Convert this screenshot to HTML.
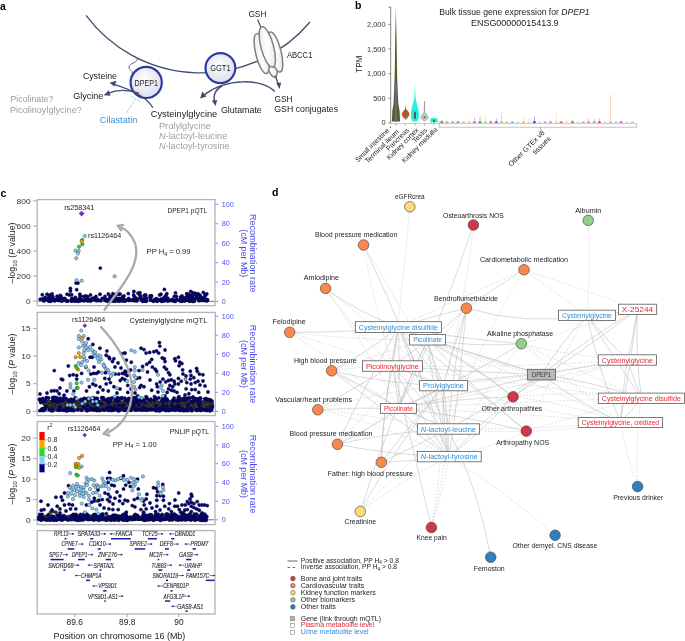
<!DOCTYPE html>
<html><head><meta charset="utf-8"><style>
html,body{margin:0;padding:0;background:#fff;}
svg{display:block;font-family:"Liberation Sans",sans-serif;}
#w{will-change:transform;background:transparent;width:685px;height:641px;}
</style></head><body>
<div id="w"><svg width="685" height="641" viewBox="0 0 685 641">
<defs>
<radialGradient id="gcirc" cx="0.45" cy="0.4" r="0.6"><stop offset="0" stop-color="#ffffff"/><stop offset="1" stop-color="#dcdeec"/></radialGradient>
<linearGradient id="gell" x1="0" y1="0" x2="1" y2="1"><stop offset="0" stop-color="#e4e6ef"/><stop offset="0.5" stop-color="#ffffff"/><stop offset="1" stop-color="#dfe1ea"/></linearGradient>
<linearGradient id="gcyan" x1="0" y1="0" x2="0" y2="1"><stop offset="0" stop-color="#d8fffb"/><stop offset="0.3" stop-color="#5ff8ea"/><stop offset="0.55" stop-color="#25f2df"/><stop offset="1" stop-color="#22f0dc"/></linearGradient>
</defs>
<rect width="685" height="641" fill="#fff"/>
<text x="0" y="9.6" font-size="10.5" font-weight="bold" fill="#000">a</text>
<path d="M86,15.4 A143,143 0 0 0 310,22" fill="none" stroke="#3d4f6e" stroke-width="1.3"/>
<path d="M137.3,58.6 C137.6,63.5 129.5,62.5 129,67 C128.6,70.5 132.8,70 132.3,73.5" fill="none" stroke="#333" stroke-width="0.7"/>
<circle cx="146.2" cy="82.4" r="15.6" fill="url(#gcirc)" stroke="#2a3b9c" stroke-width="2.15"/>
<text x="146.2" y="85.9" font-size="9.2" fill="#222" text-anchor="middle" textLength="23.3" lengthAdjust="spacingAndGlyphs">DPEP1</text>
<circle cx="220.4" cy="68.1" r="14.9" fill="url(#gcirc)" stroke="#2a3b9c" stroke-width="2.15"/>
<text x="220.4" y="71.2" font-size="9.2" fill="#222" text-anchor="middle" textLength="20.5" lengthAdjust="spacingAndGlyphs">GGT1</text>
<path d="M257.6,19.6 L261.2,28" stroke="#3d4f6e" stroke-width="1.2"/>
<ellipse cx="270.0" cy="57.5" rx="5.6" ry="20.3" transform="rotate(-14 270.0 57.5)" fill="url(#gell)" stroke="#7f7f7f" stroke-width="1.5"/>
<ellipse cx="275.3" cy="52.0" rx="5.8" ry="20.6" transform="rotate(-14 275.3 52.0)" fill="url(#gell)" stroke="#7f7f7f" stroke-width="1.5"/>
<ellipse cx="261.6" cy="53.6" rx="5.8" ry="20.6" transform="rotate(-14 261.6 53.6)" fill="url(#gell)" stroke="#7f7f7f" stroke-width="1.5"/>
<ellipse cx="267.3" cy="47.0" rx="6.3" ry="20.9" transform="rotate(-15 267.3 47.0)" fill="url(#gell)" stroke="#7f7f7f" stroke-width="1.5"/>
<text x="286.9" y="57.9" font-size="9.0" fill="#222" textLength="25.5" lengthAdjust="spacingAndGlyphs">ABCC1</text>
<text x="248.4" y="17.1" font-size="9.0" fill="#222" textLength="18.0" lengthAdjust="spacingAndGlyphs">GSH</text>
<path d="M275.2,75.5 L278.6,85" fill="none" stroke="#3d4f6e" stroke-width="1.35"/>
<path d="M279.6,89 L276.2,83.2 L281.2,82.4 Z" fill="#3d4f6e"/>
<path d="M274.6,91.5 C263,78.5 226,77.5 204,95" fill="none" stroke="#3d4f6e" stroke-width="1.35"/>
<path d="M200.2,98.6 L202.2,91.6 L206.6,96.4 Z" fill="#3d4f6e"/>
<path d="M222.5,85.6 C215.5,89.5 212.8,95 214.6,101.5" fill="none" stroke="#3d4f6e" stroke-width="1.35"/>
<path d="M215.6,106 L211.8,100.6 L217.2,100 Z" fill="#3d4f6e"/>
<path d="M152.8,107.6 C147,98.5 137,91.5 114,84.3" fill="none" stroke="#3d4f6e" stroke-width="1.35"/>
<path d="M109.4,82.8 L116.4,80.8 L114.6,86.6 Z" fill="#3d4f6e"/>
<path d="M139,93.2 C128,89.6 116,89.8 108,93.3" fill="none" stroke="#3d4f6e" stroke-width="1.35"/>
<path d="M103.6,95.2 L108.8,90.2 L110.6,95.8 Z" fill="#3d4f6e"/>
<path d="M126.2,113.6 L135.6,98.6" stroke="#5aaee0" stroke-width="0.8" stroke-dasharray="1.2,1"/>
<path d="M131.4,96.2 L140.6,102.2" stroke="#5aaee0" stroke-width="0.8" stroke-dasharray="1.2,1"/>
<text x="82.9" y="79.3" font-size="9.3" fill="#1a1a1a" textLength="34.1" lengthAdjust="spacingAndGlyphs">Cysteine</text>
<text x="73.2" y="98.5" font-size="9.3" fill="#1a1a1a" textLength="30.2" lengthAdjust="spacingAndGlyphs">Glycine</text>
<text x="10.5" y="102.2" font-size="9.3" fill="#9c9c9c" textLength="42.9" lengthAdjust="spacingAndGlyphs">Picolinate?</text>
<text x="10.0" y="112.6" font-size="9.3" fill="#9c9c9c" textLength="71.8" lengthAdjust="spacingAndGlyphs">Picolinoylglycine?</text>
<text x="99.8" y="122.6" font-size="9.3" fill="#3f8fd2" textLength="37.6" lengthAdjust="spacingAndGlyphs">Cilastatin</text>
<text x="150.7" y="116.5" font-size="9.3" fill="#1a1a1a" textLength="66.6" lengthAdjust="spacingAndGlyphs">Cysteinylglycine</text>
<text x="220.9" y="113.3" font-size="9.3" fill="#1a1a1a" textLength="40.9" lengthAdjust="spacingAndGlyphs">Glutamate</text>
<text x="274.6" y="101.6" font-size="9.0" fill="#1a1a1a" textLength="18.0" lengthAdjust="spacingAndGlyphs">GSH</text>
<text x="274.3" y="111.9" font-size="9.0" fill="#1a1a1a" textLength="63.8" lengthAdjust="spacingAndGlyphs">GSH conjugates</text>
<text x="158.9" y="128.9" font-size="9.3" fill="#a0a0a0" textLength="52.1" lengthAdjust="spacingAndGlyphs">Prolylglycine</text>
<text x="158.9" y="139.4" font-size="9.3" fill="#a0a0a0" textLength="68.4" lengthAdjust="spacingAndGlyphs"><tspan font-style="italic">N</tspan>-lactoyl-leucine</text>
<text x="158.9" y="149.2" font-size="9.3" fill="#a0a0a0" textLength="70.8" lengthAdjust="spacingAndGlyphs"><tspan font-style="italic">N</tspan>-lactoyl-tyrosine</text>
<text x="355" y="9.2" font-size="10.5" font-weight="bold" fill="#000">b</text>
<text x="514.4" y="14.9" font-size="8.6" fill="#222" text-anchor="middle" textLength="150.4" lengthAdjust="spacingAndGlyphs">Bulk tissue gene expression for <tspan font-style="italic">DPEP1</tspan></text>
<text x="514.8" y="25.6" font-size="8.6" fill="#222" text-anchor="middle" textLength="87.6" lengthAdjust="spacingAndGlyphs">ENSG00000015413.9</text>
<path d="M390.7,7 L390.7,123.6" stroke="#555" stroke-width="0.7"/>
<path d="M388.4,122.8 L390.7,122.8" stroke="#555" stroke-width="0.7"/>
<text x="385.6" y="125.4" font-size="7.4" fill="#333" text-anchor="end">0</text>
<path d="M388.4,98.2 L390.7,98.2" stroke="#555" stroke-width="0.7"/>
<text x="385.6" y="100.8" font-size="7.4" fill="#333" text-anchor="end">500</text>
<path d="M388.4,73.6 L390.7,73.6" stroke="#555" stroke-width="0.7"/>
<text x="385.6" y="76.2" font-size="7.4" fill="#333" text-anchor="end">1,000</text>
<path d="M388.4,49.0 L390.7,49.0" stroke="#555" stroke-width="0.7"/>
<text x="385.6" y="51.6" font-size="7.4" fill="#333" text-anchor="end">1,500</text>
<path d="M388.4,24.4 L390.7,24.4" stroke="#555" stroke-width="0.7"/>
<text x="385.6" y="27.0" font-size="7.4" fill="#333" text-anchor="end">2,000</text>
<path d="M388.4,7.2 L390.7,7.2" stroke="#555" stroke-width="0.7"/>
<text transform="translate(362.2,64.2) rotate(-90)" font-size="8.2" fill="#222" text-anchor="middle">TPM</text>
<path d="M390.7,123.6 L637,123.6" stroke="#c8c8c8" stroke-width="1"/>
<path d="M439.2,121.2 L439.2,127.2 L636.4,127.2 L636.4,123.6" fill="none" stroke="#c4c4c4" stroke-width="1.1"/>
<path d="M395.9,123.6 L395.9,125.6" stroke="#777" stroke-width="0.6"/>
<path d="M405.4,123.6 L405.4,125.6" stroke="#777" stroke-width="0.6"/>
<path d="M414.9,123.6 L414.9,125.6" stroke="#777" stroke-width="0.6"/>
<path d="M424.5,123.6 L424.5,125.6" stroke="#777" stroke-width="0.6"/>
<path d="M434.0,123.6 L434.0,125.6" stroke="#777" stroke-width="0.6"/>
<path d="M540.4,127.2 L540.4,129.6" stroke="#777" stroke-width="0.6"/>
<path d="M395.9,7 L396.6,40 L397.0,70 L397.4,85 L398.3,104 L399.6,111 L400.1,121.6 L391.9,121.6 L392.3,111 L393.5,104 L394.4,85 L394.8,70 L395.2,40 Z" fill="#5b5a1f"/>
<rect x="394.7" y="82.4" width="2.5" height="39.1" fill="#5f6c7c"/>
<path d="M405.6,104.6 L406.1,109 C408,111 409.6,113 409.5,114.4 C409.2,116.3 406.5,118.6 405.6,119.8 C404.7,118.6 402,116.3 401.7,114.4 C401.6,113 403.2,111 405.1,109 Z" fill="#b45b1f"/>
<rect x="404.3" y="112.9" width="2.6" height="2.6" fill="#5d6b7a"/>
<path d="M414.9,78.7 L415.5,96 C416,103 418.2,107 418.8,112 C419.4,117 418.8,121.6 414.9,121.8 C411,121.6 410.4,117 411,112 C411.6,107 413.8,103 414.3,96 Z" fill="url(#gcyan)"/>
<rect x="414.0" y="111.7" width="1.9" height="7.1" fill="#555"/>
<path d="M424.5,101 L424.8,112 C426,114 428.2,116 428.2,117.4 C428.2,118.8 425.6,120.4 424.5,120.9 C423.4,120.4 420.8,118.8 420.8,117.4 C420.8,116 423,114 424.2,112 Z" fill="#c8c8c8" stroke="#8a8a8a" stroke-width="0.6"/>
<rect x="423.6" y="116.4" width="1.9" height="1.8" fill="#555"/>
<path d="M430.4,122.4 C429.8,120 430.6,118 432,118 L436,118 C437.4,118 438.2,120 437.6,122.4 Z" fill="#2ff3c6"/>
<rect x="433.2" y="119.6" width="1.7" height="2.6" fill="#555"/>
<path d="M441.8,120.0 L441.8,122.6" stroke="#556b2f" stroke-width="0.55" opacity="0.75"/>
<ellipse cx="441.8" cy="122.2" rx="1.7" ry="0.9" fill="#556b2f" opacity="0.8"/>
<ellipse cx="446.9" cy="122.2" rx="1.7" ry="0.9" fill="#c08a8a" opacity="0.8"/>
<ellipse cx="452.7" cy="122.2" rx="1.7" ry="0.9" fill="#b07ac0" opacity="0.8"/>
<path d="M458.0,120.8 L458.0,122.6" stroke="#3cb33c" stroke-width="0.55" opacity="0.75"/>
<ellipse cx="458.0" cy="122.2" rx="1.7" ry="0.9" fill="#3cb33c" opacity="0.8"/>
<ellipse cx="463.6" cy="122.2" rx="1.7" ry="0.9" fill="#f4a0b0" opacity="0.8"/>
<path d="M469.1,119.3 L469.1,122.6" stroke="#f0d060" stroke-width="0.55" opacity="0.75"/>
<ellipse cx="469.1" cy="122.2" rx="1.7" ry="0.9" fill="#f0d060" opacity="0.8"/>
<path d="M474.4,117.0 L474.4,122.6" stroke="#9b59c9" stroke-width="0.55" opacity="0.75"/>
<ellipse cx="474.4" cy="122.2" rx="1.7" ry="0.9" fill="#9b59c9" opacity="0.8"/>
<path d="M480.0,116.7 L480.0,122.6" stroke="#2e7d32" stroke-width="0.55" opacity="0.75"/>
<ellipse cx="480.0" cy="122.2" rx="1.7" ry="0.9" fill="#2e7d32" opacity="0.8"/>
<path d="M485.3,117.0 L485.3,122.6" stroke="#8be04a" stroke-width="0.55" opacity="0.75"/>
<ellipse cx="485.3" cy="122.2" rx="1.7" ry="0.9" fill="#8be04a" opacity="0.8"/>
<path d="M490.7,120.0 L490.7,122.6" stroke="#f0508a" stroke-width="0.55" opacity="0.75"/>
<ellipse cx="490.7" cy="122.2" rx="1.7" ry="0.9" fill="#f0508a" opacity="0.8"/>
<path d="M496.3,118.5 L496.3,122.6" stroke="#3a3ae0" stroke-width="0.55" opacity="0.75"/>
<ellipse cx="496.3" cy="122.2" rx="1.7" ry="0.9" fill="#3a3ae0" opacity="0.8"/>
<path d="M501.6,112.0 L501.6,122.6" stroke="#d9a066" stroke-width="0.55" opacity="0.75"/>
<ellipse cx="501.6" cy="122.2" rx="1.7" ry="0.9" fill="#d9a066" opacity="0.8"/>
<ellipse cx="507.0" cy="122.2" rx="1.7" ry="0.9" fill="#90d890" opacity="0.8"/>
<ellipse cx="512.4" cy="122.2" rx="1.7" ry="0.9" fill="#40c0c0" opacity="0.8"/>
<path d="M518.0,120.8 L518.0,122.6" stroke="#a0e8f0" stroke-width="0.55" opacity="0.75"/>
<ellipse cx="518.0" cy="122.2" rx="1.7" ry="0.9" fill="#a0e8f0" opacity="0.8"/>
<path d="M523.3,117.8 L523.3,122.6" stroke="#e8c020" stroke-width="0.55" opacity="0.75"/>
<ellipse cx="523.3" cy="122.2" rx="1.7" ry="0.9" fill="#e8c020" opacity="0.8"/>
<path d="M528.9,117.8 L528.9,122.6" stroke="#b0f0a0" stroke-width="0.55" opacity="0.75"/>
<ellipse cx="528.9" cy="122.2" rx="1.7" ry="0.9" fill="#b0f0a0" opacity="0.8"/>
<path d="M534.4,116.7 L534.4,122.6" stroke="#1010e0" stroke-width="0.55" opacity="0.75"/>
<ellipse cx="534.4" cy="122.2" rx="1.7" ry="0.9" fill="#1010e0" opacity="0.8"/>
<ellipse cx="545.1" cy="122.2" rx="1.7" ry="0.9" fill="#c080f0" opacity="0.8"/>
<path d="M550.5,120.9 L550.5,122.6" stroke="#f08030" stroke-width="0.55" opacity="0.75"/>
<ellipse cx="550.5" cy="122.2" rx="1.7" ry="0.9" fill="#f08030" opacity="0.8"/>
<path d="M556.4,111.8 L556.4,122.6" stroke="#f8c0a8" stroke-width="0.55" opacity="0.75"/>
<ellipse cx="556.4" cy="122.2" rx="1.7" ry="0.9" fill="#f8c0a8" opacity="0.8"/>
<ellipse cx="561.2" cy="122.2" rx="1.7" ry="0.9" fill="#e04040" opacity="0.8"/>
<path d="M566.7,120.1 L566.7,122.6" stroke="#f0e0a0" stroke-width="0.55" opacity="0.75"/>
<ellipse cx="566.7" cy="122.2" rx="1.7" ry="0.9" fill="#f0e0a0" opacity="0.8"/>
<path d="M572.4,119.7 L572.4,122.6" stroke="#8b5a2b" stroke-width="0.55" opacity="0.75"/>
<ellipse cx="572.4" cy="122.2" rx="1.7" ry="0.9" fill="#8b5a2b" opacity="0.8"/>
<ellipse cx="578.0" cy="122.2" rx="1.7" ry="0.9" fill="#c8e0a8" opacity="0.8"/>
<ellipse cx="583.1" cy="122.2" rx="1.7" ry="0.9" fill="#c090e0" opacity="0.8"/>
<path d="M588.5,118.2 L588.5,122.6" stroke="#f07070" stroke-width="0.55" opacity="0.75"/>
<ellipse cx="588.5" cy="122.2" rx="1.7" ry="0.9" fill="#f07070" opacity="0.8"/>
<path d="M594.3,118.0 L594.3,122.6" stroke="#a09080" stroke-width="0.55" opacity="0.75"/>
<ellipse cx="594.3" cy="122.2" rx="1.7" ry="0.9" fill="#a09080" opacity="0.8"/>
<path d="M599.4,118.7 L599.4,122.6" stroke="#e03030" stroke-width="0.55" opacity="0.75"/>
<ellipse cx="599.4" cy="122.2" rx="1.7" ry="0.9" fill="#e03030" opacity="0.8"/>
<path d="M605.0,118.7 L605.0,122.6" stroke="#d8d8d8" stroke-width="0.55" opacity="0.75"/>
<ellipse cx="605.0" cy="122.2" rx="1.7" ry="0.9" fill="#d8d8d8" opacity="0.8"/>
<path d="M610.5,94.6 L610.5,122.6" stroke="#f0a060" stroke-width="0.55" opacity="0.75"/>
<ellipse cx="610.5" cy="122.2" rx="1.7" ry="0.9" fill="#f0a060" opacity="0.8"/>
<ellipse cx="615.9" cy="122.2" rx="1.7" ry="0.9" fill="#d0b0f0" opacity="0.8"/>
<path d="M621.0,120.6 L621.0,122.6" stroke="#e040c0" stroke-width="0.55" opacity="0.75"/>
<ellipse cx="621.0" cy="122.2" rx="1.7" ry="0.9" fill="#e040c0" opacity="0.8"/>
<ellipse cx="626.9" cy="122.2" rx="1.7" ry="0.9" fill="#e0d0f0" opacity="0.8"/>
<ellipse cx="632.3" cy="122.2" rx="1.7" ry="0.9" fill="#c8a8f0" opacity="0.8"/>
<ellipse cx="539.8" cy="122.2" rx="1.7" ry="0.9" fill="#d0d0d0" opacity="0.8"/>
<text transform="translate(392.6,127.8) rotate(-45)" font-size="6.9" fill="#222" text-anchor="end">Small intestine -</text>
<text transform="translate(399.2,132.2) rotate(-45)" font-size="6.9" fill="#222" text-anchor="end">Terminal ileum</text>
<text transform="translate(409.4,130.7) rotate(-45)" font-size="6.9" fill="#222" text-anchor="end">Pancreas</text>
<text transform="translate(418.9,130.7) rotate(-45)" font-size="6.9" fill="#222" text-anchor="end">Kidney cortex</text>
<text transform="translate(427.6,130.7) rotate(-45)" font-size="6.9" fill="#222" text-anchor="end">Testis</text>
<text transform="translate(437.9,130.0) rotate(-45)" font-size="6.9" fill="#222" text-anchor="end">Kidney medulla</text>
<text transform="translate(545.2,133.2) rotate(-45)" font-size="7.2" fill="#222" text-anchor="end">Other GTEx v8</text>
<text transform="translate(551.2,139.2) rotate(-45)" font-size="7.2" fill="#222" text-anchor="end">tissues</text>
<text x="0.6" y="196.9" font-size="10.5" font-weight="bold" fill="#000">c</text>
<rect x="37.2" y="199.6" width="177.8" height="106.00000000000003" fill="none" stroke="#b4b4b4" stroke-width="1.3"/>
<path d="M33,301.1 L37.0,301.1" stroke="#888" stroke-width="0.7"/>
<text x="30.6" y="303.7" font-size="7.4" fill="#333" text-anchor="end" textLength="4.7" lengthAdjust="spacingAndGlyphs">0</text>
<path d="M33,276.1 L37.0,276.1" stroke="#888" stroke-width="0.7"/>
<text x="30.6" y="278.7" font-size="7.4" fill="#333" text-anchor="end" textLength="14.1" lengthAdjust="spacingAndGlyphs">200</text>
<path d="M33,251.1 L37.0,251.1" stroke="#888" stroke-width="0.7"/>
<text x="30.6" y="253.7" font-size="7.4" fill="#333" text-anchor="end" textLength="14.1" lengthAdjust="spacingAndGlyphs">400</text>
<path d="M33,226.1 L37.0,226.1" stroke="#888" stroke-width="0.7"/>
<text x="30.6" y="228.7" font-size="7.4" fill="#333" text-anchor="end" textLength="14.1" lengthAdjust="spacingAndGlyphs">600</text>
<path d="M33,200.9 L37.0,200.9" stroke="#888" stroke-width="0.7"/>
<text x="30.6" y="203.5" font-size="7.4" fill="#333" text-anchor="end" textLength="14.1" lengthAdjust="spacingAndGlyphs">800</text>
<path d="M215.3,301.4 L218.10000000000002,301.4" stroke="#5b5bf0" stroke-width="0.7"/>
<text x="221.7" y="304.0" font-size="7.2" fill="#4f4ff2" textLength="4.0" lengthAdjust="spacingAndGlyphs">0</text>
<path d="M215.3,282.0 L218.10000000000002,282.0" stroke="#5b5bf0" stroke-width="0.7"/>
<text x="221.7" y="284.6" font-size="7.2" fill="#4f4ff2" textLength="8.1" lengthAdjust="spacingAndGlyphs">20</text>
<path d="M215.3,262.6 L218.10000000000002,262.6" stroke="#5b5bf0" stroke-width="0.7"/>
<text x="221.7" y="265.2" font-size="7.2" fill="#4f4ff2" textLength="8.1" lengthAdjust="spacingAndGlyphs">40</text>
<path d="M215.3,243.1 L218.10000000000002,243.1" stroke="#5b5bf0" stroke-width="0.7"/>
<text x="221.7" y="245.7" font-size="7.2" fill="#4f4ff2" textLength="8.1" lengthAdjust="spacingAndGlyphs">60</text>
<path d="M215.3,223.7 L218.10000000000002,223.7" stroke="#5b5bf0" stroke-width="0.7"/>
<text x="221.7" y="226.3" font-size="7.2" fill="#4f4ff2" textLength="8.1" lengthAdjust="spacingAndGlyphs">80</text>
<path d="M215.3,204.3 L218.10000000000002,204.3" stroke="#5b5bf0" stroke-width="0.7"/>
<text x="221.7" y="206.9" font-size="7.2" fill="#4f4ff2" textLength="12.1" lengthAdjust="spacingAndGlyphs">100</text>
<text transform="translate(14.6,253) rotate(-90)" font-size="8.8" fill="#222" text-anchor="middle">–log<tspan font-size="6" dy="2">10</tspan><tspan dy="-2"> (</tspan><tspan font-style="italic">P</tspan> value)</text>
<text transform="translate(250.3,253.3) rotate(90)" font-size="9.3" fill="#4848ee" text-anchor="middle" textLength="78.6" lengthAdjust="spacingAndGlyphs">Recombination rate</text>
<text transform="translate(240.8,253.3) rotate(90)" font-size="9.1" fill="#4848ee" text-anchor="middle" textLength="48" lengthAdjust="spacingAndGlyphs">(cM per Mb)</text>
<path d="M38,301.3 L58.8,301.3 L59.4,293.6 L60,301.3 L214,301.3" fill="none" stroke="#3030ff" stroke-width="0.8"/>
<circle cx="115.0" cy="297.4" r="1.68" fill="#00007e" stroke="#111" stroke-width="0.35"/>
<circle cx="117.2" cy="299.7" r="1.68" fill="#00007e" stroke="#111" stroke-width="0.35"/>
<circle cx="124.3" cy="300.2" r="1.68" fill="#00007e" stroke="#111" stroke-width="0.35"/>
<circle cx="125.0" cy="300.6" r="1.68" fill="#00007e" stroke="#111" stroke-width="0.35"/>
<circle cx="145.0" cy="301.0" r="1.68" fill="#00007e" stroke="#111" stroke-width="0.35"/>
<circle cx="89.8" cy="300.4" r="1.68" fill="#00007e" stroke="#111" stroke-width="0.35"/>
<circle cx="53.8" cy="300.2" r="1.68" fill="#00007e" stroke="#111" stroke-width="0.35"/>
<circle cx="45.6" cy="298.6" r="1.68" fill="#00007e" stroke="#111" stroke-width="0.35"/>
<circle cx="204.5" cy="298.6" r="1.68" fill="#00007e" stroke="#111" stroke-width="0.35"/>
<circle cx="142.5" cy="300.6" r="1.68" fill="#00007e" stroke="#111" stroke-width="0.35"/>
<circle cx="65.1" cy="299.0" r="1.68" fill="#00007e" stroke="#111" stroke-width="0.35"/>
<circle cx="48.6" cy="301.0" r="1.68" fill="#00007e" stroke="#111" stroke-width="0.35"/>
<circle cx="79.4" cy="299.2" r="1.68" fill="#00007e" stroke="#111" stroke-width="0.35"/>
<circle cx="112.9" cy="300.8" r="1.68" fill="#00007e" stroke="#111" stroke-width="0.35"/>
<circle cx="180.9" cy="298.6" r="1.68" fill="#00007e" stroke="#111" stroke-width="0.35"/>
<circle cx="123.0" cy="300.9" r="1.68" fill="#00007e" stroke="#111" stroke-width="0.35"/>
<circle cx="150.5" cy="299.8" r="1.68" fill="#00007e" stroke="#111" stroke-width="0.35"/>
<circle cx="207.1" cy="300.8" r="1.68" fill="#00007e" stroke="#111" stroke-width="0.35"/>
<circle cx="206.8" cy="299.7" r="1.68" fill="#00007e" stroke="#111" stroke-width="0.35"/>
<circle cx="91.8" cy="298.8" r="1.68" fill="#00007e" stroke="#111" stroke-width="0.35"/>
<circle cx="77.3" cy="301.0" r="1.68" fill="#00007e" stroke="#111" stroke-width="0.35"/>
<circle cx="168.0" cy="300.5" r="1.68" fill="#00007e" stroke="#111" stroke-width="0.35"/>
<circle cx="106.2" cy="300.2" r="1.68" fill="#00007e" stroke="#111" stroke-width="0.35"/>
<circle cx="200.4" cy="299.7" r="1.68" fill="#00007e" stroke="#111" stroke-width="0.35"/>
<circle cx="181.7" cy="300.0" r="1.68" fill="#00007e" stroke="#111" stroke-width="0.35"/>
<circle cx="192.3" cy="301.2" r="1.68" fill="#00007e" stroke="#111" stroke-width="0.35"/>
<circle cx="117.9" cy="299.4" r="1.68" fill="#00007e" stroke="#111" stroke-width="0.35"/>
<circle cx="50.8" cy="301.0" r="1.68" fill="#00007e" stroke="#111" stroke-width="0.35"/>
<circle cx="144.9" cy="300.9" r="1.68" fill="#00007e" stroke="#111" stroke-width="0.35"/>
<circle cx="53.2" cy="299.8" r="1.68" fill="#00007e" stroke="#111" stroke-width="0.35"/>
<circle cx="94.7" cy="298.2" r="1.68" fill="#00007e" stroke="#111" stroke-width="0.35"/>
<circle cx="58.4" cy="300.5" r="1.68" fill="#00007e" stroke="#111" stroke-width="0.35"/>
<circle cx="80.1" cy="300.7" r="1.68" fill="#00007e" stroke="#111" stroke-width="0.35"/>
<circle cx="173.2" cy="300.8" r="1.68" fill="#00007e" stroke="#111" stroke-width="0.35"/>
<circle cx="133.0" cy="300.1" r="1.68" fill="#00007e" stroke="#111" stroke-width="0.35"/>
<circle cx="162.2" cy="300.8" r="1.68" fill="#00007e" stroke="#111" stroke-width="0.35"/>
<circle cx="60.6" cy="300.6" r="1.68" fill="#00007e" stroke="#111" stroke-width="0.35"/>
<circle cx="109.6" cy="300.5" r="1.68" fill="#00007e" stroke="#111" stroke-width="0.35"/>
<circle cx="74.5" cy="300.6" r="1.68" fill="#00007e" stroke="#111" stroke-width="0.35"/>
<circle cx="174.3" cy="296.4" r="1.68" fill="#00007e" stroke="#111" stroke-width="0.35"/>
<circle cx="89.9" cy="300.3" r="1.68" fill="#00007e" stroke="#111" stroke-width="0.35"/>
<circle cx="105.1" cy="300.4" r="1.68" fill="#00007e" stroke="#111" stroke-width="0.35"/>
<circle cx="182.9" cy="300.7" r="1.68" fill="#00007e" stroke="#111" stroke-width="0.35"/>
<circle cx="205.7" cy="300.6" r="1.68" fill="#00007e" stroke="#111" stroke-width="0.35"/>
<circle cx="74.5" cy="301.0" r="1.68" fill="#00007e" stroke="#111" stroke-width="0.35"/>
<circle cx="94.1" cy="298.1" r="1.68" fill="#00007e" stroke="#111" stroke-width="0.35"/>
<circle cx="88.6" cy="300.5" r="1.68" fill="#00007e" stroke="#111" stroke-width="0.35"/>
<circle cx="137.0" cy="300.9" r="1.68" fill="#00007e" stroke="#111" stroke-width="0.35"/>
<circle cx="79.6" cy="299.8" r="1.68" fill="#00007e" stroke="#111" stroke-width="0.35"/>
<circle cx="115.1" cy="300.2" r="1.68" fill="#00007e" stroke="#111" stroke-width="0.35"/>
<circle cx="200.6" cy="298.9" r="1.68" fill="#00007e" stroke="#111" stroke-width="0.35"/>
<circle cx="184.9" cy="301.0" r="1.68" fill="#00007e" stroke="#111" stroke-width="0.35"/>
<circle cx="64.5" cy="298.4" r="1.68" fill="#00007e" stroke="#111" stroke-width="0.35"/>
<circle cx="80.7" cy="299.4" r="1.68" fill="#00007e" stroke="#111" stroke-width="0.35"/>
<circle cx="163.5" cy="300.1" r="1.68" fill="#00007e" stroke="#111" stroke-width="0.35"/>
<circle cx="199.1" cy="300.8" r="1.68" fill="#00007e" stroke="#111" stroke-width="0.35"/>
<circle cx="187.6" cy="299.7" r="1.68" fill="#00007e" stroke="#111" stroke-width="0.35"/>
<circle cx="56.0" cy="300.1" r="1.68" fill="#00007e" stroke="#111" stroke-width="0.35"/>
<circle cx="45.0" cy="299.9" r="1.68" fill="#00007e" stroke="#111" stroke-width="0.35"/>
<circle cx="157.6" cy="300.9" r="1.68" fill="#00007e" stroke="#111" stroke-width="0.35"/>
<circle cx="81.9" cy="300.1" r="1.68" fill="#00007e" stroke="#111" stroke-width="0.35"/>
<circle cx="88.1" cy="299.0" r="1.68" fill="#00007e" stroke="#111" stroke-width="0.35"/>
<circle cx="68.1" cy="301.1" r="1.68" fill="#00007e" stroke="#111" stroke-width="0.35"/>
<circle cx="77.1" cy="300.5" r="1.68" fill="#00007e" stroke="#111" stroke-width="0.35"/>
<circle cx="133.0" cy="299.7" r="1.68" fill="#00007e" stroke="#111" stroke-width="0.35"/>
<circle cx="85.9" cy="299.2" r="1.68" fill="#00007e" stroke="#111" stroke-width="0.35"/>
<circle cx="193.5" cy="301.1" r="1.68" fill="#00007e" stroke="#111" stroke-width="0.35"/>
<circle cx="84.0" cy="300.9" r="1.68" fill="#00007e" stroke="#111" stroke-width="0.35"/>
<circle cx="113.8" cy="300.2" r="1.68" fill="#00007e" stroke="#111" stroke-width="0.35"/>
<circle cx="100.8" cy="300.8" r="1.68" fill="#00007e" stroke="#111" stroke-width="0.35"/>
<circle cx="135.2" cy="300.0" r="1.68" fill="#00007e" stroke="#111" stroke-width="0.35"/>
<circle cx="189.1" cy="299.9" r="1.68" fill="#00007e" stroke="#111" stroke-width="0.35"/>
<circle cx="204.2" cy="299.7" r="1.68" fill="#00007e" stroke="#111" stroke-width="0.35"/>
<circle cx="137.3" cy="298.9" r="1.68" fill="#00007e" stroke="#111" stroke-width="0.35"/>
<circle cx="62.2" cy="300.9" r="1.68" fill="#00007e" stroke="#111" stroke-width="0.35"/>
<circle cx="192.3" cy="301.1" r="1.68" fill="#00007e" stroke="#111" stroke-width="0.35"/>
<circle cx="157.0" cy="300.8" r="1.68" fill="#00007e" stroke="#111" stroke-width="0.35"/>
<circle cx="146.0" cy="301.1" r="1.68" fill="#00007e" stroke="#111" stroke-width="0.35"/>
<circle cx="120.0" cy="301.0" r="1.68" fill="#00007e" stroke="#111" stroke-width="0.35"/>
<circle cx="207.4" cy="299.6" r="1.68" fill="#00007e" stroke="#111" stroke-width="0.35"/>
<circle cx="51.2" cy="298.4" r="1.68" fill="#00007e" stroke="#111" stroke-width="0.35"/>
<circle cx="190.6" cy="300.4" r="1.68" fill="#00007e" stroke="#111" stroke-width="0.35"/>
<circle cx="163.1" cy="300.3" r="1.68" fill="#00007e" stroke="#111" stroke-width="0.35"/>
<circle cx="193.1" cy="298.1" r="1.68" fill="#00007e" stroke="#111" stroke-width="0.35"/>
<circle cx="98.0" cy="299.7" r="1.68" fill="#00007e" stroke="#111" stroke-width="0.35"/>
<circle cx="185.7" cy="297.6" r="1.68" fill="#00007e" stroke="#111" stroke-width="0.35"/>
<circle cx="109.0" cy="300.3" r="1.68" fill="#00007e" stroke="#111" stroke-width="0.35"/>
<circle cx="135.3" cy="297.7" r="1.68" fill="#00007e" stroke="#111" stroke-width="0.35"/>
<circle cx="144.1" cy="299.4" r="1.68" fill="#00007e" stroke="#111" stroke-width="0.35"/>
<circle cx="141.4" cy="299.6" r="1.68" fill="#00007e" stroke="#111" stroke-width="0.35"/>
<circle cx="52.1" cy="297.6" r="1.68" fill="#00007e" stroke="#111" stroke-width="0.35"/>
<circle cx="187.2" cy="296.8" r="1.68" fill="#00007e" stroke="#111" stroke-width="0.35"/>
<circle cx="161.6" cy="299.0" r="1.68" fill="#00007e" stroke="#111" stroke-width="0.35"/>
<circle cx="136.7" cy="299.3" r="1.68" fill="#00007e" stroke="#111" stroke-width="0.35"/>
<circle cx="112.9" cy="300.8" r="1.68" fill="#00007e" stroke="#111" stroke-width="0.35"/>
<circle cx="165.3" cy="300.6" r="1.68" fill="#00007e" stroke="#111" stroke-width="0.35"/>
<circle cx="43.5" cy="299.5" r="1.68" fill="#00007e" stroke="#111" stroke-width="0.35"/>
<circle cx="77.4" cy="300.0" r="1.68" fill="#00007e" stroke="#111" stroke-width="0.35"/>
<circle cx="156.5" cy="298.7" r="1.68" fill="#00007e" stroke="#111" stroke-width="0.35"/>
<circle cx="194.1" cy="301.2" r="1.68" fill="#00007e" stroke="#111" stroke-width="0.35"/>
<circle cx="81.7" cy="299.7" r="1.68" fill="#00007e" stroke="#111" stroke-width="0.35"/>
<circle cx="153.1" cy="301.1" r="1.68" fill="#00007e" stroke="#111" stroke-width="0.35"/>
<circle cx="72.7" cy="299.3" r="1.68" fill="#00007e" stroke="#111" stroke-width="0.35"/>
<circle cx="150.0" cy="297.8" r="1.68" fill="#00007e" stroke="#111" stroke-width="0.35"/>
<circle cx="113.2" cy="300.0" r="1.68" fill="#00007e" stroke="#111" stroke-width="0.35"/>
<circle cx="151.0" cy="300.2" r="1.68" fill="#00007e" stroke="#111" stroke-width="0.35"/>
<circle cx="72.0" cy="298.2" r="1.68" fill="#00007e" stroke="#111" stroke-width="0.35"/>
<circle cx="193.0" cy="299.8" r="1.68" fill="#00007e" stroke="#111" stroke-width="0.35"/>
<circle cx="187.3" cy="299.4" r="1.68" fill="#00007e" stroke="#111" stroke-width="0.35"/>
<circle cx="92.0" cy="299.6" r="1.68" fill="#00007e" stroke="#111" stroke-width="0.35"/>
<circle cx="61.5" cy="297.8" r="1.68" fill="#00007e" stroke="#111" stroke-width="0.35"/>
<circle cx="181.9" cy="301.1" r="1.68" fill="#00007e" stroke="#111" stroke-width="0.35"/>
<circle cx="158.7" cy="299.8" r="1.68" fill="#00007e" stroke="#111" stroke-width="0.35"/>
<circle cx="67.1" cy="300.8" r="1.68" fill="#00007e" stroke="#111" stroke-width="0.35"/>
<circle cx="114.7" cy="301.0" r="1.68" fill="#00007e" stroke="#111" stroke-width="0.35"/>
<circle cx="108.5" cy="300.0" r="1.68" fill="#00007e" stroke="#111" stroke-width="0.35"/>
<circle cx="144.2" cy="299.6" r="1.68" fill="#00007e" stroke="#111" stroke-width="0.35"/>
<circle cx="180.3" cy="301.1" r="1.68" fill="#00007e" stroke="#111" stroke-width="0.35"/>
<circle cx="204.5" cy="300.5" r="1.68" fill="#00007e" stroke="#111" stroke-width="0.35"/>
<circle cx="43.8" cy="301.0" r="1.68" fill="#00007e" stroke="#111" stroke-width="0.35"/>
<circle cx="186.0" cy="298.5" r="1.68" fill="#00007e" stroke="#111" stroke-width="0.35"/>
<circle cx="134.9" cy="300.5" r="1.68" fill="#00007e" stroke="#111" stroke-width="0.35"/>
<circle cx="90.7" cy="301.1" r="1.68" fill="#00007e" stroke="#111" stroke-width="0.35"/>
<circle cx="61.5" cy="300.9" r="1.68" fill="#00007e" stroke="#111" stroke-width="0.35"/>
<circle cx="115.4" cy="297.9" r="1.68" fill="#00007e" stroke="#111" stroke-width="0.35"/>
<circle cx="78.6" cy="300.7" r="1.68" fill="#00007e" stroke="#111" stroke-width="0.35"/>
<circle cx="62.3" cy="298.8" r="1.68" fill="#00007e" stroke="#111" stroke-width="0.35"/>
<circle cx="114.0" cy="300.5" r="1.68" fill="#00007e" stroke="#111" stroke-width="0.35"/>
<circle cx="145.0" cy="299.4" r="1.68" fill="#00007e" stroke="#111" stroke-width="0.35"/>
<circle cx="200.5" cy="298.5" r="1.68" fill="#00007e" stroke="#111" stroke-width="0.35"/>
<circle cx="154.2" cy="300.6" r="1.68" fill="#00007e" stroke="#111" stroke-width="0.35"/>
<circle cx="40.3" cy="299.3" r="1.68" fill="#00007e" stroke="#111" stroke-width="0.35"/>
<circle cx="118.3" cy="300.9" r="1.68" fill="#00007e" stroke="#111" stroke-width="0.35"/>
<circle cx="84.5" cy="300.1" r="1.68" fill="#00007e" stroke="#111" stroke-width="0.35"/>
<circle cx="96.9" cy="300.5" r="1.68" fill="#00007e" stroke="#111" stroke-width="0.35"/>
<circle cx="142.3" cy="299.1" r="1.68" fill="#00007e" stroke="#111" stroke-width="0.35"/>
<circle cx="166.3" cy="298.7" r="1.68" fill="#00007e" stroke="#111" stroke-width="0.35"/>
<circle cx="191.7" cy="299.2" r="1.68" fill="#00007e" stroke="#111" stroke-width="0.35"/>
<circle cx="53.2" cy="298.6" r="1.68" fill="#00007e" stroke="#111" stroke-width="0.35"/>
<circle cx="60.5" cy="300.0" r="1.68" fill="#00007e" stroke="#111" stroke-width="0.35"/>
<circle cx="115.1" cy="298.4" r="1.68" fill="#00007e" stroke="#111" stroke-width="0.35"/>
<circle cx="102.2" cy="298.4" r="1.68" fill="#00007e" stroke="#111" stroke-width="0.35"/>
<circle cx="134.6" cy="298.9" r="1.68" fill="#00007e" stroke="#111" stroke-width="0.35"/>
<circle cx="198.1" cy="299.0" r="1.68" fill="#00007e" stroke="#111" stroke-width="0.35"/>
<circle cx="116.9" cy="300.5" r="1.68" fill="#00007e" stroke="#111" stroke-width="0.35"/>
<circle cx="160.5" cy="300.2" r="1.68" fill="#00007e" stroke="#111" stroke-width="0.35"/>
<circle cx="176.8" cy="299.4" r="1.68" fill="#00007e" stroke="#111" stroke-width="0.35"/>
<circle cx="74.5" cy="299.0" r="1.68" fill="#00007e" stroke="#111" stroke-width="0.35"/>
<circle cx="190.6" cy="296.3" r="1.68" fill="#00007e" stroke="#111" stroke-width="0.35"/>
<circle cx="129.2" cy="300.6" r="1.68" fill="#00007e" stroke="#111" stroke-width="0.35"/>
<circle cx="172.1" cy="299.5" r="1.68" fill="#00007e" stroke="#111" stroke-width="0.35"/>
<circle cx="183.1" cy="297.6" r="1.68" fill="#00007e" stroke="#111" stroke-width="0.35"/>
<circle cx="97.4" cy="299.5" r="1.68" fill="#00007e" stroke="#111" stroke-width="0.35"/>
<circle cx="131.5" cy="300.2" r="1.68" fill="#00007e" stroke="#111" stroke-width="0.35"/>
<circle cx="168.3" cy="300.8" r="1.68" fill="#00007e" stroke="#111" stroke-width="0.35"/>
<circle cx="175.2" cy="301.2" r="1.68" fill="#00007e" stroke="#111" stroke-width="0.35"/>
<circle cx="49.3" cy="300.9" r="1.68" fill="#00007e" stroke="#111" stroke-width="0.35"/>
<circle cx="95.1" cy="300.1" r="1.68" fill="#00007e" stroke="#111" stroke-width="0.35"/>
<circle cx="171.7" cy="300.6" r="1.68" fill="#00007e" stroke="#111" stroke-width="0.35"/>
<circle cx="125.8" cy="300.4" r="1.68" fill="#00007e" stroke="#111" stroke-width="0.35"/>
<circle cx="160.8" cy="299.7" r="1.68" fill="#00007e" stroke="#111" stroke-width="0.35"/>
<circle cx="198.3" cy="298.9" r="1.68" fill="#00007e" stroke="#111" stroke-width="0.35"/>
<circle cx="121.7" cy="300.5" r="1.68" fill="#00007e" stroke="#111" stroke-width="0.35"/>
<circle cx="75.9" cy="301.0" r="1.68" fill="#00007e" stroke="#111" stroke-width="0.35"/>
<circle cx="87.5" cy="300.9" r="1.68" fill="#00007e" stroke="#111" stroke-width="0.35"/>
<circle cx="181.1" cy="298.7" r="1.68" fill="#00007e" stroke="#111" stroke-width="0.35"/>
<circle cx="133.1" cy="300.5" r="1.68" fill="#00007e" stroke="#111" stroke-width="0.35"/>
<circle cx="181.3" cy="299.6" r="1.68" fill="#00007e" stroke="#111" stroke-width="0.35"/>
<circle cx="190.7" cy="300.3" r="1.68" fill="#00007e" stroke="#111" stroke-width="0.35"/>
<circle cx="202.2" cy="297.8" r="1.68" fill="#00007e" stroke="#111" stroke-width="0.35"/>
<circle cx="135.3" cy="300.5" r="1.68" fill="#00007e" stroke="#111" stroke-width="0.35"/>
<circle cx="123.5" cy="299.1" r="1.68" fill="#00007e" stroke="#111" stroke-width="0.35"/>
<circle cx="140.8" cy="296.5" r="1.68" fill="#00007e" stroke="#111" stroke-width="0.35"/>
<circle cx="125.7" cy="300.4" r="1.68" fill="#00007e" stroke="#111" stroke-width="0.35"/>
<circle cx="106.2" cy="300.5" r="1.68" fill="#00007e" stroke="#111" stroke-width="0.35"/>
<circle cx="121.5" cy="299.0" r="1.68" fill="#00007e" stroke="#111" stroke-width="0.35"/>
<circle cx="155.3" cy="299.2" r="1.68" fill="#00007e" stroke="#111" stroke-width="0.35"/>
<circle cx="108.4" cy="300.3" r="1.68" fill="#00007e" stroke="#111" stroke-width="0.35"/>
<circle cx="200.2" cy="299.9" r="1.68" fill="#00007e" stroke="#111" stroke-width="0.35"/>
<circle cx="118.5" cy="300.5" r="1.68" fill="#00007e" stroke="#111" stroke-width="0.35"/>
<circle cx="60.0" cy="298.2" r="1.68" fill="#00007e" stroke="#111" stroke-width="0.35"/>
<circle cx="190.7" cy="299.9" r="1.68" fill="#00007e" stroke="#111" stroke-width="0.35"/>
<circle cx="119.0" cy="300.7" r="1.68" fill="#00007e" stroke="#111" stroke-width="0.35"/>
<circle cx="142.9" cy="300.1" r="1.68" fill="#00007e" stroke="#111" stroke-width="0.35"/>
<circle cx="194.9" cy="299.1" r="1.68" fill="#00007e" stroke="#111" stroke-width="0.35"/>
<circle cx="42.4" cy="298.9" r="1.68" fill="#00007e" stroke="#111" stroke-width="0.35"/>
<circle cx="71.3" cy="300.8" r="1.68" fill="#00007e" stroke="#111" stroke-width="0.35"/>
<circle cx="92.9" cy="298.5" r="1.68" fill="#00007e" stroke="#111" stroke-width="0.35"/>
<circle cx="98.6" cy="300.6" r="1.68" fill="#00007e" stroke="#111" stroke-width="0.35"/>
<circle cx="162.0" cy="300.6" r="1.68" fill="#00007e" stroke="#111" stroke-width="0.35"/>
<circle cx="59.3" cy="299.8" r="1.68" fill="#00007e" stroke="#111" stroke-width="0.35"/>
<circle cx="71.9" cy="301.1" r="1.68" fill="#00007e" stroke="#111" stroke-width="0.35"/>
<circle cx="128.1" cy="299.6" r="1.68" fill="#00007e" stroke="#111" stroke-width="0.35"/>
<circle cx="108.4" cy="300.5" r="1.68" fill="#00007e" stroke="#111" stroke-width="0.35"/>
<circle cx="65.5" cy="300.5" r="1.68" fill="#00007e" stroke="#111" stroke-width="0.35"/>
<circle cx="146.4" cy="298.8" r="1.68" fill="#00007e" stroke="#111" stroke-width="0.35"/>
<circle cx="128.0" cy="299.7" r="1.68" fill="#00007e" stroke="#111" stroke-width="0.35"/>
<circle cx="183.3" cy="299.2" r="1.68" fill="#00007e" stroke="#111" stroke-width="0.35"/>
<circle cx="77.8" cy="301.0" r="1.68" fill="#00007e" stroke="#111" stroke-width="0.35"/>
<circle cx="191.1" cy="297.9" r="1.68" fill="#00007e" stroke="#111" stroke-width="0.35"/>
<circle cx="91.9" cy="299.6" r="1.68" fill="#00007e" stroke="#111" stroke-width="0.35"/>
<circle cx="75.4" cy="297.5" r="1.68" fill="#00007e" stroke="#111" stroke-width="0.35"/>
<circle cx="207.2" cy="300.5" r="1.68" fill="#00007e" stroke="#111" stroke-width="0.35"/>
<circle cx="78.9" cy="300.6" r="1.68" fill="#00007e" stroke="#111" stroke-width="0.35"/>
<circle cx="161.3" cy="301.2" r="1.68" fill="#00007e" stroke="#111" stroke-width="0.35"/>
<circle cx="179.1" cy="300.4" r="1.68" fill="#00007e" stroke="#111" stroke-width="0.35"/>
<circle cx="109.8" cy="301.0" r="1.68" fill="#00007e" stroke="#111" stroke-width="0.35"/>
<circle cx="106.6" cy="300.3" r="1.68" fill="#00007e" stroke="#111" stroke-width="0.35"/>
<circle cx="154.3" cy="300.0" r="1.68" fill="#00007e" stroke="#111" stroke-width="0.35"/>
<circle cx="153.8" cy="301.1" r="1.68" fill="#00007e" stroke="#111" stroke-width="0.35"/>
<circle cx="192.5" cy="300.3" r="1.68" fill="#00007e" stroke="#111" stroke-width="0.35"/>
<circle cx="124.0" cy="301.0" r="1.68" fill="#00007e" stroke="#111" stroke-width="0.35"/>
<circle cx="166.6" cy="298.5" r="1.68" fill="#00007e" stroke="#111" stroke-width="0.35"/>
<circle cx="50.4" cy="301.2" r="1.68" fill="#00007e" stroke="#111" stroke-width="0.35"/>
<circle cx="56.4" cy="299.0" r="1.68" fill="#00007e" stroke="#111" stroke-width="0.35"/>
<circle cx="125.5" cy="300.7" r="1.68" fill="#00007e" stroke="#111" stroke-width="0.35"/>
<circle cx="134.6" cy="300.5" r="1.68" fill="#00007e" stroke="#111" stroke-width="0.35"/>
<circle cx="73.0" cy="300.3" r="1.68" fill="#00007e" stroke="#111" stroke-width="0.35"/>
<circle cx="180.5" cy="297.1" r="1.68" fill="#00007e" stroke="#111" stroke-width="0.35"/>
<circle cx="54.6" cy="300.9" r="1.68" fill="#00007e" stroke="#111" stroke-width="0.35"/>
<circle cx="49.0" cy="299.3" r="1.68" fill="#00007e" stroke="#111" stroke-width="0.35"/>
<circle cx="167.7" cy="300.6" r="1.68" fill="#00007e" stroke="#111" stroke-width="0.35"/>
<circle cx="93.7" cy="299.1" r="1.68" fill="#00007e" stroke="#111" stroke-width="0.35"/>
<circle cx="111.2" cy="300.8" r="1.68" fill="#00007e" stroke="#111" stroke-width="0.35"/>
<circle cx="140.1" cy="298.4" r="1.68" fill="#00007e" stroke="#111" stroke-width="0.35"/>
<circle cx="181.2" cy="301.0" r="1.68" fill="#00007e" stroke="#111" stroke-width="0.35"/>
<circle cx="115.2" cy="301.1" r="1.68" fill="#00007e" stroke="#111" stroke-width="0.35"/>
<circle cx="71.5" cy="299.4" r="1.68" fill="#00007e" stroke="#111" stroke-width="0.35"/>
<circle cx="66.4" cy="300.9" r="1.68" fill="#00007e" stroke="#111" stroke-width="0.35"/>
<circle cx="189.4" cy="301.2" r="1.68" fill="#00007e" stroke="#111" stroke-width="0.35"/>
<circle cx="174.0" cy="300.2" r="1.68" fill="#00007e" stroke="#111" stroke-width="0.35"/>
<circle cx="144.9" cy="297.8" r="1.68" fill="#00007e" stroke="#111" stroke-width="0.35"/>
<circle cx="106.9" cy="299.5" r="1.68" fill="#00007e" stroke="#111" stroke-width="0.35"/>
<circle cx="204.6" cy="300.0" r="1.68" fill="#00007e" stroke="#111" stroke-width="0.35"/>
<circle cx="174.5" cy="301.0" r="1.68" fill="#00007e" stroke="#111" stroke-width="0.35"/>
<circle cx="164.3" cy="297.2" r="1.68" fill="#00007e" stroke="#111" stroke-width="0.35"/>
<circle cx="170.0" cy="300.5" r="1.68" fill="#00007e" stroke="#111" stroke-width="0.35"/>
<circle cx="190.0" cy="299.5" r="1.68" fill="#00007e" stroke="#111" stroke-width="0.35"/>
<circle cx="187.2" cy="300.2" r="1.68" fill="#00007e" stroke="#111" stroke-width="0.35"/>
<circle cx="167.8" cy="298.3" r="1.68" fill="#00007e" stroke="#111" stroke-width="0.35"/>
<circle cx="107.1" cy="301.1" r="1.68" fill="#00007e" stroke="#111" stroke-width="0.35"/>
<circle cx="96.3" cy="300.5" r="1.68" fill="#00007e" stroke="#111" stroke-width="0.35"/>
<circle cx="117.7" cy="299.5" r="1.68" fill="#00007e" stroke="#111" stroke-width="0.35"/>
<circle cx="146.4" cy="301.1" r="1.68" fill="#00007e" stroke="#111" stroke-width="0.35"/>
<circle cx="144.0" cy="300.7" r="1.68" fill="#00007e" stroke="#111" stroke-width="0.35"/>
<circle cx="151.1" cy="296.9" r="1.68" fill="#00007e" stroke="#111" stroke-width="0.35"/>
<circle cx="95.6" cy="299.9" r="1.68" fill="#00007e" stroke="#111" stroke-width="0.35"/>
<circle cx="128.6" cy="299.2" r="1.68" fill="#00007e" stroke="#111" stroke-width="0.35"/>
<circle cx="104.3" cy="298.6" r="1.68" fill="#00007e" stroke="#111" stroke-width="0.35"/>
<circle cx="157.0" cy="301.2" r="1.68" fill="#00007e" stroke="#111" stroke-width="0.35"/>
<circle cx="167.2" cy="300.8" r="1.68" fill="#00007e" stroke="#111" stroke-width="0.35"/>
<circle cx="142.5" cy="301.2" r="1.68" fill="#00007e" stroke="#111" stroke-width="0.35"/>
<circle cx="163.4" cy="301.1" r="1.68" fill="#00007e" stroke="#111" stroke-width="0.35"/>
<circle cx="47.0" cy="299.4" r="1.68" fill="#00007e" stroke="#111" stroke-width="0.35"/>
<circle cx="71.5" cy="300.6" r="1.68" fill="#00007e" stroke="#111" stroke-width="0.35"/>
<circle cx="80.9" cy="300.6" r="1.68" fill="#00007e" stroke="#111" stroke-width="0.35"/>
<circle cx="191.6" cy="299.2" r="1.68" fill="#00007e" stroke="#111" stroke-width="0.35"/>
<circle cx="201.9" cy="300.5" r="1.68" fill="#00007e" stroke="#111" stroke-width="0.35"/>
<circle cx="134.5" cy="298.6" r="1.68" fill="#00007e" stroke="#111" stroke-width="0.35"/>
<circle cx="175.3" cy="301.1" r="1.68" fill="#00007e" stroke="#111" stroke-width="0.35"/>
<circle cx="52.7" cy="296.5" r="1.68" fill="#00007e" stroke="#111" stroke-width="0.35"/>
<circle cx="166.8" cy="293.7" r="1.68" fill="#00007e" stroke="#111" stroke-width="0.35"/>
<circle cx="195.3" cy="294.3" r="1.68" fill="#00007e" stroke="#111" stroke-width="0.35"/>
<circle cx="118.8" cy="294.3" r="1.68" fill="#00007e" stroke="#111" stroke-width="0.35"/>
<circle cx="122.8" cy="296.6" r="1.68" fill="#00007e" stroke="#111" stroke-width="0.35"/>
<circle cx="49.8" cy="298.2" r="1.68" fill="#00007e" stroke="#111" stroke-width="0.35"/>
<circle cx="110.3" cy="296.1" r="1.68" fill="#00007e" stroke="#111" stroke-width="0.35"/>
<circle cx="139.8" cy="295.3" r="1.68" fill="#00007e" stroke="#111" stroke-width="0.35"/>
<circle cx="87.7" cy="296.8" r="1.68" fill="#00007e" stroke="#111" stroke-width="0.35"/>
<circle cx="133.6" cy="294.9" r="1.68" fill="#00007e" stroke="#111" stroke-width="0.35"/>
<circle cx="159.7" cy="295.0" r="1.68" fill="#00007e" stroke="#111" stroke-width="0.35"/>
<circle cx="42.3" cy="294.7" r="1.68" fill="#00007e" stroke="#111" stroke-width="0.35"/>
<circle cx="47.1" cy="294.3" r="1.68" fill="#00007e" stroke="#111" stroke-width="0.35"/>
<circle cx="166.0" cy="295.4" r="1.68" fill="#00007e" stroke="#111" stroke-width="0.35"/>
<circle cx="189.9" cy="297.2" r="1.68" fill="#00007e" stroke="#111" stroke-width="0.35"/>
<circle cx="48.4" cy="298.4" r="1.68" fill="#00007e" stroke="#111" stroke-width="0.35"/>
<circle cx="197.7" cy="293.9" r="1.68" fill="#00007e" stroke="#111" stroke-width="0.35"/>
<circle cx="191.2" cy="295.6" r="1.68" fill="#00007e" stroke="#111" stroke-width="0.35"/>
<circle cx="119.8" cy="298.4" r="1.68" fill="#00007e" stroke="#111" stroke-width="0.35"/>
<circle cx="80.7" cy="296.1" r="1.68" fill="#00007e" stroke="#111" stroke-width="0.35"/>
<circle cx="196.5" cy="297.1" r="1.68" fill="#00007e" stroke="#111" stroke-width="0.35"/>
<circle cx="118.2" cy="298.4" r="1.68" fill="#00007e" stroke="#111" stroke-width="0.35"/>
<circle cx="176.4" cy="296.5" r="1.68" fill="#00007e" stroke="#111" stroke-width="0.35"/>
<circle cx="59.2" cy="296.6" r="1.68" fill="#00007e" stroke="#111" stroke-width="0.35"/>
<circle cx="116.1" cy="294.5" r="1.68" fill="#00007e" stroke="#111" stroke-width="0.35"/>
<circle cx="48.7" cy="296.1" r="1.68" fill="#00007e" stroke="#111" stroke-width="0.35"/>
<circle cx="60.8" cy="295.7" r="1.68" fill="#00007e" stroke="#111" stroke-width="0.35"/>
<circle cx="151.5" cy="295.8" r="1.68" fill="#00007e" stroke="#111" stroke-width="0.35"/>
<circle cx="83.8" cy="296.4" r="1.68" fill="#00007e" stroke="#111" stroke-width="0.35"/>
<circle cx="110.1" cy="297.4" r="1.68" fill="#00007e" stroke="#111" stroke-width="0.35"/>
<circle cx="128.6" cy="298.5" r="1.68" fill="#00007e" stroke="#111" stroke-width="0.35"/>
<circle cx="199.1" cy="297.2" r="1.68" fill="#00007e" stroke="#111" stroke-width="0.35"/>
<circle cx="79.8" cy="294.1" r="1.68" fill="#00007e" stroke="#111" stroke-width="0.35"/>
<circle cx="189.1" cy="297.4" r="1.68" fill="#00007e" stroke="#111" stroke-width="0.35"/>
<circle cx="144.4" cy="295.3" r="1.68" fill="#00007e" stroke="#111" stroke-width="0.35"/>
<circle cx="85.3" cy="296.9" r="1.68" fill="#00007e" stroke="#111" stroke-width="0.35"/>
<circle cx="134.3" cy="296.5" r="1.68" fill="#00007e" stroke="#111" stroke-width="0.35"/>
<circle cx="145.7" cy="297.3" r="1.68" fill="#00007e" stroke="#111" stroke-width="0.35"/>
<circle cx="71.7" cy="294.7" r="1.68" fill="#00007e" stroke="#111" stroke-width="0.35"/>
<circle cx="203.6" cy="298.1" r="1.68" fill="#00007e" stroke="#111" stroke-width="0.35"/>
<circle cx="186.8" cy="293.7" r="1.68" fill="#00007e" stroke="#111" stroke-width="0.35"/>
<circle cx="50.2" cy="294.9" r="1.68" fill="#00007e" stroke="#111" stroke-width="0.35"/>
<circle cx="111.0" cy="296.6" r="1.68" fill="#00007e" stroke="#111" stroke-width="0.35"/>
<circle cx="57.1" cy="296.2" r="1.68" fill="#00007e" stroke="#111" stroke-width="0.35"/>
<circle cx="52.1" cy="293.9" r="1.68" fill="#00007e" stroke="#111" stroke-width="0.35"/>
<circle cx="199.6" cy="295.3" r="1.68" fill="#00007e" stroke="#111" stroke-width="0.35"/>
<circle cx="198.5" cy="294.2" r="1.68" fill="#00007e" stroke="#111" stroke-width="0.35"/>
<circle cx="195.0" cy="293.3" r="1.68" fill="#00007e" stroke="#111" stroke-width="0.35"/>
<circle cx="191.9" cy="296.5" r="1.68" fill="#00007e" stroke="#111" stroke-width="0.35"/>
<circle cx="203.3" cy="292.4" r="1.68" fill="#00007e" stroke="#111" stroke-width="0.35"/>
<circle cx="186.8" cy="296.9" r="1.68" fill="#00007e" stroke="#111" stroke-width="0.35"/>
<circle cx="198.3" cy="296.6" r="1.68" fill="#00007e" stroke="#111" stroke-width="0.35"/>
<circle cx="188.9" cy="294.5" r="1.68" fill="#00007e" stroke="#111" stroke-width="0.35"/>
<circle cx="189.9" cy="296.9" r="1.68" fill="#00007e" stroke="#111" stroke-width="0.35"/>
<circle cx="192.5" cy="295.9" r="1.68" fill="#00007e" stroke="#111" stroke-width="0.35"/>
<circle cx="206.8" cy="294.0" r="1.68" fill="#00007e" stroke="#111" stroke-width="0.35"/>
<circle cx="196.6" cy="296.5" r="1.68" fill="#00007e" stroke="#111" stroke-width="0.35"/>
<circle cx="205.2" cy="294.6" r="1.68" fill="#00007e" stroke="#111" stroke-width="0.35"/>
<circle cx="192.5" cy="292.6" r="1.68" fill="#00007e" stroke="#111" stroke-width="0.35"/>
<circle cx="67.1" cy="294.3" r="1.68" fill="#00007e" stroke="#111" stroke-width="0.35"/>
<circle cx="69.5" cy="295.0" r="1.68" fill="#00007e" stroke="#111" stroke-width="0.35"/>
<circle cx="70.4" cy="288.4" r="1.68" fill="#00007e" stroke="#111" stroke-width="0.35"/>
<circle cx="70.4" cy="291.0" r="1.68" fill="#00007e" stroke="#111" stroke-width="0.35"/>
<circle cx="76.7" cy="289.7" r="1.68" fill="#00007e" stroke="#111" stroke-width="0.35"/>
<circle cx="76.1" cy="283.1" r="1.68" fill="#00007e" stroke="#111" stroke-width="0.35"/>
<circle cx="78.0" cy="283.1" r="1.68" fill="#00007e" stroke="#111" stroke-width="0.35"/>
<circle cx="90.5" cy="295.0" r="1.68" fill="#00007e" stroke="#111" stroke-width="0.35"/>
<circle cx="100.0" cy="294.3" r="1.68" fill="#00007e" stroke="#111" stroke-width="0.35"/>
<circle cx="108.3" cy="294.0" r="1.68" fill="#00007e" stroke="#111" stroke-width="0.35"/>
<circle cx="112.9" cy="293.6" r="1.68" fill="#00007e" stroke="#111" stroke-width="0.35"/>
<circle cx="100.3" cy="268.1" r="1.68" fill="#00007e" stroke="#111" stroke-width="0.35"/>
<circle cx="164.4" cy="289.4" r="1.68" fill="#00007e" stroke="#111" stroke-width="0.35"/>
<circle cx="175.5" cy="292.9" r="1.68" fill="#00007e" stroke="#111" stroke-width="0.35"/>
<circle cx="190.7" cy="291.5" r="1.68" fill="#00007e" stroke="#111" stroke-width="0.35"/>
<circle cx="133.9" cy="291.5" r="1.68" fill="#00007e" stroke="#111" stroke-width="0.35"/>
<circle cx="128.3" cy="293.6" r="1.68" fill="#00007e" stroke="#111" stroke-width="0.35"/>
<circle cx="145.7" cy="295.0" r="1.68" fill="#00007e" stroke="#111" stroke-width="0.35"/>
<circle cx="160.9" cy="294.3" r="1.68" fill="#00007e" stroke="#111" stroke-width="0.35"/>
<circle cx="120.0" cy="294.0" r="1.68" fill="#00007e" stroke="#111" stroke-width="0.35"/>
<circle cx="124.0" cy="296.0" r="1.68" fill="#00007e" stroke="#111" stroke-width="0.35"/>
<circle cx="138.0" cy="293.2" r="1.68" fill="#00007e" stroke="#111" stroke-width="0.35"/>
<circle cx="140.0" cy="292.8" r="1.68" fill="#00007e" stroke="#111" stroke-width="0.35"/>
<circle cx="150.0" cy="296.0" r="1.68" fill="#00007e" stroke="#111" stroke-width="0.35"/>
<circle cx="182.0" cy="296.0" r="1.68" fill="#00007e" stroke="#111" stroke-width="0.35"/>
<circle cx="187.0" cy="294.0" r="1.68" fill="#00007e" stroke="#111" stroke-width="0.35"/>
<circle cx="196.0" cy="294.5" r="1.68" fill="#00007e" stroke="#111" stroke-width="0.35"/>
<circle cx="200.0" cy="295.5" r="1.68" fill="#00007e" stroke="#111" stroke-width="0.35"/>
<circle cx="205.0" cy="296.0" r="1.68" fill="#00007e" stroke="#111" stroke-width="0.35"/>
<circle cx="86.0" cy="296.0" r="1.68" fill="#00007e" stroke="#111" stroke-width="0.35"/>
<circle cx="96.0" cy="296.5" r="1.68" fill="#00007e" stroke="#111" stroke-width="0.35"/>
<circle cx="105.0" cy="296.5" r="1.68" fill="#00007e" stroke="#111" stroke-width="0.35"/>
<circle cx="114.0" cy="296.0" r="1.68" fill="#00007e" stroke="#111" stroke-width="0.35"/>
<circle cx="60.0" cy="297.0" r="1.68" fill="#00007e" stroke="#111" stroke-width="0.35"/>
<circle cx="45.0" cy="297.5" r="1.68" fill="#00007e" stroke="#111" stroke-width="0.35"/>
<circle cx="80.0" cy="296.5" r="1.68" fill="#00007e" stroke="#111" stroke-width="0.35"/>
<circle cx="76.5" cy="280.2" r="1.68" fill="#87cefa" stroke="#111" stroke-width="0.35"/>
<circle cx="81.7" cy="280.8" r="1.68" fill="#87cefa" stroke="#111" stroke-width="0.35"/>
<circle cx="114.6" cy="276.3" r="1.68" fill="#87cefa" stroke="#111" stroke-width="0.35"/>
<circle cx="75.5" cy="250.7" r="1.68" fill="#87cefa" stroke="#111" stroke-width="0.35"/>
<circle cx="78.7" cy="250.7" r="1.68" fill="#87cefa" stroke="#111" stroke-width="0.35"/>
<circle cx="77.9" cy="253.6" r="1.68" fill="#87cefa" stroke="#111" stroke-width="0.35"/>
<circle cx="76.3" cy="258.2" r="1.68" fill="#87cefa" stroke="#111" stroke-width="0.35"/>
<circle cx="84.8" cy="235.9" r="1.68" fill="#87cefa" stroke="#111" stroke-width="0.35"/>
<circle cx="79.0" cy="246.7" r="1.68" fill="#22dd22" stroke="#111" stroke-width="0.35"/>
<circle cx="82.4" cy="244.2" r="1.68" fill="#22dd22" stroke="#111" stroke-width="0.35"/>
<circle cx="82.2" cy="239.9" r="1.68" fill="#22dd22" stroke="#111" stroke-width="0.35"/>
<circle cx="81.7" cy="241.2" r="1.68" fill="#ffa500" stroke="#111" stroke-width="0.35"/>
<path d="M81.6,210.9 L84.2,213.6 L81.6,216.3 L79.0,213.6 Z" fill="#7d26cd" stroke="#333" stroke-width="0.3"/>
<text x="64.2" y="209.7" font-size="7.6" fill="#222" textLength="30.2" lengthAdjust="spacingAndGlyphs">rs258341</text>
<text x="88.0" y="237.5" font-size="7.6" fill="#222" textLength="33.2" lengthAdjust="spacingAndGlyphs">rs1126464</text>
<text x="167.4" y="212.9" font-size="7.6" fill="#222" textLength="39.9" lengthAdjust="spacingAndGlyphs">DPEP1 pQTL</text>
<text x="146.6" y="253.8" font-size="7.6" fill="#222">PP H<tspan font-size="5.2" dy="1.8">4</tspan><tspan dy="-1.8"> = 0.99</tspan></text>
<rect x="37.2" y="312.4" width="178.10000000000002" height="103.20000000000005" fill="none" stroke="#b4b4b4" stroke-width="1.3"/>
<path d="M33,411.3 L37.0,411.3" stroke="#888" stroke-width="0.7"/>
<text x="30.6" y="413.9" font-size="7.4" fill="#333" text-anchor="end" textLength="4.7" lengthAdjust="spacingAndGlyphs">0</text>
<path d="M33,383.7 L37.0,383.7" stroke="#888" stroke-width="0.7"/>
<text x="30.6" y="386.3" font-size="7.4" fill="#333" text-anchor="end" textLength="4.7" lengthAdjust="spacingAndGlyphs">5</text>
<path d="M33,356.0 L37.0,356.0" stroke="#888" stroke-width="0.7"/>
<text x="30.6" y="358.6" font-size="7.4" fill="#333" text-anchor="end" textLength="9.4" lengthAdjust="spacingAndGlyphs">10</text>
<path d="M33,328.4 L37.0,328.4" stroke="#888" stroke-width="0.7"/>
<text x="30.6" y="331.0" font-size="7.4" fill="#333" text-anchor="end" textLength="9.4" lengthAdjust="spacingAndGlyphs">15</text>
<path d="M215.3,411.3 L218.10000000000002,411.3" stroke="#5b5bf0" stroke-width="0.7"/>
<text x="221.7" y="413.9" font-size="7.2" fill="#4f4ff2" textLength="4.0" lengthAdjust="spacingAndGlyphs">0</text>
<path d="M215.3,392.3 L218.10000000000002,392.3" stroke="#5b5bf0" stroke-width="0.7"/>
<text x="221.7" y="394.9" font-size="7.2" fill="#4f4ff2" textLength="8.1" lengthAdjust="spacingAndGlyphs">20</text>
<path d="M215.3,373.3 L218.10000000000002,373.3" stroke="#5b5bf0" stroke-width="0.7"/>
<text x="221.7" y="375.9" font-size="7.2" fill="#4f4ff2" textLength="8.1" lengthAdjust="spacingAndGlyphs">40</text>
<path d="M215.3,354.2 L218.10000000000002,354.2" stroke="#5b5bf0" stroke-width="0.7"/>
<text x="221.7" y="356.8" font-size="7.2" fill="#4f4ff2" textLength="8.1" lengthAdjust="spacingAndGlyphs">60</text>
<path d="M215.3,335.2 L218.10000000000002,335.2" stroke="#5b5bf0" stroke-width="0.7"/>
<text x="221.7" y="337.8" font-size="7.2" fill="#4f4ff2" textLength="8.1" lengthAdjust="spacingAndGlyphs">80</text>
<path d="M215.3,316.2 L218.10000000000002,316.2" stroke="#5b5bf0" stroke-width="0.7"/>
<text x="221.7" y="318.8" font-size="7.2" fill="#4f4ff2" textLength="12.1" lengthAdjust="spacingAndGlyphs">100</text>
<text transform="translate(14.6,364) rotate(-90)" font-size="8.8" fill="#222" text-anchor="middle">–log<tspan font-size="6" dy="2">10</tspan><tspan dy="-2"> (</tspan><tspan font-style="italic">P</tspan> value)</text>
<text transform="translate(250.3,364) rotate(90)" font-size="9.3" fill="#4848ee" text-anchor="middle" textLength="78.6" lengthAdjust="spacingAndGlyphs">Recombination rate</text>
<text transform="translate(240.8,364) rotate(90)" font-size="9.1" fill="#4848ee" text-anchor="middle" textLength="48" lengthAdjust="spacingAndGlyphs">(cM per Mb)</text>
<path d="M38,411.3 L214,411.3" stroke="#3030ff" stroke-width="0.8"/>
<circle cx="71.8" cy="406.7" r="1.68" fill="#3c3c3c" stroke="#111" stroke-width="0.35"/>
<circle cx="151.0" cy="404.8" r="1.68" fill="#3c3c3c" stroke="#111" stroke-width="0.35"/>
<circle cx="80.4" cy="407.6" r="1.68" fill="#3c3c3c" stroke="#111" stroke-width="0.35"/>
<circle cx="180.1" cy="405.1" r="1.68" fill="#3c3c3c" stroke="#111" stroke-width="0.35"/>
<circle cx="129.1" cy="402.6" r="1.68" fill="#3c3c3c" stroke="#111" stroke-width="0.35"/>
<circle cx="44.5" cy="403.8" r="1.68" fill="#3c3c3c" stroke="#111" stroke-width="0.35"/>
<circle cx="142.6" cy="401.1" r="1.68" fill="#3c3c3c" stroke="#111" stroke-width="0.35"/>
<circle cx="177.7" cy="402.6" r="1.68" fill="#3c3c3c" stroke="#111" stroke-width="0.35"/>
<circle cx="83.2" cy="400.9" r="1.68" fill="#3c3c3c" stroke="#111" stroke-width="0.35"/>
<circle cx="212.1" cy="407.1" r="1.68" fill="#3c3c3c" stroke="#111" stroke-width="0.35"/>
<circle cx="191.4" cy="406.0" r="1.68" fill="#3c3c3c" stroke="#111" stroke-width="0.35"/>
<circle cx="49.7" cy="403.5" r="1.68" fill="#3c3c3c" stroke="#111" stroke-width="0.35"/>
<circle cx="127.8" cy="401.5" r="1.68" fill="#3c3c3c" stroke="#111" stroke-width="0.35"/>
<circle cx="204.4" cy="403.8" r="1.68" fill="#3c3c3c" stroke="#111" stroke-width="0.35"/>
<circle cx="70.1" cy="407.9" r="1.68" fill="#3c3c3c" stroke="#111" stroke-width="0.35"/>
<circle cx="65.0" cy="408.9" r="1.68" fill="#3c3c3c" stroke="#111" stroke-width="0.35"/>
<circle cx="120.4" cy="405.5" r="1.68" fill="#3c3c3c" stroke="#111" stroke-width="0.35"/>
<circle cx="101.8" cy="404.9" r="1.68" fill="#3c3c3c" stroke="#111" stroke-width="0.35"/>
<circle cx="75.5" cy="400.8" r="1.68" fill="#3c3c3c" stroke="#111" stroke-width="0.35"/>
<circle cx="189.9" cy="402.6" r="1.68" fill="#3c3c3c" stroke="#111" stroke-width="0.35"/>
<circle cx="175.5" cy="402.4" r="1.68" fill="#3c3c3c" stroke="#111" stroke-width="0.35"/>
<circle cx="207.2" cy="408.5" r="1.68" fill="#3c3c3c" stroke="#111" stroke-width="0.35"/>
<circle cx="171.2" cy="407.4" r="1.68" fill="#3c3c3c" stroke="#111" stroke-width="0.35"/>
<circle cx="141.9" cy="407.1" r="1.68" fill="#3c3c3c" stroke="#111" stroke-width="0.35"/>
<circle cx="64.6" cy="404.8" r="1.68" fill="#3c3c3c" stroke="#111" stroke-width="0.35"/>
<circle cx="183.4" cy="402.3" r="1.68" fill="#3c3c3c" stroke="#111" stroke-width="0.35"/>
<circle cx="199.6" cy="408.5" r="1.68" fill="#3c3c3c" stroke="#111" stroke-width="0.35"/>
<circle cx="113.0" cy="403.8" r="1.68" fill="#3c3c3c" stroke="#111" stroke-width="0.35"/>
<circle cx="120.0" cy="404.0" r="1.68" fill="#3c3c3c" stroke="#111" stroke-width="0.35"/>
<circle cx="211.6" cy="404.0" r="1.68" fill="#3c3c3c" stroke="#111" stroke-width="0.35"/>
<circle cx="48.5" cy="401.3" r="1.68" fill="#3c3c3c" stroke="#111" stroke-width="0.35"/>
<circle cx="165.0" cy="409.4" r="1.68" fill="#3c3c3c" stroke="#111" stroke-width="0.35"/>
<circle cx="127.6" cy="404.9" r="1.68" fill="#3c3c3c" stroke="#111" stroke-width="0.35"/>
<circle cx="136.7" cy="407.2" r="1.68" fill="#3c3c3c" stroke="#111" stroke-width="0.35"/>
<circle cx="81.4" cy="406.0" r="1.68" fill="#3c3c3c" stroke="#111" stroke-width="0.35"/>
<circle cx="137.8" cy="406.1" r="1.68" fill="#3c3c3c" stroke="#111" stroke-width="0.35"/>
<circle cx="74.4" cy="402.0" r="1.68" fill="#3c3c3c" stroke="#111" stroke-width="0.35"/>
<circle cx="102.7" cy="408.8" r="1.68" fill="#3c3c3c" stroke="#111" stroke-width="0.35"/>
<circle cx="102.4" cy="405.9" r="1.68" fill="#3c3c3c" stroke="#111" stroke-width="0.35"/>
<circle cx="95.7" cy="401.4" r="1.68" fill="#3c3c3c" stroke="#111" stroke-width="0.35"/>
<circle cx="55.1" cy="407.8" r="1.68" fill="#3c3c3c" stroke="#111" stroke-width="0.35"/>
<circle cx="174.9" cy="403.9" r="1.68" fill="#3c3c3c" stroke="#111" stroke-width="0.35"/>
<circle cx="159.1" cy="406.6" r="1.68" fill="#3c3c3c" stroke="#111" stroke-width="0.35"/>
<circle cx="195.4" cy="409.1" r="1.68" fill="#3c3c3c" stroke="#111" stroke-width="0.35"/>
<circle cx="112.6" cy="409.4" r="1.68" fill="#3c3c3c" stroke="#111" stroke-width="0.35"/>
<circle cx="206.0" cy="405.8" r="1.68" fill="#3c3c3c" stroke="#111" stroke-width="0.35"/>
<circle cx="192.8" cy="404.9" r="1.68" fill="#3c3c3c" stroke="#111" stroke-width="0.35"/>
<circle cx="107.3" cy="402.7" r="1.68" fill="#3c3c3c" stroke="#111" stroke-width="0.35"/>
<circle cx="191.6" cy="402.0" r="1.68" fill="#3c3c3c" stroke="#111" stroke-width="0.35"/>
<circle cx="55.7" cy="407.7" r="1.68" fill="#3c3c3c" stroke="#111" stroke-width="0.35"/>
<circle cx="174.4" cy="404.8" r="1.68" fill="#3c3c3c" stroke="#111" stroke-width="0.35"/>
<circle cx="185.0" cy="401.0" r="1.68" fill="#3c3c3c" stroke="#111" stroke-width="0.35"/>
<circle cx="87.5" cy="403.1" r="1.68" fill="#3c3c3c" stroke="#111" stroke-width="0.35"/>
<circle cx="114.7" cy="402.0" r="1.68" fill="#3c3c3c" stroke="#111" stroke-width="0.35"/>
<circle cx="55.7" cy="403.5" r="1.68" fill="#3c3c3c" stroke="#111" stroke-width="0.35"/>
<circle cx="195.5" cy="409.4" r="1.68" fill="#3c3c3c" stroke="#111" stroke-width="0.35"/>
<circle cx="169.7" cy="404.8" r="1.68" fill="#3c3c3c" stroke="#111" stroke-width="0.35"/>
<circle cx="86.5" cy="409.1" r="1.68" fill="#3c3c3c" stroke="#111" stroke-width="0.35"/>
<circle cx="132.6" cy="407.1" r="1.68" fill="#3c3c3c" stroke="#111" stroke-width="0.35"/>
<circle cx="48.8" cy="402.4" r="1.68" fill="#3c3c3c" stroke="#111" stroke-width="0.35"/>
<circle cx="185.2" cy="407.7" r="1.68" fill="#3c3c3c" stroke="#111" stroke-width="0.35"/>
<circle cx="192.5" cy="405.9" r="1.68" fill="#3c3c3c" stroke="#111" stroke-width="0.35"/>
<circle cx="115.8" cy="405.7" r="1.68" fill="#3c3c3c" stroke="#111" stroke-width="0.35"/>
<circle cx="187.1" cy="403.3" r="1.68" fill="#3c3c3c" stroke="#111" stroke-width="0.35"/>
<circle cx="134.0" cy="403.0" r="1.68" fill="#3c3c3c" stroke="#111" stroke-width="0.35"/>
<circle cx="173.5" cy="400.6" r="1.68" fill="#3c3c3c" stroke="#111" stroke-width="0.35"/>
<circle cx="159.5" cy="409.1" r="1.68" fill="#3c3c3c" stroke="#111" stroke-width="0.35"/>
<circle cx="48.0" cy="405.8" r="1.68" fill="#3c3c3c" stroke="#111" stroke-width="0.35"/>
<circle cx="152.5" cy="408.2" r="1.68" fill="#3c3c3c" stroke="#111" stroke-width="0.35"/>
<circle cx="142.5" cy="402.8" r="1.68" fill="#3c3c3c" stroke="#111" stroke-width="0.35"/>
<circle cx="112.3" cy="409.1" r="1.68" fill="#3c3c3c" stroke="#111" stroke-width="0.35"/>
<circle cx="196.6" cy="401.7" r="1.68" fill="#3c3c3c" stroke="#111" stroke-width="0.35"/>
<circle cx="60.0" cy="401.3" r="1.68" fill="#3c3c3c" stroke="#111" stroke-width="0.35"/>
<circle cx="48.3" cy="404.5" r="1.68" fill="#3c3c3c" stroke="#111" stroke-width="0.35"/>
<circle cx="67.7" cy="408.3" r="1.68" fill="#3c3c3c" stroke="#111" stroke-width="0.35"/>
<circle cx="154.4" cy="401.6" r="1.68" fill="#3c3c3c" stroke="#111" stroke-width="0.35"/>
<circle cx="134.8" cy="403.4" r="1.68" fill="#3c3c3c" stroke="#111" stroke-width="0.35"/>
<circle cx="127.2" cy="402.5" r="1.68" fill="#3c3c3c" stroke="#111" stroke-width="0.35"/>
<circle cx="72.0" cy="402.2" r="1.68" fill="#3c3c3c" stroke="#111" stroke-width="0.35"/>
<circle cx="107.7" cy="406.9" r="1.68" fill="#3c3c3c" stroke="#111" stroke-width="0.35"/>
<circle cx="136.7" cy="400.9" r="1.68" fill="#3c3c3c" stroke="#111" stroke-width="0.35"/>
<circle cx="163.8" cy="408.4" r="1.68" fill="#3c3c3c" stroke="#111" stroke-width="0.35"/>
<circle cx="174.5" cy="407.6" r="1.68" fill="#3c3c3c" stroke="#111" stroke-width="0.35"/>
<circle cx="45.3" cy="404.7" r="1.68" fill="#3c3c3c" stroke="#111" stroke-width="0.35"/>
<circle cx="54.7" cy="407.4" r="1.68" fill="#3c3c3c" stroke="#111" stroke-width="0.35"/>
<circle cx="73.5" cy="406.9" r="1.68" fill="#3c3c3c" stroke="#111" stroke-width="0.35"/>
<circle cx="86.6" cy="406.8" r="1.68" fill="#3c3c3c" stroke="#111" stroke-width="0.35"/>
<circle cx="96.8" cy="400.9" r="1.68" fill="#3c3c3c" stroke="#111" stroke-width="0.35"/>
<circle cx="109.5" cy="403.3" r="1.68" fill="#3c3c3c" stroke="#111" stroke-width="0.35"/>
<circle cx="195.8" cy="403.2" r="1.68" fill="#3c3c3c" stroke="#111" stroke-width="0.35"/>
<circle cx="128.8" cy="405.4" r="1.68" fill="#3c3c3c" stroke="#111" stroke-width="0.35"/>
<circle cx="203.8" cy="401.4" r="1.68" fill="#3c3c3c" stroke="#111" stroke-width="0.35"/>
<circle cx="145.3" cy="405.1" r="1.68" fill="#3c3c3c" stroke="#111" stroke-width="0.35"/>
<circle cx="167.8" cy="409.2" r="1.68" fill="#3c3c3c" stroke="#111" stroke-width="0.35"/>
<circle cx="96.3" cy="406.8" r="1.68" fill="#3c3c3c" stroke="#111" stroke-width="0.35"/>
<circle cx="132.6" cy="405.5" r="1.68" fill="#3c3c3c" stroke="#111" stroke-width="0.35"/>
<circle cx="54.7" cy="407.8" r="1.68" fill="#3c3c3c" stroke="#111" stroke-width="0.35"/>
<circle cx="208.6" cy="403.7" r="1.68" fill="#3c3c3c" stroke="#111" stroke-width="0.35"/>
<circle cx="97.6" cy="409.4" r="1.68" fill="#3c3c3c" stroke="#111" stroke-width="0.35"/>
<circle cx="62.1" cy="401.2" r="1.68" fill="#3c3c3c" stroke="#111" stroke-width="0.35"/>
<circle cx="56.4" cy="407.8" r="1.68" fill="#3c3c3c" stroke="#111" stroke-width="0.35"/>
<circle cx="172.0" cy="404.5" r="1.68" fill="#3c3c3c" stroke="#111" stroke-width="0.35"/>
<circle cx="148.7" cy="400.7" r="1.68" fill="#3c3c3c" stroke="#111" stroke-width="0.35"/>
<circle cx="152.6" cy="404.5" r="1.68" fill="#3c3c3c" stroke="#111" stroke-width="0.35"/>
<circle cx="131.2" cy="404.0" r="1.68" fill="#3c3c3c" stroke="#111" stroke-width="0.35"/>
<circle cx="111.7" cy="402.5" r="1.68" fill="#3c3c3c" stroke="#111" stroke-width="0.35"/>
<circle cx="52.2" cy="404.4" r="1.68" fill="#3c3c3c" stroke="#111" stroke-width="0.35"/>
<circle cx="85.6" cy="406.8" r="1.68" fill="#3c3c3c" stroke="#111" stroke-width="0.35"/>
<circle cx="181.7" cy="407.0" r="1.68" fill="#3c3c3c" stroke="#111" stroke-width="0.35"/>
<circle cx="120.8" cy="402.6" r="1.68" fill="#3c3c3c" stroke="#111" stroke-width="0.35"/>
<circle cx="108.9" cy="404.9" r="1.68" fill="#3c3c3c" stroke="#111" stroke-width="0.35"/>
<circle cx="150.5" cy="409.2" r="1.68" fill="#3c3c3c" stroke="#111" stroke-width="0.35"/>
<circle cx="58.4" cy="404.8" r="1.68" fill="#3c3c3c" stroke="#111" stroke-width="0.35"/>
<circle cx="126.9" cy="407.0" r="1.68" fill="#3c3c3c" stroke="#111" stroke-width="0.35"/>
<circle cx="194.0" cy="407.5" r="1.68" fill="#3c3c3c" stroke="#111" stroke-width="0.35"/>
<circle cx="149.6" cy="407.3" r="1.68" fill="#3c3c3c" stroke="#111" stroke-width="0.35"/>
<circle cx="156.6" cy="408.2" r="1.68" fill="#3c3c3c" stroke="#111" stroke-width="0.35"/>
<circle cx="161.8" cy="406.6" r="1.68" fill="#3c3c3c" stroke="#111" stroke-width="0.35"/>
<circle cx="85.3" cy="408.8" r="1.68" fill="#3c3c3c" stroke="#111" stroke-width="0.35"/>
<circle cx="109.0" cy="406.0" r="1.68" fill="#3c3c3c" stroke="#111" stroke-width="0.35"/>
<circle cx="183.0" cy="409.2" r="1.68" fill="#3c3c3c" stroke="#111" stroke-width="0.35"/>
<circle cx="210.7" cy="400.6" r="1.68" fill="#3c3c3c" stroke="#111" stroke-width="0.35"/>
<circle cx="96.7" cy="403.3" r="1.68" fill="#3c3c3c" stroke="#111" stroke-width="0.35"/>
<circle cx="109.9" cy="401.8" r="1.68" fill="#3c3c3c" stroke="#111" stroke-width="0.35"/>
<circle cx="137.2" cy="401.2" r="1.68" fill="#3c3c3c" stroke="#111" stroke-width="0.35"/>
<circle cx="95.0" cy="409.0" r="1.68" fill="#3c3c3c" stroke="#111" stroke-width="0.35"/>
<circle cx="169.1" cy="404.7" r="1.68" fill="#3c3c3c" stroke="#111" stroke-width="0.35"/>
<circle cx="62.2" cy="409.1" r="1.68" fill="#3c3c3c" stroke="#111" stroke-width="0.35"/>
<circle cx="162.6" cy="402.4" r="1.68" fill="#3c3c3c" stroke="#111" stroke-width="0.35"/>
<circle cx="100.5" cy="406.3" r="1.68" fill="#3c3c3c" stroke="#111" stroke-width="0.35"/>
<circle cx="158.9" cy="402.8" r="1.68" fill="#3c3c3c" stroke="#111" stroke-width="0.35"/>
<circle cx="204.3" cy="403.4" r="1.68" fill="#3c3c3c" stroke="#111" stroke-width="0.35"/>
<circle cx="86.8" cy="408.1" r="1.68" fill="#3c3c3c" stroke="#111" stroke-width="0.35"/>
<circle cx="69.8" cy="406.6" r="1.68" fill="#3c3c3c" stroke="#111" stroke-width="0.35"/>
<circle cx="77.7" cy="405.9" r="1.68" fill="#3c3c3c" stroke="#111" stroke-width="0.35"/>
<circle cx="90.7" cy="403.9" r="1.68" fill="#3c3c3c" stroke="#111" stroke-width="0.35"/>
<circle cx="202.5" cy="404.7" r="1.68" fill="#3c3c3c" stroke="#111" stroke-width="0.35"/>
<circle cx="117.6" cy="406.1" r="1.68" fill="#3c3c3c" stroke="#111" stroke-width="0.35"/>
<circle cx="91.3" cy="402.1" r="1.68" fill="#3c3c3c" stroke="#111" stroke-width="0.35"/>
<circle cx="108.8" cy="403.0" r="1.68" fill="#3c3c3c" stroke="#111" stroke-width="0.35"/>
<circle cx="75.8" cy="409.1" r="1.68" fill="#3c3c3c" stroke="#111" stroke-width="0.35"/>
<circle cx="49.8" cy="407.8" r="1.68" fill="#3c3c3c" stroke="#111" stroke-width="0.35"/>
<circle cx="201.5" cy="406.8" r="1.68" fill="#3c3c3c" stroke="#111" stroke-width="0.35"/>
<circle cx="47.2" cy="405.0" r="1.68" fill="#3c3c3c" stroke="#111" stroke-width="0.35"/>
<circle cx="50.6" cy="406.0" r="1.68" fill="#3c3c3c" stroke="#111" stroke-width="0.35"/>
<circle cx="162.0" cy="402.7" r="1.68" fill="#3c3c3c" stroke="#111" stroke-width="0.35"/>
<circle cx="45.3" cy="405.4" r="1.68" fill="#3c3c3c" stroke="#111" stroke-width="0.35"/>
<circle cx="59.9" cy="403.3" r="1.68" fill="#3c3c3c" stroke="#111" stroke-width="0.35"/>
<circle cx="120.5" cy="408.6" r="1.68" fill="#3c3c3c" stroke="#111" stroke-width="0.35"/>
<circle cx="106.4" cy="401.7" r="1.68" fill="#3c3c3c" stroke="#111" stroke-width="0.35"/>
<circle cx="177.4" cy="407.9" r="1.68" fill="#3c3c3c" stroke="#111" stroke-width="0.35"/>
<circle cx="133.2" cy="400.9" r="1.68" fill="#3c3c3c" stroke="#111" stroke-width="0.35"/>
<circle cx="75.6" cy="404.1" r="1.68" fill="#3c3c3c" stroke="#111" stroke-width="0.35"/>
<circle cx="137.0" cy="402.5" r="1.68" fill="#3c3c3c" stroke="#111" stroke-width="0.35"/>
<circle cx="179.2" cy="408.1" r="1.68" fill="#3c3c3c" stroke="#111" stroke-width="0.35"/>
<circle cx="199.9" cy="408.5" r="1.68" fill="#3c3c3c" stroke="#111" stroke-width="0.35"/>
<circle cx="47.0" cy="405.7" r="1.68" fill="#3c3c3c" stroke="#111" stroke-width="0.35"/>
<circle cx="57.6" cy="408.6" r="1.68" fill="#3c3c3c" stroke="#111" stroke-width="0.35"/>
<circle cx="169.9" cy="407.3" r="1.68" fill="#3c3c3c" stroke="#111" stroke-width="0.35"/>
<circle cx="75.7" cy="401.0" r="1.68" fill="#3c3c3c" stroke="#111" stroke-width="0.35"/>
<circle cx="181.4" cy="406.0" r="1.68" fill="#3c3c3c" stroke="#111" stroke-width="0.35"/>
<circle cx="148.5" cy="404.7" r="1.68" fill="#3c3c3c" stroke="#111" stroke-width="0.35"/>
<circle cx="178.8" cy="403.5" r="1.68" fill="#3c3c3c" stroke="#111" stroke-width="0.35"/>
<circle cx="89.4" cy="403.7" r="1.68" fill="#3c3c3c" stroke="#111" stroke-width="0.35"/>
<circle cx="94.2" cy="406.1" r="1.68" fill="#3c3c3c" stroke="#111" stroke-width="0.35"/>
<circle cx="194.0" cy="401.1" r="1.68" fill="#3c3c3c" stroke="#111" stroke-width="0.35"/>
<circle cx="55.4" cy="405.1" r="1.68" fill="#3c3c3c" stroke="#111" stroke-width="0.35"/>
<circle cx="158.2" cy="402.2" r="1.68" fill="#3c3c3c" stroke="#111" stroke-width="0.35"/>
<circle cx="89.5" cy="401.0" r="1.68" fill="#3c3c3c" stroke="#111" stroke-width="0.35"/>
<circle cx="50.3" cy="405.0" r="1.68" fill="#3c3c3c" stroke="#111" stroke-width="0.35"/>
<circle cx="158.7" cy="406.4" r="1.68" fill="#3c3c3c" stroke="#111" stroke-width="0.35"/>
<circle cx="70.7" cy="401.4" r="1.68" fill="#3c3c3c" stroke="#111" stroke-width="0.35"/>
<circle cx="200.9" cy="405.3" r="1.68" fill="#3c3c3c" stroke="#111" stroke-width="0.35"/>
<circle cx="112.8" cy="406.7" r="1.68" fill="#3c3c3c" stroke="#111" stroke-width="0.35"/>
<circle cx="166.6" cy="405.2" r="1.68" fill="#3c3c3c" stroke="#111" stroke-width="0.35"/>
<circle cx="57.2" cy="407.9" r="1.68" fill="#3c3c3c" stroke="#111" stroke-width="0.35"/>
<circle cx="80.0" cy="400.9" r="1.68" fill="#3c3c3c" stroke="#111" stroke-width="0.35"/>
<circle cx="103.4" cy="405.3" r="1.68" fill="#3c3c3c" stroke="#111" stroke-width="0.35"/>
<circle cx="149.9" cy="402.1" r="1.68" fill="#3c3c3c" stroke="#111" stroke-width="0.35"/>
<circle cx="163.6" cy="404.9" r="1.68" fill="#3c3c3c" stroke="#111" stroke-width="0.35"/>
<circle cx="71.3" cy="408.2" r="1.68" fill="#3c3c3c" stroke="#111" stroke-width="0.35"/>
<circle cx="179.9" cy="408.7" r="1.68" fill="#3c3c3c" stroke="#111" stroke-width="0.35"/>
<circle cx="158.5" cy="402.5" r="1.68" fill="#3c3c3c" stroke="#111" stroke-width="0.35"/>
<circle cx="175.0" cy="408.6" r="1.68" fill="#3c3c3c" stroke="#111" stroke-width="0.35"/>
<circle cx="133.9" cy="408.7" r="1.68" fill="#3c3c3c" stroke="#111" stroke-width="0.35"/>
<circle cx="207.5" cy="404.0" r="1.68" fill="#3c3c3c" stroke="#111" stroke-width="0.35"/>
<circle cx="202.7" cy="408.9" r="1.68" fill="#3c3c3c" stroke="#111" stroke-width="0.35"/>
<circle cx="177.8" cy="400.6" r="1.68" fill="#3c3c3c" stroke="#111" stroke-width="0.35"/>
<circle cx="103.3" cy="406.0" r="1.68" fill="#3c3c3c" stroke="#111" stroke-width="0.35"/>
<circle cx="146.3" cy="407.3" r="1.68" fill="#3c3c3c" stroke="#111" stroke-width="0.35"/>
<circle cx="153.0" cy="402.0" r="1.68" fill="#3c3c3c" stroke="#111" stroke-width="0.35"/>
<circle cx="200.8" cy="405.3" r="1.68" fill="#3c3c3c" stroke="#111" stroke-width="0.35"/>
<circle cx="192.6" cy="402.4" r="1.68" fill="#3c3c3c" stroke="#111" stroke-width="0.35"/>
<circle cx="212.2" cy="405.5" r="1.68" fill="#3c3c3c" stroke="#111" stroke-width="0.35"/>
<circle cx="174.7" cy="407.2" r="1.68" fill="#3c3c3c" stroke="#111" stroke-width="0.35"/>
<circle cx="192.7" cy="403.8" r="1.68" fill="#3c3c3c" stroke="#111" stroke-width="0.35"/>
<circle cx="58.0" cy="404.2" r="1.68" fill="#3c3c3c" stroke="#111" stroke-width="0.35"/>
<circle cx="74.0" cy="405.4" r="1.68" fill="#3c3c3c" stroke="#111" stroke-width="0.35"/>
<circle cx="181.3" cy="403.8" r="1.68" fill="#3c3c3c" stroke="#111" stroke-width="0.35"/>
<circle cx="66.1" cy="400.7" r="1.68" fill="#3c3c3c" stroke="#111" stroke-width="0.35"/>
<circle cx="115.3" cy="405.7" r="1.68" fill="#3c3c3c" stroke="#111" stroke-width="0.35"/>
<circle cx="48.4" cy="406.5" r="1.68" fill="#3c3c3c" stroke="#111" stroke-width="0.35"/>
<circle cx="79.5" cy="401.5" r="1.68" fill="#3c3c3c" stroke="#111" stroke-width="0.35"/>
<circle cx="200.3" cy="405.2" r="1.68" fill="#3c3c3c" stroke="#111" stroke-width="0.35"/>
<circle cx="194.8" cy="405.1" r="1.68" fill="#3c3c3c" stroke="#111" stroke-width="0.35"/>
<circle cx="64.7" cy="402.7" r="1.68" fill="#3c3c3c" stroke="#111" stroke-width="0.35"/>
<circle cx="115.5" cy="406.3" r="1.68" fill="#3c3c3c" stroke="#111" stroke-width="0.35"/>
<circle cx="173.9" cy="407.3" r="1.68" fill="#3c3c3c" stroke="#111" stroke-width="0.35"/>
<circle cx="153.7" cy="402.8" r="1.68" fill="#3c3c3c" stroke="#111" stroke-width="0.35"/>
<circle cx="116.5" cy="403.9" r="1.68" fill="#3c3c3c" stroke="#111" stroke-width="0.35"/>
<circle cx="126.5" cy="402.9" r="1.68" fill="#3c3c3c" stroke="#111" stroke-width="0.35"/>
<circle cx="134.6" cy="404.6" r="1.68" fill="#3c3c3c" stroke="#111" stroke-width="0.35"/>
<circle cx="50.0" cy="407.9" r="1.68" fill="#3c3c3c" stroke="#111" stroke-width="0.35"/>
<circle cx="142.8" cy="407.7" r="1.68" fill="#3c3c3c" stroke="#111" stroke-width="0.35"/>
<circle cx="168.1" cy="407.1" r="1.68" fill="#3c3c3c" stroke="#111" stroke-width="0.35"/>
<circle cx="211.4" cy="403.9" r="1.68" fill="#3c3c3c" stroke="#111" stroke-width="0.35"/>
<circle cx="110.3" cy="400.5" r="1.68" fill="#3c3c3c" stroke="#111" stroke-width="0.35"/>
<circle cx="155.9" cy="405.7" r="1.68" fill="#3c3c3c" stroke="#111" stroke-width="0.35"/>
<circle cx="141.1" cy="409.5" r="1.68" fill="#3c3c3c" stroke="#111" stroke-width="0.35"/>
<circle cx="77.2" cy="402.5" r="1.68" fill="#3c3c3c" stroke="#111" stroke-width="0.35"/>
<circle cx="167.7" cy="407.8" r="1.68" fill="#3c3c3c" stroke="#111" stroke-width="0.35"/>
<circle cx="125.4" cy="401.0" r="1.68" fill="#3c3c3c" stroke="#111" stroke-width="0.35"/>
<circle cx="106.4" cy="407.9" r="1.68" fill="#3c3c3c" stroke="#111" stroke-width="0.35"/>
<circle cx="128.2" cy="404.7" r="1.68" fill="#3c3c3c" stroke="#111" stroke-width="0.35"/>
<circle cx="109.6" cy="406.2" r="1.68" fill="#3c3c3c" stroke="#111" stroke-width="0.35"/>
<circle cx="144.8" cy="406.7" r="1.68" fill="#3c3c3c" stroke="#111" stroke-width="0.35"/>
<circle cx="189.8" cy="407.3" r="1.68" fill="#3c3c3c" stroke="#111" stroke-width="0.35"/>
<circle cx="107.2" cy="402.8" r="1.68" fill="#3c3c3c" stroke="#111" stroke-width="0.35"/>
<circle cx="175.7" cy="407.6" r="1.68" fill="#3c3c3c" stroke="#111" stroke-width="0.35"/>
<circle cx="200.4" cy="402.3" r="1.68" fill="#3c3c3c" stroke="#111" stroke-width="0.35"/>
<circle cx="186.8" cy="408.5" r="1.68" fill="#3c3c3c" stroke="#111" stroke-width="0.35"/>
<circle cx="57.0" cy="403.3" r="1.68" fill="#3c3c3c" stroke="#111" stroke-width="0.35"/>
<circle cx="150.8" cy="401.8" r="1.68" fill="#3c3c3c" stroke="#111" stroke-width="0.35"/>
<circle cx="184.1" cy="402.9" r="1.68" fill="#3c3c3c" stroke="#111" stroke-width="0.35"/>
<circle cx="159.0" cy="403.2" r="1.68" fill="#3c3c3c" stroke="#111" stroke-width="0.35"/>
<circle cx="80.8" cy="402.4" r="1.68" fill="#3c3c3c" stroke="#111" stroke-width="0.35"/>
<circle cx="127.8" cy="406.9" r="1.68" fill="#3c3c3c" stroke="#111" stroke-width="0.35"/>
<circle cx="80.7" cy="406.7" r="1.68" fill="#3c3c3c" stroke="#111" stroke-width="0.35"/>
<circle cx="100.5" cy="406.3" r="1.68" fill="#3c3c3c" stroke="#111" stroke-width="0.35"/>
<circle cx="106.0" cy="402.2" r="1.68" fill="#3c3c3c" stroke="#111" stroke-width="0.35"/>
<circle cx="67.8" cy="401.0" r="1.68" fill="#3c3c3c" stroke="#111" stroke-width="0.35"/>
<circle cx="161.3" cy="404.2" r="1.68" fill="#3c3c3c" stroke="#111" stroke-width="0.35"/>
<circle cx="64.8" cy="408.4" r="1.68" fill="#3c3c3c" stroke="#111" stroke-width="0.35"/>
<circle cx="154.3" cy="400.7" r="1.68" fill="#3c3c3c" stroke="#111" stroke-width="0.35"/>
<circle cx="166.1" cy="405.9" r="1.68" fill="#3c3c3c" stroke="#111" stroke-width="0.35"/>
<circle cx="118.8" cy="405.0" r="1.68" fill="#3c3c3c" stroke="#111" stroke-width="0.35"/>
<circle cx="206.1" cy="403.9" r="1.68" fill="#3c3c3c" stroke="#111" stroke-width="0.35"/>
<circle cx="151.2" cy="406.2" r="1.68" fill="#3c3c3c" stroke="#111" stroke-width="0.35"/>
<circle cx="105.6" cy="403.6" r="1.68" fill="#3c3c3c" stroke="#111" stroke-width="0.35"/>
<circle cx="171.2" cy="406.2" r="1.68" fill="#3c3c3c" stroke="#111" stroke-width="0.35"/>
<circle cx="121.0" cy="405.1" r="1.68" fill="#3c3c3c" stroke="#111" stroke-width="0.35"/>
<circle cx="81.7" cy="407.6" r="1.68" fill="#3c3c3c" stroke="#111" stroke-width="0.35"/>
<circle cx="47.3" cy="406.3" r="1.68" fill="#3c3c3c" stroke="#111" stroke-width="0.35"/>
<circle cx="120.7" cy="402.5" r="1.68" fill="#3c3c3c" stroke="#111" stroke-width="0.35"/>
<circle cx="142.9" cy="405.7" r="1.68" fill="#3c3c3c" stroke="#111" stroke-width="0.35"/>
<circle cx="58.6" cy="404.9" r="1.68" fill="#3c3c3c" stroke="#111" stroke-width="0.35"/>
<circle cx="71.8" cy="407.7" r="1.68" fill="#3c3c3c" stroke="#111" stroke-width="0.35"/>
<circle cx="99.1" cy="403.5" r="1.68" fill="#3c3c3c" stroke="#111" stroke-width="0.35"/>
<circle cx="80.3" cy="400.9" r="1.68" fill="#3c3c3c" stroke="#111" stroke-width="0.35"/>
<circle cx="75.5" cy="401.9" r="1.68" fill="#3c3c3c" stroke="#111" stroke-width="0.35"/>
<circle cx="149.2" cy="408.1" r="1.68" fill="#3c3c3c" stroke="#111" stroke-width="0.35"/>
<circle cx="81.2" cy="401.5" r="1.68" fill="#3c3c3c" stroke="#111" stroke-width="0.35"/>
<circle cx="134.1" cy="401.5" r="1.68" fill="#3c3c3c" stroke="#111" stroke-width="0.35"/>
<circle cx="112.3" cy="407.3" r="1.68" fill="#3c3c3c" stroke="#111" stroke-width="0.35"/>
<circle cx="78.2" cy="406.8" r="1.68" fill="#3c3c3c" stroke="#111" stroke-width="0.35"/>
<circle cx="134.8" cy="401.3" r="1.68" fill="#3c3c3c" stroke="#111" stroke-width="0.35"/>
<circle cx="84.9" cy="405.9" r="1.68" fill="#3c3c3c" stroke="#111" stroke-width="0.35"/>
<circle cx="60.2" cy="402.3" r="1.68" fill="#3c3c3c" stroke="#111" stroke-width="0.35"/>
<circle cx="141.2" cy="407.9" r="1.68" fill="#3c3c3c" stroke="#111" stroke-width="0.35"/>
<circle cx="131.7" cy="406.5" r="1.68" fill="#3c3c3c" stroke="#111" stroke-width="0.35"/>
<circle cx="45.5" cy="403.2" r="1.68" fill="#3c3c3c" stroke="#111" stroke-width="0.35"/>
<circle cx="97.6" cy="408.7" r="1.68" fill="#3c3c3c" stroke="#111" stroke-width="0.35"/>
<circle cx="104.2" cy="407.6" r="1.68" fill="#3c3c3c" stroke="#111" stroke-width="0.35"/>
<circle cx="49.8" cy="405.0" r="1.68" fill="#3c3c3c" stroke="#111" stroke-width="0.35"/>
<circle cx="194.2" cy="407.4" r="1.68" fill="#3c3c3c" stroke="#111" stroke-width="0.35"/>
<circle cx="141.7" cy="402.1" r="1.68" fill="#3c3c3c" stroke="#111" stroke-width="0.35"/>
<circle cx="200.1" cy="401.2" r="1.68" fill="#3c3c3c" stroke="#111" stroke-width="0.35"/>
<circle cx="206.6" cy="407.5" r="1.68" fill="#3c3c3c" stroke="#111" stroke-width="0.35"/>
<circle cx="165.3" cy="405.3" r="1.68" fill="#3c3c3c" stroke="#111" stroke-width="0.35"/>
<circle cx="71.6" cy="403.6" r="1.68" fill="#3c3c3c" stroke="#111" stroke-width="0.35"/>
<circle cx="155.9" cy="406.4" r="1.68" fill="#3c3c3c" stroke="#111" stroke-width="0.35"/>
<circle cx="109.6" cy="407.7" r="1.68" fill="#3c3c3c" stroke="#111" stroke-width="0.35"/>
<circle cx="53.0" cy="403.1" r="1.68" fill="#3c3c3c" stroke="#111" stroke-width="0.35"/>
<circle cx="59.2" cy="403.4" r="1.68" fill="#3c3c3c" stroke="#111" stroke-width="0.35"/>
<circle cx="177.6" cy="407.3" r="1.68" fill="#3c3c3c" stroke="#111" stroke-width="0.35"/>
<circle cx="69.2" cy="403.3" r="1.68" fill="#3c3c3c" stroke="#111" stroke-width="0.35"/>
<circle cx="62.9" cy="406.5" r="1.68" fill="#3c3c3c" stroke="#111" stroke-width="0.35"/>
<circle cx="118.6" cy="402.6" r="1.68" fill="#3c3c3c" stroke="#111" stroke-width="0.35"/>
<circle cx="107.0" cy="408.3" r="1.68" fill="#3c3c3c" stroke="#111" stroke-width="0.35"/>
<circle cx="115.6" cy="406.7" r="1.68" fill="#3c3c3c" stroke="#111" stroke-width="0.35"/>
<circle cx="149.8" cy="404.8" r="1.68" fill="#3c3c3c" stroke="#111" stroke-width="0.35"/>
<circle cx="137.8" cy="403.8" r="1.68" fill="#3c3c3c" stroke="#111" stroke-width="0.35"/>
<circle cx="77.4" cy="404.9" r="1.68" fill="#3c3c3c" stroke="#111" stroke-width="0.35"/>
<circle cx="95.3" cy="403.5" r="1.68" fill="#3c3c3c" stroke="#111" stroke-width="0.35"/>
<circle cx="75.4" cy="408.7" r="1.68" fill="#3c3c3c" stroke="#111" stroke-width="0.35"/>
<circle cx="115.7" cy="402.3" r="1.68" fill="#3c3c3c" stroke="#111" stroke-width="0.35"/>
<circle cx="49.3" cy="402.4" r="1.68" fill="#3c3c3c" stroke="#111" stroke-width="0.35"/>
<circle cx="190.3" cy="403.5" r="1.68" fill="#3c3c3c" stroke="#111" stroke-width="0.35"/>
<circle cx="156.4" cy="402.6" r="1.68" fill="#3c3c3c" stroke="#111" stroke-width="0.35"/>
<circle cx="153.6" cy="404.6" r="1.68" fill="#3c3c3c" stroke="#111" stroke-width="0.35"/>
<circle cx="168.1" cy="405.3" r="1.68" fill="#3c3c3c" stroke="#111" stroke-width="0.35"/>
<circle cx="107.3" cy="403.0" r="1.68" fill="#3c3c3c" stroke="#111" stroke-width="0.35"/>
<circle cx="144.1" cy="408.0" r="1.68" fill="#3c3c3c" stroke="#111" stroke-width="0.35"/>
<circle cx="160.5" cy="404.8" r="1.68" fill="#3c3c3c" stroke="#111" stroke-width="0.35"/>
<circle cx="99.4" cy="408.5" r="1.68" fill="#3c3c3c" stroke="#111" stroke-width="0.35"/>
<circle cx="186.6" cy="401.8" r="1.68" fill="#3c3c3c" stroke="#111" stroke-width="0.35"/>
<circle cx="158.5" cy="407.4" r="1.68" fill="#3c3c3c" stroke="#111" stroke-width="0.35"/>
<circle cx="157.9" cy="409.2" r="1.68" fill="#3c3c3c" stroke="#111" stroke-width="0.35"/>
<circle cx="192.1" cy="402.7" r="1.68" fill="#3c3c3c" stroke="#111" stroke-width="0.35"/>
<circle cx="212.0" cy="403.4" r="1.68" fill="#3c3c3c" stroke="#111" stroke-width="0.35"/>
<circle cx="108.0" cy="409.3" r="1.68" fill="#3c3c3c" stroke="#111" stroke-width="0.35"/>
<circle cx="72.2" cy="404.1" r="1.68" fill="#3c3c3c" stroke="#111" stroke-width="0.35"/>
<circle cx="149.5" cy="403.0" r="1.68" fill="#3c3c3c" stroke="#111" stroke-width="0.35"/>
<circle cx="89.0" cy="407.6" r="1.68" fill="#3c3c3c" stroke="#111" stroke-width="0.35"/>
<circle cx="147.2" cy="407.2" r="1.68" fill="#3c3c3c" stroke="#111" stroke-width="0.35"/>
<circle cx="177.1" cy="408.3" r="1.68" fill="#3c3c3c" stroke="#111" stroke-width="0.35"/>
<circle cx="194.6" cy="407.9" r="1.68" fill="#3c3c3c" stroke="#111" stroke-width="0.35"/>
<circle cx="208.9" cy="405.0" r="1.68" fill="#3c3c3c" stroke="#111" stroke-width="0.35"/>
<circle cx="162.2" cy="405.1" r="1.68" fill="#3c3c3c" stroke="#111" stroke-width="0.35"/>
<circle cx="207.3" cy="406.4" r="1.68" fill="#3c3c3c" stroke="#111" stroke-width="0.35"/>
<circle cx="116.6" cy="406.5" r="1.68" fill="#3c3c3c" stroke="#111" stroke-width="0.35"/>
<circle cx="93.7" cy="401.7" r="1.68" fill="#3c3c3c" stroke="#111" stroke-width="0.35"/>
<circle cx="109.1" cy="401.7" r="1.68" fill="#3c3c3c" stroke="#111" stroke-width="0.35"/>
<circle cx="44.7" cy="401.3" r="1.68" fill="#3c3c3c" stroke="#111" stroke-width="0.35"/>
<circle cx="120.6" cy="407.4" r="1.68" fill="#3c3c3c" stroke="#111" stroke-width="0.35"/>
<circle cx="52.2" cy="406.2" r="1.68" fill="#3c3c3c" stroke="#111" stroke-width="0.35"/>
<circle cx="62.8" cy="405.1" r="1.68" fill="#3c3c3c" stroke="#111" stroke-width="0.35"/>
<circle cx="93.8" cy="404.5" r="1.68" fill="#3c3c3c" stroke="#111" stroke-width="0.35"/>
<circle cx="164.0" cy="404.2" r="1.68" fill="#3c3c3c" stroke="#111" stroke-width="0.35"/>
<circle cx="110.0" cy="407.1" r="1.68" fill="#3c3c3c" stroke="#111" stroke-width="0.35"/>
<circle cx="63.5" cy="403.6" r="1.68" fill="#3c3c3c" stroke="#111" stroke-width="0.35"/>
<circle cx="162.3" cy="408.0" r="1.68" fill="#3c3c3c" stroke="#111" stroke-width="0.35"/>
<circle cx="209.0" cy="402.8" r="1.68" fill="#3c3c3c" stroke="#111" stroke-width="0.35"/>
<circle cx="149.3" cy="403.3" r="1.68" fill="#3c3c3c" stroke="#111" stroke-width="0.35"/>
<circle cx="162.3" cy="408.1" r="1.68" fill="#3c3c3c" stroke="#111" stroke-width="0.35"/>
<circle cx="66.8" cy="403.6" r="1.68" fill="#3c3c3c" stroke="#111" stroke-width="0.35"/>
<circle cx="201.8" cy="403.7" r="1.68" fill="#3c3c3c" stroke="#111" stroke-width="0.35"/>
<circle cx="150.5" cy="407.9" r="1.68" fill="#3c3c3c" stroke="#111" stroke-width="0.35"/>
<circle cx="91.0" cy="407.6" r="1.68" fill="#3c3c3c" stroke="#111" stroke-width="0.35"/>
<circle cx="44.6" cy="403.6" r="1.68" fill="#3c3c3c" stroke="#111" stroke-width="0.35"/>
<circle cx="72.1" cy="403.6" r="1.68" fill="#3c3c3c" stroke="#111" stroke-width="0.35"/>
<circle cx="79.9" cy="400.7" r="1.68" fill="#3c3c3c" stroke="#111" stroke-width="0.35"/>
<circle cx="179.3" cy="402.1" r="1.68" fill="#3c3c3c" stroke="#111" stroke-width="0.35"/>
<circle cx="140.6" cy="405.5" r="1.68" fill="#3c3c3c" stroke="#111" stroke-width="0.35"/>
<circle cx="187.1" cy="408.1" r="1.68" fill="#3c3c3c" stroke="#111" stroke-width="0.35"/>
<circle cx="148.7" cy="402.0" r="1.68" fill="#3c3c3c" stroke="#111" stroke-width="0.35"/>
<circle cx="172.2" cy="401.4" r="1.68" fill="#3c3c3c" stroke="#111" stroke-width="0.35"/>
<circle cx="200.5" cy="403.3" r="1.68" fill="#3c3c3c" stroke="#111" stroke-width="0.35"/>
<circle cx="86.6" cy="402.4" r="1.68" fill="#3c3c3c" stroke="#111" stroke-width="0.35"/>
<circle cx="110.7" cy="407.6" r="1.68" fill="#3c3c3c" stroke="#111" stroke-width="0.35"/>
<circle cx="188.0" cy="407.2" r="1.68" fill="#3c3c3c" stroke="#111" stroke-width="0.35"/>
<circle cx="166.9" cy="402.7" r="1.68" fill="#3c3c3c" stroke="#111" stroke-width="0.35"/>
<circle cx="98.1" cy="403.2" r="1.68" fill="#3c3c3c" stroke="#111" stroke-width="0.35"/>
<circle cx="117.0" cy="408.4" r="1.68" fill="#3c3c3c" stroke="#111" stroke-width="0.35"/>
<circle cx="211.8" cy="401.3" r="1.68" fill="#3c3c3c" stroke="#111" stroke-width="0.35"/>
<circle cx="206.5" cy="408.8" r="1.68" fill="#3c3c3c" stroke="#111" stroke-width="0.35"/>
<circle cx="121.7" cy="406.7" r="1.68" fill="#3c3c3c" stroke="#111" stroke-width="0.35"/>
<circle cx="176.2" cy="402.2" r="1.68" fill="#3c3c3c" stroke="#111" stroke-width="0.35"/>
<circle cx="147.8" cy="409.3" r="1.68" fill="#3c3c3c" stroke="#111" stroke-width="0.35"/>
<circle cx="192.3" cy="408.7" r="1.68" fill="#3c3c3c" stroke="#111" stroke-width="0.35"/>
<circle cx="58.3" cy="406.9" r="1.68" fill="#3c3c3c" stroke="#111" stroke-width="0.35"/>
<circle cx="126.0" cy="408.7" r="1.68" fill="#3c3c3c" stroke="#111" stroke-width="0.35"/>
<circle cx="72.1" cy="405.4" r="1.68" fill="#3c3c3c" stroke="#111" stroke-width="0.35"/>
<circle cx="64.3" cy="407.7" r="1.68" fill="#3c3c3c" stroke="#111" stroke-width="0.35"/>
<circle cx="165.8" cy="400.8" r="1.68" fill="#3c3c3c" stroke="#111" stroke-width="0.35"/>
<circle cx="96.2" cy="401.8" r="1.68" fill="#3c3c3c" stroke="#111" stroke-width="0.35"/>
<circle cx="151.1" cy="406.2" r="1.68" fill="#3c3c3c" stroke="#111" stroke-width="0.35"/>
<circle cx="54.6" cy="409.1" r="1.68" fill="#3c3c3c" stroke="#111" stroke-width="0.35"/>
<circle cx="206.6" cy="404.5" r="1.68" fill="#3c3c3c" stroke="#111" stroke-width="0.35"/>
<circle cx="140.7" cy="403.8" r="1.68" fill="#3c3c3c" stroke="#111" stroke-width="0.35"/>
<circle cx="146.1" cy="404.1" r="1.68" fill="#3c3c3c" stroke="#111" stroke-width="0.35"/>
<circle cx="118.3" cy="407.2" r="1.68" fill="#3c3c3c" stroke="#111" stroke-width="0.35"/>
<circle cx="75.4" cy="403.2" r="1.68" fill="#3c3c3c" stroke="#111" stroke-width="0.35"/>
<circle cx="172.7" cy="402.5" r="1.68" fill="#3c3c3c" stroke="#111" stroke-width="0.35"/>
<circle cx="55.6" cy="408.7" r="1.68" fill="#3c3c3c" stroke="#111" stroke-width="0.35"/>
<circle cx="70.9" cy="404.2" r="1.68" fill="#3c3c3c" stroke="#111" stroke-width="0.35"/>
<circle cx="96.8" cy="402.9" r="1.68" fill="#3c3c3c" stroke="#111" stroke-width="0.35"/>
<circle cx="103.4" cy="405.3" r="1.68" fill="#3c3c3c" stroke="#111" stroke-width="0.35"/>
<circle cx="63.6" cy="405.3" r="1.68" fill="#3c3c3c" stroke="#111" stroke-width="0.35"/>
<circle cx="52.6" cy="401.2" r="1.68" fill="#3c3c3c" stroke="#111" stroke-width="0.35"/>
<circle cx="78.1" cy="402.7" r="1.68" fill="#3c3c3c" stroke="#111" stroke-width="0.35"/>
<circle cx="101.5" cy="403.1" r="1.68" fill="#3c3c3c" stroke="#111" stroke-width="0.35"/>
<circle cx="185.0" cy="406.4" r="1.68" fill="#3c3c3c" stroke="#111" stroke-width="0.35"/>
<circle cx="123.7" cy="407.4" r="1.68" fill="#3c3c3c" stroke="#111" stroke-width="0.35"/>
<circle cx="159.6" cy="403.3" r="1.68" fill="#3c3c3c" stroke="#111" stroke-width="0.35"/>
<circle cx="147.8" cy="407.2" r="1.68" fill="#3c3c3c" stroke="#111" stroke-width="0.35"/>
<circle cx="134.0" cy="407.3" r="1.68" fill="#3c3c3c" stroke="#111" stroke-width="0.35"/>
<circle cx="150.6" cy="408.9" r="1.68" fill="#3c3c3c" stroke="#111" stroke-width="0.35"/>
<circle cx="88.5" cy="406.5" r="1.68" fill="#3c3c3c" stroke="#111" stroke-width="0.35"/>
<circle cx="208.6" cy="405.3" r="1.68" fill="#3c3c3c" stroke="#111" stroke-width="0.35"/>
<circle cx="196.5" cy="401.4" r="1.68" fill="#3c3c3c" stroke="#111" stroke-width="0.35"/>
<circle cx="165.9" cy="402.9" r="1.68" fill="#3c3c3c" stroke="#111" stroke-width="0.35"/>
<circle cx="170.4" cy="404.3" r="1.68" fill="#3c3c3c" stroke="#111" stroke-width="0.35"/>
<circle cx="134.2" cy="402.7" r="1.68" fill="#3c3c3c" stroke="#111" stroke-width="0.35"/>
<circle cx="87.3" cy="408.3" r="1.68" fill="#3c3c3c" stroke="#111" stroke-width="0.35"/>
<circle cx="152.4" cy="406.2" r="1.68" fill="#3c3c3c" stroke="#111" stroke-width="0.35"/>
<circle cx="63.5" cy="403.1" r="1.68" fill="#3c3c3c" stroke="#111" stroke-width="0.35"/>
<circle cx="207.1" cy="402.3" r="1.68" fill="#3c3c3c" stroke="#111" stroke-width="0.35"/>
<circle cx="134.6" cy="406.8" r="1.68" fill="#3c3c3c" stroke="#111" stroke-width="0.35"/>
<circle cx="130.0" cy="405.5" r="1.68" fill="#3c3c3c" stroke="#111" stroke-width="0.35"/>
<circle cx="207.5" cy="407.5" r="1.68" fill="#3c3c3c" stroke="#111" stroke-width="0.35"/>
<circle cx="83.9" cy="404.4" r="1.68" fill="#3c3c3c" stroke="#111" stroke-width="0.35"/>
<circle cx="114.7" cy="406.7" r="1.68" fill="#3c3c3c" stroke="#111" stroke-width="0.35"/>
<circle cx="157.7" cy="402.8" r="1.68" fill="#3c3c3c" stroke="#111" stroke-width="0.35"/>
<circle cx="160.7" cy="404.4" r="1.68" fill="#3c3c3c" stroke="#111" stroke-width="0.35"/>
<circle cx="46.6" cy="403.1" r="1.68" fill="#3c3c3c" stroke="#111" stroke-width="0.35"/>
<circle cx="107.5" cy="402.3" r="1.68" fill="#3c3c3c" stroke="#111" stroke-width="0.35"/>
<circle cx="157.0" cy="409.4" r="1.68" fill="#3c3c3c" stroke="#111" stroke-width="0.35"/>
<circle cx="201.0" cy="406.2" r="1.68" fill="#3c3c3c" stroke="#111" stroke-width="0.35"/>
<circle cx="188.4" cy="404.9" r="1.68" fill="#3c3c3c" stroke="#111" stroke-width="0.35"/>
<circle cx="142.8" cy="408.5" r="1.68" fill="#3c3c3c" stroke="#111" stroke-width="0.35"/>
<circle cx="54.1" cy="403.8" r="1.68" fill="#3c3c3c" stroke="#111" stroke-width="0.35"/>
<circle cx="107.0" cy="403.6" r="1.68" fill="#3c3c3c" stroke="#111" stroke-width="0.35"/>
<circle cx="116.1" cy="401.0" r="1.68" fill="#3c3c3c" stroke="#111" stroke-width="0.35"/>
<circle cx="158.4" cy="409.1" r="1.68" fill="#3c3c3c" stroke="#111" stroke-width="0.35"/>
<circle cx="83.5" cy="402.2" r="1.68" fill="#3c3c3c" stroke="#111" stroke-width="0.35"/>
<circle cx="100.4" cy="407.7" r="1.68" fill="#3c3c3c" stroke="#111" stroke-width="0.35"/>
<circle cx="82.2" cy="407.4" r="1.68" fill="#3c3c3c" stroke="#111" stroke-width="0.35"/>
<circle cx="73.1" cy="405.9" r="1.68" fill="#3c3c3c" stroke="#111" stroke-width="0.35"/>
<circle cx="165.5" cy="406.6" r="1.68" fill="#3c3c3c" stroke="#111" stroke-width="0.35"/>
<circle cx="58.2" cy="409.1" r="1.68" fill="#3c3c3c" stroke="#111" stroke-width="0.35"/>
<circle cx="186.9" cy="404.8" r="1.68" fill="#3c3c3c" stroke="#111" stroke-width="0.35"/>
<circle cx="188.8" cy="405.9" r="1.68" fill="#3c3c3c" stroke="#111" stroke-width="0.35"/>
<circle cx="72.4" cy="404.1" r="1.68" fill="#3c3c3c" stroke="#111" stroke-width="0.35"/>
<circle cx="182.3" cy="404.7" r="1.68" fill="#3c3c3c" stroke="#111" stroke-width="0.35"/>
<circle cx="51.1" cy="402.0" r="1.68" fill="#3c3c3c" stroke="#111" stroke-width="0.35"/>
<circle cx="75.4" cy="405.8" r="1.68" fill="#3c3c3c" stroke="#111" stroke-width="0.35"/>
<circle cx="152.5" cy="404.5" r="1.68" fill="#3c3c3c" stroke="#111" stroke-width="0.35"/>
<circle cx="112.0" cy="409.2" r="1.68" fill="#3c3c3c" stroke="#111" stroke-width="0.35"/>
<circle cx="101.8" cy="406.5" r="1.68" fill="#3c3c3c" stroke="#111" stroke-width="0.35"/>
<circle cx="78.5" cy="405.1" r="1.68" fill="#3c3c3c" stroke="#111" stroke-width="0.35"/>
<circle cx="74.3" cy="401.5" r="1.68" fill="#3c3c3c" stroke="#111" stroke-width="0.35"/>
<circle cx="100.7" cy="401.5" r="1.68" fill="#3c3c3c" stroke="#111" stroke-width="0.35"/>
<circle cx="108.2" cy="406.4" r="1.68" fill="#3c3c3c" stroke="#111" stroke-width="0.35"/>
<circle cx="136.5" cy="407.7" r="1.68" fill="#3c3c3c" stroke="#111" stroke-width="0.35"/>
<circle cx="124.4" cy="401.3" r="1.68" fill="#3c3c3c" stroke="#111" stroke-width="0.35"/>
<circle cx="166.6" cy="404.1" r="1.68" fill="#3c3c3c" stroke="#111" stroke-width="0.35"/>
<circle cx="170.6" cy="409.3" r="1.68" fill="#3c3c3c" stroke="#111" stroke-width="0.35"/>
<circle cx="132.3" cy="402.8" r="1.68" fill="#3c3c3c" stroke="#111" stroke-width="0.35"/>
<circle cx="104.3" cy="405.0" r="1.68" fill="#3c3c3c" stroke="#111" stroke-width="0.35"/>
<circle cx="97.8" cy="401.4" r="1.68" fill="#3c3c3c" stroke="#111" stroke-width="0.35"/>
<circle cx="111.1" cy="406.4" r="1.68" fill="#3c3c3c" stroke="#111" stroke-width="0.35"/>
<circle cx="181.5" cy="407.4" r="1.68" fill="#3c3c3c" stroke="#111" stroke-width="0.35"/>
<circle cx="193.0" cy="407.7" r="1.68" fill="#3c3c3c" stroke="#111" stroke-width="0.35"/>
<circle cx="113.3" cy="406.3" r="1.68" fill="#3c3c3c" stroke="#111" stroke-width="0.35"/>
<circle cx="53.1" cy="407.6" r="1.68" fill="#3c3c3c" stroke="#111" stroke-width="0.35"/>
<circle cx="163.3" cy="402.9" r="1.68" fill="#3c3c3c" stroke="#111" stroke-width="0.35"/>
<circle cx="123.6" cy="402.9" r="1.68" fill="#3c3c3c" stroke="#111" stroke-width="0.35"/>
<circle cx="178.0" cy="404.3" r="1.68" fill="#3c3c3c" stroke="#111" stroke-width="0.35"/>
<circle cx="175.6" cy="408.8" r="1.68" fill="#3c3c3c" stroke="#111" stroke-width="0.35"/>
<circle cx="175.0" cy="403.9" r="1.68" fill="#3c3c3c" stroke="#111" stroke-width="0.35"/>
<circle cx="101.7" cy="409.0" r="1.68" fill="#3c3c3c" stroke="#111" stroke-width="0.35"/>
<circle cx="196.4" cy="402.2" r="1.68" fill="#3c3c3c" stroke="#111" stroke-width="0.35"/>
<circle cx="105.0" cy="407.6" r="1.68" fill="#3c3c3c" stroke="#111" stroke-width="0.35"/>
<circle cx="171.5" cy="403.0" r="1.68" fill="#3c3c3c" stroke="#111" stroke-width="0.35"/>
<circle cx="119.2" cy="409.2" r="1.68" fill="#3c3c3c" stroke="#111" stroke-width="0.35"/>
<circle cx="59.2" cy="403.0" r="1.68" fill="#3c3c3c" stroke="#111" stroke-width="0.35"/>
<circle cx="155.9" cy="408.7" r="1.68" fill="#3c3c3c" stroke="#111" stroke-width="0.35"/>
<circle cx="203.5" cy="404.7" r="1.68" fill="#3c3c3c" stroke="#111" stroke-width="0.35"/>
<circle cx="177.2" cy="409.3" r="1.68" fill="#3c3c3c" stroke="#111" stroke-width="0.35"/>
<circle cx="99.5" cy="402.5" r="1.68" fill="#3c3c3c" stroke="#111" stroke-width="0.35"/>
<circle cx="87.7" cy="407.5" r="1.68" fill="#3c3c3c" stroke="#111" stroke-width="0.35"/>
<circle cx="67.5" cy="405.4" r="1.68" fill="#3c3c3c" stroke="#111" stroke-width="0.35"/>
<circle cx="200.7" cy="402.3" r="1.68" fill="#3c3c3c" stroke="#111" stroke-width="0.35"/>
<circle cx="149.9" cy="405.3" r="1.68" fill="#3c3c3c" stroke="#111" stroke-width="0.35"/>
<circle cx="206.8" cy="405.1" r="1.68" fill="#3c3c3c" stroke="#111" stroke-width="0.35"/>
<circle cx="126.7" cy="408.6" r="1.68" fill="#3c3c3c" stroke="#111" stroke-width="0.35"/>
<circle cx="170.8" cy="401.8" r="1.68" fill="#3c3c3c" stroke="#111" stroke-width="0.35"/>
<circle cx="179.4" cy="404.1" r="1.68" fill="#3c3c3c" stroke="#111" stroke-width="0.35"/>
<circle cx="207.2" cy="409.2" r="1.68" fill="#3c3c3c" stroke="#111" stroke-width="0.35"/>
<circle cx="127.1" cy="404.2" r="1.68" fill="#3c3c3c" stroke="#111" stroke-width="0.35"/>
<circle cx="82.2" cy="403.0" r="1.68" fill="#3c3c3c" stroke="#111" stroke-width="0.35"/>
<circle cx="78.7" cy="402.0" r="1.68" fill="#3c3c3c" stroke="#111" stroke-width="0.35"/>
<circle cx="167.0" cy="401.0" r="1.68" fill="#3c3c3c" stroke="#111" stroke-width="0.35"/>
<circle cx="144.9" cy="405.9" r="1.68" fill="#3c3c3c" stroke="#111" stroke-width="0.35"/>
<circle cx="167.9" cy="405.6" r="1.68" fill="#3c3c3c" stroke="#111" stroke-width="0.35"/>
<circle cx="200.2" cy="403.0" r="1.68" fill="#3c3c3c" stroke="#111" stroke-width="0.35"/>
<circle cx="59.7" cy="405.7" r="1.68" fill="#3c3c3c" stroke="#111" stroke-width="0.35"/>
<circle cx="89.4" cy="409.4" r="1.68" fill="#3c3c3c" stroke="#111" stroke-width="0.35"/>
<circle cx="199.3" cy="406.7" r="1.68" fill="#3c3c3c" stroke="#111" stroke-width="0.35"/>
<circle cx="184.5" cy="402.7" r="1.68" fill="#3c3c3c" stroke="#111" stroke-width="0.35"/>
<circle cx="125.7" cy="403.9" r="1.68" fill="#3c3c3c" stroke="#111" stroke-width="0.35"/>
<circle cx="102.2" cy="403.9" r="1.68" fill="#3c3c3c" stroke="#111" stroke-width="0.35"/>
<circle cx="124.5" cy="406.4" r="1.68" fill="#3c3c3c" stroke="#111" stroke-width="0.35"/>
<circle cx="48.2" cy="405.4" r="1.68" fill="#3c3c3c" stroke="#111" stroke-width="0.35"/>
<circle cx="65.6" cy="409.2" r="1.68" fill="#3c3c3c" stroke="#111" stroke-width="0.35"/>
<circle cx="137.0" cy="405.8" r="1.68" fill="#3c3c3c" stroke="#111" stroke-width="0.35"/>
<circle cx="97.1" cy="406.9" r="1.68" fill="#3c3c3c" stroke="#111" stroke-width="0.35"/>
<circle cx="163.6" cy="408.7" r="1.68" fill="#3c3c3c" stroke="#111" stroke-width="0.35"/>
<circle cx="141.8" cy="402.9" r="1.68" fill="#3c3c3c" stroke="#111" stroke-width="0.35"/>
<circle cx="149.9" cy="401.0" r="1.68" fill="#3c3c3c" stroke="#111" stroke-width="0.35"/>
<circle cx="169.4" cy="403.3" r="1.68" fill="#3c3c3c" stroke="#111" stroke-width="0.35"/>
<circle cx="165.2" cy="401.7" r="1.68" fill="#3c3c3c" stroke="#111" stroke-width="0.35"/>
<circle cx="144.7" cy="402.0" r="1.68" fill="#3c3c3c" stroke="#111" stroke-width="0.35"/>
<circle cx="50.2" cy="402.9" r="1.68" fill="#3c3c3c" stroke="#111" stroke-width="0.35"/>
<circle cx="187.0" cy="404.0" r="1.68" fill="#3c3c3c" stroke="#111" stroke-width="0.35"/>
<circle cx="132.1" cy="407.6" r="1.68" fill="#3c3c3c" stroke="#111" stroke-width="0.35"/>
<circle cx="208.9" cy="402.8" r="1.68" fill="#3c3c3c" stroke="#111" stroke-width="0.35"/>
<circle cx="160.9" cy="407.5" r="1.68" fill="#3c3c3c" stroke="#111" stroke-width="0.35"/>
<circle cx="177.8" cy="403.6" r="1.68" fill="#3c3c3c" stroke="#111" stroke-width="0.35"/>
<circle cx="123.9" cy="407.6" r="1.68" fill="#3c3c3c" stroke="#111" stroke-width="0.35"/>
<circle cx="86.3" cy="404.9" r="1.68" fill="#3c3c3c" stroke="#111" stroke-width="0.35"/>
<circle cx="150.7" cy="408.2" r="1.68" fill="#3c3c3c" stroke="#111" stroke-width="0.35"/>
<circle cx="85.1" cy="406.5" r="1.68" fill="#3c3c3c" stroke="#111" stroke-width="0.35"/>
<circle cx="80.6" cy="401.9" r="1.68" fill="#3c3c3c" stroke="#111" stroke-width="0.35"/>
<circle cx="124.4" cy="406.3" r="1.68" fill="#3c3c3c" stroke="#111" stroke-width="0.35"/>
<circle cx="151.9" cy="409.0" r="1.68" fill="#3c3c3c" stroke="#111" stroke-width="0.35"/>
<circle cx="71.7" cy="405.3" r="1.68" fill="#3c3c3c" stroke="#111" stroke-width="0.35"/>
<circle cx="124.9" cy="402.8" r="1.68" fill="#3c3c3c" stroke="#111" stroke-width="0.35"/>
<circle cx="198.6" cy="401.8" r="1.68" fill="#3c3c3c" stroke="#111" stroke-width="0.35"/>
<circle cx="87.9" cy="400.9" r="1.68" fill="#3c3c3c" stroke="#111" stroke-width="0.35"/>
<circle cx="152.5" cy="406.4" r="1.68" fill="#3c3c3c" stroke="#111" stroke-width="0.35"/>
<circle cx="81.7" cy="408.8" r="1.68" fill="#3c3c3c" stroke="#111" stroke-width="0.35"/>
<circle cx="151.0" cy="402.3" r="1.68" fill="#3c3c3c" stroke="#111" stroke-width="0.35"/>
<circle cx="202.7" cy="408.2" r="1.68" fill="#3c3c3c" stroke="#111" stroke-width="0.35"/>
<circle cx="96.9" cy="408.3" r="1.68" fill="#3c3c3c" stroke="#111" stroke-width="0.35"/>
<circle cx="66.0" cy="403.6" r="1.68" fill="#3c3c3c" stroke="#111" stroke-width="0.35"/>
<circle cx="114.6" cy="409.1" r="1.68" fill="#3c3c3c" stroke="#111" stroke-width="0.35"/>
<circle cx="94.3" cy="404.0" r="1.68" fill="#3c3c3c" stroke="#111" stroke-width="0.35"/>
<circle cx="78.9" cy="407.9" r="1.68" fill="#3c3c3c" stroke="#111" stroke-width="0.35"/>
<circle cx="74.9" cy="408.1" r="1.68" fill="#3c3c3c" stroke="#111" stroke-width="0.35"/>
<circle cx="101.4" cy="405.4" r="1.68" fill="#3c3c3c" stroke="#111" stroke-width="0.35"/>
<circle cx="191.7" cy="402.9" r="1.68" fill="#3c3c3c" stroke="#111" stroke-width="0.35"/>
<circle cx="133.1" cy="406.2" r="1.68" fill="#3c3c3c" stroke="#111" stroke-width="0.35"/>
<circle cx="141.3" cy="404.2" r="1.68" fill="#3c3c3c" stroke="#111" stroke-width="0.35"/>
<circle cx="152.8" cy="403.3" r="1.68" fill="#3c3c3c" stroke="#111" stroke-width="0.35"/>
<circle cx="70.1" cy="400.6" r="1.68" fill="#3c3c3c" stroke="#111" stroke-width="0.35"/>
<circle cx="146.1" cy="405.7" r="1.68" fill="#3c3c3c" stroke="#111" stroke-width="0.35"/>
<circle cx="178.7" cy="401.9" r="1.68" fill="#3c3c3c" stroke="#111" stroke-width="0.35"/>
<circle cx="157.4" cy="404.6" r="1.68" fill="#3c3c3c" stroke="#111" stroke-width="0.35"/>
<circle cx="132.5" cy="408.0" r="1.68" fill="#3c3c3c" stroke="#111" stroke-width="0.35"/>
<circle cx="131.5" cy="404.4" r="1.68" fill="#3c3c3c" stroke="#111" stroke-width="0.35"/>
<circle cx="152.8" cy="401.8" r="1.68" fill="#3c3c3c" stroke="#111" stroke-width="0.35"/>
<circle cx="191.1" cy="405.2" r="1.68" fill="#3c3c3c" stroke="#111" stroke-width="0.35"/>
<circle cx="51.1" cy="404.8" r="1.68" fill="#3c3c3c" stroke="#111" stroke-width="0.35"/>
<circle cx="203.3" cy="409.3" r="1.68" fill="#3c3c3c" stroke="#111" stroke-width="0.35"/>
<circle cx="115.8" cy="402.9" r="1.68" fill="#3c3c3c" stroke="#111" stroke-width="0.35"/>
<circle cx="201.8" cy="403.1" r="1.68" fill="#3c3c3c" stroke="#111" stroke-width="0.35"/>
<circle cx="47.0" cy="402.7" r="1.68" fill="#3c3c3c" stroke="#111" stroke-width="0.35"/>
<circle cx="123.3" cy="406.6" r="1.68" fill="#3c3c3c" stroke="#111" stroke-width="0.35"/>
<circle cx="55.3" cy="403.5" r="1.68" fill="#3c3c3c" stroke="#111" stroke-width="0.35"/>
<circle cx="166.6" cy="403.6" r="1.68" fill="#3c3c3c" stroke="#111" stroke-width="0.35"/>
<circle cx="73.6" cy="406.9" r="1.68" fill="#3c3c3c" stroke="#111" stroke-width="0.35"/>
<circle cx="117.6" cy="406.8" r="1.68" fill="#3c3c3c" stroke="#111" stroke-width="0.35"/>
<circle cx="125.6" cy="407.8" r="1.68" fill="#3c3c3c" stroke="#111" stroke-width="0.35"/>
<circle cx="130.3" cy="409.3" r="1.68" fill="#3c3c3c" stroke="#111" stroke-width="0.35"/>
<circle cx="181.0" cy="407.0" r="1.68" fill="#3c3c3c" stroke="#111" stroke-width="0.35"/>
<circle cx="126.6" cy="406.0" r="1.68" fill="#3c3c3c" stroke="#111" stroke-width="0.35"/>
<circle cx="107.5" cy="401.2" r="1.68" fill="#3c3c3c" stroke="#111" stroke-width="0.35"/>
<circle cx="193.1" cy="407.8" r="1.68" fill="#3c3c3c" stroke="#111" stroke-width="0.35"/>
<circle cx="173.2" cy="408.2" r="1.68" fill="#3c3c3c" stroke="#111" stroke-width="0.35"/>
<circle cx="136.8" cy="409.5" r="1.68" fill="#3c3c3c" stroke="#111" stroke-width="0.35"/>
<circle cx="123.7" cy="409.3" r="1.68" fill="#3c3c3c" stroke="#111" stroke-width="0.35"/>
<circle cx="57.6" cy="403.9" r="1.68" fill="#3c3c3c" stroke="#111" stroke-width="0.35"/>
<circle cx="140.2" cy="407.9" r="1.68" fill="#3c3c3c" stroke="#111" stroke-width="0.35"/>
<circle cx="131.7" cy="407.6" r="1.68" fill="#3c3c3c" stroke="#111" stroke-width="0.35"/>
<circle cx="107.0" cy="406.6" r="1.68" fill="#3c3c3c" stroke="#111" stroke-width="0.35"/>
<circle cx="178.2" cy="405.9" r="1.68" fill="#3c3c3c" stroke="#111" stroke-width="0.35"/>
<circle cx="47.5" cy="406.4" r="1.68" fill="#3c3c3c" stroke="#111" stroke-width="0.35"/>
<circle cx="44.0" cy="403.2" r="1.68" fill="#3c3c3c" stroke="#111" stroke-width="0.35"/>
<circle cx="63.3" cy="407.4" r="1.68" fill="#3c3c3c" stroke="#111" stroke-width="0.35"/>
<circle cx="72.4" cy="407.0" r="1.68" fill="#3c3c3c" stroke="#111" stroke-width="0.35"/>
<circle cx="56.2" cy="402.4" r="1.68" fill="#3c3c3c" stroke="#111" stroke-width="0.35"/>
<circle cx="161.1" cy="408.8" r="1.68" fill="#3c3c3c" stroke="#111" stroke-width="0.35"/>
<circle cx="56.1" cy="406.0" r="1.68" fill="#3c3c3c" stroke="#111" stroke-width="0.35"/>
<circle cx="111.0" cy="406.1" r="1.68" fill="#3c3c3c" stroke="#111" stroke-width="0.35"/>
<circle cx="57.0" cy="400.7" r="1.68" fill="#3c3c3c" stroke="#111" stroke-width="0.35"/>
<circle cx="57.3" cy="408.5" r="1.68" fill="#3c3c3c" stroke="#111" stroke-width="0.35"/>
<circle cx="126.7" cy="406.0" r="1.68" fill="#3c3c3c" stroke="#111" stroke-width="0.35"/>
<circle cx="66.5" cy="406.7" r="1.68" fill="#3c3c3c" stroke="#111" stroke-width="0.35"/>
<circle cx="195.8" cy="402.3" r="1.68" fill="#3c3c3c" stroke="#111" stroke-width="0.35"/>
<circle cx="175.5" cy="408.1" r="1.68" fill="#3c3c3c" stroke="#111" stroke-width="0.35"/>
<circle cx="211.2" cy="405.6" r="1.68" fill="#3c3c3c" stroke="#111" stroke-width="0.35"/>
<circle cx="152.7" cy="403.6" r="1.68" fill="#3c3c3c" stroke="#111" stroke-width="0.35"/>
<circle cx="175.6" cy="403.3" r="1.68" fill="#3c3c3c" stroke="#111" stroke-width="0.35"/>
<circle cx="149.1" cy="406.1" r="1.68" fill="#3c3c3c" stroke="#111" stroke-width="0.35"/>
<circle cx="210.7" cy="407.6" r="1.68" fill="#3c3c3c" stroke="#111" stroke-width="0.35"/>
<circle cx="60.2" cy="402.1" r="1.68" fill="#3c3c3c" stroke="#111" stroke-width="0.35"/>
<circle cx="104.2" cy="404.1" r="1.68" fill="#3c3c3c" stroke="#111" stroke-width="0.35"/>
<circle cx="164.8" cy="402.8" r="1.68" fill="#3c3c3c" stroke="#111" stroke-width="0.35"/>
<circle cx="138.2" cy="404.6" r="1.68" fill="#3c3c3c" stroke="#111" stroke-width="0.35"/>
<circle cx="95.4" cy="406.3" r="1.68" fill="#3c3c3c" stroke="#111" stroke-width="0.35"/>
<circle cx="117.1" cy="409.3" r="1.68" fill="#3c3c3c" stroke="#111" stroke-width="0.35"/>
<circle cx="65.8" cy="408.6" r="1.68" fill="#3c3c3c" stroke="#111" stroke-width="0.35"/>
<circle cx="151.4" cy="404.6" r="1.68" fill="#3c3c3c" stroke="#111" stroke-width="0.35"/>
<circle cx="57.1" cy="406.3" r="1.68" fill="#3c3c3c" stroke="#111" stroke-width="0.35"/>
<circle cx="179.4" cy="403.6" r="1.68" fill="#3c3c3c" stroke="#111" stroke-width="0.35"/>
<circle cx="164.1" cy="405.3" r="1.68" fill="#3c3c3c" stroke="#111" stroke-width="0.35"/>
<circle cx="59.2" cy="408.2" r="1.68" fill="#3c3c3c" stroke="#111" stroke-width="0.35"/>
<circle cx="96.6" cy="404.8" r="1.68" fill="#3c3c3c" stroke="#111" stroke-width="0.35"/>
<circle cx="172.3" cy="408.4" r="1.68" fill="#3c3c3c" stroke="#111" stroke-width="0.35"/>
<circle cx="187.9" cy="403.8" r="1.68" fill="#3c3c3c" stroke="#111" stroke-width="0.35"/>
<circle cx="186.7" cy="401.9" r="1.68" fill="#3c3c3c" stroke="#111" stroke-width="0.35"/>
<circle cx="137.0" cy="404.4" r="1.68" fill="#3c3c3c" stroke="#111" stroke-width="0.35"/>
<circle cx="189.9" cy="407.0" r="1.68" fill="#3c3c3c" stroke="#111" stroke-width="0.35"/>
<circle cx="155.0" cy="407.8" r="1.68" fill="#3c3c3c" stroke="#111" stroke-width="0.35"/>
<circle cx="102.6" cy="404.5" r="1.68" fill="#3c3c3c" stroke="#111" stroke-width="0.35"/>
<circle cx="61.3" cy="403.7" r="1.68" fill="#3c3c3c" stroke="#111" stroke-width="0.35"/>
<circle cx="77.6" cy="407.1" r="1.68" fill="#3c3c3c" stroke="#111" stroke-width="0.35"/>
<circle cx="65.8" cy="408.7" r="1.68" fill="#3c3c3c" stroke="#111" stroke-width="0.35"/>
<circle cx="145.1" cy="404.5" r="1.68" fill="#3c3c3c" stroke="#111" stroke-width="0.35"/>
<circle cx="64.1" cy="404.5" r="1.68" fill="#3c3c3c" stroke="#111" stroke-width="0.35"/>
<circle cx="139.0" cy="401.8" r="1.68" fill="#3c3c3c" stroke="#111" stroke-width="0.35"/>
<circle cx="208.6" cy="403.7" r="1.68" fill="#3c3c3c" stroke="#111" stroke-width="0.35"/>
<circle cx="117.2" cy="403.1" r="1.68" fill="#3c3c3c" stroke="#111" stroke-width="0.35"/>
<circle cx="106.9" cy="403.0" r="1.68" fill="#3c3c3c" stroke="#111" stroke-width="0.35"/>
<circle cx="187.9" cy="401.1" r="1.68" fill="#3c3c3c" stroke="#111" stroke-width="0.35"/>
<circle cx="105.5" cy="405.9" r="1.68" fill="#3c3c3c" stroke="#111" stroke-width="0.35"/>
<circle cx="124.8" cy="403.4" r="1.68" fill="#3c3c3c" stroke="#111" stroke-width="0.35"/>
<circle cx="125.6" cy="401.1" r="1.68" fill="#3c3c3c" stroke="#111" stroke-width="0.35"/>
<circle cx="95.8" cy="404.4" r="1.68" fill="#3c3c3c" stroke="#111" stroke-width="0.35"/>
<circle cx="173.2" cy="404.4" r="1.68" fill="#3c3c3c" stroke="#111" stroke-width="0.35"/>
<circle cx="114.0" cy="406.4" r="1.68" fill="#3c3c3c" stroke="#111" stroke-width="0.35"/>
<circle cx="90.6" cy="405.5" r="1.68" fill="#3c3c3c" stroke="#111" stroke-width="0.35"/>
<circle cx="76.8" cy="406.1" r="1.68" fill="#3c3c3c" stroke="#111" stroke-width="0.35"/>
<circle cx="134.8" cy="406.4" r="1.68" fill="#3c3c3c" stroke="#111" stroke-width="0.35"/>
<circle cx="191.4" cy="407.7" r="1.68" fill="#3c3c3c" stroke="#111" stroke-width="0.35"/>
<circle cx="210.6" cy="402.6" r="1.68" fill="#3c3c3c" stroke="#111" stroke-width="0.35"/>
<circle cx="204.7" cy="404.5" r="1.68" fill="#3c3c3c" stroke="#111" stroke-width="0.35"/>
<circle cx="105.8" cy="404.6" r="1.68" fill="#3c3c3c" stroke="#111" stroke-width="0.35"/>
<circle cx="199.2" cy="409.1" r="1.68" fill="#3c3c3c" stroke="#111" stroke-width="0.35"/>
<circle cx="179.6" cy="403.2" r="1.68" fill="#3c3c3c" stroke="#111" stroke-width="0.35"/>
<circle cx="64.0" cy="402.3" r="1.68" fill="#3c3c3c" stroke="#111" stroke-width="0.35"/>
<circle cx="157.3" cy="406.8" r="1.68" fill="#3c3c3c" stroke="#111" stroke-width="0.35"/>
<circle cx="55.1" cy="400.5" r="1.68" fill="#3c3c3c" stroke="#111" stroke-width="0.35"/>
<circle cx="211.7" cy="403.5" r="1.68" fill="#3c3c3c" stroke="#111" stroke-width="0.35"/>
<circle cx="51.0" cy="404.7" r="1.68" fill="#3c3c3c" stroke="#111" stroke-width="0.35"/>
<circle cx="60.5" cy="407.8" r="1.68" fill="#3c3c3c" stroke="#111" stroke-width="0.35"/>
<circle cx="133.2" cy="406.0" r="1.68" fill="#3c3c3c" stroke="#111" stroke-width="0.35"/>
<circle cx="200.2" cy="401.6" r="1.68" fill="#3c3c3c" stroke="#111" stroke-width="0.35"/>
<circle cx="80.3" cy="407.6" r="1.68" fill="#3c3c3c" stroke="#111" stroke-width="0.35"/>
<circle cx="146.3" cy="404.4" r="1.68" fill="#3c3c3c" stroke="#111" stroke-width="0.35"/>
<circle cx="104.0" cy="406.1" r="1.68" fill="#3c3c3c" stroke="#111" stroke-width="0.35"/>
<circle cx="203.2" cy="409.0" r="1.68" fill="#3c3c3c" stroke="#111" stroke-width="0.35"/>
<circle cx="198.6" cy="409.3" r="1.68" fill="#3c3c3c" stroke="#111" stroke-width="0.35"/>
<circle cx="66.2" cy="400.8" r="1.68" fill="#3c3c3c" stroke="#111" stroke-width="0.35"/>
<circle cx="183.7" cy="402.7" r="1.68" fill="#3c3c3c" stroke="#111" stroke-width="0.35"/>
<circle cx="131.9" cy="404.7" r="1.68" fill="#3c3c3c" stroke="#111" stroke-width="0.35"/>
<circle cx="208.1" cy="404.5" r="1.68" fill="#3c3c3c" stroke="#111" stroke-width="0.35"/>
<circle cx="66.7" cy="402.3" r="1.68" fill="#3c3c3c" stroke="#111" stroke-width="0.35"/>
<circle cx="196.3" cy="407.8" r="1.68" fill="#3c3c3c" stroke="#111" stroke-width="0.35"/>
<circle cx="67.5" cy="409.2" r="1.68" fill="#3c3c3c" stroke="#111" stroke-width="0.35"/>
<circle cx="106.6" cy="407.0" r="1.68" fill="#3c3c3c" stroke="#111" stroke-width="0.35"/>
<circle cx="139.1" cy="408.2" r="1.68" fill="#3c3c3c" stroke="#111" stroke-width="0.35"/>
<circle cx="126.5" cy="400.8" r="1.68" fill="#3c3c3c" stroke="#111" stroke-width="0.35"/>
<circle cx="138.0" cy="408.2" r="1.68" fill="#3c3c3c" stroke="#111" stroke-width="0.35"/>
<circle cx="113.2" cy="407.9" r="1.68" fill="#3c3c3c" stroke="#111" stroke-width="0.35"/>
<circle cx="119.3" cy="403.7" r="1.68" fill="#3c3c3c" stroke="#111" stroke-width="0.35"/>
<circle cx="104.5" cy="402.6" r="1.68" fill="#3c3c3c" stroke="#111" stroke-width="0.35"/>
<circle cx="128.4" cy="409.1" r="1.68" fill="#3c3c3c" stroke="#111" stroke-width="0.35"/>
<circle cx="143.5" cy="407.4" r="1.68" fill="#3c3c3c" stroke="#111" stroke-width="0.35"/>
<circle cx="74.2" cy="403.8" r="1.68" fill="#3c3c3c" stroke="#111" stroke-width="0.35"/>
<circle cx="141.8" cy="404.0" r="1.68" fill="#3c3c3c" stroke="#111" stroke-width="0.35"/>
<circle cx="45.5" cy="408.3" r="1.68" fill="#3c3c3c" stroke="#111" stroke-width="0.35"/>
<circle cx="65.7" cy="406.4" r="1.68" fill="#3c3c3c" stroke="#111" stroke-width="0.35"/>
<circle cx="209.2" cy="403.1" r="1.68" fill="#3c3c3c" stroke="#111" stroke-width="0.35"/>
<circle cx="89.4" cy="403.5" r="1.68" fill="#3c3c3c" stroke="#111" stroke-width="0.35"/>
<circle cx="135.3" cy="409.3" r="1.68" fill="#3c3c3c" stroke="#111" stroke-width="0.35"/>
<circle cx="68.4" cy="402.7" r="1.68" fill="#3c3c3c" stroke="#111" stroke-width="0.35"/>
<circle cx="195.0" cy="403.0" r="1.68" fill="#3c3c3c" stroke="#111" stroke-width="0.35"/>
<circle cx="156.4" cy="407.0" r="1.68" fill="#3c3c3c" stroke="#111" stroke-width="0.35"/>
<circle cx="44.1" cy="400.7" r="1.68" fill="#3c3c3c" stroke="#111" stroke-width="0.35"/>
<circle cx="171.9" cy="408.8" r="1.68" fill="#3c3c3c" stroke="#111" stroke-width="0.35"/>
<circle cx="161.1" cy="404.7" r="1.68" fill="#3c3c3c" stroke="#111" stroke-width="0.35"/>
<circle cx="61.0" cy="405.2" r="1.68" fill="#3c3c3c" stroke="#111" stroke-width="0.35"/>
<circle cx="62.5" cy="403.4" r="1.68" fill="#3c3c3c" stroke="#111" stroke-width="0.35"/>
<circle cx="49.9" cy="405.1" r="1.68" fill="#3c3c3c" stroke="#111" stroke-width="0.35"/>
<circle cx="122.7" cy="403.1" r="1.68" fill="#3c3c3c" stroke="#111" stroke-width="0.35"/>
<circle cx="81.3" cy="401.1" r="1.68" fill="#3c3c3c" stroke="#111" stroke-width="0.35"/>
<circle cx="48.7" cy="401.6" r="1.68" fill="#3c3c3c" stroke="#111" stroke-width="0.35"/>
<circle cx="209.6" cy="400.8" r="1.68" fill="#3c3c3c" stroke="#111" stroke-width="0.35"/>
<circle cx="164.7" cy="404.6" r="1.68" fill="#3c3c3c" stroke="#111" stroke-width="0.35"/>
<circle cx="143.0" cy="403.2" r="1.68" fill="#3c3c3c" stroke="#111" stroke-width="0.35"/>
<circle cx="209.3" cy="407.8" r="1.68" fill="#3c3c3c" stroke="#111" stroke-width="0.35"/>
<circle cx="112.2" cy="404.4" r="1.68" fill="#3c3c3c" stroke="#111" stroke-width="0.35"/>
<circle cx="198.7" cy="401.9" r="1.68" fill="#3c3c3c" stroke="#111" stroke-width="0.35"/>
<circle cx="191.3" cy="406.1" r="1.68" fill="#3c3c3c" stroke="#111" stroke-width="0.35"/>
<circle cx="139.5" cy="405.3" r="1.68" fill="#3c3c3c" stroke="#111" stroke-width="0.35"/>
<circle cx="143.6" cy="401.3" r="1.68" fill="#3c3c3c" stroke="#111" stroke-width="0.35"/>
<circle cx="86.0" cy="403.7" r="1.68" fill="#3c3c3c" stroke="#111" stroke-width="0.35"/>
<circle cx="81.3" cy="401.3" r="1.68" fill="#3c3c3c" stroke="#111" stroke-width="0.35"/>
<circle cx="164.1" cy="404.3" r="1.68" fill="#3c3c3c" stroke="#111" stroke-width="0.35"/>
<circle cx="168.9" cy="404.0" r="1.68" fill="#3c3c3c" stroke="#111" stroke-width="0.35"/>
<circle cx="202.7" cy="402.7" r="1.68" fill="#3c3c3c" stroke="#111" stroke-width="0.35"/>
<circle cx="130.3" cy="404.3" r="1.68" fill="#3c3c3c" stroke="#111" stroke-width="0.35"/>
<circle cx="177.3" cy="401.7" r="1.68" fill="#3c3c3c" stroke="#111" stroke-width="0.35"/>
<circle cx="136.0" cy="404.6" r="1.68" fill="#3c3c3c" stroke="#111" stroke-width="0.35"/>
<circle cx="149.2" cy="402.6" r="1.68" fill="#3c3c3c" stroke="#111" stroke-width="0.35"/>
<circle cx="135.5" cy="409.4" r="1.68" fill="#3c3c3c" stroke="#111" stroke-width="0.35"/>
<circle cx="61.3" cy="409.2" r="1.68" fill="#3c3c3c" stroke="#111" stroke-width="0.35"/>
<circle cx="206.9" cy="404.5" r="1.68" fill="#3c3c3c" stroke="#111" stroke-width="0.35"/>
<circle cx="57.7" cy="405.0" r="1.68" fill="#3c3c3c" stroke="#111" stroke-width="0.35"/>
<circle cx="206.3" cy="400.5" r="1.68" fill="#3c3c3c" stroke="#111" stroke-width="0.35"/>
<circle cx="170.8" cy="407.5" r="1.68" fill="#3c3c3c" stroke="#111" stroke-width="0.35"/>
<circle cx="63.5" cy="405.9" r="1.68" fill="#3c3c3c" stroke="#111" stroke-width="0.35"/>
<circle cx="69.0" cy="401.4" r="1.68" fill="#3c3c3c" stroke="#111" stroke-width="0.35"/>
<circle cx="131.8" cy="403.2" r="1.68" fill="#3c3c3c" stroke="#111" stroke-width="0.35"/>
<circle cx="155.1" cy="405.2" r="1.68" fill="#3c3c3c" stroke="#111" stroke-width="0.35"/>
<circle cx="82.7" cy="408.8" r="1.68" fill="#3c3c3c" stroke="#111" stroke-width="0.35"/>
<circle cx="45.0" cy="407.7" r="1.68" fill="#3c3c3c" stroke="#111" stroke-width="0.35"/>
<circle cx="87.6" cy="405.5" r="1.68" fill="#00007e" stroke="#111" stroke-width="0.35"/>
<circle cx="118.3" cy="410.5" r="1.68" fill="#00007e" stroke="#111" stroke-width="0.35"/>
<circle cx="187.8" cy="405.3" r="1.68" fill="#00007e" stroke="#111" stroke-width="0.35"/>
<circle cx="199.4" cy="406.0" r="1.68" fill="#00007e" stroke="#111" stroke-width="0.35"/>
<circle cx="97.4" cy="398.7" r="1.68" fill="#00007e" stroke="#111" stroke-width="0.35"/>
<circle cx="180.1" cy="400.5" r="1.68" fill="#00007e" stroke="#111" stroke-width="0.35"/>
<circle cx="193.7" cy="398.2" r="1.68" fill="#00007e" stroke="#111" stroke-width="0.35"/>
<circle cx="96.8" cy="409.5" r="1.68" fill="#00007e" stroke="#111" stroke-width="0.35"/>
<circle cx="65.9" cy="410.4" r="1.68" fill="#00007e" stroke="#111" stroke-width="0.35"/>
<circle cx="59.3" cy="408.3" r="1.68" fill="#00007e" stroke="#111" stroke-width="0.35"/>
<circle cx="172.7" cy="409.4" r="1.68" fill="#00007e" stroke="#111" stroke-width="0.35"/>
<circle cx="118.1" cy="400.7" r="1.68" fill="#00007e" stroke="#111" stroke-width="0.35"/>
<circle cx="42.0" cy="410.4" r="1.68" fill="#00007e" stroke="#111" stroke-width="0.35"/>
<circle cx="42.4" cy="401.7" r="1.68" fill="#00007e" stroke="#111" stroke-width="0.35"/>
<circle cx="208.4" cy="399.6" r="1.68" fill="#00007e" stroke="#111" stroke-width="0.35"/>
<circle cx="182.1" cy="399.0" r="1.68" fill="#00007e" stroke="#111" stroke-width="0.35"/>
<circle cx="118.6" cy="398.4" r="1.68" fill="#00007e" stroke="#111" stroke-width="0.35"/>
<circle cx="91.5" cy="407.9" r="1.68" fill="#00007e" stroke="#111" stroke-width="0.35"/>
<circle cx="182.5" cy="409.5" r="1.68" fill="#00007e" stroke="#111" stroke-width="0.35"/>
<circle cx="56.6" cy="397.7" r="1.68" fill="#00007e" stroke="#111" stroke-width="0.35"/>
<circle cx="70.4" cy="409.7" r="1.68" fill="#00007e" stroke="#111" stroke-width="0.35"/>
<circle cx="211.7" cy="409.3" r="1.68" fill="#00007e" stroke="#111" stroke-width="0.35"/>
<circle cx="85.2" cy="398.7" r="1.68" fill="#00007e" stroke="#111" stroke-width="0.35"/>
<circle cx="68.8" cy="400.7" r="1.68" fill="#00007e" stroke="#111" stroke-width="0.35"/>
<circle cx="67.2" cy="409.6" r="1.68" fill="#00007e" stroke="#111" stroke-width="0.35"/>
<circle cx="201.1" cy="409.1" r="1.68" fill="#00007e" stroke="#111" stroke-width="0.35"/>
<circle cx="150.8" cy="399.1" r="1.68" fill="#00007e" stroke="#111" stroke-width="0.35"/>
<circle cx="46.3" cy="397.8" r="1.68" fill="#00007e" stroke="#111" stroke-width="0.35"/>
<circle cx="51.4" cy="410.7" r="1.68" fill="#00007e" stroke="#111" stroke-width="0.35"/>
<circle cx="56.4" cy="400.4" r="1.68" fill="#00007e" stroke="#111" stroke-width="0.35"/>
<circle cx="73.4" cy="410.4" r="1.68" fill="#00007e" stroke="#111" stroke-width="0.35"/>
<circle cx="136.7" cy="409.9" r="1.68" fill="#00007e" stroke="#111" stroke-width="0.35"/>
<circle cx="211.6" cy="400.9" r="1.68" fill="#00007e" stroke="#111" stroke-width="0.35"/>
<circle cx="42.6" cy="409.8" r="1.68" fill="#00007e" stroke="#111" stroke-width="0.35"/>
<circle cx="40.7" cy="402.6" r="1.68" fill="#00007e" stroke="#111" stroke-width="0.35"/>
<circle cx="134.1" cy="403.8" r="1.68" fill="#00007e" stroke="#111" stroke-width="0.35"/>
<circle cx="171.7" cy="409.7" r="1.68" fill="#00007e" stroke="#111" stroke-width="0.35"/>
<circle cx="164.9" cy="398.1" r="1.68" fill="#00007e" stroke="#111" stroke-width="0.35"/>
<circle cx="188.0" cy="410.6" r="1.68" fill="#00007e" stroke="#111" stroke-width="0.35"/>
<circle cx="93.2" cy="397.9" r="1.68" fill="#00007e" stroke="#111" stroke-width="0.35"/>
<circle cx="155.9" cy="405.6" r="1.68" fill="#00007e" stroke="#111" stroke-width="0.35"/>
<circle cx="110.6" cy="408.7" r="1.68" fill="#00007e" stroke="#111" stroke-width="0.35"/>
<circle cx="181.6" cy="409.0" r="1.68" fill="#00007e" stroke="#111" stroke-width="0.35"/>
<circle cx="145.2" cy="408.9" r="1.68" fill="#00007e" stroke="#111" stroke-width="0.35"/>
<circle cx="135.1" cy="402.4" r="1.68" fill="#00007e" stroke="#111" stroke-width="0.35"/>
<circle cx="181.4" cy="408.5" r="1.68" fill="#00007e" stroke="#111" stroke-width="0.35"/>
<circle cx="52.7" cy="410.7" r="1.68" fill="#00007e" stroke="#111" stroke-width="0.35"/>
<circle cx="206.4" cy="409.2" r="1.68" fill="#00007e" stroke="#111" stroke-width="0.35"/>
<circle cx="162.4" cy="409.0" r="1.68" fill="#00007e" stroke="#111" stroke-width="0.35"/>
<circle cx="66.3" cy="398.8" r="1.68" fill="#00007e" stroke="#111" stroke-width="0.35"/>
<circle cx="185.1" cy="410.6" r="1.68" fill="#00007e" stroke="#111" stroke-width="0.35"/>
<circle cx="175.5" cy="410.0" r="1.68" fill="#00007e" stroke="#111" stroke-width="0.35"/>
<circle cx="156.3" cy="410.7" r="1.68" fill="#00007e" stroke="#111" stroke-width="0.35"/>
<circle cx="115.1" cy="400.5" r="1.68" fill="#00007e" stroke="#111" stroke-width="0.35"/>
<circle cx="42.1" cy="408.9" r="1.68" fill="#00007e" stroke="#111" stroke-width="0.35"/>
<circle cx="166.7" cy="410.2" r="1.68" fill="#00007e" stroke="#111" stroke-width="0.35"/>
<circle cx="163.4" cy="401.6" r="1.68" fill="#00007e" stroke="#111" stroke-width="0.35"/>
<circle cx="110.5" cy="399.1" r="1.68" fill="#00007e" stroke="#111" stroke-width="0.35"/>
<circle cx="69.1" cy="400.3" r="1.68" fill="#00007e" stroke="#111" stroke-width="0.35"/>
<circle cx="116.3" cy="409.1" r="1.68" fill="#00007e" stroke="#111" stroke-width="0.35"/>
<circle cx="109.1" cy="398.7" r="1.68" fill="#00007e" stroke="#111" stroke-width="0.35"/>
<circle cx="204.5" cy="409.8" r="1.68" fill="#00007e" stroke="#111" stroke-width="0.35"/>
<circle cx="174.0" cy="407.6" r="1.68" fill="#00007e" stroke="#111" stroke-width="0.35"/>
<circle cx="112.0" cy="398.0" r="1.68" fill="#00007e" stroke="#111" stroke-width="0.35"/>
<circle cx="132.2" cy="398.2" r="1.68" fill="#00007e" stroke="#111" stroke-width="0.35"/>
<circle cx="93.4" cy="409.7" r="1.68" fill="#00007e" stroke="#111" stroke-width="0.35"/>
<circle cx="122.2" cy="406.0" r="1.68" fill="#00007e" stroke="#111" stroke-width="0.35"/>
<circle cx="198.2" cy="409.7" r="1.68" fill="#00007e" stroke="#111" stroke-width="0.35"/>
<circle cx="160.7" cy="409.9" r="1.68" fill="#00007e" stroke="#111" stroke-width="0.35"/>
<circle cx="147.3" cy="409.2" r="1.68" fill="#00007e" stroke="#111" stroke-width="0.35"/>
<circle cx="174.9" cy="410.1" r="1.68" fill="#00007e" stroke="#111" stroke-width="0.35"/>
<circle cx="111.8" cy="410.6" r="1.68" fill="#00007e" stroke="#111" stroke-width="0.35"/>
<circle cx="107.5" cy="407.4" r="1.68" fill="#00007e" stroke="#111" stroke-width="0.35"/>
<circle cx="135.0" cy="409.5" r="1.68" fill="#00007e" stroke="#111" stroke-width="0.35"/>
<circle cx="204.7" cy="410.0" r="1.68" fill="#00007e" stroke="#111" stroke-width="0.35"/>
<circle cx="73.4" cy="399.9" r="1.68" fill="#00007e" stroke="#111" stroke-width="0.35"/>
<circle cx="193.3" cy="397.9" r="1.68" fill="#00007e" stroke="#111" stroke-width="0.35"/>
<circle cx="177.0" cy="400.8" r="1.68" fill="#00007e" stroke="#111" stroke-width="0.35"/>
<circle cx="128.9" cy="409.7" r="1.68" fill="#00007e" stroke="#111" stroke-width="0.35"/>
<circle cx="136.2" cy="399.7" r="1.68" fill="#00007e" stroke="#111" stroke-width="0.35"/>
<circle cx="188.5" cy="398.2" r="1.68" fill="#00007e" stroke="#111" stroke-width="0.35"/>
<circle cx="188.0" cy="398.1" r="1.68" fill="#00007e" stroke="#111" stroke-width="0.35"/>
<circle cx="118.7" cy="405.2" r="1.68" fill="#00007e" stroke="#111" stroke-width="0.35"/>
<circle cx="59.7" cy="406.6" r="1.68" fill="#00007e" stroke="#111" stroke-width="0.35"/>
<circle cx="72.8" cy="400.5" r="1.68" fill="#00007e" stroke="#111" stroke-width="0.35"/>
<circle cx="138.7" cy="404.8" r="1.68" fill="#00007e" stroke="#111" stroke-width="0.35"/>
<circle cx="40.6" cy="400.4" r="1.68" fill="#00007e" stroke="#111" stroke-width="0.35"/>
<circle cx="197.9" cy="400.8" r="1.68" fill="#00007e" stroke="#111" stroke-width="0.35"/>
<circle cx="178.3" cy="397.7" r="1.68" fill="#00007e" stroke="#111" stroke-width="0.35"/>
<circle cx="67.7" cy="410.7" r="1.68" fill="#00007e" stroke="#111" stroke-width="0.35"/>
<circle cx="179.0" cy="407.0" r="1.68" fill="#00007e" stroke="#111" stroke-width="0.35"/>
<circle cx="117.4" cy="397.6" r="1.68" fill="#00007e" stroke="#111" stroke-width="0.35"/>
<circle cx="66.4" cy="408.9" r="1.68" fill="#00007e" stroke="#111" stroke-width="0.35"/>
<circle cx="94.0" cy="398.1" r="1.68" fill="#00007e" stroke="#111" stroke-width="0.35"/>
<circle cx="69.4" cy="409.7" r="1.68" fill="#00007e" stroke="#111" stroke-width="0.35"/>
<circle cx="184.2" cy="410.2" r="1.68" fill="#00007e" stroke="#111" stroke-width="0.35"/>
<circle cx="163.1" cy="400.3" r="1.68" fill="#00007e" stroke="#111" stroke-width="0.35"/>
<circle cx="125.6" cy="409.1" r="1.68" fill="#00007e" stroke="#111" stroke-width="0.35"/>
<circle cx="86.9" cy="410.0" r="1.68" fill="#00007e" stroke="#111" stroke-width="0.35"/>
<circle cx="125.1" cy="409.1" r="1.68" fill="#00007e" stroke="#111" stroke-width="0.35"/>
<circle cx="167.0" cy="406.3" r="1.68" fill="#00007e" stroke="#111" stroke-width="0.35"/>
<circle cx="63.0" cy="400.3" r="1.68" fill="#00007e" stroke="#111" stroke-width="0.35"/>
<circle cx="132.1" cy="400.5" r="1.68" fill="#00007e" stroke="#111" stroke-width="0.35"/>
<circle cx="121.8" cy="398.1" r="1.68" fill="#00007e" stroke="#111" stroke-width="0.35"/>
<circle cx="184.0" cy="398.2" r="1.68" fill="#00007e" stroke="#111" stroke-width="0.35"/>
<circle cx="147.2" cy="399.1" r="1.68" fill="#00007e" stroke="#111" stroke-width="0.35"/>
<circle cx="92.8" cy="401.0" r="1.68" fill="#00007e" stroke="#111" stroke-width="0.35"/>
<circle cx="205.7" cy="409.8" r="1.68" fill="#00007e" stroke="#111" stroke-width="0.35"/>
<circle cx="104.1" cy="409.9" r="1.68" fill="#00007e" stroke="#111" stroke-width="0.35"/>
<circle cx="88.5" cy="400.4" r="1.68" fill="#00007e" stroke="#111" stroke-width="0.35"/>
<circle cx="135.2" cy="401.8" r="1.68" fill="#00007e" stroke="#111" stroke-width="0.35"/>
<circle cx="70.7" cy="410.2" r="1.68" fill="#00007e" stroke="#111" stroke-width="0.35"/>
<circle cx="88.3" cy="410.1" r="1.68" fill="#00007e" stroke="#111" stroke-width="0.35"/>
<circle cx="210.5" cy="400.8" r="1.68" fill="#00007e" stroke="#111" stroke-width="0.35"/>
<circle cx="200.7" cy="398.3" r="1.68" fill="#00007e" stroke="#111" stroke-width="0.35"/>
<circle cx="171.6" cy="408.9" r="1.68" fill="#00007e" stroke="#111" stroke-width="0.35"/>
<circle cx="103.6" cy="399.7" r="1.68" fill="#00007e" stroke="#111" stroke-width="0.35"/>
<circle cx="109.9" cy="409.1" r="1.68" fill="#00007e" stroke="#111" stroke-width="0.35"/>
<circle cx="143.0" cy="399.4" r="1.68" fill="#00007e" stroke="#111" stroke-width="0.35"/>
<circle cx="167.7" cy="400.5" r="1.68" fill="#00007e" stroke="#111" stroke-width="0.35"/>
<circle cx="198.5" cy="398.8" r="1.68" fill="#00007e" stroke="#111" stroke-width="0.35"/>
<circle cx="126.2" cy="409.2" r="1.68" fill="#00007e" stroke="#111" stroke-width="0.35"/>
<circle cx="163.8" cy="408.8" r="1.68" fill="#00007e" stroke="#111" stroke-width="0.35"/>
<circle cx="106.9" cy="408.9" r="1.68" fill="#00007e" stroke="#111" stroke-width="0.35"/>
<circle cx="42.4" cy="400.3" r="1.68" fill="#00007e" stroke="#111" stroke-width="0.35"/>
<circle cx="184.5" cy="398.3" r="1.68" fill="#00007e" stroke="#111" stroke-width="0.35"/>
<circle cx="149.5" cy="409.3" r="1.68" fill="#00007e" stroke="#111" stroke-width="0.35"/>
<circle cx="95.7" cy="409.0" r="1.68" fill="#00007e" stroke="#111" stroke-width="0.35"/>
<circle cx="210.1" cy="410.7" r="1.68" fill="#00007e" stroke="#111" stroke-width="0.35"/>
<circle cx="158.9" cy="397.9" r="1.68" fill="#00007e" stroke="#111" stroke-width="0.35"/>
<circle cx="156.9" cy="409.8" r="1.68" fill="#00007e" stroke="#111" stroke-width="0.35"/>
<circle cx="117.4" cy="400.9" r="1.68" fill="#00007e" stroke="#111" stroke-width="0.35"/>
<circle cx="39.8" cy="399.3" r="1.68" fill="#00007e" stroke="#111" stroke-width="0.35"/>
<circle cx="151.3" cy="409.5" r="1.68" fill="#00007e" stroke="#111" stroke-width="0.35"/>
<circle cx="162.6" cy="398.6" r="1.68" fill="#00007e" stroke="#111" stroke-width="0.35"/>
<circle cx="39.9" cy="410.6" r="1.68" fill="#00007e" stroke="#111" stroke-width="0.35"/>
<circle cx="86.2" cy="409.4" r="1.68" fill="#00007e" stroke="#111" stroke-width="0.35"/>
<circle cx="75.2" cy="397.7" r="1.68" fill="#00007e" stroke="#111" stroke-width="0.35"/>
<circle cx="132.5" cy="399.4" r="1.68" fill="#00007e" stroke="#111" stroke-width="0.35"/>
<circle cx="142.4" cy="409.6" r="1.68" fill="#00007e" stroke="#111" stroke-width="0.35"/>
<circle cx="168.7" cy="410.5" r="1.68" fill="#00007e" stroke="#111" stroke-width="0.35"/>
<circle cx="71.5" cy="400.6" r="1.68" fill="#00007e" stroke="#111" stroke-width="0.35"/>
<circle cx="154.0" cy="409.5" r="1.68" fill="#00007e" stroke="#111" stroke-width="0.35"/>
<circle cx="87.6" cy="398.8" r="1.68" fill="#00007e" stroke="#111" stroke-width="0.35"/>
<circle cx="184.2" cy="400.4" r="1.68" fill="#00007e" stroke="#111" stroke-width="0.35"/>
<circle cx="130.8" cy="410.2" r="1.68" fill="#00007e" stroke="#111" stroke-width="0.35"/>
<circle cx="114.3" cy="409.7" r="1.68" fill="#00007e" stroke="#111" stroke-width="0.35"/>
<circle cx="70.9" cy="409.3" r="1.68" fill="#00007e" stroke="#111" stroke-width="0.35"/>
<circle cx="204.7" cy="399.0" r="1.68" fill="#00007e" stroke="#111" stroke-width="0.35"/>
<circle cx="139.9" cy="409.9" r="1.68" fill="#00007e" stroke="#111" stroke-width="0.35"/>
<circle cx="83.8" cy="407.1" r="1.68" fill="#00007e" stroke="#111" stroke-width="0.35"/>
<circle cx="115.8" cy="398.8" r="1.68" fill="#00007e" stroke="#111" stroke-width="0.35"/>
<circle cx="172.6" cy="400.7" r="1.68" fill="#00007e" stroke="#111" stroke-width="0.35"/>
<circle cx="57.1" cy="402.0" r="1.68" fill="#00007e" stroke="#111" stroke-width="0.35"/>
<circle cx="57.8" cy="410.1" r="1.68" fill="#00007e" stroke="#111" stroke-width="0.35"/>
<circle cx="58.6" cy="400.9" r="1.68" fill="#00007e" stroke="#111" stroke-width="0.35"/>
<circle cx="174.1" cy="398.1" r="1.68" fill="#00007e" stroke="#111" stroke-width="0.35"/>
<circle cx="97.1" cy="409.5" r="1.68" fill="#00007e" stroke="#111" stroke-width="0.35"/>
<circle cx="192.4" cy="402.4" r="1.68" fill="#00007e" stroke="#111" stroke-width="0.35"/>
<circle cx="136.2" cy="400.9" r="1.68" fill="#00007e" stroke="#111" stroke-width="0.35"/>
<circle cx="116.7" cy="409.0" r="1.68" fill="#00007e" stroke="#111" stroke-width="0.35"/>
<circle cx="63.8" cy="397.8" r="1.68" fill="#00007e" stroke="#111" stroke-width="0.35"/>
<circle cx="159.0" cy="408.9" r="1.68" fill="#00007e" stroke="#111" stroke-width="0.35"/>
<circle cx="163.8" cy="400.1" r="1.68" fill="#00007e" stroke="#111" stroke-width="0.35"/>
<circle cx="138.9" cy="408.9" r="1.68" fill="#00007e" stroke="#111" stroke-width="0.35"/>
<circle cx="187.0" cy="398.4" r="1.68" fill="#00007e" stroke="#111" stroke-width="0.35"/>
<circle cx="52.8" cy="400.8" r="1.68" fill="#00007e" stroke="#111" stroke-width="0.35"/>
<circle cx="167.8" cy="408.9" r="1.68" fill="#00007e" stroke="#111" stroke-width="0.35"/>
<circle cx="60.5" cy="409.7" r="1.68" fill="#00007e" stroke="#111" stroke-width="0.35"/>
<circle cx="57.9" cy="400.4" r="1.68" fill="#00007e" stroke="#111" stroke-width="0.35"/>
<circle cx="83.9" cy="398.4" r="1.68" fill="#00007e" stroke="#111" stroke-width="0.35"/>
<circle cx="180.5" cy="409.0" r="1.68" fill="#00007e" stroke="#111" stroke-width="0.35"/>
<circle cx="46.5" cy="397.6" r="1.68" fill="#00007e" stroke="#111" stroke-width="0.35"/>
<circle cx="159.3" cy="410.6" r="1.68" fill="#00007e" stroke="#111" stroke-width="0.35"/>
<circle cx="105.5" cy="400.1" r="1.68" fill="#00007e" stroke="#111" stroke-width="0.35"/>
<circle cx="103.6" cy="399.6" r="1.68" fill="#00007e" stroke="#111" stroke-width="0.35"/>
<circle cx="141.7" cy="409.1" r="1.68" fill="#00007e" stroke="#111" stroke-width="0.35"/>
<circle cx="129.4" cy="399.0" r="1.68" fill="#00007e" stroke="#111" stroke-width="0.35"/>
<circle cx="209.5" cy="410.6" r="1.68" fill="#00007e" stroke="#111" stroke-width="0.35"/>
<circle cx="135.7" cy="409.9" r="1.68" fill="#00007e" stroke="#111" stroke-width="0.35"/>
<circle cx="71.2" cy="399.2" r="1.68" fill="#00007e" stroke="#111" stroke-width="0.35"/>
<circle cx="172.9" cy="400.6" r="1.68" fill="#00007e" stroke="#111" stroke-width="0.35"/>
<circle cx="191.1" cy="401.4" r="1.68" fill="#00007e" stroke="#111" stroke-width="0.35"/>
<circle cx="52.6" cy="397.6" r="1.68" fill="#00007e" stroke="#111" stroke-width="0.35"/>
<circle cx="60.2" cy="398.2" r="1.68" fill="#00007e" stroke="#111" stroke-width="0.35"/>
<circle cx="143.0" cy="410.1" r="1.68" fill="#00007e" stroke="#111" stroke-width="0.35"/>
<circle cx="147.1" cy="410.2" r="1.68" fill="#00007e" stroke="#111" stroke-width="0.35"/>
<circle cx="199.0" cy="400.4" r="1.68" fill="#00007e" stroke="#111" stroke-width="0.35"/>
<circle cx="158.2" cy="409.6" r="1.68" fill="#00007e" stroke="#111" stroke-width="0.35"/>
<circle cx="118.5" cy="410.1" r="1.68" fill="#00007e" stroke="#111" stroke-width="0.35"/>
<circle cx="61.1" cy="400.9" r="1.68" fill="#00007e" stroke="#111" stroke-width="0.35"/>
<circle cx="146.8" cy="397.6" r="1.68" fill="#00007e" stroke="#111" stroke-width="0.35"/>
<circle cx="58.3" cy="398.9" r="1.68" fill="#00007e" stroke="#111" stroke-width="0.35"/>
<circle cx="65.5" cy="409.3" r="1.68" fill="#00007e" stroke="#111" stroke-width="0.35"/>
<circle cx="180.1" cy="410.3" r="1.68" fill="#00007e" stroke="#111" stroke-width="0.35"/>
<circle cx="58.4" cy="400.2" r="1.68" fill="#00007e" stroke="#111" stroke-width="0.35"/>
<circle cx="191.9" cy="410.7" r="1.68" fill="#00007e" stroke="#111" stroke-width="0.35"/>
<circle cx="110.6" cy="400.4" r="1.68" fill="#00007e" stroke="#111" stroke-width="0.35"/>
<circle cx="64.8" cy="410.2" r="1.68" fill="#00007e" stroke="#111" stroke-width="0.35"/>
<circle cx="78.0" cy="409.8" r="1.68" fill="#00007e" stroke="#111" stroke-width="0.35"/>
<circle cx="68.4" cy="409.2" r="1.68" fill="#00007e" stroke="#111" stroke-width="0.35"/>
<circle cx="54.4" cy="400.5" r="1.68" fill="#00007e" stroke="#111" stroke-width="0.35"/>
<circle cx="165.9" cy="410.6" r="1.68" fill="#00007e" stroke="#111" stroke-width="0.35"/>
<circle cx="133.0" cy="397.6" r="1.68" fill="#00007e" stroke="#111" stroke-width="0.35"/>
<circle cx="100.4" cy="410.1" r="1.68" fill="#00007e" stroke="#111" stroke-width="0.35"/>
<circle cx="206.1" cy="398.6" r="1.68" fill="#00007e" stroke="#111" stroke-width="0.35"/>
<circle cx="183.3" cy="410.4" r="1.68" fill="#00007e" stroke="#111" stroke-width="0.35"/>
<circle cx="46.0" cy="406.8" r="1.68" fill="#00007e" stroke="#111" stroke-width="0.35"/>
<circle cx="210.0" cy="399.8" r="1.68" fill="#00007e" stroke="#111" stroke-width="0.35"/>
<circle cx="108.0" cy="399.4" r="1.68" fill="#00007e" stroke="#111" stroke-width="0.35"/>
<circle cx="117.9" cy="400.8" r="1.68" fill="#00007e" stroke="#111" stroke-width="0.35"/>
<circle cx="86.9" cy="410.8" r="1.68" fill="#00007e" stroke="#111" stroke-width="0.35"/>
<circle cx="97.2" cy="409.9" r="1.68" fill="#00007e" stroke="#111" stroke-width="0.35"/>
<circle cx="88.9" cy="398.5" r="1.68" fill="#00007e" stroke="#111" stroke-width="0.35"/>
<circle cx="115.4" cy="400.2" r="1.68" fill="#00007e" stroke="#111" stroke-width="0.35"/>
<circle cx="200.3" cy="402.4" r="1.68" fill="#00007e" stroke="#111" stroke-width="0.35"/>
<circle cx="174.0" cy="399.7" r="1.68" fill="#00007e" stroke="#111" stroke-width="0.35"/>
<circle cx="123.4" cy="405.1" r="1.68" fill="#00007e" stroke="#111" stroke-width="0.35"/>
<circle cx="201.7" cy="409.5" r="1.68" fill="#00007e" stroke="#111" stroke-width="0.35"/>
<circle cx="61.7" cy="399.1" r="1.68" fill="#00007e" stroke="#111" stroke-width="0.35"/>
<circle cx="94.2" cy="409.8" r="1.68" fill="#00007e" stroke="#111" stroke-width="0.35"/>
<circle cx="91.9" cy="399.7" r="1.68" fill="#00007e" stroke="#111" stroke-width="0.35"/>
<circle cx="42.0" cy="409.8" r="1.68" fill="#00007e" stroke="#111" stroke-width="0.35"/>
<circle cx="153.8" cy="400.1" r="1.68" fill="#00007e" stroke="#111" stroke-width="0.35"/>
<circle cx="114.0" cy="406.9" r="1.68" fill="#00007e" stroke="#111" stroke-width="0.35"/>
<circle cx="126.3" cy="400.3" r="1.68" fill="#00007e" stroke="#111" stroke-width="0.35"/>
<circle cx="87.4" cy="409.8" r="1.68" fill="#00007e" stroke="#111" stroke-width="0.35"/>
<circle cx="126.5" cy="409.8" r="1.68" fill="#00007e" stroke="#111" stroke-width="0.35"/>
<circle cx="198.4" cy="404.9" r="1.68" fill="#00007e" stroke="#111" stroke-width="0.35"/>
<circle cx="160.4" cy="408.9" r="1.68" fill="#00007e" stroke="#111" stroke-width="0.35"/>
<circle cx="181.6" cy="399.6" r="1.68" fill="#00007e" stroke="#111" stroke-width="0.35"/>
<circle cx="145.2" cy="402.7" r="1.68" fill="#00007e" stroke="#111" stroke-width="0.35"/>
<circle cx="137.8" cy="399.9" r="1.68" fill="#00007e" stroke="#111" stroke-width="0.35"/>
<circle cx="196.9" cy="410.4" r="1.68" fill="#00007e" stroke="#111" stroke-width="0.35"/>
<circle cx="45.0" cy="409.5" r="1.68" fill="#00007e" stroke="#111" stroke-width="0.35"/>
<circle cx="177.9" cy="405.0" r="1.68" fill="#00007e" stroke="#111" stroke-width="0.35"/>
<circle cx="135.2" cy="397.6" r="1.68" fill="#00007e" stroke="#111" stroke-width="0.35"/>
<circle cx="103.2" cy="397.7" r="1.68" fill="#00007e" stroke="#111" stroke-width="0.35"/>
<circle cx="92.2" cy="409.1" r="1.68" fill="#00007e" stroke="#111" stroke-width="0.35"/>
<circle cx="71.4" cy="410.1" r="1.68" fill="#00007e" stroke="#111" stroke-width="0.35"/>
<circle cx="186.6" cy="410.4" r="1.68" fill="#00007e" stroke="#111" stroke-width="0.35"/>
<circle cx="162.5" cy="409.2" r="1.68" fill="#00007e" stroke="#111" stroke-width="0.35"/>
<circle cx="191.2" cy="410.1" r="1.68" fill="#00007e" stroke="#111" stroke-width="0.35"/>
<circle cx="140.1" cy="400.2" r="1.68" fill="#00007e" stroke="#111" stroke-width="0.35"/>
<circle cx="180.7" cy="410.2" r="1.68" fill="#00007e" stroke="#111" stroke-width="0.35"/>
<circle cx="194.5" cy="400.9" r="1.68" fill="#00007e" stroke="#111" stroke-width="0.35"/>
<circle cx="52.9" cy="400.9" r="1.68" fill="#00007e" stroke="#111" stroke-width="0.35"/>
<circle cx="91.2" cy="409.4" r="1.68" fill="#00007e" stroke="#111" stroke-width="0.35"/>
<circle cx="103.7" cy="409.8" r="1.68" fill="#00007e" stroke="#111" stroke-width="0.35"/>
<circle cx="83.2" cy="400.8" r="1.68" fill="#00007e" stroke="#111" stroke-width="0.35"/>
<circle cx="99.2" cy="410.6" r="1.68" fill="#00007e" stroke="#111" stroke-width="0.35"/>
<circle cx="162.0" cy="400.7" r="1.68" fill="#00007e" stroke="#111" stroke-width="0.35"/>
<circle cx="209.6" cy="408.8" r="1.68" fill="#00007e" stroke="#111" stroke-width="0.35"/>
<circle cx="166.9" cy="398.9" r="1.68" fill="#00007e" stroke="#111" stroke-width="0.35"/>
<circle cx="195.9" cy="399.5" r="1.68" fill="#00007e" stroke="#111" stroke-width="0.35"/>
<circle cx="145.1" cy="409.2" r="1.68" fill="#00007e" stroke="#111" stroke-width="0.35"/>
<circle cx="89.7" cy="399.2" r="1.68" fill="#00007e" stroke="#111" stroke-width="0.35"/>
<circle cx="129.3" cy="400.8" r="1.68" fill="#00007e" stroke="#111" stroke-width="0.35"/>
<circle cx="59.1" cy="410.3" r="1.68" fill="#00007e" stroke="#111" stroke-width="0.35"/>
<circle cx="76.2" cy="399.3" r="1.68" fill="#00007e" stroke="#111" stroke-width="0.35"/>
<circle cx="155.1" cy="398.9" r="1.68" fill="#00007e" stroke="#111" stroke-width="0.35"/>
<circle cx="143.7" cy="407.6" r="1.68" fill="#00007e" stroke="#111" stroke-width="0.35"/>
<circle cx="117.9" cy="398.5" r="1.68" fill="#00007e" stroke="#111" stroke-width="0.35"/>
<circle cx="199.3" cy="409.9" r="1.68" fill="#00007e" stroke="#111" stroke-width="0.35"/>
<circle cx="171.8" cy="404.9" r="1.68" fill="#00007e" stroke="#111" stroke-width="0.35"/>
<circle cx="127.6" cy="400.1" r="1.68" fill="#00007e" stroke="#111" stroke-width="0.35"/>
<circle cx="103.3" cy="398.4" r="1.68" fill="#00007e" stroke="#111" stroke-width="0.35"/>
<circle cx="52.2" cy="409.2" r="1.68" fill="#00007e" stroke="#111" stroke-width="0.35"/>
<circle cx="109.1" cy="410.4" r="1.68" fill="#00007e" stroke="#111" stroke-width="0.35"/>
<circle cx="157.9" cy="409.2" r="1.68" fill="#00007e" stroke="#111" stroke-width="0.35"/>
<circle cx="110.8" cy="407.5" r="1.68" fill="#00007e" stroke="#111" stroke-width="0.35"/>
<circle cx="158.6" cy="410.5" r="1.68" fill="#00007e" stroke="#111" stroke-width="0.35"/>
<circle cx="126.9" cy="410.6" r="1.68" fill="#00007e" stroke="#111" stroke-width="0.35"/>
<circle cx="155.2" cy="408.9" r="1.68" fill="#00007e" stroke="#111" stroke-width="0.35"/>
<circle cx="121.0" cy="399.0" r="1.68" fill="#00007e" stroke="#111" stroke-width="0.35"/>
<circle cx="130.8" cy="410.0" r="1.68" fill="#00007e" stroke="#111" stroke-width="0.35"/>
<circle cx="109.6" cy="409.2" r="1.68" fill="#00007e" stroke="#111" stroke-width="0.35"/>
<circle cx="141.4" cy="399.4" r="1.68" fill="#00007e" stroke="#111" stroke-width="0.35"/>
<circle cx="144.0" cy="400.0" r="1.68" fill="#00007e" stroke="#111" stroke-width="0.35"/>
<circle cx="159.8" cy="410.7" r="1.68" fill="#00007e" stroke="#111" stroke-width="0.35"/>
<circle cx="124.1" cy="410.2" r="1.68" fill="#00007e" stroke="#111" stroke-width="0.35"/>
<circle cx="170.8" cy="410.0" r="1.68" fill="#00007e" stroke="#111" stroke-width="0.35"/>
<circle cx="45.4" cy="399.9" r="1.68" fill="#00007e" stroke="#111" stroke-width="0.35"/>
<circle cx="178.8" cy="400.7" r="1.68" fill="#00007e" stroke="#111" stroke-width="0.35"/>
<circle cx="110.6" cy="409.0" r="1.68" fill="#00007e" stroke="#111" stroke-width="0.35"/>
<circle cx="94.8" cy="409.3" r="1.68" fill="#00007e" stroke="#111" stroke-width="0.35"/>
<circle cx="54.4" cy="400.6" r="1.68" fill="#00007e" stroke="#111" stroke-width="0.35"/>
<circle cx="200.2" cy="409.8" r="1.68" fill="#00007e" stroke="#111" stroke-width="0.35"/>
<circle cx="130.0" cy="400.1" r="1.68" fill="#00007e" stroke="#111" stroke-width="0.35"/>
<circle cx="113.7" cy="409.4" r="1.68" fill="#00007e" stroke="#111" stroke-width="0.35"/>
<circle cx="40.5" cy="400.9" r="1.68" fill="#00007e" stroke="#111" stroke-width="0.35"/>
<circle cx="138.1" cy="399.5" r="1.68" fill="#00007e" stroke="#111" stroke-width="0.35"/>
<circle cx="207.7" cy="409.9" r="1.68" fill="#00007e" stroke="#111" stroke-width="0.35"/>
<circle cx="96.4" cy="398.3" r="1.68" fill="#00007e" stroke="#111" stroke-width="0.35"/>
<circle cx="174.5" cy="409.3" r="1.68" fill="#00007e" stroke="#111" stroke-width="0.35"/>
<circle cx="187.4" cy="409.2" r="1.68" fill="#00007e" stroke="#111" stroke-width="0.35"/>
<circle cx="200.0" cy="398.2" r="1.68" fill="#00007e" stroke="#111" stroke-width="0.35"/>
<circle cx="61.6" cy="400.4" r="1.68" fill="#00007e" stroke="#111" stroke-width="0.35"/>
<circle cx="212.1" cy="406.8" r="1.68" fill="#00007e" stroke="#111" stroke-width="0.35"/>
<circle cx="53.2" cy="399.0" r="1.68" fill="#00007e" stroke="#111" stroke-width="0.35"/>
<circle cx="131.0" cy="408.8" r="1.68" fill="#00007e" stroke="#111" stroke-width="0.35"/>
<circle cx="128.6" cy="398.4" r="1.68" fill="#00007e" stroke="#111" stroke-width="0.35"/>
<circle cx="206.7" cy="410.5" r="1.68" fill="#00007e" stroke="#111" stroke-width="0.35"/>
<circle cx="200.7" cy="410.5" r="1.68" fill="#00007e" stroke="#111" stroke-width="0.35"/>
<circle cx="145.5" cy="409.7" r="1.68" fill="#00007e" stroke="#111" stroke-width="0.35"/>
<circle cx="133.7" cy="406.8" r="1.68" fill="#00007e" stroke="#111" stroke-width="0.35"/>
<circle cx="120.8" cy="398.1" r="1.68" fill="#00007e" stroke="#111" stroke-width="0.35"/>
<circle cx="133.6" cy="405.7" r="1.68" fill="#00007e" stroke="#111" stroke-width="0.35"/>
<circle cx="142.7" cy="400.9" r="1.68" fill="#00007e" stroke="#111" stroke-width="0.35"/>
<circle cx="186.6" cy="399.8" r="1.68" fill="#00007e" stroke="#111" stroke-width="0.35"/>
<circle cx="178.8" cy="410.1" r="1.68" fill="#00007e" stroke="#111" stroke-width="0.35"/>
<circle cx="88.2" cy="398.6" r="1.68" fill="#00007e" stroke="#111" stroke-width="0.35"/>
<circle cx="206.0" cy="399.3" r="1.68" fill="#00007e" stroke="#111" stroke-width="0.35"/>
<circle cx="137.5" cy="398.4" r="1.68" fill="#00007e" stroke="#111" stroke-width="0.35"/>
<circle cx="42.7" cy="398.5" r="1.68" fill="#00007e" stroke="#111" stroke-width="0.35"/>
<circle cx="120.4" cy="409.2" r="1.68" fill="#00007e" stroke="#111" stroke-width="0.35"/>
<circle cx="208.9" cy="410.3" r="1.68" fill="#00007e" stroke="#111" stroke-width="0.35"/>
<circle cx="62.9" cy="410.2" r="1.68" fill="#00007e" stroke="#111" stroke-width="0.35"/>
<circle cx="114.4" cy="397.6" r="1.68" fill="#00007e" stroke="#111" stroke-width="0.35"/>
<circle cx="124.8" cy="398.3" r="1.68" fill="#00007e" stroke="#111" stroke-width="0.35"/>
<circle cx="163.0" cy="409.0" r="1.68" fill="#00007e" stroke="#111" stroke-width="0.35"/>
<circle cx="65.6" cy="409.6" r="1.68" fill="#00007e" stroke="#111" stroke-width="0.35"/>
<circle cx="174.9" cy="409.4" r="1.68" fill="#00007e" stroke="#111" stroke-width="0.35"/>
<circle cx="96.8" cy="410.5" r="1.68" fill="#00007e" stroke="#111" stroke-width="0.35"/>
<circle cx="183.6" cy="410.1" r="1.68" fill="#00007e" stroke="#111" stroke-width="0.35"/>
<circle cx="196.2" cy="409.6" r="1.68" fill="#00007e" stroke="#111" stroke-width="0.35"/>
<circle cx="43.1" cy="409.0" r="1.68" fill="#00007e" stroke="#111" stroke-width="0.35"/>
<circle cx="118.2" cy="410.3" r="1.68" fill="#00007e" stroke="#111" stroke-width="0.35"/>
<circle cx="104.9" cy="409.9" r="1.68" fill="#00007e" stroke="#111" stroke-width="0.35"/>
<circle cx="118.4" cy="400.1" r="1.68" fill="#00007e" stroke="#111" stroke-width="0.35"/>
<circle cx="81.6" cy="410.2" r="1.68" fill="#00007e" stroke="#111" stroke-width="0.35"/>
<circle cx="206.9" cy="399.6" r="1.68" fill="#00007e" stroke="#111" stroke-width="0.35"/>
<circle cx="96.6" cy="409.4" r="1.68" fill="#00007e" stroke="#111" stroke-width="0.35"/>
<circle cx="124.8" cy="409.4" r="1.68" fill="#00007e" stroke="#111" stroke-width="0.35"/>
<circle cx="43.5" cy="410.5" r="1.68" fill="#00007e" stroke="#111" stroke-width="0.35"/>
<circle cx="98.8" cy="402.2" r="1.68" fill="#00007e" stroke="#111" stroke-width="0.35"/>
<circle cx="101.8" cy="404.0" r="1.68" fill="#00007e" stroke="#111" stroke-width="0.35"/>
<circle cx="156.4" cy="398.9" r="1.68" fill="#00007e" stroke="#111" stroke-width="0.35"/>
<circle cx="73.6" cy="410.5" r="1.68" fill="#00007e" stroke="#111" stroke-width="0.35"/>
<circle cx="138.3" cy="400.9" r="1.68" fill="#00007e" stroke="#111" stroke-width="0.35"/>
<circle cx="190.2" cy="397.9" r="1.68" fill="#00007e" stroke="#111" stroke-width="0.35"/>
<circle cx="138.8" cy="397.9" r="1.68" fill="#00007e" stroke="#111" stroke-width="0.35"/>
<circle cx="41.7" cy="409.5" r="1.68" fill="#00007e" stroke="#111" stroke-width="0.35"/>
<circle cx="190.9" cy="408.3" r="1.68" fill="#00007e" stroke="#111" stroke-width="0.35"/>
<circle cx="94.5" cy="403.4" r="1.68" fill="#00007e" stroke="#111" stroke-width="0.35"/>
<circle cx="101.8" cy="397.6" r="1.68" fill="#00007e" stroke="#111" stroke-width="0.35"/>
<circle cx="155.8" cy="410.0" r="1.68" fill="#00007e" stroke="#111" stroke-width="0.35"/>
<circle cx="168.4" cy="410.1" r="1.68" fill="#00007e" stroke="#111" stroke-width="0.35"/>
<circle cx="127.0" cy="410.4" r="1.68" fill="#00007e" stroke="#111" stroke-width="0.35"/>
<circle cx="93.4" cy="409.6" r="1.68" fill="#00007e" stroke="#111" stroke-width="0.35"/>
<circle cx="102.1" cy="398.2" r="1.68" fill="#00007e" stroke="#111" stroke-width="0.35"/>
<circle cx="107.6" cy="399.1" r="1.68" fill="#00007e" stroke="#111" stroke-width="0.35"/>
<circle cx="97.4" cy="409.5" r="1.68" fill="#00007e" stroke="#111" stroke-width="0.35"/>
<circle cx="130.8" cy="401.0" r="1.68" fill="#00007e" stroke="#111" stroke-width="0.35"/>
<circle cx="131.4" cy="400.2" r="1.68" fill="#00007e" stroke="#111" stroke-width="0.35"/>
<circle cx="119.5" cy="410.2" r="1.68" fill="#00007e" stroke="#111" stroke-width="0.35"/>
<circle cx="183.2" cy="410.5" r="1.68" fill="#00007e" stroke="#111" stroke-width="0.35"/>
<circle cx="49.1" cy="409.6" r="1.68" fill="#00007e" stroke="#111" stroke-width="0.35"/>
<circle cx="195.9" cy="398.7" r="1.68" fill="#00007e" stroke="#111" stroke-width="0.35"/>
<circle cx="80.9" cy="399.5" r="1.68" fill="#00007e" stroke="#111" stroke-width="0.35"/>
<circle cx="142.6" cy="401.1" r="1.68" fill="#00007e" stroke="#111" stroke-width="0.35"/>
<circle cx="163.1" cy="405.5" r="1.68" fill="#00007e" stroke="#111" stroke-width="0.35"/>
<circle cx="162.0" cy="400.6" r="1.68" fill="#00007e" stroke="#111" stroke-width="0.35"/>
<circle cx="93.9" cy="400.4" r="1.68" fill="#00007e" stroke="#111" stroke-width="0.35"/>
<circle cx="66.2" cy="410.7" r="1.68" fill="#00007e" stroke="#111" stroke-width="0.35"/>
<circle cx="107.8" cy="409.6" r="1.68" fill="#00007e" stroke="#111" stroke-width="0.35"/>
<circle cx="122.1" cy="397.9" r="1.68" fill="#00007e" stroke="#111" stroke-width="0.35"/>
<circle cx="118.6" cy="410.7" r="1.68" fill="#00007e" stroke="#111" stroke-width="0.35"/>
<circle cx="187.2" cy="409.4" r="1.68" fill="#00007e" stroke="#111" stroke-width="0.35"/>
<circle cx="211.0" cy="410.2" r="1.68" fill="#00007e" stroke="#111" stroke-width="0.35"/>
<circle cx="41.4" cy="410.1" r="1.68" fill="#00007e" stroke="#111" stroke-width="0.35"/>
<circle cx="156.1" cy="398.3" r="1.68" fill="#00007e" stroke="#111" stroke-width="0.35"/>
<circle cx="108.4" cy="402.5" r="1.68" fill="#00007e" stroke="#111" stroke-width="0.35"/>
<circle cx="131.9" cy="400.5" r="1.68" fill="#00007e" stroke="#111" stroke-width="0.35"/>
<circle cx="178.5" cy="398.7" r="1.68" fill="#00007e" stroke="#111" stroke-width="0.35"/>
<circle cx="166.6" cy="400.7" r="1.68" fill="#00007e" stroke="#111" stroke-width="0.35"/>
<circle cx="164.8" cy="398.8" r="1.68" fill="#00007e" stroke="#111" stroke-width="0.35"/>
<circle cx="150.3" cy="400.7" r="1.68" fill="#00007e" stroke="#111" stroke-width="0.35"/>
<circle cx="177.2" cy="407.8" r="1.68" fill="#00007e" stroke="#111" stroke-width="0.35"/>
<circle cx="127.3" cy="400.7" r="1.68" fill="#00007e" stroke="#111" stroke-width="0.35"/>
<circle cx="88.2" cy="338.8" r="1.68" fill="#00007e" stroke="#111" stroke-width="0.35"/>
<circle cx="92.9" cy="344.4" r="1.68" fill="#00007e" stroke="#111" stroke-width="0.35"/>
<circle cx="99.9" cy="348.2" r="1.68" fill="#00007e" stroke="#111" stroke-width="0.35"/>
<circle cx="106.9" cy="351.0" r="1.68" fill="#00007e" stroke="#111" stroke-width="0.35"/>
<circle cx="106.2" cy="355.2" r="1.68" fill="#00007e" stroke="#111" stroke-width="0.35"/>
<circle cx="109.0" cy="357.3" r="1.68" fill="#00007e" stroke="#111" stroke-width="0.35"/>
<circle cx="113.9" cy="358.7" r="1.68" fill="#00007e" stroke="#111" stroke-width="0.35"/>
<circle cx="112.5" cy="361.5" r="1.68" fill="#00007e" stroke="#111" stroke-width="0.35"/>
<circle cx="109.7" cy="358.7" r="1.68" fill="#00007e" stroke="#111" stroke-width="0.35"/>
<circle cx="121.6" cy="353.8" r="1.68" fill="#00007e" stroke="#111" stroke-width="0.35"/>
<circle cx="124.5" cy="353.1" r="1.68" fill="#00007e" stroke="#111" stroke-width="0.35"/>
<circle cx="90.1" cy="357.3" r="1.68" fill="#00007e" stroke="#111" stroke-width="0.35"/>
<circle cx="92.2" cy="357.3" r="1.68" fill="#00007e" stroke="#111" stroke-width="0.35"/>
<circle cx="68.3" cy="366.0" r="1.68" fill="#00007e" stroke="#111" stroke-width="0.35"/>
<circle cx="54.3" cy="370.6" r="1.68" fill="#00007e" stroke="#111" stroke-width="0.35"/>
<circle cx="85.8" cy="367.1" r="1.68" fill="#00007e" stroke="#111" stroke-width="0.35"/>
<circle cx="81.6" cy="373.4" r="1.68" fill="#00007e" stroke="#111" stroke-width="0.35"/>
<circle cx="90.8" cy="374.1" r="1.68" fill="#00007e" stroke="#111" stroke-width="0.35"/>
<circle cx="93.6" cy="373.4" r="1.68" fill="#00007e" stroke="#111" stroke-width="0.35"/>
<circle cx="96.4" cy="373.4" r="1.68" fill="#00007e" stroke="#111" stroke-width="0.35"/>
<circle cx="98.5" cy="372.0" r="1.68" fill="#00007e" stroke="#111" stroke-width="0.35"/>
<circle cx="105.5" cy="372.7" r="1.68" fill="#00007e" stroke="#111" stroke-width="0.35"/>
<circle cx="104.8" cy="378.4" r="1.68" fill="#00007e" stroke="#111" stroke-width="0.35"/>
<circle cx="109.0" cy="379.1" r="1.68" fill="#00007e" stroke="#111" stroke-width="0.35"/>
<circle cx="115.3" cy="374.1" r="1.68" fill="#00007e" stroke="#111" stroke-width="0.35"/>
<circle cx="118.8" cy="374.1" r="1.68" fill="#00007e" stroke="#111" stroke-width="0.35"/>
<circle cx="122.4" cy="373.4" r="1.68" fill="#00007e" stroke="#111" stroke-width="0.35"/>
<circle cx="125.9" cy="372.0" r="1.68" fill="#00007e" stroke="#111" stroke-width="0.35"/>
<circle cx="122.4" cy="378.4" r="1.68" fill="#00007e" stroke="#111" stroke-width="0.35"/>
<circle cx="110.4" cy="382.6" r="1.68" fill="#00007e" stroke="#111" stroke-width="0.35"/>
<circle cx="120.2" cy="380.5" r="1.68" fill="#00007e" stroke="#111" stroke-width="0.35"/>
<circle cx="69.7" cy="375.5" r="1.68" fill="#00007e" stroke="#111" stroke-width="0.35"/>
<circle cx="73.2" cy="374.8" r="1.68" fill="#00007e" stroke="#111" stroke-width="0.35"/>
<circle cx="76.7" cy="375.5" r="1.68" fill="#00007e" stroke="#111" stroke-width="0.35"/>
<circle cx="61.3" cy="379.1" r="1.68" fill="#00007e" stroke="#111" stroke-width="0.35"/>
<circle cx="62.7" cy="379.8" r="1.68" fill="#00007e" stroke="#111" stroke-width="0.35"/>
<circle cx="76.7" cy="379.1" r="1.68" fill="#00007e" stroke="#111" stroke-width="0.35"/>
<circle cx="92.9" cy="384.0" r="1.68" fill="#00007e" stroke="#111" stroke-width="0.35"/>
<circle cx="95.7" cy="385.4" r="1.68" fill="#00007e" stroke="#111" stroke-width="0.35"/>
<circle cx="89.4" cy="386.8" r="1.68" fill="#00007e" stroke="#111" stroke-width="0.35"/>
<circle cx="106.2" cy="384.0" r="1.68" fill="#00007e" stroke="#111" stroke-width="0.35"/>
<circle cx="113.9" cy="386.8" r="1.68" fill="#00007e" stroke="#111" stroke-width="0.35"/>
<circle cx="51.4" cy="391.0" r="1.68" fill="#00007e" stroke="#111" stroke-width="0.35"/>
<circle cx="54.3" cy="390.7" r="1.68" fill="#00007e" stroke="#111" stroke-width="0.35"/>
<circle cx="57.1" cy="391.0" r="1.68" fill="#00007e" stroke="#111" stroke-width="0.35"/>
<circle cx="66.9" cy="391.0" r="1.68" fill="#00007e" stroke="#111" stroke-width="0.35"/>
<circle cx="59.2" cy="393.8" r="1.68" fill="#00007e" stroke="#111" stroke-width="0.35"/>
<circle cx="64.1" cy="395.2" r="1.68" fill="#00007e" stroke="#111" stroke-width="0.35"/>
<circle cx="73.9" cy="391.0" r="1.68" fill="#00007e" stroke="#111" stroke-width="0.35"/>
<circle cx="86.5" cy="391.0" r="1.68" fill="#00007e" stroke="#111" stroke-width="0.35"/>
<circle cx="97.8" cy="392.4" r="1.68" fill="#00007e" stroke="#111" stroke-width="0.35"/>
<circle cx="108.3" cy="391.0" r="1.68" fill="#00007e" stroke="#111" stroke-width="0.35"/>
<circle cx="39.5" cy="399.4" r="1.68" fill="#00007e" stroke="#111" stroke-width="0.35"/>
<circle cx="44.4" cy="401.5" r="1.68" fill="#00007e" stroke="#111" stroke-width="0.35"/>
<circle cx="48.6" cy="398.0" r="1.68" fill="#00007e" stroke="#111" stroke-width="0.35"/>
<circle cx="54.3" cy="397.3" r="1.68" fill="#00007e" stroke="#111" stroke-width="0.35"/>
<circle cx="159.4" cy="342.6" r="1.68" fill="#00007e" stroke="#111" stroke-width="0.35"/>
<circle cx="159.8" cy="346.1" r="1.68" fill="#00007e" stroke="#111" stroke-width="0.35"/>
<circle cx="165.0" cy="350.0" r="1.68" fill="#00007e" stroke="#111" stroke-width="0.35"/>
<circle cx="141.1" cy="348.2" r="1.68" fill="#00007e" stroke="#111" stroke-width="0.35"/>
<circle cx="144.0" cy="349.6" r="1.68" fill="#00007e" stroke="#111" stroke-width="0.35"/>
<circle cx="146.1" cy="353.1" r="1.68" fill="#00007e" stroke="#111" stroke-width="0.35"/>
<circle cx="149.6" cy="352.4" r="1.68" fill="#00007e" stroke="#111" stroke-width="0.35"/>
<circle cx="153.8" cy="351.7" r="1.68" fill="#00007e" stroke="#111" stroke-width="0.35"/>
<circle cx="156.6" cy="351.0" r="1.68" fill="#00007e" stroke="#111" stroke-width="0.35"/>
<circle cx="158.7" cy="353.1" r="1.68" fill="#00007e" stroke="#111" stroke-width="0.35"/>
<circle cx="125.0" cy="353.1" r="1.68" fill="#00007e" stroke="#111" stroke-width="0.35"/>
<circle cx="162.2" cy="358.0" r="1.68" fill="#00007e" stroke="#111" stroke-width="0.35"/>
<circle cx="164.3" cy="358.7" r="1.68" fill="#00007e" stroke="#111" stroke-width="0.35"/>
<circle cx="165.0" cy="361.5" r="1.68" fill="#00007e" stroke="#111" stroke-width="0.35"/>
<circle cx="151.7" cy="359.4" r="1.68" fill="#00007e" stroke="#111" stroke-width="0.35"/>
<circle cx="149.6" cy="362.2" r="1.68" fill="#00007e" stroke="#111" stroke-width="0.35"/>
<circle cx="146.8" cy="364.3" r="1.68" fill="#00007e" stroke="#111" stroke-width="0.35"/>
<circle cx="131.3" cy="362.2" r="1.68" fill="#00007e" stroke="#111" stroke-width="0.35"/>
<circle cx="126.4" cy="360.1" r="1.68" fill="#00007e" stroke="#111" stroke-width="0.35"/>
<circle cx="174.8" cy="358.7" r="1.68" fill="#00007e" stroke="#111" stroke-width="0.35"/>
<circle cx="178.4" cy="357.3" r="1.68" fill="#00007e" stroke="#111" stroke-width="0.35"/>
<circle cx="175.5" cy="360.8" r="1.68" fill="#00007e" stroke="#111" stroke-width="0.35"/>
<circle cx="179.8" cy="362.2" r="1.68" fill="#00007e" stroke="#111" stroke-width="0.35"/>
<circle cx="181.9" cy="363.6" r="1.68" fill="#00007e" stroke="#111" stroke-width="0.35"/>
<circle cx="179.1" cy="365.7" r="1.68" fill="#00007e" stroke="#111" stroke-width="0.35"/>
<circle cx="182.6" cy="369.9" r="1.68" fill="#00007e" stroke="#111" stroke-width="0.35"/>
<circle cx="142.6" cy="366.4" r="1.68" fill="#00007e" stroke="#111" stroke-width="0.35"/>
<circle cx="152.4" cy="367.1" r="1.68" fill="#00007e" stroke="#111" stroke-width="0.35"/>
<circle cx="155.2" cy="369.2" r="1.68" fill="#00007e" stroke="#111" stroke-width="0.35"/>
<circle cx="156.6" cy="371.3" r="1.68" fill="#00007e" stroke="#111" stroke-width="0.35"/>
<circle cx="164.3" cy="367.1" r="1.68" fill="#00007e" stroke="#111" stroke-width="0.35"/>
<circle cx="166.4" cy="369.2" r="1.68" fill="#00007e" stroke="#111" stroke-width="0.35"/>
<circle cx="168.5" cy="372.7" r="1.68" fill="#00007e" stroke="#111" stroke-width="0.35"/>
<circle cx="169.9" cy="374.8" r="1.68" fill="#00007e" stroke="#111" stroke-width="0.35"/>
<circle cx="147.5" cy="372.0" r="1.68" fill="#00007e" stroke="#111" stroke-width="0.35"/>
<circle cx="139.0" cy="370.6" r="1.68" fill="#00007e" stroke="#111" stroke-width="0.35"/>
<circle cx="130.6" cy="370.0" r="1.68" fill="#00007e" stroke="#111" stroke-width="0.35"/>
<circle cx="136.9" cy="378.4" r="1.68" fill="#00007e" stroke="#111" stroke-width="0.35"/>
<circle cx="139.7" cy="377.7" r="1.68" fill="#00007e" stroke="#111" stroke-width="0.35"/>
<circle cx="190.3" cy="371.3" r="1.68" fill="#00007e" stroke="#111" stroke-width="0.35"/>
<circle cx="196.6" cy="368.5" r="1.68" fill="#00007e" stroke="#111" stroke-width="0.35"/>
<circle cx="197.3" cy="371.3" r="1.68" fill="#00007e" stroke="#111" stroke-width="0.35"/>
<circle cx="199.4" cy="374.1" r="1.68" fill="#00007e" stroke="#111" stroke-width="0.35"/>
<circle cx="202.9" cy="374.8" r="1.68" fill="#00007e" stroke="#111" stroke-width="0.35"/>
<circle cx="191.0" cy="375.5" r="1.68" fill="#00007e" stroke="#111" stroke-width="0.35"/>
<circle cx="193.8" cy="377.7" r="1.68" fill="#00007e" stroke="#111" stroke-width="0.35"/>
<circle cx="190.3" cy="379.1" r="1.68" fill="#00007e" stroke="#111" stroke-width="0.35"/>
<circle cx="162.9" cy="379.1" r="1.68" fill="#00007e" stroke="#111" stroke-width="0.35"/>
<circle cx="160.1" cy="381.9" r="1.68" fill="#00007e" stroke="#111" stroke-width="0.35"/>
<circle cx="165.7" cy="381.9" r="1.68" fill="#00007e" stroke="#111" stroke-width="0.35"/>
<circle cx="168.5" cy="380.5" r="1.68" fill="#00007e" stroke="#111" stroke-width="0.35"/>
<circle cx="171.3" cy="379.8" r="1.68" fill="#00007e" stroke="#111" stroke-width="0.35"/>
<circle cx="174.1" cy="381.2" r="1.68" fill="#00007e" stroke="#111" stroke-width="0.35"/>
<circle cx="178.4" cy="378.4" r="1.68" fill="#00007e" stroke="#111" stroke-width="0.35"/>
<circle cx="181.2" cy="381.2" r="1.68" fill="#00007e" stroke="#111" stroke-width="0.35"/>
<circle cx="186.8" cy="382.6" r="1.68" fill="#00007e" stroke="#111" stroke-width="0.35"/>
<circle cx="191.0" cy="384.0" r="1.68" fill="#00007e" stroke="#111" stroke-width="0.35"/>
<circle cx="195.2" cy="382.6" r="1.68" fill="#00007e" stroke="#111" stroke-width="0.35"/>
<circle cx="198.0" cy="381.2" r="1.68" fill="#00007e" stroke="#111" stroke-width="0.35"/>
<circle cx="156.6" cy="384.0" r="1.68" fill="#00007e" stroke="#111" stroke-width="0.35"/>
<circle cx="157.3" cy="386.8" r="1.68" fill="#00007e" stroke="#111" stroke-width="0.35"/>
<circle cx="169.9" cy="385.4" r="1.68" fill="#00007e" stroke="#111" stroke-width="0.35"/>
<circle cx="172.7" cy="386.8" r="1.68" fill="#00007e" stroke="#111" stroke-width="0.35"/>
<circle cx="174.8" cy="384.0" r="1.68" fill="#00007e" stroke="#111" stroke-width="0.35"/>
<circle cx="178.4" cy="384.0" r="1.68" fill="#00007e" stroke="#111" stroke-width="0.35"/>
<circle cx="168.5" cy="388.9" r="1.68" fill="#00007e" stroke="#111" stroke-width="0.35"/>
<circle cx="171.3" cy="390.3" r="1.68" fill="#00007e" stroke="#111" stroke-width="0.35"/>
<circle cx="174.1" cy="391.0" r="1.68" fill="#00007e" stroke="#111" stroke-width="0.35"/>
<circle cx="177.0" cy="392.4" r="1.68" fill="#00007e" stroke="#111" stroke-width="0.35"/>
<circle cx="167.1" cy="392.4" r="1.68" fill="#00007e" stroke="#111" stroke-width="0.35"/>
<circle cx="141.1" cy="385.4" r="1.68" fill="#00007e" stroke="#111" stroke-width="0.35"/>
<circle cx="144.0" cy="386.8" r="1.68" fill="#00007e" stroke="#111" stroke-width="0.35"/>
<circle cx="139.7" cy="387.5" r="1.68" fill="#00007e" stroke="#111" stroke-width="0.35"/>
<circle cx="127.8" cy="385.4" r="1.68" fill="#00007e" stroke="#111" stroke-width="0.35"/>
<circle cx="127.8" cy="392.4" r="1.68" fill="#00007e" stroke="#111" stroke-width="0.35"/>
<circle cx="151.7" cy="390.3" r="1.68" fill="#00007e" stroke="#111" stroke-width="0.35"/>
<circle cx="186.1" cy="388.9" r="1.68" fill="#00007e" stroke="#111" stroke-width="0.35"/>
<circle cx="191.7" cy="389.6" r="1.68" fill="#00007e" stroke="#111" stroke-width="0.35"/>
<circle cx="195.2" cy="389.6" r="1.68" fill="#00007e" stroke="#111" stroke-width="0.35"/>
<circle cx="198.7" cy="392.4" r="1.68" fill="#00007e" stroke="#111" stroke-width="0.35"/>
<circle cx="188.9" cy="393.8" r="1.68" fill="#00007e" stroke="#111" stroke-width="0.35"/>
<circle cx="154.5" cy="396.6" r="1.68" fill="#00007e" stroke="#111" stroke-width="0.35"/>
<circle cx="146.1" cy="396.6" r="1.68" fill="#00007e" stroke="#111" stroke-width="0.35"/>
<circle cx="137.6" cy="395.9" r="1.68" fill="#00007e" stroke="#111" stroke-width="0.35"/>
<circle cx="179.1" cy="396.6" r="1.68" fill="#00007e" stroke="#111" stroke-width="0.35"/>
<circle cx="125.0" cy="371.3" r="1.68" fill="#00007e" stroke="#111" stroke-width="0.35"/>
<circle cx="125.0" cy="374.1" r="1.68" fill="#00007e" stroke="#111" stroke-width="0.35"/>
<circle cx="127.1" cy="375.5" r="1.68" fill="#00007e" stroke="#111" stroke-width="0.35"/>
<circle cx="125.0" cy="379.8" r="1.68" fill="#00007e" stroke="#111" stroke-width="0.35"/>
<circle cx="100.0" cy="387.0" r="1.68" fill="#00007e" stroke="#111" stroke-width="0.35"/>
<circle cx="103.0" cy="390.0" r="1.68" fill="#00007e" stroke="#111" stroke-width="0.35"/>
<circle cx="117.0" cy="393.0" r="1.68" fill="#00007e" stroke="#111" stroke-width="0.35"/>
<circle cx="120.0" cy="389.0" r="1.68" fill="#00007e" stroke="#111" stroke-width="0.35"/>
<circle cx="131.0" cy="389.0" r="1.68" fill="#00007e" stroke="#111" stroke-width="0.35"/>
<circle cx="135.0" cy="393.0" r="1.68" fill="#00007e" stroke="#111" stroke-width="0.35"/>
<circle cx="150.0" cy="380.0" r="1.68" fill="#00007e" stroke="#111" stroke-width="0.35"/>
<circle cx="158.0" cy="392.0" r="1.68" fill="#00007e" stroke="#111" stroke-width="0.35"/>
<circle cx="183.0" cy="374.0" r="1.68" fill="#00007e" stroke="#111" stroke-width="0.35"/>
<circle cx="186.0" cy="376.0" r="1.68" fill="#00007e" stroke="#111" stroke-width="0.35"/>
<circle cx="203.0" cy="381.0" r="1.68" fill="#00007e" stroke="#111" stroke-width="0.35"/>
<circle cx="205.0" cy="386.0" r="1.68" fill="#00007e" stroke="#111" stroke-width="0.35"/>
<circle cx="208.0" cy="392.0" r="1.68" fill="#00007e" stroke="#111" stroke-width="0.35"/>
<circle cx="200.0" cy="385.0" r="1.68" fill="#00007e" stroke="#111" stroke-width="0.35"/>
<circle cx="185.0" cy="395.0" r="1.68" fill="#00007e" stroke="#111" stroke-width="0.35"/>
<circle cx="193.0" cy="397.0" r="1.68" fill="#00007e" stroke="#111" stroke-width="0.35"/>
<circle cx="165.0" cy="396.0" r="1.68" fill="#00007e" stroke="#111" stroke-width="0.35"/>
<circle cx="115.0" cy="367.0" r="1.68" fill="#00007e" stroke="#111" stroke-width="0.35"/>
<circle cx="118.0" cy="363.0" r="1.68" fill="#00007e" stroke="#111" stroke-width="0.35"/>
<circle cx="121.0" cy="368.0" r="1.68" fill="#00007e" stroke="#111" stroke-width="0.35"/>
<circle cx="94.0" cy="367.0" r="1.68" fill="#00007e" stroke="#111" stroke-width="0.35"/>
<circle cx="60.0" cy="388.0" r="1.68" fill="#00007e" stroke="#111" stroke-width="0.35"/>
<circle cx="47.0" cy="393.0" r="1.68" fill="#00007e" stroke="#111" stroke-width="0.35"/>
<circle cx="40.0" cy="394.0" r="1.68" fill="#00007e" stroke="#111" stroke-width="0.35"/>
<circle cx="81.2" cy="330.6" r="1.68" fill="#87cefa" stroke="#111" stroke-width="0.35"/>
<circle cx="78.8" cy="336.0" r="1.68" fill="#87cefa" stroke="#111" stroke-width="0.35"/>
<circle cx="83.7" cy="336.0" r="1.68" fill="#87cefa" stroke="#111" stroke-width="0.35"/>
<circle cx="78.8" cy="339.0" r="1.68" fill="#87cefa" stroke="#111" stroke-width="0.35"/>
<circle cx="82.1" cy="341.6" r="1.68" fill="#87cefa" stroke="#111" stroke-width="0.35"/>
<circle cx="78.8" cy="347.5" r="1.68" fill="#87cefa" stroke="#111" stroke-width="0.35"/>
<circle cx="83.0" cy="346.0" r="1.68" fill="#87cefa" stroke="#111" stroke-width="0.35"/>
<circle cx="85.1" cy="344.7" r="1.68" fill="#87cefa" stroke="#111" stroke-width="0.35"/>
<circle cx="86.5" cy="347.5" r="1.68" fill="#87cefa" stroke="#111" stroke-width="0.35"/>
<circle cx="84.4" cy="350.3" r="1.68" fill="#87cefa" stroke="#111" stroke-width="0.35"/>
<circle cx="88.0" cy="350.3" r="1.68" fill="#87cefa" stroke="#111" stroke-width="0.35"/>
<circle cx="92.2" cy="350.3" r="1.68" fill="#87cefa" stroke="#111" stroke-width="0.35"/>
<circle cx="83.7" cy="353.1" r="1.68" fill="#87cefa" stroke="#111" stroke-width="0.35"/>
<circle cx="93.6" cy="353.1" r="1.68" fill="#87cefa" stroke="#111" stroke-width="0.35"/>
<circle cx="95.0" cy="355.9" r="1.68" fill="#87cefa" stroke="#111" stroke-width="0.35"/>
<circle cx="97.8" cy="355.2" r="1.68" fill="#87cefa" stroke="#111" stroke-width="0.35"/>
<circle cx="100.6" cy="355.9" r="1.68" fill="#87cefa" stroke="#111" stroke-width="0.35"/>
<circle cx="97.8" cy="358.7" r="1.68" fill="#87cefa" stroke="#111" stroke-width="0.35"/>
<circle cx="101.3" cy="359.4" r="1.68" fill="#87cefa" stroke="#111" stroke-width="0.35"/>
<circle cx="84.4" cy="359.4" r="1.68" fill="#87cefa" stroke="#111" stroke-width="0.35"/>
<circle cx="82.3" cy="362.2" r="1.68" fill="#87cefa" stroke="#111" stroke-width="0.35"/>
<circle cx="78.8" cy="362.9" r="1.68" fill="#87cefa" stroke="#111" stroke-width="0.35"/>
<circle cx="80.9" cy="365.0" r="1.68" fill="#87cefa" stroke="#111" stroke-width="0.35"/>
<circle cx="85.8" cy="366.4" r="1.68" fill="#87cefa" stroke="#111" stroke-width="0.35"/>
<circle cx="103.4" cy="364.3" r="1.68" fill="#87cefa" stroke="#111" stroke-width="0.35"/>
<circle cx="104.8" cy="367.1" r="1.68" fill="#87cefa" stroke="#111" stroke-width="0.35"/>
<circle cx="106.2" cy="369.2" r="1.68" fill="#87cefa" stroke="#111" stroke-width="0.35"/>
<circle cx="109.0" cy="372.7" r="1.68" fill="#87cefa" stroke="#111" stroke-width="0.35"/>
<circle cx="113.2" cy="373.4" r="1.68" fill="#87cefa" stroke="#111" stroke-width="0.35"/>
<circle cx="88.7" cy="370.6" r="1.68" fill="#87cefa" stroke="#111" stroke-width="0.35"/>
<circle cx="102.0" cy="372.7" r="1.68" fill="#87cefa" stroke="#111" stroke-width="0.35"/>
<circle cx="88.0" cy="379.8" r="1.68" fill="#87cefa" stroke="#111" stroke-width="0.35"/>
<circle cx="81.6" cy="382.6" r="1.68" fill="#87cefa" stroke="#111" stroke-width="0.35"/>
<circle cx="94.3" cy="379.8" r="1.68" fill="#87cefa" stroke="#111" stroke-width="0.35"/>
<circle cx="70.4" cy="384.0" r="1.68" fill="#87cefa" stroke="#111" stroke-width="0.35"/>
<circle cx="70.4" cy="387.5" r="1.68" fill="#87cefa" stroke="#111" stroke-width="0.35"/>
<circle cx="116.7" cy="388.2" r="1.68" fill="#87cefa" stroke="#111" stroke-width="0.35"/>
<circle cx="114.6" cy="396.6" r="1.68" fill="#87cefa" stroke="#111" stroke-width="0.35"/>
<circle cx="73.2" cy="393.8" r="1.68" fill="#87cefa" stroke="#111" stroke-width="0.35"/>
<circle cx="76.7" cy="398.7" r="1.68" fill="#87cefa" stroke="#111" stroke-width="0.35"/>
<circle cx="85.1" cy="401.5" r="1.68" fill="#87cefa" stroke="#111" stroke-width="0.35"/>
<circle cx="88.7" cy="398.7" r="1.68" fill="#87cefa" stroke="#111" stroke-width="0.35"/>
<circle cx="92.2" cy="398.0" r="1.68" fill="#87cefa" stroke="#111" stroke-width="0.35"/>
<circle cx="92.9" cy="401.5" r="1.68" fill="#87cefa" stroke="#111" stroke-width="0.35"/>
<circle cx="96.4" cy="401.5" r="1.68" fill="#87cefa" stroke="#111" stroke-width="0.35"/>
<circle cx="67.6" cy="405.0" r="1.68" fill="#87cefa" stroke="#111" stroke-width="0.35"/>
<circle cx="70.4" cy="405.0" r="1.68" fill="#87cefa" stroke="#111" stroke-width="0.35"/>
<circle cx="73.9" cy="405.0" r="1.68" fill="#87cefa" stroke="#111" stroke-width="0.35"/>
<circle cx="75.3" cy="407.1" r="1.68" fill="#87cefa" stroke="#111" stroke-width="0.35"/>
<circle cx="82.3" cy="403.6" r="1.68" fill="#87cefa" stroke="#111" stroke-width="0.35"/>
<circle cx="97.8" cy="405.0" r="1.68" fill="#87cefa" stroke="#111" stroke-width="0.35"/>
<circle cx="131.3" cy="350.3" r="1.68" fill="#87cefa" stroke="#111" stroke-width="0.35"/>
<circle cx="134.8" cy="351.7" r="1.68" fill="#87cefa" stroke="#111" stroke-width="0.35"/>
<circle cx="134.8" cy="367.1" r="1.68" fill="#87cefa" stroke="#111" stroke-width="0.35"/>
<circle cx="134.8" cy="370.6" r="1.68" fill="#87cefa" stroke="#111" stroke-width="0.35"/>
<circle cx="142.6" cy="370.0" r="1.68" fill="#87cefa" stroke="#111" stroke-width="0.35"/>
<circle cx="134.1" cy="375.5" r="1.68" fill="#87cefa" stroke="#111" stroke-width="0.35"/>
<circle cx="135.5" cy="377.7" r="1.68" fill="#87cefa" stroke="#111" stroke-width="0.35"/>
<circle cx="134.1" cy="381.9" r="1.68" fill="#87cefa" stroke="#111" stroke-width="0.35"/>
<circle cx="127.1" cy="381.2" r="1.68" fill="#87cefa" stroke="#111" stroke-width="0.35"/>
<circle cx="134.1" cy="386.8" r="1.68" fill="#87cefa" stroke="#111" stroke-width="0.35"/>
<circle cx="135.5" cy="389.6" r="1.68" fill="#87cefa" stroke="#111" stroke-width="0.35"/>
<circle cx="158.0" cy="374.8" r="1.68" fill="#87cefa" stroke="#111" stroke-width="0.35"/>
<circle cx="161.5" cy="385.4" r="1.68" fill="#87cefa" stroke="#111" stroke-width="0.35"/>
<circle cx="160.8" cy="387.5" r="1.68" fill="#87cefa" stroke="#111" stroke-width="0.35"/>
<circle cx="162.9" cy="391.0" r="1.68" fill="#87cefa" stroke="#111" stroke-width="0.35"/>
<circle cx="162.9" cy="395.9" r="1.68" fill="#87cefa" stroke="#111" stroke-width="0.35"/>
<circle cx="139.0" cy="397.3" r="1.68" fill="#87cefa" stroke="#111" stroke-width="0.35"/>
<circle cx="141.8" cy="398.0" r="1.68" fill="#87cefa" stroke="#111" stroke-width="0.35"/>
<circle cx="86.0" cy="343.0" r="1.68" fill="#87cefa" stroke="#111" stroke-width="0.35"/>
<circle cx="90.0" cy="347.0" r="1.68" fill="#87cefa" stroke="#111" stroke-width="0.35"/>
<circle cx="95.0" cy="352.0" r="1.68" fill="#87cefa" stroke="#111" stroke-width="0.35"/>
<circle cx="99.0" cy="362.0" r="1.68" fill="#87cefa" stroke="#111" stroke-width="0.35"/>
<circle cx="104.0" cy="366.0" r="1.68" fill="#87cefa" stroke="#111" stroke-width="0.35"/>
<circle cx="108.0" cy="370.0" r="1.68" fill="#87cefa" stroke="#111" stroke-width="0.35"/>
<circle cx="111.0" cy="376.0" r="1.68" fill="#87cefa" stroke="#111" stroke-width="0.35"/>
<circle cx="84.0" cy="357.0" r="1.68" fill="#87cefa" stroke="#111" stroke-width="0.35"/>
<circle cx="87.0" cy="361.0" r="1.68" fill="#87cefa" stroke="#111" stroke-width="0.35"/>
<circle cx="82.1" cy="337.9" r="1.68" fill="#ffa500" stroke="#111" stroke-width="0.35"/>
<circle cx="78.8" cy="353.1" r="1.68" fill="#ffa500" stroke="#111" stroke-width="0.35"/>
<circle cx="75.7" cy="357.3" r="1.68" fill="#ffa500" stroke="#111" stroke-width="0.35"/>
<circle cx="80.2" cy="357.0" r="1.68" fill="#ffa500" stroke="#111" stroke-width="0.35"/>
<circle cx="78.1" cy="369.6" r="1.68" fill="#ffa500" stroke="#111" stroke-width="0.35"/>
<circle cx="75.7" cy="366.0" r="1.68" fill="#22dd22" stroke="#111" stroke-width="0.35"/>
<circle cx="76.7" cy="367.8" r="1.68" fill="#22dd22" stroke="#111" stroke-width="0.35"/>
<circle cx="76.7" cy="383.3" r="1.68" fill="#22dd22" stroke="#111" stroke-width="0.35"/>
<circle cx="76.7" cy="387.9" r="1.68" fill="#22dd22" stroke="#111" stroke-width="0.35"/>
<circle cx="77.8" cy="387.9" r="1.68" fill="#22dd22" stroke="#111" stroke-width="0.35"/>
<circle cx="185.4" cy="379.1" r="1.68" fill="#9a9a9a" stroke="#111" stroke-width="0.35"/>
<path d="M84.8,323.6 L86.8,325.7 L84.8,327.8 L82.8,325.7 Z" fill="#7d26cd" stroke="#333" stroke-width="0.3"/>
<text x="72.0" y="321.7" font-size="7.6" fill="#222" textLength="33.2" lengthAdjust="spacingAndGlyphs">rs1126464</text>
<text x="129.4" y="323.4" font-size="7.6" fill="#222" textLength="78.1" lengthAdjust="spacingAndGlyphs">Cysteinylglycine mQTL</text>
<rect x="37.2" y="421.5" width="177.8" height="103.10000000000002" fill="none" stroke="#b4b4b4" stroke-width="1.3"/>
<path d="M33,520.0 L37.0,520.0" stroke="#888" stroke-width="0.7"/>
<text x="30.6" y="522.6" font-size="7.4" fill="#333" text-anchor="end" textLength="4.7" lengthAdjust="spacingAndGlyphs">0</text>
<path d="M33,499.6 L37.0,499.6" stroke="#888" stroke-width="0.7"/>
<text x="30.6" y="502.2" font-size="7.4" fill="#333" text-anchor="end" textLength="4.7" lengthAdjust="spacingAndGlyphs">5</text>
<path d="M33,479.1 L37.0,479.1" stroke="#888" stroke-width="0.7"/>
<text x="30.6" y="481.7" font-size="7.4" fill="#333" text-anchor="end" textLength="9.4" lengthAdjust="spacingAndGlyphs">10</text>
<path d="M33,458.6 L37.0,458.6" stroke="#888" stroke-width="0.7"/>
<text x="30.6" y="461.2" font-size="7.4" fill="#333" text-anchor="end" textLength="9.4" lengthAdjust="spacingAndGlyphs">15</text>
<path d="M33,438.2 L37.0,438.2" stroke="#888" stroke-width="0.7"/>
<text x="30.6" y="440.8" font-size="7.4" fill="#333" text-anchor="end" textLength="9.4" lengthAdjust="spacingAndGlyphs">20</text>
<path d="M215.3,519.8 L218.10000000000002,519.8" stroke="#5b5bf0" stroke-width="0.7"/>
<text x="221.7" y="522.4" font-size="7.2" fill="#4f4ff2" textLength="4.0" lengthAdjust="spacingAndGlyphs">0</text>
<path d="M215.3,501.1 L218.10000000000002,501.1" stroke="#5b5bf0" stroke-width="0.7"/>
<text x="221.7" y="503.7" font-size="7.2" fill="#4f4ff2" textLength="8.1" lengthAdjust="spacingAndGlyphs">20</text>
<path d="M215.3,482.4 L218.10000000000002,482.4" stroke="#5b5bf0" stroke-width="0.7"/>
<text x="221.7" y="485.0" font-size="7.2" fill="#4f4ff2" textLength="8.1" lengthAdjust="spacingAndGlyphs">40</text>
<path d="M215.3,463.7 L218.10000000000002,463.7" stroke="#5b5bf0" stroke-width="0.7"/>
<text x="221.7" y="466.3" font-size="7.2" fill="#4f4ff2" textLength="8.1" lengthAdjust="spacingAndGlyphs">60</text>
<path d="M215.3,445.0 L218.10000000000002,445.0" stroke="#5b5bf0" stroke-width="0.7"/>
<text x="221.7" y="447.6" font-size="7.2" fill="#4f4ff2" textLength="8.1" lengthAdjust="spacingAndGlyphs">80</text>
<path d="M215.3,426.3 L218.10000000000002,426.3" stroke="#5b5bf0" stroke-width="0.7"/>
<text x="221.7" y="428.9" font-size="7.2" fill="#4f4ff2" textLength="12.1" lengthAdjust="spacingAndGlyphs">100</text>
<text transform="translate(14.6,474) rotate(-90)" font-size="8.8" fill="#222" text-anchor="middle">–log<tspan font-size="6" dy="2">10</tspan><tspan dy="-2"> (</tspan><tspan font-style="italic">P</tspan> value)</text>
<text transform="translate(250.3,474) rotate(90)" font-size="9.3" fill="#4848ee" text-anchor="middle" textLength="78.6" lengthAdjust="spacingAndGlyphs">Recombination rate</text>
<text transform="translate(240.8,474) rotate(90)" font-size="9.1" fill="#4848ee" text-anchor="middle" textLength="48" lengthAdjust="spacingAndGlyphs">(cM per Mb)</text>
<path d="M38,519.8 L214,519.8" stroke="#3030ff" stroke-width="0.8"/>
<circle cx="134.7" cy="518.4" r="1.68" fill="#3c3c3c" stroke="#111" stroke-width="0.35"/>
<circle cx="175.6" cy="517.3" r="1.68" fill="#3c3c3c" stroke="#111" stroke-width="0.35"/>
<circle cx="148.2" cy="519.2" r="1.68" fill="#3c3c3c" stroke="#111" stroke-width="0.35"/>
<circle cx="190.9" cy="517.1" r="1.68" fill="#3c3c3c" stroke="#111" stroke-width="0.35"/>
<circle cx="148.2" cy="518.4" r="1.68" fill="#3c3c3c" stroke="#111" stroke-width="0.35"/>
<circle cx="123.6" cy="519.4" r="1.68" fill="#3c3c3c" stroke="#111" stroke-width="0.35"/>
<circle cx="127.7" cy="517.8" r="1.68" fill="#3c3c3c" stroke="#111" stroke-width="0.35"/>
<circle cx="196.6" cy="518.4" r="1.68" fill="#3c3c3c" stroke="#111" stroke-width="0.35"/>
<circle cx="90.0" cy="517.4" r="1.68" fill="#3c3c3c" stroke="#111" stroke-width="0.35"/>
<circle cx="122.4" cy="516.7" r="1.68" fill="#3c3c3c" stroke="#111" stroke-width="0.35"/>
<circle cx="140.9" cy="518.7" r="1.68" fill="#3c3c3c" stroke="#111" stroke-width="0.35"/>
<circle cx="110.7" cy="519.0" r="1.68" fill="#3c3c3c" stroke="#111" stroke-width="0.35"/>
<circle cx="194.0" cy="518.2" r="1.68" fill="#3c3c3c" stroke="#111" stroke-width="0.35"/>
<circle cx="153.1" cy="516.9" r="1.68" fill="#3c3c3c" stroke="#111" stroke-width="0.35"/>
<circle cx="49.3" cy="519.4" r="1.68" fill="#3c3c3c" stroke="#111" stroke-width="0.35"/>
<circle cx="87.2" cy="517.1" r="1.68" fill="#3c3c3c" stroke="#111" stroke-width="0.35"/>
<circle cx="188.8" cy="518.7" r="1.68" fill="#3c3c3c" stroke="#111" stroke-width="0.35"/>
<circle cx="60.4" cy="517.5" r="1.68" fill="#3c3c3c" stroke="#111" stroke-width="0.35"/>
<circle cx="80.3" cy="517.3" r="1.68" fill="#3c3c3c" stroke="#111" stroke-width="0.35"/>
<circle cx="41.1" cy="518.1" r="1.68" fill="#3c3c3c" stroke="#111" stroke-width="0.35"/>
<circle cx="90.5" cy="517.7" r="1.68" fill="#3c3c3c" stroke="#111" stroke-width="0.35"/>
<circle cx="70.8" cy="516.8" r="1.68" fill="#3c3c3c" stroke="#111" stroke-width="0.35"/>
<circle cx="45.5" cy="519.1" r="1.68" fill="#3c3c3c" stroke="#111" stroke-width="0.35"/>
<circle cx="164.1" cy="518.2" r="1.68" fill="#3c3c3c" stroke="#111" stroke-width="0.35"/>
<circle cx="60.6" cy="516.9" r="1.68" fill="#3c3c3c" stroke="#111" stroke-width="0.35"/>
<circle cx="59.9" cy="517.4" r="1.68" fill="#3c3c3c" stroke="#111" stroke-width="0.35"/>
<circle cx="49.6" cy="517.3" r="1.68" fill="#3c3c3c" stroke="#111" stroke-width="0.35"/>
<circle cx="73.7" cy="517.1" r="1.68" fill="#3c3c3c" stroke="#111" stroke-width="0.35"/>
<circle cx="148.5" cy="517.9" r="1.68" fill="#3c3c3c" stroke="#111" stroke-width="0.35"/>
<circle cx="118.6" cy="517.6" r="1.68" fill="#3c3c3c" stroke="#111" stroke-width="0.35"/>
<circle cx="129.5" cy="518.9" r="1.68" fill="#3c3c3c" stroke="#111" stroke-width="0.35"/>
<circle cx="91.1" cy="516.7" r="1.68" fill="#3c3c3c" stroke="#111" stroke-width="0.35"/>
<circle cx="119.9" cy="517.6" r="1.68" fill="#3c3c3c" stroke="#111" stroke-width="0.35"/>
<circle cx="169.6" cy="516.8" r="1.68" fill="#3c3c3c" stroke="#111" stroke-width="0.35"/>
<circle cx="184.9" cy="516.5" r="1.68" fill="#3c3c3c" stroke="#111" stroke-width="0.35"/>
<circle cx="130.0" cy="517.8" r="1.68" fill="#3c3c3c" stroke="#111" stroke-width="0.35"/>
<circle cx="92.3" cy="519.2" r="1.68" fill="#3c3c3c" stroke="#111" stroke-width="0.35"/>
<circle cx="156.5" cy="517.0" r="1.68" fill="#3c3c3c" stroke="#111" stroke-width="0.35"/>
<circle cx="122.2" cy="518.3" r="1.68" fill="#3c3c3c" stroke="#111" stroke-width="0.35"/>
<circle cx="45.6" cy="516.8" r="1.68" fill="#3c3c3c" stroke="#111" stroke-width="0.35"/>
<circle cx="139.9" cy="518.7" r="1.68" fill="#3c3c3c" stroke="#111" stroke-width="0.35"/>
<circle cx="116.8" cy="517.8" r="1.68" fill="#3c3c3c" stroke="#111" stroke-width="0.35"/>
<circle cx="124.2" cy="517.3" r="1.68" fill="#3c3c3c" stroke="#111" stroke-width="0.35"/>
<circle cx="185.5" cy="519.4" r="1.68" fill="#3c3c3c" stroke="#111" stroke-width="0.35"/>
<circle cx="120.0" cy="516.6" r="1.68" fill="#3c3c3c" stroke="#111" stroke-width="0.35"/>
<circle cx="105.9" cy="518.9" r="1.68" fill="#3c3c3c" stroke="#111" stroke-width="0.35"/>
<circle cx="93.9" cy="516.8" r="1.68" fill="#3c3c3c" stroke="#111" stroke-width="0.35"/>
<circle cx="70.8" cy="518.6" r="1.68" fill="#3c3c3c" stroke="#111" stroke-width="0.35"/>
<circle cx="143.3" cy="517.4" r="1.68" fill="#3c3c3c" stroke="#111" stroke-width="0.35"/>
<circle cx="143.5" cy="518.8" r="1.68" fill="#3c3c3c" stroke="#111" stroke-width="0.35"/>
<circle cx="200.4" cy="519.0" r="1.68" fill="#3c3c3c" stroke="#111" stroke-width="0.35"/>
<circle cx="112.0" cy="518.9" r="1.68" fill="#3c3c3c" stroke="#111" stroke-width="0.35"/>
<circle cx="193.6" cy="519.1" r="1.68" fill="#3c3c3c" stroke="#111" stroke-width="0.35"/>
<circle cx="164.6" cy="518.3" r="1.68" fill="#3c3c3c" stroke="#111" stroke-width="0.35"/>
<circle cx="124.9" cy="519.1" r="1.68" fill="#3c3c3c" stroke="#111" stroke-width="0.35"/>
<circle cx="143.8" cy="518.7" r="1.68" fill="#3c3c3c" stroke="#111" stroke-width="0.35"/>
<circle cx="77.8" cy="516.8" r="1.68" fill="#3c3c3c" stroke="#111" stroke-width="0.35"/>
<circle cx="84.9" cy="518.3" r="1.68" fill="#3c3c3c" stroke="#111" stroke-width="0.35"/>
<circle cx="135.1" cy="517.1" r="1.68" fill="#3c3c3c" stroke="#111" stroke-width="0.35"/>
<circle cx="71.3" cy="519.4" r="1.68" fill="#3c3c3c" stroke="#111" stroke-width="0.35"/>
<circle cx="51.9" cy="519.3" r="1.68" fill="#3c3c3c" stroke="#111" stroke-width="0.35"/>
<circle cx="168.2" cy="518.2" r="1.68" fill="#3c3c3c" stroke="#111" stroke-width="0.35"/>
<circle cx="205.3" cy="518.5" r="1.68" fill="#3c3c3c" stroke="#111" stroke-width="0.35"/>
<circle cx="41.1" cy="519.3" r="1.68" fill="#3c3c3c" stroke="#111" stroke-width="0.35"/>
<circle cx="108.6" cy="519.2" r="1.68" fill="#3c3c3c" stroke="#111" stroke-width="0.35"/>
<circle cx="175.1" cy="516.9" r="1.68" fill="#3c3c3c" stroke="#111" stroke-width="0.35"/>
<circle cx="46.6" cy="516.6" r="1.68" fill="#3c3c3c" stroke="#111" stroke-width="0.35"/>
<circle cx="169.6" cy="518.9" r="1.68" fill="#3c3c3c" stroke="#111" stroke-width="0.35"/>
<circle cx="77.9" cy="516.8" r="1.68" fill="#3c3c3c" stroke="#111" stroke-width="0.35"/>
<circle cx="100.8" cy="518.9" r="1.68" fill="#3c3c3c" stroke="#111" stroke-width="0.35"/>
<circle cx="163.0" cy="519.1" r="1.68" fill="#3c3c3c" stroke="#111" stroke-width="0.35"/>
<circle cx="200.7" cy="518.8" r="1.68" fill="#3c3c3c" stroke="#111" stroke-width="0.35"/>
<circle cx="178.7" cy="516.5" r="1.68" fill="#3c3c3c" stroke="#111" stroke-width="0.35"/>
<circle cx="41.1" cy="519.1" r="1.68" fill="#3c3c3c" stroke="#111" stroke-width="0.35"/>
<circle cx="142.7" cy="517.5" r="1.68" fill="#3c3c3c" stroke="#111" stroke-width="0.35"/>
<circle cx="61.3" cy="517.5" r="1.68" fill="#3c3c3c" stroke="#111" stroke-width="0.35"/>
<circle cx="96.3" cy="518.0" r="1.68" fill="#3c3c3c" stroke="#111" stroke-width="0.35"/>
<circle cx="114.7" cy="517.1" r="1.68" fill="#3c3c3c" stroke="#111" stroke-width="0.35"/>
<circle cx="53.6" cy="517.1" r="1.68" fill="#3c3c3c" stroke="#111" stroke-width="0.35"/>
<circle cx="61.3" cy="516.8" r="1.68" fill="#3c3c3c" stroke="#111" stroke-width="0.35"/>
<circle cx="108.8" cy="516.9" r="1.68" fill="#3c3c3c" stroke="#111" stroke-width="0.35"/>
<circle cx="172.8" cy="518.1" r="1.68" fill="#3c3c3c" stroke="#111" stroke-width="0.35"/>
<circle cx="116.4" cy="518.4" r="1.68" fill="#3c3c3c" stroke="#111" stroke-width="0.35"/>
<circle cx="79.0" cy="516.6" r="1.68" fill="#3c3c3c" stroke="#111" stroke-width="0.35"/>
<circle cx="53.1" cy="517.5" r="1.68" fill="#3c3c3c" stroke="#111" stroke-width="0.35"/>
<circle cx="100.0" cy="517.3" r="1.68" fill="#3c3c3c" stroke="#111" stroke-width="0.35"/>
<circle cx="90.9" cy="519.0" r="1.68" fill="#3c3c3c" stroke="#111" stroke-width="0.35"/>
<circle cx="41.4" cy="517.8" r="1.68" fill="#3c3c3c" stroke="#111" stroke-width="0.35"/>
<circle cx="103.6" cy="517.3" r="1.68" fill="#3c3c3c" stroke="#111" stroke-width="0.35"/>
<circle cx="160.3" cy="517.2" r="1.68" fill="#3c3c3c" stroke="#111" stroke-width="0.35"/>
<circle cx="47.0" cy="517.0" r="1.68" fill="#3c3c3c" stroke="#111" stroke-width="0.35"/>
<circle cx="202.4" cy="517.5" r="1.68" fill="#3c3c3c" stroke="#111" stroke-width="0.35"/>
<circle cx="59.4" cy="519.4" r="1.68" fill="#3c3c3c" stroke="#111" stroke-width="0.35"/>
<circle cx="147.1" cy="519.4" r="1.68" fill="#3c3c3c" stroke="#111" stroke-width="0.35"/>
<circle cx="95.0" cy="518.9" r="1.68" fill="#3c3c3c" stroke="#111" stroke-width="0.35"/>
<circle cx="46.9" cy="517.2" r="1.68" fill="#3c3c3c" stroke="#111" stroke-width="0.35"/>
<circle cx="171.9" cy="518.0" r="1.68" fill="#3c3c3c" stroke="#111" stroke-width="0.35"/>
<circle cx="171.0" cy="517.7" r="1.68" fill="#3c3c3c" stroke="#111" stroke-width="0.35"/>
<circle cx="185.5" cy="516.7" r="1.68" fill="#3c3c3c" stroke="#111" stroke-width="0.35"/>
<circle cx="143.5" cy="517.1" r="1.68" fill="#3c3c3c" stroke="#111" stroke-width="0.35"/>
<circle cx="73.1" cy="519.1" r="1.68" fill="#3c3c3c" stroke="#111" stroke-width="0.35"/>
<circle cx="111.4" cy="518.9" r="1.68" fill="#3c3c3c" stroke="#111" stroke-width="0.35"/>
<circle cx="87.1" cy="518.7" r="1.68" fill="#3c3c3c" stroke="#111" stroke-width="0.35"/>
<circle cx="190.6" cy="518.4" r="1.68" fill="#3c3c3c" stroke="#111" stroke-width="0.35"/>
<circle cx="78.9" cy="518.5" r="1.68" fill="#3c3c3c" stroke="#111" stroke-width="0.35"/>
<circle cx="197.8" cy="518.9" r="1.68" fill="#3c3c3c" stroke="#111" stroke-width="0.35"/>
<circle cx="113.7" cy="517.7" r="1.68" fill="#3c3c3c" stroke="#111" stroke-width="0.35"/>
<circle cx="56.4" cy="518.8" r="1.68" fill="#3c3c3c" stroke="#111" stroke-width="0.35"/>
<circle cx="66.3" cy="517.2" r="1.68" fill="#3c3c3c" stroke="#111" stroke-width="0.35"/>
<circle cx="45.5" cy="517.0" r="1.68" fill="#3c3c3c" stroke="#111" stroke-width="0.35"/>
<circle cx="103.7" cy="517.9" r="1.68" fill="#3c3c3c" stroke="#111" stroke-width="0.35"/>
<circle cx="69.1" cy="517.8" r="1.68" fill="#3c3c3c" stroke="#111" stroke-width="0.35"/>
<circle cx="165.8" cy="516.8" r="1.68" fill="#3c3c3c" stroke="#111" stroke-width="0.35"/>
<circle cx="62.5" cy="518.1" r="1.68" fill="#3c3c3c" stroke="#111" stroke-width="0.35"/>
<circle cx="190.0" cy="519.3" r="1.68" fill="#3c3c3c" stroke="#111" stroke-width="0.35"/>
<circle cx="134.5" cy="516.8" r="1.68" fill="#3c3c3c" stroke="#111" stroke-width="0.35"/>
<circle cx="185.0" cy="519.5" r="1.68" fill="#3c3c3c" stroke="#111" stroke-width="0.35"/>
<circle cx="189.3" cy="518.1" r="1.68" fill="#3c3c3c" stroke="#111" stroke-width="0.35"/>
<circle cx="103.5" cy="518.3" r="1.68" fill="#3c3c3c" stroke="#111" stroke-width="0.35"/>
<circle cx="171.2" cy="519.5" r="1.68" fill="#3c3c3c" stroke="#111" stroke-width="0.35"/>
<circle cx="121.9" cy="518.0" r="1.68" fill="#3c3c3c" stroke="#111" stroke-width="0.35"/>
<circle cx="91.6" cy="518.1" r="1.68" fill="#3c3c3c" stroke="#111" stroke-width="0.35"/>
<circle cx="130.2" cy="517.3" r="1.68" fill="#3c3c3c" stroke="#111" stroke-width="0.35"/>
<circle cx="116.1" cy="519.2" r="1.68" fill="#3c3c3c" stroke="#111" stroke-width="0.35"/>
<circle cx="79.2" cy="517.3" r="1.68" fill="#3c3c3c" stroke="#111" stroke-width="0.35"/>
<circle cx="90.6" cy="519.1" r="1.68" fill="#3c3c3c" stroke="#111" stroke-width="0.35"/>
<circle cx="90.3" cy="519.0" r="1.68" fill="#3c3c3c" stroke="#111" stroke-width="0.35"/>
<circle cx="194.2" cy="519.1" r="1.68" fill="#3c3c3c" stroke="#111" stroke-width="0.35"/>
<circle cx="173.5" cy="517.1" r="1.68" fill="#3c3c3c" stroke="#111" stroke-width="0.35"/>
<circle cx="114.8" cy="519.0" r="1.68" fill="#3c3c3c" stroke="#111" stroke-width="0.35"/>
<circle cx="80.8" cy="518.3" r="1.68" fill="#3c3c3c" stroke="#111" stroke-width="0.35"/>
<circle cx="184.6" cy="519.3" r="1.68" fill="#3c3c3c" stroke="#111" stroke-width="0.35"/>
<circle cx="98.2" cy="516.9" r="1.68" fill="#3c3c3c" stroke="#111" stroke-width="0.35"/>
<circle cx="45.1" cy="517.4" r="1.68" fill="#3c3c3c" stroke="#111" stroke-width="0.35"/>
<circle cx="130.8" cy="517.3" r="1.68" fill="#3c3c3c" stroke="#111" stroke-width="0.35"/>
<circle cx="176.8" cy="518.5" r="1.68" fill="#3c3c3c" stroke="#111" stroke-width="0.35"/>
<circle cx="143.1" cy="519.0" r="1.68" fill="#3c3c3c" stroke="#111" stroke-width="0.35"/>
<circle cx="94.5" cy="518.4" r="1.68" fill="#3c3c3c" stroke="#111" stroke-width="0.35"/>
<circle cx="98.2" cy="517.4" r="1.68" fill="#3c3c3c" stroke="#111" stroke-width="0.35"/>
<circle cx="59.0" cy="518.9" r="1.68" fill="#3c3c3c" stroke="#111" stroke-width="0.35"/>
<circle cx="189.5" cy="516.6" r="1.68" fill="#3c3c3c" stroke="#111" stroke-width="0.35"/>
<circle cx="158.9" cy="516.7" r="1.68" fill="#3c3c3c" stroke="#111" stroke-width="0.35"/>
<circle cx="109.3" cy="517.4" r="1.68" fill="#3c3c3c" stroke="#111" stroke-width="0.35"/>
<circle cx="189.9" cy="517.8" r="1.68" fill="#3c3c3c" stroke="#111" stroke-width="0.35"/>
<circle cx="124.8" cy="517.6" r="1.68" fill="#3c3c3c" stroke="#111" stroke-width="0.35"/>
<circle cx="82.3" cy="517.2" r="1.68" fill="#3c3c3c" stroke="#111" stroke-width="0.35"/>
<circle cx="50.3" cy="516.5" r="1.68" fill="#3c3c3c" stroke="#111" stroke-width="0.35"/>
<circle cx="131.3" cy="518.7" r="1.68" fill="#3c3c3c" stroke="#111" stroke-width="0.35"/>
<circle cx="151.3" cy="517.3" r="1.68" fill="#3c3c3c" stroke="#111" stroke-width="0.35"/>
<circle cx="204.1" cy="516.7" r="1.68" fill="#3c3c3c" stroke="#111" stroke-width="0.35"/>
<circle cx="111.7" cy="517.5" r="1.68" fill="#3c3c3c" stroke="#111" stroke-width="0.35"/>
<circle cx="69.8" cy="519.4" r="1.68" fill="#3c3c3c" stroke="#111" stroke-width="0.35"/>
<circle cx="158.7" cy="516.9" r="1.68" fill="#3c3c3c" stroke="#111" stroke-width="0.35"/>
<circle cx="69.4" cy="518.9" r="1.68" fill="#3c3c3c" stroke="#111" stroke-width="0.35"/>
<circle cx="101.8" cy="517.4" r="1.68" fill="#3c3c3c" stroke="#111" stroke-width="0.35"/>
<circle cx="89.2" cy="517.5" r="1.68" fill="#3c3c3c" stroke="#111" stroke-width="0.35"/>
<circle cx="137.7" cy="517.4" r="1.68" fill="#3c3c3c" stroke="#111" stroke-width="0.35"/>
<circle cx="138.3" cy="516.7" r="1.68" fill="#3c3c3c" stroke="#111" stroke-width="0.35"/>
<circle cx="128.9" cy="518.3" r="1.68" fill="#3c3c3c" stroke="#111" stroke-width="0.35"/>
<circle cx="93.1" cy="519.1" r="1.68" fill="#3c3c3c" stroke="#111" stroke-width="0.35"/>
<circle cx="194.1" cy="518.5" r="1.68" fill="#3c3c3c" stroke="#111" stroke-width="0.35"/>
<circle cx="108.3" cy="517.0" r="1.68" fill="#3c3c3c" stroke="#111" stroke-width="0.35"/>
<circle cx="143.9" cy="517.4" r="1.68" fill="#3c3c3c" stroke="#111" stroke-width="0.35"/>
<circle cx="67.4" cy="518.1" r="1.68" fill="#3c3c3c" stroke="#111" stroke-width="0.35"/>
<circle cx="73.2" cy="518.4" r="1.68" fill="#3c3c3c" stroke="#111" stroke-width="0.35"/>
<circle cx="166.1" cy="516.5" r="1.68" fill="#3c3c3c" stroke="#111" stroke-width="0.35"/>
<circle cx="145.0" cy="517.1" r="1.68" fill="#3c3c3c" stroke="#111" stroke-width="0.35"/>
<circle cx="95.9" cy="518.7" r="1.68" fill="#3c3c3c" stroke="#111" stroke-width="0.35"/>
<circle cx="200.2" cy="517.4" r="1.68" fill="#3c3c3c" stroke="#111" stroke-width="0.35"/>
<circle cx="165.3" cy="517.5" r="1.68" fill="#3c3c3c" stroke="#111" stroke-width="0.35"/>
<circle cx="196.1" cy="517.0" r="1.68" fill="#3c3c3c" stroke="#111" stroke-width="0.35"/>
<circle cx="150.4" cy="516.7" r="1.68" fill="#3c3c3c" stroke="#111" stroke-width="0.35"/>
<circle cx="132.9" cy="518.7" r="1.68" fill="#3c3c3c" stroke="#111" stroke-width="0.35"/>
<circle cx="191.6" cy="518.8" r="1.68" fill="#3c3c3c" stroke="#111" stroke-width="0.35"/>
<circle cx="131.2" cy="517.7" r="1.68" fill="#3c3c3c" stroke="#111" stroke-width="0.35"/>
<circle cx="144.6" cy="518.4" r="1.68" fill="#3c3c3c" stroke="#111" stroke-width="0.35"/>
<circle cx="141.5" cy="518.6" r="1.68" fill="#3c3c3c" stroke="#111" stroke-width="0.35"/>
<circle cx="163.7" cy="519.3" r="1.68" fill="#3c3c3c" stroke="#111" stroke-width="0.35"/>
<circle cx="143.0" cy="519.1" r="1.68" fill="#3c3c3c" stroke="#111" stroke-width="0.35"/>
<circle cx="162.9" cy="517.6" r="1.68" fill="#3c3c3c" stroke="#111" stroke-width="0.35"/>
<circle cx="173.2" cy="517.6" r="1.68" fill="#3c3c3c" stroke="#111" stroke-width="0.35"/>
<circle cx="177.6" cy="519.1" r="1.68" fill="#3c3c3c" stroke="#111" stroke-width="0.35"/>
<circle cx="188.9" cy="519.2" r="1.68" fill="#3c3c3c" stroke="#111" stroke-width="0.35"/>
<circle cx="154.9" cy="518.0" r="1.68" fill="#3c3c3c" stroke="#111" stroke-width="0.35"/>
<circle cx="87.9" cy="518.4" r="1.68" fill="#3c3c3c" stroke="#111" stroke-width="0.35"/>
<circle cx="188.2" cy="517.6" r="1.68" fill="#3c3c3c" stroke="#111" stroke-width="0.35"/>
<circle cx="74.9" cy="518.8" r="1.68" fill="#3c3c3c" stroke="#111" stroke-width="0.35"/>
<circle cx="191.0" cy="517.1" r="1.68" fill="#3c3c3c" stroke="#111" stroke-width="0.35"/>
<circle cx="63.1" cy="516.8" r="1.68" fill="#3c3c3c" stroke="#111" stroke-width="0.35"/>
<circle cx="131.6" cy="519.0" r="1.68" fill="#3c3c3c" stroke="#111" stroke-width="0.35"/>
<circle cx="81.1" cy="518.9" r="1.68" fill="#3c3c3c" stroke="#111" stroke-width="0.35"/>
<circle cx="47.7" cy="517.1" r="1.68" fill="#3c3c3c" stroke="#111" stroke-width="0.35"/>
<circle cx="130.8" cy="518.8" r="1.68" fill="#3c3c3c" stroke="#111" stroke-width="0.35"/>
<circle cx="122.0" cy="518.6" r="1.68" fill="#3c3c3c" stroke="#111" stroke-width="0.35"/>
<circle cx="99.7" cy="517.6" r="1.68" fill="#3c3c3c" stroke="#111" stroke-width="0.35"/>
<circle cx="126.5" cy="516.5" r="1.68" fill="#3c3c3c" stroke="#111" stroke-width="0.35"/>
<circle cx="73.3" cy="517.6" r="1.68" fill="#3c3c3c" stroke="#111" stroke-width="0.35"/>
<circle cx="149.0" cy="517.1" r="1.68" fill="#3c3c3c" stroke="#111" stroke-width="0.35"/>
<circle cx="80.4" cy="519.5" r="1.68" fill="#3c3c3c" stroke="#111" stroke-width="0.35"/>
<circle cx="148.0" cy="517.7" r="1.68" fill="#3c3c3c" stroke="#111" stroke-width="0.35"/>
<circle cx="170.0" cy="518.6" r="1.68" fill="#3c3c3c" stroke="#111" stroke-width="0.35"/>
<circle cx="175.6" cy="518.2" r="1.68" fill="#3c3c3c" stroke="#111" stroke-width="0.35"/>
<circle cx="142.0" cy="516.8" r="1.68" fill="#3c3c3c" stroke="#111" stroke-width="0.35"/>
<circle cx="111.2" cy="517.7" r="1.68" fill="#3c3c3c" stroke="#111" stroke-width="0.35"/>
<circle cx="82.5" cy="517.6" r="1.68" fill="#3c3c3c" stroke="#111" stroke-width="0.35"/>
<circle cx="187.1" cy="517.2" r="1.68" fill="#3c3c3c" stroke="#111" stroke-width="0.35"/>
<circle cx="58.9" cy="517.5" r="1.68" fill="#3c3c3c" stroke="#111" stroke-width="0.35"/>
<circle cx="68.1" cy="516.6" r="1.68" fill="#3c3c3c" stroke="#111" stroke-width="0.35"/>
<circle cx="191.5" cy="518.1" r="1.68" fill="#3c3c3c" stroke="#111" stroke-width="0.35"/>
<circle cx="44.4" cy="518.1" r="1.68" fill="#3c3c3c" stroke="#111" stroke-width="0.35"/>
<circle cx="68.9" cy="517.9" r="1.68" fill="#3c3c3c" stroke="#111" stroke-width="0.35"/>
<circle cx="196.9" cy="519.4" r="1.68" fill="#3c3c3c" stroke="#111" stroke-width="0.35"/>
<circle cx="106.0" cy="518.8" r="1.68" fill="#3c3c3c" stroke="#111" stroke-width="0.35"/>
<circle cx="121.8" cy="516.7" r="1.68" fill="#3c3c3c" stroke="#111" stroke-width="0.35"/>
<circle cx="106.5" cy="518.9" r="1.68" fill="#3c3c3c" stroke="#111" stroke-width="0.35"/>
<circle cx="169.1" cy="518.7" r="1.68" fill="#3c3c3c" stroke="#111" stroke-width="0.35"/>
<circle cx="204.0" cy="517.6" r="1.68" fill="#3c3c3c" stroke="#111" stroke-width="0.35"/>
<circle cx="156.6" cy="519.0" r="1.68" fill="#3c3c3c" stroke="#111" stroke-width="0.35"/>
<circle cx="193.4" cy="519.1" r="1.68" fill="#3c3c3c" stroke="#111" stroke-width="0.35"/>
<circle cx="184.9" cy="517.5" r="1.68" fill="#3c3c3c" stroke="#111" stroke-width="0.35"/>
<circle cx="102.7" cy="518.4" r="1.68" fill="#3c3c3c" stroke="#111" stroke-width="0.35"/>
<circle cx="59.9" cy="517.4" r="1.68" fill="#3c3c3c" stroke="#111" stroke-width="0.35"/>
<circle cx="101.6" cy="517.1" r="1.68" fill="#3c3c3c" stroke="#111" stroke-width="0.35"/>
<circle cx="70.8" cy="518.5" r="1.68" fill="#3c3c3c" stroke="#111" stroke-width="0.35"/>
<circle cx="91.4" cy="516.7" r="1.68" fill="#3c3c3c" stroke="#111" stroke-width="0.35"/>
<circle cx="172.5" cy="519.3" r="1.68" fill="#3c3c3c" stroke="#111" stroke-width="0.35"/>
<circle cx="77.2" cy="518.6" r="1.68" fill="#3c3c3c" stroke="#111" stroke-width="0.35"/>
<circle cx="53.8" cy="517.2" r="1.68" fill="#3c3c3c" stroke="#111" stroke-width="0.35"/>
<circle cx="67.3" cy="518.4" r="1.68" fill="#3c3c3c" stroke="#111" stroke-width="0.35"/>
<circle cx="132.8" cy="519.0" r="1.68" fill="#3c3c3c" stroke="#111" stroke-width="0.35"/>
<circle cx="149.5" cy="518.8" r="1.68" fill="#3c3c3c" stroke="#111" stroke-width="0.35"/>
<circle cx="185.2" cy="518.3" r="1.68" fill="#3c3c3c" stroke="#111" stroke-width="0.35"/>
<circle cx="77.4" cy="517.0" r="1.68" fill="#3c3c3c" stroke="#111" stroke-width="0.35"/>
<circle cx="182.2" cy="519.0" r="1.68" fill="#3c3c3c" stroke="#111" stroke-width="0.35"/>
<circle cx="147.2" cy="519.4" r="1.68" fill="#3c3c3c" stroke="#111" stroke-width="0.35"/>
<circle cx="174.3" cy="517.7" r="1.68" fill="#3c3c3c" stroke="#111" stroke-width="0.35"/>
<circle cx="70.9" cy="517.8" r="1.68" fill="#3c3c3c" stroke="#111" stroke-width="0.35"/>
<circle cx="192.3" cy="519.2" r="1.68" fill="#3c3c3c" stroke="#111" stroke-width="0.35"/>
<circle cx="41.0" cy="516.5" r="1.68" fill="#3c3c3c" stroke="#111" stroke-width="0.35"/>
<circle cx="114.1" cy="519.2" r="1.68" fill="#3c3c3c" stroke="#111" stroke-width="0.35"/>
<circle cx="185.9" cy="519.0" r="1.68" fill="#3c3c3c" stroke="#111" stroke-width="0.35"/>
<circle cx="51.5" cy="517.1" r="1.68" fill="#3c3c3c" stroke="#111" stroke-width="0.35"/>
<circle cx="168.5" cy="517.8" r="1.68" fill="#3c3c3c" stroke="#111" stroke-width="0.35"/>
<circle cx="93.0" cy="519.4" r="1.68" fill="#3c3c3c" stroke="#111" stroke-width="0.35"/>
<circle cx="43.0" cy="518.0" r="1.68" fill="#3c3c3c" stroke="#111" stroke-width="0.35"/>
<circle cx="186.5" cy="518.6" r="1.68" fill="#3c3c3c" stroke="#111" stroke-width="0.35"/>
<circle cx="187.5" cy="517.3" r="1.68" fill="#3c3c3c" stroke="#111" stroke-width="0.35"/>
<circle cx="133.1" cy="519.4" r="1.68" fill="#3c3c3c" stroke="#111" stroke-width="0.35"/>
<circle cx="62.0" cy="517.8" r="1.68" fill="#3c3c3c" stroke="#111" stroke-width="0.35"/>
<circle cx="204.6" cy="517.0" r="1.68" fill="#3c3c3c" stroke="#111" stroke-width="0.35"/>
<circle cx="168.4" cy="518.7" r="1.68" fill="#3c3c3c" stroke="#111" stroke-width="0.35"/>
<circle cx="82.8" cy="519.5" r="1.68" fill="#3c3c3c" stroke="#111" stroke-width="0.35"/>
<circle cx="169.6" cy="516.9" r="1.68" fill="#3c3c3c" stroke="#111" stroke-width="0.35"/>
<circle cx="204.3" cy="519.1" r="1.68" fill="#3c3c3c" stroke="#111" stroke-width="0.35"/>
<circle cx="119.6" cy="516.6" r="1.68" fill="#3c3c3c" stroke="#111" stroke-width="0.35"/>
<circle cx="170.2" cy="518.3" r="1.68" fill="#3c3c3c" stroke="#111" stroke-width="0.35"/>
<circle cx="163.5" cy="516.7" r="1.68" fill="#3c3c3c" stroke="#111" stroke-width="0.35"/>
<circle cx="119.6" cy="518.9" r="1.68" fill="#3c3c3c" stroke="#111" stroke-width="0.35"/>
<circle cx="160.9" cy="517.0" r="1.68" fill="#3c3c3c" stroke="#111" stroke-width="0.35"/>
<circle cx="94.7" cy="517.9" r="1.68" fill="#3c3c3c" stroke="#111" stroke-width="0.35"/>
<circle cx="116.2" cy="519.5" r="1.68" fill="#3c3c3c" stroke="#111" stroke-width="0.35"/>
<circle cx="195.0" cy="516.5" r="1.68" fill="#3c3c3c" stroke="#111" stroke-width="0.35"/>
<circle cx="142.6" cy="516.9" r="1.68" fill="#3c3c3c" stroke="#111" stroke-width="0.35"/>
<circle cx="183.5" cy="518.1" r="1.68" fill="#3c3c3c" stroke="#111" stroke-width="0.35"/>
<circle cx="189.0" cy="519.2" r="1.68" fill="#3c3c3c" stroke="#111" stroke-width="0.35"/>
<circle cx="195.1" cy="517.0" r="1.68" fill="#3c3c3c" stroke="#111" stroke-width="0.35"/>
<circle cx="50.7" cy="518.8" r="1.68" fill="#3c3c3c" stroke="#111" stroke-width="0.35"/>
<circle cx="117.2" cy="518.8" r="1.68" fill="#3c3c3c" stroke="#111" stroke-width="0.35"/>
<circle cx="113.4" cy="517.7" r="1.68" fill="#3c3c3c" stroke="#111" stroke-width="0.35"/>
<circle cx="161.9" cy="517.6" r="1.68" fill="#3c3c3c" stroke="#111" stroke-width="0.35"/>
<circle cx="122.4" cy="517.7" r="1.68" fill="#3c3c3c" stroke="#111" stroke-width="0.35"/>
<circle cx="152.0" cy="516.7" r="1.68" fill="#3c3c3c" stroke="#111" stroke-width="0.35"/>
<circle cx="116.8" cy="518.2" r="1.68" fill="#3c3c3c" stroke="#111" stroke-width="0.35"/>
<circle cx="153.7" cy="519.2" r="1.68" fill="#3c3c3c" stroke="#111" stroke-width="0.35"/>
<circle cx="101.6" cy="519.4" r="1.68" fill="#3c3c3c" stroke="#111" stroke-width="0.35"/>
<circle cx="156.7" cy="517.7" r="1.68" fill="#3c3c3c" stroke="#111" stroke-width="0.35"/>
<circle cx="133.3" cy="517.6" r="1.68" fill="#3c3c3c" stroke="#111" stroke-width="0.35"/>
<circle cx="148.4" cy="516.6" r="1.68" fill="#3c3c3c" stroke="#111" stroke-width="0.35"/>
<circle cx="189.0" cy="517.6" r="1.68" fill="#3c3c3c" stroke="#111" stroke-width="0.35"/>
<circle cx="41.9" cy="516.8" r="1.68" fill="#3c3c3c" stroke="#111" stroke-width="0.35"/>
<circle cx="96.3" cy="517.3" r="1.68" fill="#3c3c3c" stroke="#111" stroke-width="0.35"/>
<circle cx="179.1" cy="517.6" r="1.68" fill="#3c3c3c" stroke="#111" stroke-width="0.35"/>
<circle cx="192.1" cy="517.3" r="1.68" fill="#3c3c3c" stroke="#111" stroke-width="0.35"/>
<circle cx="97.3" cy="519.4" r="1.68" fill="#3c3c3c" stroke="#111" stroke-width="0.35"/>
<circle cx="182.5" cy="519.3" r="1.68" fill="#3c3c3c" stroke="#111" stroke-width="0.35"/>
<circle cx="59.0" cy="516.7" r="1.68" fill="#3c3c3c" stroke="#111" stroke-width="0.35"/>
<circle cx="155.3" cy="517.5" r="1.68" fill="#3c3c3c" stroke="#111" stroke-width="0.35"/>
<circle cx="57.4" cy="516.8" r="1.68" fill="#3c3c3c" stroke="#111" stroke-width="0.35"/>
<circle cx="93.6" cy="517.4" r="1.68" fill="#3c3c3c" stroke="#111" stroke-width="0.35"/>
<circle cx="150.2" cy="519.5" r="1.68" fill="#3c3c3c" stroke="#111" stroke-width="0.35"/>
<circle cx="68.1" cy="518.9" r="1.68" fill="#3c3c3c" stroke="#111" stroke-width="0.35"/>
<circle cx="138.6" cy="519.1" r="1.68" fill="#3c3c3c" stroke="#111" stroke-width="0.35"/>
<circle cx="204.7" cy="519.2" r="1.68" fill="#3c3c3c" stroke="#111" stroke-width="0.35"/>
<circle cx="61.9" cy="518.7" r="1.68" fill="#3c3c3c" stroke="#111" stroke-width="0.35"/>
<circle cx="168.5" cy="517.6" r="1.68" fill="#3c3c3c" stroke="#111" stroke-width="0.35"/>
<circle cx="45.3" cy="518.8" r="1.68" fill="#3c3c3c" stroke="#111" stroke-width="0.35"/>
<circle cx="144.2" cy="518.8" r="1.68" fill="#3c3c3c" stroke="#111" stroke-width="0.35"/>
<circle cx="165.5" cy="518.7" r="1.68" fill="#3c3c3c" stroke="#111" stroke-width="0.35"/>
<circle cx="47.2" cy="519.3" r="1.68" fill="#3c3c3c" stroke="#111" stroke-width="0.35"/>
<circle cx="198.6" cy="517.6" r="1.68" fill="#3c3c3c" stroke="#111" stroke-width="0.35"/>
<circle cx="170.4" cy="519.3" r="1.68" fill="#3c3c3c" stroke="#111" stroke-width="0.35"/>
<circle cx="111.7" cy="517.5" r="1.68" fill="#3c3c3c" stroke="#111" stroke-width="0.35"/>
<circle cx="139.9" cy="518.8" r="1.68" fill="#3c3c3c" stroke="#111" stroke-width="0.35"/>
<circle cx="108.5" cy="518.6" r="1.68" fill="#3c3c3c" stroke="#111" stroke-width="0.35"/>
<circle cx="198.4" cy="517.6" r="1.68" fill="#3c3c3c" stroke="#111" stroke-width="0.35"/>
<circle cx="191.1" cy="516.9" r="1.68" fill="#3c3c3c" stroke="#111" stroke-width="0.35"/>
<circle cx="138.5" cy="519.0" r="1.68" fill="#3c3c3c" stroke="#111" stroke-width="0.35"/>
<circle cx="107.2" cy="517.4" r="1.68" fill="#3c3c3c" stroke="#111" stroke-width="0.35"/>
<circle cx="86.1" cy="517.6" r="1.68" fill="#3c3c3c" stroke="#111" stroke-width="0.35"/>
<circle cx="104.8" cy="517.7" r="1.68" fill="#3c3c3c" stroke="#111" stroke-width="0.35"/>
<circle cx="80.5" cy="518.3" r="1.68" fill="#3c3c3c" stroke="#111" stroke-width="0.35"/>
<circle cx="76.9" cy="517.3" r="1.68" fill="#3c3c3c" stroke="#111" stroke-width="0.35"/>
<circle cx="117.2" cy="519.2" r="1.68" fill="#3c3c3c" stroke="#111" stroke-width="0.35"/>
<circle cx="85.7" cy="517.0" r="1.68" fill="#3c3c3c" stroke="#111" stroke-width="0.35"/>
<circle cx="168.6" cy="518.3" r="1.68" fill="#3c3c3c" stroke="#111" stroke-width="0.35"/>
<circle cx="60.0" cy="519.4" r="1.68" fill="#3c3c3c" stroke="#111" stroke-width="0.35"/>
<circle cx="73.3" cy="518.4" r="1.68" fill="#3c3c3c" stroke="#111" stroke-width="0.35"/>
<circle cx="79.6" cy="519.0" r="1.68" fill="#3c3c3c" stroke="#111" stroke-width="0.35"/>
<circle cx="101.4" cy="518.4" r="1.68" fill="#3c3c3c" stroke="#111" stroke-width="0.35"/>
<circle cx="172.1" cy="518.6" r="1.68" fill="#3c3c3c" stroke="#111" stroke-width="0.35"/>
<circle cx="91.6" cy="517.4" r="1.68" fill="#3c3c3c" stroke="#111" stroke-width="0.35"/>
<circle cx="136.8" cy="518.1" r="1.68" fill="#3c3c3c" stroke="#111" stroke-width="0.35"/>
<circle cx="158.6" cy="516.7" r="1.68" fill="#3c3c3c" stroke="#111" stroke-width="0.35"/>
<circle cx="50.7" cy="516.5" r="1.68" fill="#3c3c3c" stroke="#111" stroke-width="0.35"/>
<circle cx="173.6" cy="517.0" r="1.68" fill="#3c3c3c" stroke="#111" stroke-width="0.35"/>
<circle cx="164.9" cy="517.9" r="1.68" fill="#3c3c3c" stroke="#111" stroke-width="0.35"/>
<circle cx="198.4" cy="518.4" r="1.68" fill="#3c3c3c" stroke="#111" stroke-width="0.35"/>
<circle cx="180.4" cy="516.8" r="1.68" fill="#3c3c3c" stroke="#111" stroke-width="0.35"/>
<circle cx="188.3" cy="517.6" r="1.68" fill="#3c3c3c" stroke="#111" stroke-width="0.35"/>
<circle cx="47.0" cy="519.1" r="1.68" fill="#3c3c3c" stroke="#111" stroke-width="0.35"/>
<circle cx="78.8" cy="518.5" r="1.68" fill="#3c3c3c" stroke="#111" stroke-width="0.35"/>
<circle cx="42.8" cy="517.8" r="1.68" fill="#3c3c3c" stroke="#111" stroke-width="0.35"/>
<circle cx="117.2" cy="517.8" r="1.68" fill="#3c3c3c" stroke="#111" stroke-width="0.35"/>
<circle cx="177.2" cy="517.4" r="1.68" fill="#3c3c3c" stroke="#111" stroke-width="0.35"/>
<circle cx="191.3" cy="517.0" r="1.68" fill="#3c3c3c" stroke="#111" stroke-width="0.35"/>
<circle cx="200.7" cy="517.4" r="1.68" fill="#3c3c3c" stroke="#111" stroke-width="0.35"/>
<circle cx="152.6" cy="519.3" r="1.68" fill="#3c3c3c" stroke="#111" stroke-width="0.35"/>
<circle cx="152.9" cy="519.1" r="1.68" fill="#3c3c3c" stroke="#111" stroke-width="0.35"/>
<circle cx="54.5" cy="519.4" r="1.68" fill="#3c3c3c" stroke="#111" stroke-width="0.35"/>
<circle cx="46.8" cy="518.5" r="1.68" fill="#3c3c3c" stroke="#111" stroke-width="0.35"/>
<circle cx="176.8" cy="518.8" r="1.68" fill="#3c3c3c" stroke="#111" stroke-width="0.35"/>
<circle cx="160.7" cy="518.3" r="1.68" fill="#3c3c3c" stroke="#111" stroke-width="0.35"/>
<circle cx="203.9" cy="517.2" r="1.68" fill="#3c3c3c" stroke="#111" stroke-width="0.35"/>
<circle cx="191.1" cy="518.9" r="1.68" fill="#3c3c3c" stroke="#111" stroke-width="0.35"/>
<circle cx="71.8" cy="517.9" r="1.68" fill="#3c3c3c" stroke="#111" stroke-width="0.35"/>
<circle cx="112.3" cy="516.9" r="1.68" fill="#3c3c3c" stroke="#111" stroke-width="0.35"/>
<circle cx="181.5" cy="519.1" r="1.68" fill="#3c3c3c" stroke="#111" stroke-width="0.35"/>
<circle cx="164.6" cy="516.6" r="1.68" fill="#3c3c3c" stroke="#111" stroke-width="0.35"/>
<circle cx="161.2" cy="519.3" r="1.68" fill="#3c3c3c" stroke="#111" stroke-width="0.35"/>
<circle cx="159.2" cy="519.3" r="1.68" fill="#3c3c3c" stroke="#111" stroke-width="0.35"/>
<circle cx="199.4" cy="518.6" r="1.68" fill="#3c3c3c" stroke="#111" stroke-width="0.35"/>
<circle cx="163.2" cy="517.4" r="1.68" fill="#3c3c3c" stroke="#111" stroke-width="0.35"/>
<circle cx="168.2" cy="517.4" r="1.68" fill="#3c3c3c" stroke="#111" stroke-width="0.35"/>
<circle cx="84.1" cy="517.5" r="1.68" fill="#3c3c3c" stroke="#111" stroke-width="0.35"/>
<circle cx="91.3" cy="516.6" r="1.68" fill="#3c3c3c" stroke="#111" stroke-width="0.35"/>
<circle cx="64.9" cy="517.3" r="1.68" fill="#3c3c3c" stroke="#111" stroke-width="0.35"/>
<circle cx="76.0" cy="516.6" r="1.68" fill="#3c3c3c" stroke="#111" stroke-width="0.35"/>
<circle cx="162.1" cy="519.0" r="1.68" fill="#3c3c3c" stroke="#111" stroke-width="0.35"/>
<circle cx="95.2" cy="518.6" r="1.68" fill="#3c3c3c" stroke="#111" stroke-width="0.35"/>
<circle cx="184.2" cy="516.6" r="1.68" fill="#3c3c3c" stroke="#111" stroke-width="0.35"/>
<circle cx="135.1" cy="518.3" r="1.68" fill="#3c3c3c" stroke="#111" stroke-width="0.35"/>
<circle cx="68.6" cy="519.2" r="1.68" fill="#3c3c3c" stroke="#111" stroke-width="0.35"/>
<circle cx="173.6" cy="518.1" r="1.68" fill="#3c3c3c" stroke="#111" stroke-width="0.35"/>
<circle cx="129.0" cy="519.0" r="1.68" fill="#3c3c3c" stroke="#111" stroke-width="0.35"/>
<circle cx="49.5" cy="519.1" r="1.68" fill="#3c3c3c" stroke="#111" stroke-width="0.35"/>
<circle cx="127.0" cy="517.4" r="1.68" fill="#3c3c3c" stroke="#111" stroke-width="0.35"/>
<circle cx="83.1" cy="518.1" r="1.68" fill="#3c3c3c" stroke="#111" stroke-width="0.35"/>
<circle cx="56.7" cy="519.0" r="1.68" fill="#3c3c3c" stroke="#111" stroke-width="0.35"/>
<circle cx="107.8" cy="519.2" r="1.68" fill="#3c3c3c" stroke="#111" stroke-width="0.35"/>
<circle cx="198.2" cy="518.9" r="1.68" fill="#3c3c3c" stroke="#111" stroke-width="0.35"/>
<circle cx="58.0" cy="517.2" r="1.68" fill="#3c3c3c" stroke="#111" stroke-width="0.35"/>
<circle cx="144.6" cy="519.3" r="1.68" fill="#3c3c3c" stroke="#111" stroke-width="0.35"/>
<circle cx="143.8" cy="517.6" r="1.68" fill="#3c3c3c" stroke="#111" stroke-width="0.35"/>
<circle cx="174.2" cy="517.9" r="1.68" fill="#3c3c3c" stroke="#111" stroke-width="0.35"/>
<circle cx="137.9" cy="517.9" r="1.68" fill="#3c3c3c" stroke="#111" stroke-width="0.35"/>
<circle cx="197.9" cy="518.3" r="1.68" fill="#3c3c3c" stroke="#111" stroke-width="0.35"/>
<circle cx="58.0" cy="518.4" r="1.68" fill="#3c3c3c" stroke="#111" stroke-width="0.35"/>
<circle cx="106.9" cy="517.0" r="1.68" fill="#3c3c3c" stroke="#111" stroke-width="0.35"/>
<circle cx="122.3" cy="517.3" r="1.68" fill="#3c3c3c" stroke="#111" stroke-width="0.35"/>
<circle cx="197.7" cy="517.2" r="1.68" fill="#3c3c3c" stroke="#111" stroke-width="0.35"/>
<circle cx="130.3" cy="519.0" r="1.68" fill="#00007e" stroke="#111" stroke-width="0.35"/>
<circle cx="148.3" cy="519.7" r="1.68" fill="#00007e" stroke="#111" stroke-width="0.35"/>
<circle cx="135.2" cy="514.6" r="1.68" fill="#00007e" stroke="#111" stroke-width="0.35"/>
<circle cx="194.2" cy="514.1" r="1.68" fill="#00007e" stroke="#111" stroke-width="0.35"/>
<circle cx="179.2" cy="519.2" r="1.68" fill="#00007e" stroke="#111" stroke-width="0.35"/>
<circle cx="147.8" cy="516.5" r="1.68" fill="#00007e" stroke="#111" stroke-width="0.35"/>
<circle cx="88.4" cy="515.7" r="1.68" fill="#00007e" stroke="#111" stroke-width="0.35"/>
<circle cx="116.6" cy="516.5" r="1.68" fill="#00007e" stroke="#111" stroke-width="0.35"/>
<circle cx="49.6" cy="519.9" r="1.68" fill="#00007e" stroke="#111" stroke-width="0.35"/>
<circle cx="175.1" cy="517.0" r="1.68" fill="#00007e" stroke="#111" stroke-width="0.35"/>
<circle cx="80.4" cy="516.1" r="1.68" fill="#00007e" stroke="#111" stroke-width="0.35"/>
<circle cx="173.0" cy="514.3" r="1.68" fill="#00007e" stroke="#111" stroke-width="0.35"/>
<circle cx="156.4" cy="518.5" r="1.68" fill="#00007e" stroke="#111" stroke-width="0.35"/>
<circle cx="38.8" cy="519.2" r="1.68" fill="#00007e" stroke="#111" stroke-width="0.35"/>
<circle cx="130.4" cy="519.4" r="1.68" fill="#00007e" stroke="#111" stroke-width="0.35"/>
<circle cx="145.2" cy="519.9" r="1.68" fill="#00007e" stroke="#111" stroke-width="0.35"/>
<circle cx="151.5" cy="517.7" r="1.68" fill="#00007e" stroke="#111" stroke-width="0.35"/>
<circle cx="129.5" cy="518.0" r="1.68" fill="#00007e" stroke="#111" stroke-width="0.35"/>
<circle cx="83.3" cy="516.6" r="1.68" fill="#00007e" stroke="#111" stroke-width="0.35"/>
<circle cx="84.9" cy="517.4" r="1.68" fill="#00007e" stroke="#111" stroke-width="0.35"/>
<circle cx="64.2" cy="517.8" r="1.68" fill="#00007e" stroke="#111" stroke-width="0.35"/>
<circle cx="41.7" cy="519.1" r="1.68" fill="#00007e" stroke="#111" stroke-width="0.35"/>
<circle cx="85.6" cy="514.6" r="1.68" fill="#00007e" stroke="#111" stroke-width="0.35"/>
<circle cx="52.6" cy="517.7" r="1.68" fill="#00007e" stroke="#111" stroke-width="0.35"/>
<circle cx="118.8" cy="518.0" r="1.68" fill="#00007e" stroke="#111" stroke-width="0.35"/>
<circle cx="182.0" cy="519.0" r="1.68" fill="#00007e" stroke="#111" stroke-width="0.35"/>
<circle cx="94.5" cy="519.5" r="1.68" fill="#00007e" stroke="#111" stroke-width="0.35"/>
<circle cx="72.0" cy="516.3" r="1.68" fill="#00007e" stroke="#111" stroke-width="0.35"/>
<circle cx="164.7" cy="519.4" r="1.68" fill="#00007e" stroke="#111" stroke-width="0.35"/>
<circle cx="144.8" cy="520.3" r="1.68" fill="#00007e" stroke="#111" stroke-width="0.35"/>
<circle cx="171.1" cy="515.3" r="1.68" fill="#00007e" stroke="#111" stroke-width="0.35"/>
<circle cx="145.8" cy="519.5" r="1.68" fill="#00007e" stroke="#111" stroke-width="0.35"/>
<circle cx="123.9" cy="519.3" r="1.68" fill="#00007e" stroke="#111" stroke-width="0.35"/>
<circle cx="48.4" cy="514.6" r="1.68" fill="#00007e" stroke="#111" stroke-width="0.35"/>
<circle cx="83.2" cy="519.9" r="1.68" fill="#00007e" stroke="#111" stroke-width="0.35"/>
<circle cx="115.1" cy="515.3" r="1.68" fill="#00007e" stroke="#111" stroke-width="0.35"/>
<circle cx="137.5" cy="519.0" r="1.68" fill="#00007e" stroke="#111" stroke-width="0.35"/>
<circle cx="167.8" cy="514.4" r="1.68" fill="#00007e" stroke="#111" stroke-width="0.35"/>
<circle cx="62.4" cy="519.9" r="1.68" fill="#00007e" stroke="#111" stroke-width="0.35"/>
<circle cx="90.7" cy="519.3" r="1.68" fill="#00007e" stroke="#111" stroke-width="0.35"/>
<circle cx="122.8" cy="514.8" r="1.68" fill="#00007e" stroke="#111" stroke-width="0.35"/>
<circle cx="105.9" cy="518.3" r="1.68" fill="#00007e" stroke="#111" stroke-width="0.35"/>
<circle cx="75.5" cy="514.4" r="1.68" fill="#00007e" stroke="#111" stroke-width="0.35"/>
<circle cx="203.7" cy="520.2" r="1.68" fill="#00007e" stroke="#111" stroke-width="0.35"/>
<circle cx="75.0" cy="519.1" r="1.68" fill="#00007e" stroke="#111" stroke-width="0.35"/>
<circle cx="93.4" cy="519.2" r="1.68" fill="#00007e" stroke="#111" stroke-width="0.35"/>
<circle cx="107.4" cy="519.6" r="1.68" fill="#00007e" stroke="#111" stroke-width="0.35"/>
<circle cx="155.2" cy="518.7" r="1.68" fill="#00007e" stroke="#111" stroke-width="0.35"/>
<circle cx="44.4" cy="519.4" r="1.68" fill="#00007e" stroke="#111" stroke-width="0.35"/>
<circle cx="143.7" cy="518.5" r="1.68" fill="#00007e" stroke="#111" stroke-width="0.35"/>
<circle cx="65.3" cy="518.9" r="1.68" fill="#00007e" stroke="#111" stroke-width="0.35"/>
<circle cx="50.2" cy="519.5" r="1.68" fill="#00007e" stroke="#111" stroke-width="0.35"/>
<circle cx="199.4" cy="516.1" r="1.68" fill="#00007e" stroke="#111" stroke-width="0.35"/>
<circle cx="80.5" cy="520.0" r="1.68" fill="#00007e" stroke="#111" stroke-width="0.35"/>
<circle cx="55.7" cy="520.1" r="1.68" fill="#00007e" stroke="#111" stroke-width="0.35"/>
<circle cx="170.3" cy="519.4" r="1.68" fill="#00007e" stroke="#111" stroke-width="0.35"/>
<circle cx="153.1" cy="520.1" r="1.68" fill="#00007e" stroke="#111" stroke-width="0.35"/>
<circle cx="152.7" cy="519.1" r="1.68" fill="#00007e" stroke="#111" stroke-width="0.35"/>
<circle cx="53.5" cy="516.6" r="1.68" fill="#00007e" stroke="#111" stroke-width="0.35"/>
<circle cx="137.5" cy="515.5" r="1.68" fill="#00007e" stroke="#111" stroke-width="0.35"/>
<circle cx="172.7" cy="519.7" r="1.68" fill="#00007e" stroke="#111" stroke-width="0.35"/>
<circle cx="74.2" cy="515.9" r="1.68" fill="#00007e" stroke="#111" stroke-width="0.35"/>
<circle cx="117.0" cy="515.7" r="1.68" fill="#00007e" stroke="#111" stroke-width="0.35"/>
<circle cx="41.0" cy="518.9" r="1.68" fill="#00007e" stroke="#111" stroke-width="0.35"/>
<circle cx="155.0" cy="516.7" r="1.68" fill="#00007e" stroke="#111" stroke-width="0.35"/>
<circle cx="194.2" cy="519.3" r="1.68" fill="#00007e" stroke="#111" stroke-width="0.35"/>
<circle cx="181.6" cy="520.0" r="1.68" fill="#00007e" stroke="#111" stroke-width="0.35"/>
<circle cx="46.0" cy="520.0" r="1.68" fill="#00007e" stroke="#111" stroke-width="0.35"/>
<circle cx="149.0" cy="519.4" r="1.68" fill="#00007e" stroke="#111" stroke-width="0.35"/>
<circle cx="127.4" cy="520.2" r="1.68" fill="#00007e" stroke="#111" stroke-width="0.35"/>
<circle cx="42.7" cy="518.1" r="1.68" fill="#00007e" stroke="#111" stroke-width="0.35"/>
<circle cx="149.2" cy="518.9" r="1.68" fill="#00007e" stroke="#111" stroke-width="0.35"/>
<circle cx="121.6" cy="516.3" r="1.68" fill="#00007e" stroke="#111" stroke-width="0.35"/>
<circle cx="119.0" cy="516.4" r="1.68" fill="#00007e" stroke="#111" stroke-width="0.35"/>
<circle cx="157.2" cy="518.1" r="1.68" fill="#00007e" stroke="#111" stroke-width="0.35"/>
<circle cx="111.9" cy="516.1" r="1.68" fill="#00007e" stroke="#111" stroke-width="0.35"/>
<circle cx="164.5" cy="518.7" r="1.68" fill="#00007e" stroke="#111" stroke-width="0.35"/>
<circle cx="47.0" cy="519.9" r="1.68" fill="#00007e" stroke="#111" stroke-width="0.35"/>
<circle cx="172.6" cy="514.9" r="1.68" fill="#00007e" stroke="#111" stroke-width="0.35"/>
<circle cx="87.8" cy="519.1" r="1.68" fill="#00007e" stroke="#111" stroke-width="0.35"/>
<circle cx="125.1" cy="514.2" r="1.68" fill="#00007e" stroke="#111" stroke-width="0.35"/>
<circle cx="195.1" cy="520.1" r="1.68" fill="#00007e" stroke="#111" stroke-width="0.35"/>
<circle cx="41.1" cy="520.2" r="1.68" fill="#00007e" stroke="#111" stroke-width="0.35"/>
<circle cx="93.9" cy="519.9" r="1.68" fill="#00007e" stroke="#111" stroke-width="0.35"/>
<circle cx="52.2" cy="516.2" r="1.68" fill="#00007e" stroke="#111" stroke-width="0.35"/>
<circle cx="119.9" cy="518.8" r="1.68" fill="#00007e" stroke="#111" stroke-width="0.35"/>
<circle cx="186.2" cy="519.8" r="1.68" fill="#00007e" stroke="#111" stroke-width="0.35"/>
<circle cx="146.4" cy="515.6" r="1.68" fill="#00007e" stroke="#111" stroke-width="0.35"/>
<circle cx="129.0" cy="518.2" r="1.68" fill="#00007e" stroke="#111" stroke-width="0.35"/>
<circle cx="77.0" cy="519.6" r="1.68" fill="#00007e" stroke="#111" stroke-width="0.35"/>
<circle cx="135.3" cy="514.7" r="1.68" fill="#00007e" stroke="#111" stroke-width="0.35"/>
<circle cx="204.7" cy="515.0" r="1.68" fill="#00007e" stroke="#111" stroke-width="0.35"/>
<circle cx="67.1" cy="519.0" r="1.68" fill="#00007e" stroke="#111" stroke-width="0.35"/>
<circle cx="153.8" cy="520.0" r="1.68" fill="#00007e" stroke="#111" stroke-width="0.35"/>
<circle cx="92.2" cy="518.9" r="1.68" fill="#00007e" stroke="#111" stroke-width="0.35"/>
<circle cx="151.2" cy="514.7" r="1.68" fill="#00007e" stroke="#111" stroke-width="0.35"/>
<circle cx="116.0" cy="519.2" r="1.68" fill="#00007e" stroke="#111" stroke-width="0.35"/>
<circle cx="202.3" cy="520.2" r="1.68" fill="#00007e" stroke="#111" stroke-width="0.35"/>
<circle cx="161.9" cy="519.3" r="1.68" fill="#00007e" stroke="#111" stroke-width="0.35"/>
<circle cx="110.9" cy="520.2" r="1.68" fill="#00007e" stroke="#111" stroke-width="0.35"/>
<circle cx="145.7" cy="519.6" r="1.68" fill="#00007e" stroke="#111" stroke-width="0.35"/>
<circle cx="96.3" cy="519.2" r="1.68" fill="#00007e" stroke="#111" stroke-width="0.35"/>
<circle cx="174.6" cy="514.1" r="1.68" fill="#00007e" stroke="#111" stroke-width="0.35"/>
<circle cx="145.9" cy="515.6" r="1.68" fill="#00007e" stroke="#111" stroke-width="0.35"/>
<circle cx="199.5" cy="518.8" r="1.68" fill="#00007e" stroke="#111" stroke-width="0.35"/>
<circle cx="106.1" cy="520.0" r="1.68" fill="#00007e" stroke="#111" stroke-width="0.35"/>
<circle cx="113.4" cy="515.3" r="1.68" fill="#00007e" stroke="#111" stroke-width="0.35"/>
<circle cx="127.3" cy="519.9" r="1.68" fill="#00007e" stroke="#111" stroke-width="0.35"/>
<circle cx="185.3" cy="517.7" r="1.68" fill="#00007e" stroke="#111" stroke-width="0.35"/>
<circle cx="117.0" cy="516.4" r="1.68" fill="#00007e" stroke="#111" stroke-width="0.35"/>
<circle cx="94.3" cy="519.4" r="1.68" fill="#00007e" stroke="#111" stroke-width="0.35"/>
<circle cx="183.3" cy="519.1" r="1.68" fill="#00007e" stroke="#111" stroke-width="0.35"/>
<circle cx="144.2" cy="514.8" r="1.68" fill="#00007e" stroke="#111" stroke-width="0.35"/>
<circle cx="165.9" cy="518.1" r="1.68" fill="#00007e" stroke="#111" stroke-width="0.35"/>
<circle cx="185.5" cy="519.2" r="1.68" fill="#00007e" stroke="#111" stroke-width="0.35"/>
<circle cx="107.7" cy="519.3" r="1.68" fill="#00007e" stroke="#111" stroke-width="0.35"/>
<circle cx="195.4" cy="514.5" r="1.68" fill="#00007e" stroke="#111" stroke-width="0.35"/>
<circle cx="155.4" cy="514.6" r="1.68" fill="#00007e" stroke="#111" stroke-width="0.35"/>
<circle cx="96.4" cy="519.3" r="1.68" fill="#00007e" stroke="#111" stroke-width="0.35"/>
<circle cx="162.8" cy="519.1" r="1.68" fill="#00007e" stroke="#111" stroke-width="0.35"/>
<circle cx="79.7" cy="516.7" r="1.68" fill="#00007e" stroke="#111" stroke-width="0.35"/>
<circle cx="113.0" cy="519.4" r="1.68" fill="#00007e" stroke="#111" stroke-width="0.35"/>
<circle cx="170.1" cy="517.7" r="1.68" fill="#00007e" stroke="#111" stroke-width="0.35"/>
<circle cx="195.1" cy="519.7" r="1.68" fill="#00007e" stroke="#111" stroke-width="0.35"/>
<circle cx="100.5" cy="519.2" r="1.68" fill="#00007e" stroke="#111" stroke-width="0.35"/>
<circle cx="73.3" cy="514.4" r="1.68" fill="#00007e" stroke="#111" stroke-width="0.35"/>
<circle cx="158.1" cy="514.1" r="1.68" fill="#00007e" stroke="#111" stroke-width="0.35"/>
<circle cx="102.4" cy="515.6" r="1.68" fill="#00007e" stroke="#111" stroke-width="0.35"/>
<circle cx="142.9" cy="519.8" r="1.68" fill="#00007e" stroke="#111" stroke-width="0.35"/>
<circle cx="61.6" cy="519.9" r="1.68" fill="#00007e" stroke="#111" stroke-width="0.35"/>
<circle cx="111.6" cy="518.8" r="1.68" fill="#00007e" stroke="#111" stroke-width="0.35"/>
<circle cx="102.6" cy="514.1" r="1.68" fill="#00007e" stroke="#111" stroke-width="0.35"/>
<circle cx="125.8" cy="520.1" r="1.68" fill="#00007e" stroke="#111" stroke-width="0.35"/>
<circle cx="110.2" cy="519.6" r="1.68" fill="#00007e" stroke="#111" stroke-width="0.35"/>
<circle cx="53.8" cy="520.1" r="1.68" fill="#00007e" stroke="#111" stroke-width="0.35"/>
<circle cx="133.4" cy="518.9" r="1.68" fill="#00007e" stroke="#111" stroke-width="0.35"/>
<circle cx="62.7" cy="519.3" r="1.68" fill="#00007e" stroke="#111" stroke-width="0.35"/>
<circle cx="197.6" cy="519.2" r="1.68" fill="#00007e" stroke="#111" stroke-width="0.35"/>
<circle cx="122.4" cy="519.4" r="1.68" fill="#00007e" stroke="#111" stroke-width="0.35"/>
<circle cx="104.4" cy="519.2" r="1.68" fill="#00007e" stroke="#111" stroke-width="0.35"/>
<circle cx="169.2" cy="519.6" r="1.68" fill="#00007e" stroke="#111" stroke-width="0.35"/>
<circle cx="194.7" cy="515.1" r="1.68" fill="#00007e" stroke="#111" stroke-width="0.35"/>
<circle cx="184.8" cy="514.8" r="1.68" fill="#00007e" stroke="#111" stroke-width="0.35"/>
<circle cx="38.7" cy="517.3" r="1.68" fill="#00007e" stroke="#111" stroke-width="0.35"/>
<circle cx="92.4" cy="518.9" r="1.68" fill="#00007e" stroke="#111" stroke-width="0.35"/>
<circle cx="162.2" cy="514.4" r="1.68" fill="#00007e" stroke="#111" stroke-width="0.35"/>
<circle cx="166.2" cy="514.2" r="1.68" fill="#00007e" stroke="#111" stroke-width="0.35"/>
<circle cx="142.4" cy="519.2" r="1.68" fill="#00007e" stroke="#111" stroke-width="0.35"/>
<circle cx="87.0" cy="514.2" r="1.68" fill="#00007e" stroke="#111" stroke-width="0.35"/>
<circle cx="200.3" cy="520.3" r="1.68" fill="#00007e" stroke="#111" stroke-width="0.35"/>
<circle cx="42.9" cy="519.0" r="1.68" fill="#00007e" stroke="#111" stroke-width="0.35"/>
<circle cx="205.5" cy="520.3" r="1.68" fill="#00007e" stroke="#111" stroke-width="0.35"/>
<circle cx="101.5" cy="519.2" r="1.68" fill="#00007e" stroke="#111" stroke-width="0.35"/>
<circle cx="49.4" cy="518.8" r="1.68" fill="#00007e" stroke="#111" stroke-width="0.35"/>
<circle cx="75.6" cy="519.1" r="1.68" fill="#00007e" stroke="#111" stroke-width="0.35"/>
<circle cx="205.7" cy="515.6" r="1.68" fill="#00007e" stroke="#111" stroke-width="0.35"/>
<circle cx="178.2" cy="519.7" r="1.68" fill="#00007e" stroke="#111" stroke-width="0.35"/>
<circle cx="40.9" cy="516.1" r="1.68" fill="#00007e" stroke="#111" stroke-width="0.35"/>
<circle cx="98.9" cy="520.2" r="1.68" fill="#00007e" stroke="#111" stroke-width="0.35"/>
<circle cx="170.9" cy="518.7" r="1.68" fill="#00007e" stroke="#111" stroke-width="0.35"/>
<circle cx="102.9" cy="519.0" r="1.68" fill="#00007e" stroke="#111" stroke-width="0.35"/>
<circle cx="182.4" cy="516.0" r="1.68" fill="#00007e" stroke="#111" stroke-width="0.35"/>
<circle cx="127.0" cy="517.9" r="1.68" fill="#00007e" stroke="#111" stroke-width="0.35"/>
<circle cx="122.8" cy="520.0" r="1.68" fill="#00007e" stroke="#111" stroke-width="0.35"/>
<circle cx="143.4" cy="514.4" r="1.68" fill="#00007e" stroke="#111" stroke-width="0.35"/>
<circle cx="186.9" cy="516.5" r="1.68" fill="#00007e" stroke="#111" stroke-width="0.35"/>
<circle cx="107.0" cy="518.6" r="1.68" fill="#00007e" stroke="#111" stroke-width="0.35"/>
<circle cx="94.5" cy="514.6" r="1.68" fill="#00007e" stroke="#111" stroke-width="0.35"/>
<circle cx="160.5" cy="520.2" r="1.68" fill="#00007e" stroke="#111" stroke-width="0.35"/>
<circle cx="64.2" cy="518.7" r="1.68" fill="#00007e" stroke="#111" stroke-width="0.35"/>
<circle cx="171.4" cy="518.1" r="1.68" fill="#00007e" stroke="#111" stroke-width="0.35"/>
<circle cx="79.1" cy="518.1" r="1.68" fill="#00007e" stroke="#111" stroke-width="0.35"/>
<circle cx="81.2" cy="518.3" r="1.68" fill="#00007e" stroke="#111" stroke-width="0.35"/>
<circle cx="84.0" cy="514.0" r="1.68" fill="#00007e" stroke="#111" stroke-width="0.35"/>
<circle cx="56.9" cy="520.0" r="1.68" fill="#00007e" stroke="#111" stroke-width="0.35"/>
<circle cx="114.6" cy="516.3" r="1.68" fill="#00007e" stroke="#111" stroke-width="0.35"/>
<circle cx="86.8" cy="519.0" r="1.68" fill="#00007e" stroke="#111" stroke-width="0.35"/>
<circle cx="196.2" cy="518.6" r="1.68" fill="#00007e" stroke="#111" stroke-width="0.35"/>
<circle cx="50.2" cy="520.1" r="1.68" fill="#00007e" stroke="#111" stroke-width="0.35"/>
<circle cx="76.5" cy="514.9" r="1.68" fill="#00007e" stroke="#111" stroke-width="0.35"/>
<circle cx="203.2" cy="514.6" r="1.68" fill="#00007e" stroke="#111" stroke-width="0.35"/>
<circle cx="93.6" cy="515.0" r="1.68" fill="#00007e" stroke="#111" stroke-width="0.35"/>
<circle cx="114.6" cy="516.1" r="1.68" fill="#00007e" stroke="#111" stroke-width="0.35"/>
<circle cx="98.9" cy="516.3" r="1.68" fill="#00007e" stroke="#111" stroke-width="0.35"/>
<circle cx="185.9" cy="519.1" r="1.68" fill="#00007e" stroke="#111" stroke-width="0.35"/>
<circle cx="188.5" cy="516.4" r="1.68" fill="#00007e" stroke="#111" stroke-width="0.35"/>
<circle cx="59.0" cy="515.8" r="1.68" fill="#00007e" stroke="#111" stroke-width="0.35"/>
<circle cx="206.0" cy="519.6" r="1.68" fill="#00007e" stroke="#111" stroke-width="0.35"/>
<circle cx="181.9" cy="518.7" r="1.68" fill="#00007e" stroke="#111" stroke-width="0.35"/>
<circle cx="153.8" cy="518.8" r="1.68" fill="#00007e" stroke="#111" stroke-width="0.35"/>
<circle cx="206.0" cy="520.2" r="1.68" fill="#00007e" stroke="#111" stroke-width="0.35"/>
<circle cx="197.3" cy="518.9" r="1.68" fill="#00007e" stroke="#111" stroke-width="0.35"/>
<circle cx="166.9" cy="518.7" r="1.68" fill="#00007e" stroke="#111" stroke-width="0.35"/>
<circle cx="54.2" cy="518.7" r="1.68" fill="#00007e" stroke="#111" stroke-width="0.35"/>
<circle cx="185.2" cy="518.9" r="1.68" fill="#00007e" stroke="#111" stroke-width="0.35"/>
<circle cx="128.3" cy="518.9" r="1.68" fill="#00007e" stroke="#111" stroke-width="0.35"/>
<circle cx="192.5" cy="517.1" r="1.68" fill="#00007e" stroke="#111" stroke-width="0.35"/>
<circle cx="76.4" cy="516.3" r="1.68" fill="#00007e" stroke="#111" stroke-width="0.35"/>
<circle cx="134.1" cy="515.7" r="1.68" fill="#00007e" stroke="#111" stroke-width="0.35"/>
<circle cx="159.0" cy="519.1" r="1.68" fill="#00007e" stroke="#111" stroke-width="0.35"/>
<circle cx="118.7" cy="520.3" r="1.68" fill="#00007e" stroke="#111" stroke-width="0.35"/>
<circle cx="71.0" cy="519.5" r="1.68" fill="#00007e" stroke="#111" stroke-width="0.35"/>
<circle cx="202.7" cy="516.4" r="1.68" fill="#00007e" stroke="#111" stroke-width="0.35"/>
<circle cx="206.7" cy="516.8" r="1.68" fill="#00007e" stroke="#111" stroke-width="0.35"/>
<circle cx="79.6" cy="519.4" r="1.68" fill="#00007e" stroke="#111" stroke-width="0.35"/>
<circle cx="132.1" cy="519.4" r="1.68" fill="#00007e" stroke="#111" stroke-width="0.35"/>
<circle cx="127.4" cy="519.7" r="1.68" fill="#00007e" stroke="#111" stroke-width="0.35"/>
<circle cx="59.3" cy="518.8" r="1.68" fill="#00007e" stroke="#111" stroke-width="0.35"/>
<circle cx="62.6" cy="516.0" r="1.68" fill="#00007e" stroke="#111" stroke-width="0.35"/>
<circle cx="126.8" cy="518.8" r="1.68" fill="#00007e" stroke="#111" stroke-width="0.35"/>
<circle cx="184.7" cy="514.7" r="1.68" fill="#00007e" stroke="#111" stroke-width="0.35"/>
<circle cx="103.7" cy="519.5" r="1.68" fill="#00007e" stroke="#111" stroke-width="0.35"/>
<circle cx="39.7" cy="514.5" r="1.68" fill="#00007e" stroke="#111" stroke-width="0.35"/>
<circle cx="97.9" cy="516.2" r="1.68" fill="#00007e" stroke="#111" stroke-width="0.35"/>
<circle cx="96.2" cy="515.6" r="1.68" fill="#00007e" stroke="#111" stroke-width="0.35"/>
<circle cx="178.2" cy="517.4" r="1.68" fill="#00007e" stroke="#111" stroke-width="0.35"/>
<circle cx="169.6" cy="519.9" r="1.68" fill="#00007e" stroke="#111" stroke-width="0.35"/>
<circle cx="178.6" cy="519.9" r="1.68" fill="#00007e" stroke="#111" stroke-width="0.35"/>
<circle cx="97.9" cy="518.8" r="1.68" fill="#00007e" stroke="#111" stroke-width="0.35"/>
<circle cx="83.6" cy="518.6" r="1.68" fill="#00007e" stroke="#111" stroke-width="0.35"/>
<circle cx="144.7" cy="519.0" r="1.68" fill="#00007e" stroke="#111" stroke-width="0.35"/>
<circle cx="73.8" cy="519.3" r="1.68" fill="#00007e" stroke="#111" stroke-width="0.35"/>
<circle cx="147.8" cy="518.3" r="1.68" fill="#00007e" stroke="#111" stroke-width="0.35"/>
<circle cx="186.8" cy="515.9" r="1.68" fill="#00007e" stroke="#111" stroke-width="0.35"/>
<circle cx="143.5" cy="515.9" r="1.68" fill="#00007e" stroke="#111" stroke-width="0.35"/>
<circle cx="54.9" cy="518.9" r="1.68" fill="#00007e" stroke="#111" stroke-width="0.35"/>
<circle cx="106.0" cy="518.6" r="1.68" fill="#00007e" stroke="#111" stroke-width="0.35"/>
<circle cx="149.4" cy="514.9" r="1.68" fill="#00007e" stroke="#111" stroke-width="0.35"/>
<circle cx="188.9" cy="519.1" r="1.68" fill="#00007e" stroke="#111" stroke-width="0.35"/>
<circle cx="203.9" cy="518.9" r="1.68" fill="#00007e" stroke="#111" stroke-width="0.35"/>
<circle cx="47.9" cy="519.6" r="1.68" fill="#00007e" stroke="#111" stroke-width="0.35"/>
<circle cx="100.1" cy="515.6" r="1.68" fill="#00007e" stroke="#111" stroke-width="0.35"/>
<circle cx="132.1" cy="518.2" r="1.68" fill="#00007e" stroke="#111" stroke-width="0.35"/>
<circle cx="51.2" cy="518.1" r="1.68" fill="#00007e" stroke="#111" stroke-width="0.35"/>
<circle cx="168.1" cy="518.6" r="1.68" fill="#00007e" stroke="#111" stroke-width="0.35"/>
<circle cx="78.6" cy="519.7" r="1.68" fill="#00007e" stroke="#111" stroke-width="0.35"/>
<circle cx="126.2" cy="515.1" r="1.68" fill="#00007e" stroke="#111" stroke-width="0.35"/>
<circle cx="156.1" cy="519.1" r="1.68" fill="#00007e" stroke="#111" stroke-width="0.35"/>
<circle cx="145.6" cy="519.2" r="1.68" fill="#00007e" stroke="#111" stroke-width="0.35"/>
<circle cx="112.1" cy="519.1" r="1.68" fill="#00007e" stroke="#111" stroke-width="0.35"/>
<circle cx="102.5" cy="514.3" r="1.68" fill="#00007e" stroke="#111" stroke-width="0.35"/>
<circle cx="101.4" cy="514.9" r="1.68" fill="#00007e" stroke="#111" stroke-width="0.35"/>
<circle cx="171.8" cy="519.3" r="1.68" fill="#00007e" stroke="#111" stroke-width="0.35"/>
<circle cx="115.1" cy="519.4" r="1.68" fill="#00007e" stroke="#111" stroke-width="0.35"/>
<circle cx="190.3" cy="516.3" r="1.68" fill="#00007e" stroke="#111" stroke-width="0.35"/>
<circle cx="173.7" cy="515.3" r="1.68" fill="#00007e" stroke="#111" stroke-width="0.35"/>
<circle cx="73.1" cy="519.3" r="1.68" fill="#00007e" stroke="#111" stroke-width="0.35"/>
<circle cx="61.5" cy="518.7" r="1.68" fill="#00007e" stroke="#111" stroke-width="0.35"/>
<circle cx="202.9" cy="518.8" r="1.68" fill="#00007e" stroke="#111" stroke-width="0.35"/>
<circle cx="201.2" cy="514.7" r="1.68" fill="#00007e" stroke="#111" stroke-width="0.35"/>
<circle cx="160.7" cy="515.8" r="1.68" fill="#00007e" stroke="#111" stroke-width="0.35"/>
<circle cx="186.9" cy="519.0" r="1.68" fill="#00007e" stroke="#111" stroke-width="0.35"/>
<circle cx="150.0" cy="517.6" r="1.68" fill="#00007e" stroke="#111" stroke-width="0.35"/>
<circle cx="141.3" cy="518.5" r="1.68" fill="#00007e" stroke="#111" stroke-width="0.35"/>
<circle cx="189.2" cy="514.5" r="1.68" fill="#00007e" stroke="#111" stroke-width="0.35"/>
<circle cx="53.1" cy="520.0" r="1.68" fill="#00007e" stroke="#111" stroke-width="0.35"/>
<circle cx="178.9" cy="518.9" r="1.68" fill="#00007e" stroke="#111" stroke-width="0.35"/>
<circle cx="150.0" cy="518.9" r="1.68" fill="#00007e" stroke="#111" stroke-width="0.35"/>
<circle cx="134.6" cy="518.9" r="1.68" fill="#00007e" stroke="#111" stroke-width="0.35"/>
<circle cx="198.8" cy="518.8" r="1.68" fill="#00007e" stroke="#111" stroke-width="0.35"/>
<circle cx="71.3" cy="515.8" r="1.68" fill="#00007e" stroke="#111" stroke-width="0.35"/>
<circle cx="75.3" cy="519.8" r="1.68" fill="#00007e" stroke="#111" stroke-width="0.35"/>
<circle cx="191.0" cy="520.1" r="1.68" fill="#00007e" stroke="#111" stroke-width="0.35"/>
<circle cx="139.3" cy="519.0" r="1.68" fill="#00007e" stroke="#111" stroke-width="0.35"/>
<circle cx="77.9" cy="520.2" r="1.68" fill="#00007e" stroke="#111" stroke-width="0.35"/>
<circle cx="150.6" cy="516.2" r="1.68" fill="#00007e" stroke="#111" stroke-width="0.35"/>
<circle cx="181.2" cy="518.8" r="1.68" fill="#00007e" stroke="#111" stroke-width="0.35"/>
<circle cx="42.1" cy="514.4" r="1.68" fill="#00007e" stroke="#111" stroke-width="0.35"/>
<circle cx="170.0" cy="516.5" r="1.68" fill="#00007e" stroke="#111" stroke-width="0.35"/>
<circle cx="178.9" cy="519.4" r="1.68" fill="#00007e" stroke="#111" stroke-width="0.35"/>
<circle cx="181.4" cy="518.9" r="1.68" fill="#00007e" stroke="#111" stroke-width="0.35"/>
<circle cx="81.6" cy="518.7" r="1.68" fill="#00007e" stroke="#111" stroke-width="0.35"/>
<circle cx="114.5" cy="520.0" r="1.68" fill="#00007e" stroke="#111" stroke-width="0.35"/>
<circle cx="88.6" cy="516.4" r="1.68" fill="#00007e" stroke="#111" stroke-width="0.35"/>
<circle cx="167.3" cy="515.5" r="1.68" fill="#00007e" stroke="#111" stroke-width="0.35"/>
<circle cx="125.5" cy="515.1" r="1.68" fill="#00007e" stroke="#111" stroke-width="0.35"/>
<circle cx="158.7" cy="516.1" r="1.68" fill="#00007e" stroke="#111" stroke-width="0.35"/>
<circle cx="77.6" cy="516.1" r="1.68" fill="#00007e" stroke="#111" stroke-width="0.35"/>
<circle cx="134.7" cy="518.9" r="1.68" fill="#00007e" stroke="#111" stroke-width="0.35"/>
<circle cx="145.9" cy="518.9" r="1.68" fill="#00007e" stroke="#111" stroke-width="0.35"/>
<circle cx="176.3" cy="515.5" r="1.68" fill="#00007e" stroke="#111" stroke-width="0.35"/>
<circle cx="67.9" cy="520.0" r="1.68" fill="#00007e" stroke="#111" stroke-width="0.35"/>
<circle cx="59.5" cy="515.5" r="1.68" fill="#00007e" stroke="#111" stroke-width="0.35"/>
<circle cx="108.1" cy="519.5" r="1.68" fill="#00007e" stroke="#111" stroke-width="0.35"/>
<circle cx="135.3" cy="519.1" r="1.68" fill="#00007e" stroke="#111" stroke-width="0.35"/>
<circle cx="156.3" cy="514.7" r="1.68" fill="#00007e" stroke="#111" stroke-width="0.35"/>
<circle cx="127.4" cy="518.6" r="1.68" fill="#00007e" stroke="#111" stroke-width="0.35"/>
<circle cx="64.0" cy="515.6" r="1.68" fill="#00007e" stroke="#111" stroke-width="0.35"/>
<circle cx="88.4" cy="518.9" r="1.68" fill="#00007e" stroke="#111" stroke-width="0.35"/>
<circle cx="47.7" cy="519.1" r="1.68" fill="#00007e" stroke="#111" stroke-width="0.35"/>
<circle cx="106.0" cy="519.9" r="1.68" fill="#00007e" stroke="#111" stroke-width="0.35"/>
<circle cx="113.8" cy="519.7" r="1.68" fill="#00007e" stroke="#111" stroke-width="0.35"/>
<circle cx="57.0" cy="515.1" r="1.68" fill="#00007e" stroke="#111" stroke-width="0.35"/>
<circle cx="127.4" cy="520.0" r="1.68" fill="#00007e" stroke="#111" stroke-width="0.35"/>
<circle cx="88.2" cy="519.5" r="1.68" fill="#00007e" stroke="#111" stroke-width="0.35"/>
<circle cx="156.2" cy="519.4" r="1.68" fill="#00007e" stroke="#111" stroke-width="0.35"/>
<circle cx="160.0" cy="520.0" r="1.68" fill="#00007e" stroke="#111" stroke-width="0.35"/>
<circle cx="94.8" cy="514.7" r="1.68" fill="#00007e" stroke="#111" stroke-width="0.35"/>
<circle cx="170.7" cy="515.0" r="1.68" fill="#00007e" stroke="#111" stroke-width="0.35"/>
<circle cx="95.8" cy="514.8" r="1.68" fill="#00007e" stroke="#111" stroke-width="0.35"/>
<circle cx="77.7" cy="520.1" r="1.68" fill="#00007e" stroke="#111" stroke-width="0.35"/>
<circle cx="184.6" cy="519.0" r="1.68" fill="#00007e" stroke="#111" stroke-width="0.35"/>
<circle cx="110.9" cy="517.9" r="1.68" fill="#00007e" stroke="#111" stroke-width="0.35"/>
<circle cx="82.5" cy="519.1" r="1.68" fill="#00007e" stroke="#111" stroke-width="0.35"/>
<circle cx="93.0" cy="519.1" r="1.68" fill="#00007e" stroke="#111" stroke-width="0.35"/>
<circle cx="196.1" cy="519.3" r="1.68" fill="#00007e" stroke="#111" stroke-width="0.35"/>
<circle cx="167.0" cy="514.1" r="1.68" fill="#00007e" stroke="#111" stroke-width="0.35"/>
<circle cx="176.2" cy="519.7" r="1.68" fill="#00007e" stroke="#111" stroke-width="0.35"/>
<circle cx="138.0" cy="518.7" r="1.68" fill="#00007e" stroke="#111" stroke-width="0.35"/>
<circle cx="165.5" cy="519.0" r="1.68" fill="#00007e" stroke="#111" stroke-width="0.35"/>
<circle cx="87.0" cy="519.0" r="1.68" fill="#00007e" stroke="#111" stroke-width="0.35"/>
<circle cx="74.1" cy="517.8" r="1.68" fill="#00007e" stroke="#111" stroke-width="0.35"/>
<circle cx="186.0" cy="518.6" r="1.68" fill="#00007e" stroke="#111" stroke-width="0.35"/>
<circle cx="162.0" cy="519.1" r="1.68" fill="#00007e" stroke="#111" stroke-width="0.35"/>
<circle cx="108.5" cy="516.9" r="1.68" fill="#00007e" stroke="#111" stroke-width="0.35"/>
<circle cx="124.4" cy="514.2" r="1.68" fill="#00007e" stroke="#111" stroke-width="0.35"/>
<circle cx="148.6" cy="519.0" r="1.68" fill="#00007e" stroke="#111" stroke-width="0.35"/>
<circle cx="151.6" cy="516.4" r="1.68" fill="#00007e" stroke="#111" stroke-width="0.35"/>
<circle cx="149.0" cy="518.4" r="1.68" fill="#00007e" stroke="#111" stroke-width="0.35"/>
<circle cx="77.0" cy="516.1" r="1.68" fill="#00007e" stroke="#111" stroke-width="0.35"/>
<circle cx="163.5" cy="518.9" r="1.68" fill="#00007e" stroke="#111" stroke-width="0.35"/>
<circle cx="93.3" cy="516.3" r="1.68" fill="#00007e" stroke="#111" stroke-width="0.35"/>
<circle cx="118.0" cy="517.0" r="1.68" fill="#00007e" stroke="#111" stroke-width="0.35"/>
<circle cx="183.4" cy="518.1" r="1.68" fill="#00007e" stroke="#111" stroke-width="0.35"/>
<circle cx="100.1" cy="518.7" r="1.68" fill="#00007e" stroke="#111" stroke-width="0.35"/>
<circle cx="175.3" cy="516.7" r="1.68" fill="#00007e" stroke="#111" stroke-width="0.35"/>
<circle cx="62.9" cy="518.5" r="1.68" fill="#00007e" stroke="#111" stroke-width="0.35"/>
<circle cx="124.4" cy="519.9" r="1.68" fill="#00007e" stroke="#111" stroke-width="0.35"/>
<circle cx="80.7" cy="514.5" r="1.68" fill="#00007e" stroke="#111" stroke-width="0.35"/>
<circle cx="182.2" cy="514.0" r="1.68" fill="#00007e" stroke="#111" stroke-width="0.35"/>
<circle cx="50.6" cy="512.2" r="1.68" fill="#3c3c3c" stroke="#111" stroke-width="0.35"/>
<circle cx="53.2" cy="511.6" r="1.68" fill="#3c3c3c" stroke="#111" stroke-width="0.35"/>
<circle cx="55.9" cy="512.2" r="1.68" fill="#3c3c3c" stroke="#111" stroke-width="0.35"/>
<circle cx="97.6" cy="501.0" r="1.68" fill="#3c3c3c" stroke="#111" stroke-width="0.35"/>
<circle cx="41.0" cy="501.2" r="1.68" fill="#00007e" stroke="#111" stroke-width="0.35"/>
<circle cx="55.9" cy="497.3" r="1.68" fill="#00007e" stroke="#111" stroke-width="0.35"/>
<circle cx="61.2" cy="497.0" r="1.68" fill="#00007e" stroke="#111" stroke-width="0.35"/>
<circle cx="62.5" cy="500.3" r="1.68" fill="#00007e" stroke="#111" stroke-width="0.35"/>
<circle cx="64.5" cy="505.0" r="1.68" fill="#00007e" stroke="#111" stroke-width="0.35"/>
<circle cx="68.5" cy="485.7" r="1.68" fill="#00007e" stroke="#111" stroke-width="0.35"/>
<circle cx="64.5" cy="493.0" r="1.68" fill="#00007e" stroke="#111" stroke-width="0.35"/>
<circle cx="69.1" cy="504.3" r="1.68" fill="#00007e" stroke="#111" stroke-width="0.35"/>
<circle cx="72.5" cy="505.0" r="1.68" fill="#00007e" stroke="#111" stroke-width="0.35"/>
<circle cx="75.8" cy="508.9" r="1.68" fill="#00007e" stroke="#111" stroke-width="0.35"/>
<circle cx="70.5" cy="508.9" r="1.68" fill="#00007e" stroke="#111" stroke-width="0.35"/>
<circle cx="57.2" cy="506.3" r="1.68" fill="#00007e" stroke="#111" stroke-width="0.35"/>
<circle cx="59.9" cy="508.9" r="1.68" fill="#00007e" stroke="#111" stroke-width="0.35"/>
<circle cx="44.0" cy="509.6" r="1.68" fill="#00007e" stroke="#111" stroke-width="0.35"/>
<circle cx="41.3" cy="510.3" r="1.68" fill="#00007e" stroke="#111" stroke-width="0.35"/>
<circle cx="109.6" cy="472.5" r="1.68" fill="#00007e" stroke="#111" stroke-width="0.35"/>
<circle cx="107.6" cy="478.4" r="1.68" fill="#00007e" stroke="#111" stroke-width="0.35"/>
<circle cx="110.2" cy="478.4" r="1.68" fill="#00007e" stroke="#111" stroke-width="0.35"/>
<circle cx="108.2" cy="482.4" r="1.68" fill="#00007e" stroke="#111" stroke-width="0.35"/>
<circle cx="123.5" cy="475.8" r="1.68" fill="#00007e" stroke="#111" stroke-width="0.35"/>
<circle cx="120.8" cy="478.4" r="1.68" fill="#00007e" stroke="#111" stroke-width="0.35"/>
<circle cx="111.6" cy="485.1" r="1.68" fill="#00007e" stroke="#111" stroke-width="0.35"/>
<circle cx="114.2" cy="485.7" r="1.68" fill="#00007e" stroke="#111" stroke-width="0.35"/>
<circle cx="104.9" cy="493.0" r="1.68" fill="#00007e" stroke="#111" stroke-width="0.35"/>
<circle cx="108.2" cy="494.3" r="1.68" fill="#00007e" stroke="#111" stroke-width="0.35"/>
<circle cx="110.2" cy="497.0" r="1.68" fill="#00007e" stroke="#111" stroke-width="0.35"/>
<circle cx="107.6" cy="499.6" r="1.68" fill="#00007e" stroke="#111" stroke-width="0.35"/>
<circle cx="109.6" cy="501.6" r="1.68" fill="#00007e" stroke="#111" stroke-width="0.35"/>
<circle cx="114.9" cy="498.3" r="1.68" fill="#00007e" stroke="#111" stroke-width="0.35"/>
<circle cx="102.3" cy="499.6" r="1.68" fill="#00007e" stroke="#111" stroke-width="0.35"/>
<circle cx="99.0" cy="500.3" r="1.68" fill="#00007e" stroke="#111" stroke-width="0.35"/>
<circle cx="94.3" cy="498.3" r="1.68" fill="#00007e" stroke="#111" stroke-width="0.35"/>
<circle cx="94.3" cy="501.0" r="1.68" fill="#00007e" stroke="#111" stroke-width="0.35"/>
<circle cx="91.7" cy="502.3" r="1.68" fill="#00007e" stroke="#111" stroke-width="0.35"/>
<circle cx="86.4" cy="505.0" r="1.68" fill="#00007e" stroke="#111" stroke-width="0.35"/>
<circle cx="123.5" cy="489.0" r="1.68" fill="#00007e" stroke="#111" stroke-width="0.35"/>
<circle cx="119.5" cy="501.0" r="1.68" fill="#00007e" stroke="#111" stroke-width="0.35"/>
<circle cx="122.8" cy="503.6" r="1.68" fill="#00007e" stroke="#111" stroke-width="0.35"/>
<circle cx="108.9" cy="508.9" r="1.68" fill="#00007e" stroke="#111" stroke-width="0.35"/>
<circle cx="112.9" cy="509.6" r="1.68" fill="#00007e" stroke="#111" stroke-width="0.35"/>
<circle cx="106.3" cy="513.6" r="1.68" fill="#00007e" stroke="#111" stroke-width="0.35"/>
<circle cx="118.2" cy="509.6" r="1.68" fill="#00007e" stroke="#111" stroke-width="0.35"/>
<circle cx="129.0" cy="482.4" r="1.68" fill="#00007e" stroke="#111" stroke-width="0.35"/>
<circle cx="125.7" cy="485.1" r="1.68" fill="#00007e" stroke="#111" stroke-width="0.35"/>
<circle cx="130.3" cy="486.4" r="1.68" fill="#00007e" stroke="#111" stroke-width="0.35"/>
<circle cx="137.6" cy="479.1" r="1.68" fill="#00007e" stroke="#111" stroke-width="0.35"/>
<circle cx="138.3" cy="489.0" r="1.68" fill="#00007e" stroke="#111" stroke-width="0.35"/>
<circle cx="146.9" cy="494.3" r="1.68" fill="#00007e" stroke="#111" stroke-width="0.35"/>
<circle cx="146.2" cy="499.0" r="1.68" fill="#00007e" stroke="#111" stroke-width="0.35"/>
<circle cx="143.6" cy="501.0" r="1.68" fill="#00007e" stroke="#111" stroke-width="0.35"/>
<circle cx="137.6" cy="498.3" r="1.68" fill="#00007e" stroke="#111" stroke-width="0.35"/>
<circle cx="134.3" cy="499.6" r="1.68" fill="#00007e" stroke="#111" stroke-width="0.35"/>
<circle cx="127.7" cy="501.0" r="1.68" fill="#00007e" stroke="#111" stroke-width="0.35"/>
<circle cx="125.0" cy="500.3" r="1.68" fill="#00007e" stroke="#111" stroke-width="0.35"/>
<circle cx="144.2" cy="505.0" r="1.68" fill="#00007e" stroke="#111" stroke-width="0.35"/>
<circle cx="146.2" cy="508.9" r="1.68" fill="#00007e" stroke="#111" stroke-width="0.35"/>
<circle cx="132.3" cy="505.6" r="1.68" fill="#00007e" stroke="#111" stroke-width="0.35"/>
<circle cx="134.9" cy="506.9" r="1.68" fill="#00007e" stroke="#111" stroke-width="0.35"/>
<circle cx="140.9" cy="509.6" r="1.68" fill="#00007e" stroke="#111" stroke-width="0.35"/>
<circle cx="126.3" cy="512.2" r="1.68" fill="#00007e" stroke="#111" stroke-width="0.35"/>
<circle cx="143.6" cy="512.2" r="1.68" fill="#00007e" stroke="#111" stroke-width="0.35"/>
<circle cx="153.5" cy="487.7" r="1.68" fill="#00007e" stroke="#111" stroke-width="0.35"/>
<circle cx="156.2" cy="488.4" r="1.68" fill="#00007e" stroke="#111" stroke-width="0.35"/>
<circle cx="162.8" cy="484.4" r="1.68" fill="#00007e" stroke="#111" stroke-width="0.35"/>
<circle cx="157.5" cy="491.7" r="1.68" fill="#00007e" stroke="#111" stroke-width="0.35"/>
<circle cx="156.8" cy="495.7" r="1.68" fill="#00007e" stroke="#111" stroke-width="0.35"/>
<circle cx="156.8" cy="500.3" r="1.68" fill="#00007e" stroke="#111" stroke-width="0.35"/>
<circle cx="160.1" cy="495.7" r="1.68" fill="#00007e" stroke="#111" stroke-width="0.35"/>
<circle cx="163.4" cy="496.3" r="1.68" fill="#00007e" stroke="#111" stroke-width="0.35"/>
<circle cx="163.4" cy="500.3" r="1.68" fill="#00007e" stroke="#111" stroke-width="0.35"/>
<circle cx="156.8" cy="506.3" r="1.68" fill="#00007e" stroke="#111" stroke-width="0.35"/>
<circle cx="155.5" cy="511.6" r="1.68" fill="#00007e" stroke="#111" stroke-width="0.35"/>
<circle cx="164.8" cy="506.3" r="1.68" fill="#00007e" stroke="#111" stroke-width="0.35"/>
<circle cx="169.4" cy="503.6" r="1.68" fill="#00007e" stroke="#111" stroke-width="0.35"/>
<circle cx="178.7" cy="493.0" r="1.68" fill="#00007e" stroke="#111" stroke-width="0.35"/>
<circle cx="168.7" cy="508.9" r="1.68" fill="#00007e" stroke="#111" stroke-width="0.35"/>
<circle cx="171.4" cy="511.6" r="1.68" fill="#00007e" stroke="#111" stroke-width="0.35"/>
<circle cx="174.7" cy="506.3" r="1.68" fill="#00007e" stroke="#111" stroke-width="0.35"/>
<circle cx="177.4" cy="506.3" r="1.68" fill="#00007e" stroke="#111" stroke-width="0.35"/>
<circle cx="179.3" cy="509.6" r="1.68" fill="#00007e" stroke="#111" stroke-width="0.35"/>
<circle cx="180.7" cy="512.2" r="1.68" fill="#00007e" stroke="#111" stroke-width="0.35"/>
<circle cx="191.3" cy="494.3" r="1.68" fill="#00007e" stroke="#111" stroke-width="0.35"/>
<circle cx="191.9" cy="496.3" r="1.68" fill="#00007e" stroke="#111" stroke-width="0.35"/>
<circle cx="190.0" cy="499.0" r="1.68" fill="#00007e" stroke="#111" stroke-width="0.35"/>
<circle cx="187.3" cy="501.6" r="1.68" fill="#00007e" stroke="#111" stroke-width="0.35"/>
<circle cx="185.3" cy="505.0" r="1.68" fill="#00007e" stroke="#111" stroke-width="0.35"/>
<circle cx="188.6" cy="503.6" r="1.68" fill="#00007e" stroke="#111" stroke-width="0.35"/>
<circle cx="191.3" cy="502.3" r="1.68" fill="#00007e" stroke="#111" stroke-width="0.35"/>
<circle cx="193.9" cy="503.6" r="1.68" fill="#00007e" stroke="#111" stroke-width="0.35"/>
<circle cx="197.2" cy="501.6" r="1.68" fill="#00007e" stroke="#111" stroke-width="0.35"/>
<circle cx="199.2" cy="505.0" r="1.68" fill="#00007e" stroke="#111" stroke-width="0.35"/>
<circle cx="201.9" cy="505.0" r="1.68" fill="#00007e" stroke="#111" stroke-width="0.35"/>
<circle cx="204.5" cy="505.0" r="1.68" fill="#00007e" stroke="#111" stroke-width="0.35"/>
<circle cx="207.2" cy="505.6" r="1.68" fill="#00007e" stroke="#111" stroke-width="0.35"/>
<circle cx="191.3" cy="506.3" r="1.68" fill="#00007e" stroke="#111" stroke-width="0.35"/>
<circle cx="193.9" cy="507.6" r="1.68" fill="#00007e" stroke="#111" stroke-width="0.35"/>
<circle cx="196.6" cy="508.9" r="1.68" fill="#00007e" stroke="#111" stroke-width="0.35"/>
<circle cx="187.3" cy="509.6" r="1.68" fill="#00007e" stroke="#111" stroke-width="0.35"/>
<circle cx="184.7" cy="510.3" r="1.68" fill="#00007e" stroke="#111" stroke-width="0.35"/>
<circle cx="183.3" cy="512.9" r="1.68" fill="#00007e" stroke="#111" stroke-width="0.35"/>
<circle cx="191.3" cy="511.6" r="1.68" fill="#00007e" stroke="#111" stroke-width="0.35"/>
<circle cx="199.2" cy="510.3" r="1.68" fill="#00007e" stroke="#111" stroke-width="0.35"/>
<circle cx="201.9" cy="512.9" r="1.68" fill="#00007e" stroke="#111" stroke-width="0.35"/>
<circle cx="204.5" cy="514.2" r="1.68" fill="#00007e" stroke="#111" stroke-width="0.35"/>
<circle cx="206.5" cy="516.9" r="1.68" fill="#00007e" stroke="#111" stroke-width="0.35"/>
<circle cx="203.2" cy="518.2" r="1.68" fill="#00007e" stroke="#111" stroke-width="0.35"/>
<circle cx="200.6" cy="519.5" r="1.68" fill="#00007e" stroke="#111" stroke-width="0.35"/>
<circle cx="190.0" cy="514.2" r="1.68" fill="#00007e" stroke="#111" stroke-width="0.35"/>
<circle cx="196.6" cy="514.2" r="1.68" fill="#00007e" stroke="#111" stroke-width="0.35"/>
<circle cx="193.9" cy="516.2" r="1.68" fill="#00007e" stroke="#111" stroke-width="0.35"/>
<circle cx="117.0" cy="492.0" r="1.68" fill="#00007e" stroke="#111" stroke-width="0.35"/>
<circle cx="120.0" cy="496.0" r="1.68" fill="#00007e" stroke="#111" stroke-width="0.35"/>
<circle cx="100.0" cy="505.0" r="1.68" fill="#00007e" stroke="#111" stroke-width="0.35"/>
<circle cx="104.0" cy="508.0" r="1.68" fill="#00007e" stroke="#111" stroke-width="0.35"/>
<circle cx="113.0" cy="504.0" r="1.68" fill="#00007e" stroke="#111" stroke-width="0.35"/>
<circle cx="150.0" cy="503.0" r="1.68" fill="#00007e" stroke="#111" stroke-width="0.35"/>
<circle cx="152.0" cy="508.0" r="1.68" fill="#00007e" stroke="#111" stroke-width="0.35"/>
<circle cx="160.0" cy="510.0" r="1.68" fill="#00007e" stroke="#111" stroke-width="0.35"/>
<circle cx="175.0" cy="500.0" r="1.68" fill="#00007e" stroke="#111" stroke-width="0.35"/>
<circle cx="182.0" cy="505.0" r="1.68" fill="#00007e" stroke="#111" stroke-width="0.35"/>
<circle cx="66.0" cy="511.0" r="1.68" fill="#00007e" stroke="#111" stroke-width="0.35"/>
<circle cx="60.0" cy="513.0" r="1.68" fill="#00007e" stroke="#111" stroke-width="0.35"/>
<circle cx="52.0" cy="510.0" r="1.68" fill="#00007e" stroke="#111" stroke-width="0.35"/>
<circle cx="48.0" cy="505.0" r="1.68" fill="#00007e" stroke="#111" stroke-width="0.35"/>
<circle cx="98.0" cy="490.0" r="1.68" fill="#00007e" stroke="#111" stroke-width="0.35"/>
<circle cx="86.4" cy="477.8" r="1.68" fill="#87cefa" stroke="#111" stroke-width="0.35"/>
<circle cx="88.4" cy="479.8" r="1.68" fill="#87cefa" stroke="#111" stroke-width="0.35"/>
<circle cx="91.7" cy="479.1" r="1.68" fill="#87cefa" stroke="#111" stroke-width="0.35"/>
<circle cx="94.3" cy="480.4" r="1.68" fill="#87cefa" stroke="#111" stroke-width="0.35"/>
<circle cx="85.7" cy="483.7" r="1.68" fill="#87cefa" stroke="#111" stroke-width="0.35"/>
<circle cx="87.0" cy="485.1" r="1.68" fill="#87cefa" stroke="#111" stroke-width="0.35"/>
<circle cx="102.3" cy="478.4" r="1.68" fill="#87cefa" stroke="#111" stroke-width="0.35"/>
<circle cx="103.6" cy="481.8" r="1.68" fill="#87cefa" stroke="#111" stroke-width="0.35"/>
<circle cx="104.9" cy="483.7" r="1.68" fill="#87cefa" stroke="#111" stroke-width="0.35"/>
<circle cx="97.0" cy="485.1" r="1.68" fill="#87cefa" stroke="#111" stroke-width="0.35"/>
<circle cx="95.6" cy="487.1" r="1.68" fill="#87cefa" stroke="#111" stroke-width="0.35"/>
<circle cx="98.3" cy="487.1" r="1.68" fill="#87cefa" stroke="#111" stroke-width="0.35"/>
<circle cx="101.0" cy="486.4" r="1.68" fill="#87cefa" stroke="#111" stroke-width="0.35"/>
<circle cx="103.6" cy="485.7" r="1.68" fill="#87cefa" stroke="#111" stroke-width="0.35"/>
<circle cx="73.1" cy="485.7" r="1.68" fill="#87cefa" stroke="#111" stroke-width="0.35"/>
<circle cx="75.8" cy="487.1" r="1.68" fill="#87cefa" stroke="#111" stroke-width="0.35"/>
<circle cx="78.4" cy="486.4" r="1.68" fill="#87cefa" stroke="#111" stroke-width="0.35"/>
<circle cx="81.1" cy="487.1" r="1.68" fill="#87cefa" stroke="#111" stroke-width="0.35"/>
<circle cx="83.7" cy="487.7" r="1.68" fill="#87cefa" stroke="#111" stroke-width="0.35"/>
<circle cx="69.8" cy="487.7" r="1.68" fill="#87cefa" stroke="#111" stroke-width="0.35"/>
<circle cx="71.8" cy="489.7" r="1.68" fill="#87cefa" stroke="#111" stroke-width="0.35"/>
<circle cx="74.4" cy="490.4" r="1.68" fill="#87cefa" stroke="#111" stroke-width="0.35"/>
<circle cx="77.1" cy="491.0" r="1.68" fill="#87cefa" stroke="#111" stroke-width="0.35"/>
<circle cx="81.1" cy="489.7" r="1.68" fill="#87cefa" stroke="#111" stroke-width="0.35"/>
<circle cx="83.7" cy="490.4" r="1.68" fill="#87cefa" stroke="#111" stroke-width="0.35"/>
<circle cx="67.8" cy="493.0" r="1.68" fill="#87cefa" stroke="#111" stroke-width="0.35"/>
<circle cx="71.1" cy="493.7" r="1.68" fill="#87cefa" stroke="#111" stroke-width="0.35"/>
<circle cx="79.7" cy="493.0" r="1.68" fill="#87cefa" stroke="#111" stroke-width="0.35"/>
<circle cx="83.1" cy="493.7" r="1.68" fill="#87cefa" stroke="#111" stroke-width="0.35"/>
<circle cx="86.4" cy="493.0" r="1.68" fill="#87cefa" stroke="#111" stroke-width="0.35"/>
<circle cx="67.8" cy="496.3" r="1.68" fill="#87cefa" stroke="#111" stroke-width="0.35"/>
<circle cx="79.7" cy="495.7" r="1.68" fill="#87cefa" stroke="#111" stroke-width="0.35"/>
<circle cx="83.7" cy="497.0" r="1.68" fill="#87cefa" stroke="#111" stroke-width="0.35"/>
<circle cx="89.0" cy="495.7" r="1.68" fill="#87cefa" stroke="#111" stroke-width="0.35"/>
<circle cx="93.0" cy="493.0" r="1.68" fill="#87cefa" stroke="#111" stroke-width="0.35"/>
<circle cx="96.3" cy="492.4" r="1.68" fill="#87cefa" stroke="#111" stroke-width="0.35"/>
<circle cx="99.6" cy="495.7" r="1.68" fill="#87cefa" stroke="#111" stroke-width="0.35"/>
<circle cx="89.0" cy="499.6" r="1.68" fill="#87cefa" stroke="#111" stroke-width="0.35"/>
<circle cx="81.7" cy="503.6" r="1.68" fill="#87cefa" stroke="#111" stroke-width="0.35"/>
<circle cx="89.0" cy="505.0" r="1.68" fill="#87cefa" stroke="#111" stroke-width="0.35"/>
<circle cx="92.3" cy="508.3" r="1.68" fill="#87cefa" stroke="#111" stroke-width="0.35"/>
<circle cx="96.3" cy="509.6" r="1.68" fill="#87cefa" stroke="#111" stroke-width="0.35"/>
<circle cx="98.3" cy="513.6" r="1.68" fill="#87cefa" stroke="#111" stroke-width="0.35"/>
<circle cx="85.0" cy="512.2" r="1.68" fill="#87cefa" stroke="#111" stroke-width="0.35"/>
<circle cx="108.9" cy="489.0" r="1.68" fill="#87cefa" stroke="#111" stroke-width="0.35"/>
<circle cx="115.5" cy="480.4" r="1.68" fill="#87cefa" stroke="#111" stroke-width="0.35"/>
<circle cx="118.2" cy="479.1" r="1.68" fill="#87cefa" stroke="#111" stroke-width="0.35"/>
<circle cx="120.8" cy="477.8" r="1.68" fill="#87cefa" stroke="#111" stroke-width="0.35"/>
<circle cx="112.9" cy="479.8" r="1.68" fill="#87cefa" stroke="#111" stroke-width="0.35"/>
<circle cx="93.7" cy="485.1" r="1.68" fill="#87cefa" stroke="#111" stroke-width="0.35"/>
<circle cx="81.7" cy="466.5" r="1.68" fill="#87cefa" stroke="#111" stroke-width="0.35"/>
<circle cx="70.2" cy="473.1" r="1.68" fill="#87cefa" stroke="#111" stroke-width="0.35"/>
<circle cx="127.0" cy="479.8" r="1.68" fill="#87cefa" stroke="#111" stroke-width="0.35"/>
<circle cx="131.0" cy="477.8" r="1.68" fill="#87cefa" stroke="#111" stroke-width="0.35"/>
<circle cx="134.3" cy="479.1" r="1.68" fill="#87cefa" stroke="#111" stroke-width="0.35"/>
<circle cx="136.9" cy="481.1" r="1.68" fill="#87cefa" stroke="#111" stroke-width="0.35"/>
<circle cx="133.0" cy="482.4" r="1.68" fill="#87cefa" stroke="#111" stroke-width="0.35"/>
<circle cx="134.9" cy="484.4" r="1.68" fill="#87cefa" stroke="#111" stroke-width="0.35"/>
<circle cx="133.6" cy="486.4" r="1.68" fill="#87cefa" stroke="#111" stroke-width="0.35"/>
<circle cx="132.3" cy="490.4" r="1.68" fill="#87cefa" stroke="#111" stroke-width="0.35"/>
<circle cx="142.9" cy="476.5" r="1.68" fill="#87cefa" stroke="#111" stroke-width="0.35"/>
<circle cx="138.9" cy="494.3" r="1.68" fill="#87cefa" stroke="#111" stroke-width="0.35"/>
<circle cx="142.2" cy="499.0" r="1.68" fill="#87cefa" stroke="#111" stroke-width="0.35"/>
<circle cx="141.6" cy="500.3" r="1.68" fill="#87cefa" stroke="#111" stroke-width="0.35"/>
<circle cx="158.1" cy="482.4" r="1.68" fill="#87cefa" stroke="#111" stroke-width="0.35"/>
<circle cx="158.1" cy="485.7" r="1.68" fill="#87cefa" stroke="#111" stroke-width="0.35"/>
<circle cx="162.8" cy="487.1" r="1.68" fill="#87cefa" stroke="#111" stroke-width="0.35"/>
<circle cx="163.4" cy="490.1" r="1.68" fill="#87cefa" stroke="#111" stroke-width="0.35"/>
<circle cx="160.1" cy="492.4" r="1.68" fill="#87cefa" stroke="#111" stroke-width="0.35"/>
<circle cx="160.8" cy="493.7" r="1.68" fill="#87cefa" stroke="#111" stroke-width="0.35"/>
<circle cx="124.0" cy="480.0" r="1.68" fill="#87cefa" stroke="#111" stroke-width="0.35"/>
<circle cx="109.0" cy="480.0" r="1.68" fill="#87cefa" stroke="#111" stroke-width="0.35"/>
<circle cx="106.0" cy="486.0" r="1.68" fill="#87cefa" stroke="#111" stroke-width="0.35"/>
<circle cx="90.0" cy="489.0" r="1.68" fill="#87cefa" stroke="#111" stroke-width="0.35"/>
<circle cx="77.0" cy="484.0" r="1.68" fill="#87cefa" stroke="#111" stroke-width="0.35"/>
<circle cx="75.0" cy="495.0" r="1.68" fill="#87cefa" stroke="#111" stroke-width="0.35"/>
<circle cx="73.0" cy="499.0" r="1.68" fill="#87cefa" stroke="#111" stroke-width="0.35"/>
<circle cx="87.0" cy="482.0" r="1.68" fill="#87cefa" stroke="#111" stroke-width="0.35"/>
<circle cx="82.1" cy="455.9" r="1.68" fill="#ffa500" stroke="#111" stroke-width="0.35"/>
<circle cx="79.1" cy="457.9" r="1.68" fill="#ffa500" stroke="#111" stroke-width="0.35"/>
<circle cx="75.5" cy="463.9" r="1.68" fill="#ffa500" stroke="#111" stroke-width="0.35"/>
<circle cx="78.2" cy="463.9" r="1.68" fill="#ffa500" stroke="#111" stroke-width="0.35"/>
<circle cx="79.1" cy="467.8" r="1.68" fill="#ffa500" stroke="#111" stroke-width="0.35"/>
<circle cx="76.4" cy="465.8" r="1.68" fill="#ffa500" stroke="#111" stroke-width="0.35"/>
<circle cx="75.8" cy="467.2" r="1.68" fill="#22dd22" stroke="#111" stroke-width="0.35"/>
<circle cx="76.4" cy="474.7" r="1.68" fill="#22dd22" stroke="#111" stroke-width="0.35"/>
<circle cx="77.8" cy="475.5" r="1.68" fill="#22dd22" stroke="#111" stroke-width="0.35"/>
<path d="M84.7,433.0 L86.7,435.1 L84.7,437.2 L82.7,435.1 Z" fill="#7d26cd" stroke="#333" stroke-width="0.3"/>
<text x="67.7" y="431.1" font-size="7.6" fill="#222" textLength="32.6" lengthAdjust="spacingAndGlyphs">rs1126464</text>
<text x="169.7" y="433.7" font-size="7.6" fill="#222" textLength="39.5" lengthAdjust="spacingAndGlyphs">PNLIP pQTL</text>
<text x="112.8" y="446.6" font-size="7.6" fill="#222">PP H<tspan font-size="5.2" dy="1.8">4</tspan><tspan dy="-1.8"> = 1.00</tspan></text>
<rect x="39.4" y="432.00" width="5.2" height="8.1" fill="#ff0000"/>
<rect x="39.4" y="440.06" width="5.2" height="8.1" fill="#ffa500"/>
<rect x="39.4" y="448.12" width="5.2" height="8.1" fill="#22dd22"/>
<rect x="39.4" y="456.18" width="5.2" height="8.1" fill="#87cefa"/>
<rect x="39.4" y="464.24" width="5.2" height="8.1" fill="#000080"/>
<path d="M44.6,440.0 L46.6,440.0" stroke="#333" stroke-width="0.5"/>
<text x="47.6" y="442.4" font-size="7.0" fill="#222">0.8</text>
<path d="M44.6,448.1 L46.6,448.1" stroke="#333" stroke-width="0.5"/>
<text x="47.6" y="450.5" font-size="7.0" fill="#222">0.6</text>
<path d="M44.6,456.1 L46.6,456.1" stroke="#333" stroke-width="0.5"/>
<text x="47.6" y="458.5" font-size="7.0" fill="#222">0.4</text>
<path d="M44.6,464.2 L46.6,464.2" stroke="#333" stroke-width="0.5"/>
<text x="47.6" y="466.6" font-size="7.0" fill="#222">0.2</text>
<text x="47.2" y="430.3" font-size="7.4" fill="#222">r<tspan font-size="5" dy="-3">2</tspan></text>
<rect x="37.2" y="530.6" width="177.8" height="83.39999999999998" fill="none" stroke="#b4b4b4" stroke-width="1.3"/>
<path d="M68.6,533.9 L73.8,533.9" stroke="#1d2a80" stroke-width="0.6"/>
<path d="M74.4,533.9 L72.2,532.8 L72.2,535.0 Z" fill="#1d2a80"/>
<text x="54.1" y="536.2" font-size="6.4" fill="#1e1e1e" font-style="italic" textLength="14.2" lengthAdjust="spacingAndGlyphs" stroke="#1e1e1e" stroke-width="0.12">RPL13</text>
<rect x="64.5" y="538.0" width="2.0" height="1.5" fill="#1c1c9c"/>
<path d="M100.4,533.9 L105.6,533.9" stroke="#1d2a80" stroke-width="0.6"/>
<path d="M106.2,533.9 L104.0,532.8 L104.0,535.0 Z" fill="#1d2a80"/>
<text x="77.4" y="536.2" font-size="6.4" fill="#1e1e1e" font-style="italic" textLength="22.7" lengthAdjust="spacingAndGlyphs" stroke="#1e1e1e" stroke-width="0.12">SPATA33</text>
<rect x="90.3" y="538.0" width="3.0" height="1.5" fill="#1c1c9c"/>
<path d="M110.0,533.9 L115.2,533.9" stroke="#1d2a80" stroke-width="0.6"/>
<path d="M109.4,533.9 L111.6,532.8 L111.6,535.0 Z" fill="#1d2a80"/>
<text x="115.5" y="536.2" font-size="6.4" fill="#1e1e1e" font-style="italic" textLength="17.0" lengthAdjust="spacingAndGlyphs" stroke="#1e1e1e" stroke-width="0.12">FANCA</text>
<rect x="111.0" y="538.0" width="19.7" height="1.5" fill="#1c1c9c"/>
<path d="M157.8,533.9 L163.0,533.9" stroke="#1d2a80" stroke-width="0.6"/>
<path d="M163.6,533.9 L161.4,532.8 L161.4,535.0 Z" fill="#1d2a80"/>
<text x="141.9" y="536.2" font-size="6.4" fill="#1e1e1e" font-style="italic" textLength="15.6" lengthAdjust="spacingAndGlyphs" stroke="#1e1e1e" stroke-width="0.12">TCF25</text>
<rect x="147.8" y="538.0" width="9.2" height="1.5" fill="#1c1c9c"/>
<path d="M169.6,533.9 L174.8,533.9" stroke="#1d2a80" stroke-width="0.6"/>
<path d="M169.0,533.9 L171.2,532.8 L171.2,535.0 Z" fill="#1d2a80"/>
<text x="175.1" y="536.2" font-size="6.4" fill="#1e1e1e" font-style="italic" textLength="20.1" lengthAdjust="spacingAndGlyphs" stroke="#1e1e1e" stroke-width="0.12">DBNDD1</text>
<rect x="171.3" y="538.0" width="3.0" height="1.5" fill="#1c1c9c"/>
<path d="M78.1,544.1 L83.3,544.1" stroke="#1d2a80" stroke-width="0.6"/>
<path d="M83.9,544.1 L81.7,543.0 L81.7,545.2 Z" fill="#1d2a80"/>
<text x="61.4" y="546.4" font-size="6.4" fill="#1e1e1e" font-style="italic" textLength="16.4" lengthAdjust="spacingAndGlyphs" stroke="#1e1e1e" stroke-width="0.12">CPNE7</text>
<rect x="67.6" y="548.2" width="6.6" height="1.5" fill="#1c1c9c"/>
<path d="M105.8,544.1 L111.0,544.1" stroke="#1d2a80" stroke-width="0.6"/>
<path d="M111.6,544.1 L109.4,543.0 L109.4,545.2 Z" fill="#1d2a80"/>
<text x="89.1" y="546.4" font-size="6.4" fill="#1e1e1e" font-style="italic" textLength="16.4" lengthAdjust="spacingAndGlyphs" stroke="#1e1e1e" stroke-width="0.12">CDK10</text>
<rect x="97.7" y="548.2" width="3.0" height="1.5" fill="#1c1c9c"/>
<path d="M146.9,544.1 L152.1,544.1" stroke="#1d2a80" stroke-width="0.6"/>
<path d="M152.7,544.1 L150.5,543.0 L150.5,545.2 Z" fill="#1d2a80"/>
<text x="129.5" y="546.4" font-size="6.4" fill="#1e1e1e" font-style="italic" textLength="17.1" lengthAdjust="spacingAndGlyphs" stroke="#1e1e1e" stroke-width="0.12">SPIRE2</text>
<rect x="134.7" y="548.2" width="10.5" height="1.5" fill="#1c1c9c"/>
<path d="M173.2,544.1 L178.4,544.1" stroke="#1d2a80" stroke-width="0.6"/>
<path d="M179.0,544.1 L176.8,543.0 L176.8,545.2 Z" fill="#1d2a80"/>
<text x="159.7" y="546.4" font-size="6.4" fill="#1e1e1e" font-style="italic" textLength="13.2" lengthAdjust="spacingAndGlyphs" stroke="#1e1e1e" stroke-width="0.12">DEF8</text>
<rect x="165.0" y="548.2" width="3.9" height="1.5" fill="#1c1c9c"/>
<path d="M185.0,544.1 L190.2,544.1" stroke="#1d2a80" stroke-width="0.6"/>
<path d="M184.4,544.1 L186.6,543.0 L186.6,545.2 Z" fill="#1d2a80"/>
<text x="190.5" y="546.4" font-size="6.4" fill="#1e1e1e" font-style="italic" textLength="17.8" lengthAdjust="spacingAndGlyphs" stroke="#1e1e1e" stroke-width="0.12">PRDM7</text>
<rect x="192.6" y="548.2" width="3.4" height="1.5" fill="#1c1c9c"/>
<path d="M62.5,554.7 L67.7,554.7" stroke="#1d2a80" stroke-width="0.6"/>
<path d="M68.3,554.7 L66.1,553.6 L66.1,555.8 Z" fill="#1d2a80"/>
<text x="49.0" y="557.0" font-size="6.4" fill="#1e1e1e" font-style="italic" textLength="13.2" lengthAdjust="spacingAndGlyphs" stroke="#1e1e1e" stroke-width="0.12">SPG7</text>
<rect x="50.5" y="558.8" width="13.1" height="1.5" fill="#1c1c9c"/>
<path d="M87.6,554.7 L92.8,554.7" stroke="#1d2a80" stroke-width="0.6"/>
<path d="M93.4,554.7 L91.2,553.6 L91.2,555.8 Z" fill="#1d2a80"/>
<text x="71.9" y="557.0" font-size="6.4" fill="#1e1e1e" font-style="italic" textLength="15.4" lengthAdjust="spacingAndGlyphs" stroke="#1e1e1e" stroke-width="0.12">DPEP1</text>
<rect x="78.0" y="558.8" width="6.7" height="1.5" fill="#1c1c9c"/>
<path d="M117.1,554.7 L122.3,554.7" stroke="#1d2a80" stroke-width="0.6"/>
<path d="M122.9,554.7 L120.7,553.6 L120.7,555.8 Z" fill="#1d2a80"/>
<text x="97.9" y="557.0" font-size="6.4" fill="#1e1e1e" font-style="italic" textLength="18.9" lengthAdjust="spacingAndGlyphs" stroke="#1e1e1e" stroke-width="0.12">ZNF276</text>
<rect x="105.7" y="558.8" width="5.3" height="1.5" fill="#1c1c9c"/>
<path d="M163.0,554.7 L168.2,554.7" stroke="#1d2a80" stroke-width="0.6"/>
<path d="M168.8,554.7 L166.6,553.6 L166.6,555.8 Z" fill="#1d2a80"/>
<text x="149.2" y="557.0" font-size="6.4" fill="#1e1e1e" font-style="italic" textLength="13.5" lengthAdjust="spacingAndGlyphs" stroke="#1e1e1e" stroke-width="0.12">MC1R</text>
<rect x="157.6" y="558.8" width="1.6" height="1.5" fill="#1c1c9c"/>
<path d="M192.9,554.7 L198.1,554.7" stroke="#1d2a80" stroke-width="0.6"/>
<path d="M198.7,554.7 L196.5,553.6 L196.5,555.8 Z" fill="#1d2a80"/>
<text x="179.1" y="557.0" font-size="6.4" fill="#1e1e1e" font-style="italic" textLength="13.5" lengthAdjust="spacingAndGlyphs" stroke="#1e1e1e" stroke-width="0.12">GAS8</text>
<rect x="186.0" y="558.8" width="5.3" height="1.5" fill="#1c1c9c"/>
<path d="M73.7,565.2 L78.9,565.2" stroke="#1d2a80" stroke-width="0.6"/>
<path d="M79.5,565.2 L77.3,564.1 L77.3,566.3 Z" fill="#1d2a80"/>
<text x="48.2" y="567.5" font-size="6.4" fill="#1e1e1e" font-style="italic" textLength="25.2" lengthAdjust="spacingAndGlyphs" stroke="#1e1e1e" stroke-width="0.12">SNORD68</text>
<rect x="63.4" y="569.3" width="2.0" height="1.5" fill="#1c1c9c"/>
<path d="M88.1,565.2 L93.3,565.2" stroke="#1d2a80" stroke-width="0.6"/>
<path d="M87.5,565.2 L89.7,564.1 L89.7,566.3 Z" fill="#1d2a80"/>
<text x="93.6" y="567.5" font-size="6.4" fill="#1e1e1e" font-style="italic" textLength="21.1" lengthAdjust="spacingAndGlyphs" stroke="#1e1e1e" stroke-width="0.12">SPATA2L</text>
<rect x="99.5" y="569.3" width="2.0" height="1.5" fill="#1c1c9c"/>
<path d="M166.6,565.2 L171.8,565.2" stroke="#1d2a80" stroke-width="0.6"/>
<path d="M172.4,565.2 L170.2,564.1 L170.2,566.3 Z" fill="#1d2a80"/>
<text x="151.4" y="567.5" font-size="6.4" fill="#1e1e1e" font-style="italic" textLength="14.9" lengthAdjust="spacingAndGlyphs" stroke="#1e1e1e" stroke-width="0.12">TUBB3</text>
<rect x="158.4" y="569.3" width="3.9" height="1.5" fill="#1c1c9c"/>
<path d="M179.1,565.2 L184.3,565.2" stroke="#1d2a80" stroke-width="0.6"/>
<path d="M178.5,565.2 L180.7,564.1 L180.7,566.3 Z" fill="#1d2a80"/>
<text x="184.6" y="567.5" font-size="6.4" fill="#1e1e1e" font-style="italic" textLength="17.2" lengthAdjust="spacingAndGlyphs" stroke="#1e1e1e" stroke-width="0.12">URAHP</text>
<rect x="187.1" y="569.3" width="3.0" height="1.5" fill="#1c1c9c"/>
<path d="M75.5,575.5 L80.7,575.5" stroke="#1d2a80" stroke-width="0.6"/>
<path d="M74.9,575.5 L77.1,574.4 L77.1,576.6 Z" fill="#1d2a80"/>
<text x="81.0" y="577.8" font-size="6.4" fill="#1e1e1e" font-style="italic" textLength="20.5" lengthAdjust="spacingAndGlyphs" stroke="#1e1e1e" stroke-width="0.12">CHMP1A</text>
<rect x="86.0" y="579.6" width="4.0" height="1.5" fill="#1c1c9c"/>
<path d="M178.3,575.5 L183.5,575.5" stroke="#1d2a80" stroke-width="0.6"/>
<path d="M184.1,575.5 L181.9,574.4 L181.9,576.6 Z" fill="#1d2a80"/>
<text x="152.4" y="577.8" font-size="6.4" fill="#1e1e1e" font-style="italic" textLength="25.6" lengthAdjust="spacingAndGlyphs" stroke="#1e1e1e" stroke-width="0.12">SNORA119</text>
<rect x="166.0" y="579.6" width="2.0" height="1.5" fill="#1c1c9c"/>
<path d="M209.7,575.5 L214.9,575.5" stroke="#1d2a80" stroke-width="0.6"/>
<path d="M215.5,575.5 L213.3,574.4 L213.3,576.6 Z" fill="#1d2a80"/>
<text x="186.0" y="577.8" font-size="6.4" fill="#1e1e1e" font-style="italic" textLength="23.4" lengthAdjust="spacingAndGlyphs" stroke="#1e1e1e" stroke-width="0.12">FAM157C</text>
<rect x="205.7" y="579.6" width="8.8" height="1.5" fill="#1c1c9c"/>
<path d="M92.8,586.0 L98.0,586.0" stroke="#1d2a80" stroke-width="0.6"/>
<path d="M92.2,586.0 L94.4,584.9 L94.4,587.1 Z" fill="#1d2a80"/>
<text x="98.3" y="588.3" font-size="6.4" fill="#1e1e1e" font-style="italic" textLength="18.6" lengthAdjust="spacingAndGlyphs" stroke="#1e1e1e" stroke-width="0.12">VPS9D1</text>
<rect x="103.1" y="590.1" width="3.4" height="1.5" fill="#1c1c9c"/>
<path d="M157.7,586.0 L162.9,586.0" stroke="#1d2a80" stroke-width="0.6"/>
<path d="M157.1,586.0 L159.3,584.9 L159.3,587.1 Z" fill="#1d2a80"/>
<text x="163.2" y="588.3" font-size="6.4" fill="#1e1e1e" font-style="italic" textLength="25.4" lengthAdjust="spacingAndGlyphs" stroke="#1e1e1e" stroke-width="0.12">CENPBD1P</text>
<rect x="170.4" y="590.1" width="2.2" height="1.5" fill="#1c1c9c"/>
<path d="M117.9,596.2 L123.1,596.2" stroke="#1d2a80" stroke-width="0.6"/>
<path d="M123.7,596.2 L121.5,595.1 L121.5,597.3 Z" fill="#1d2a80"/>
<text x="88.1" y="598.5" font-size="6.4" fill="#1e1e1e" font-style="italic" textLength="29.5" lengthAdjust="spacingAndGlyphs" stroke="#1e1e1e" stroke-width="0.12">VPS9D1-AS1</text>
<rect x="104.3" y="600.3" width="1.5" height="1.5" fill="#1c1c9c"/>
<path d="M184.6,596.2 L189.8,596.2" stroke="#1d2a80" stroke-width="0.6"/>
<path d="M190.4,596.2 L188.2,595.1 L188.2,597.3 Z" fill="#1d2a80"/>
<text x="163.5" y="598.5" font-size="6.4" fill="#1e1e1e" font-style="italic" textLength="20.8" lengthAdjust="spacingAndGlyphs" stroke="#1e1e1e" stroke-width="0.12">AFG3L1P</text>
<rect x="165.0" y="600.3" width="5.2" height="1.5" fill="#1c1c9c"/>
<path d="M171.8,606.3 L177.0,606.3" stroke="#1d2a80" stroke-width="0.6"/>
<path d="M171.2,606.3 L173.4,605.2 L173.4,607.4 Z" fill="#1d2a80"/>
<text x="177.3" y="608.6" font-size="6.4" fill="#1e1e1e" font-style="italic" textLength="25.9" lengthAdjust="spacingAndGlyphs" stroke="#1e1e1e" stroke-width="0.12">GAS8-AS1</text>
<rect x="185.4" y="610.4" width="2.2" height="1.5" fill="#1c1c9c"/>
<path d="M74.7,614 L74.7,617" stroke="#888" stroke-width="0.7"/>
<text x="74.7" y="625.2" font-size="8.4" fill="#222" text-anchor="middle">89.6</text>
<path d="M127.2,614 L127.2,617" stroke="#888" stroke-width="0.7"/>
<text x="127.2" y="625.2" font-size="8.4" fill="#222" text-anchor="middle">89.8</text>
<path d="M178.9,614 L178.9,617" stroke="#888" stroke-width="0.7"/>
<text x="178.9" y="625.2" font-size="8.4" fill="#222" text-anchor="middle">90</text>
<text x="119.4" y="639.0" font-size="9.0" fill="#222" text-anchor="middle" textLength="131.9" lengthAdjust="spacingAndGlyphs">Position on chromosome 16 (Mb)</text>
<path d="M104,310.5 C120,288 142,265 135,243 C131,234 126,229 120.5,227" fill="none" stroke="#a9a9a9" stroke-width="2.3"/>
<path d="M124,224.8 L118,225.8 L121.8,231" fill="none" stroke="#a9a9a9" stroke-width="2.3"/>
<path d="M100.4,326.3 C118,345 133,370 132,392 C131,412 122,426 107,433" fill="none" stroke="#a9a9a9" stroke-width="2.3"/>
<path d="M108.6,428.6 L103.8,433.7 L110.2,435.8" fill="none" stroke="#a9a9a9" stroke-width="2.3"/>
<text x="272" y="196.4" font-size="10.5" font-weight="bold" fill="#000">d</text>
<path d="M409.8,206.8 Q402.9,286.6 392.4,366.1" fill="none" stroke="#c4c4c4" stroke-width="0.55" stroke-dasharray="1.8,1.5"/>
<path d="M473.4,225.0 Q442.5,319.4 398.4,408.4" fill="none" stroke="#bcbcbc" stroke-width="0.55"/>
<path d="M473.4,225.0 Q464.6,306.5 443.5,385.7" fill="none" stroke="#c4c4c4" stroke-width="0.55" stroke-dasharray="1.8,1.5"/>
<path d="M588.2,220.4 Q590.5,267.9 587.0,315.4" fill="none" stroke="#c4c4c4" stroke-width="0.55" stroke-dasharray="1.8,1.5"/>
<path d="M363.6,245.0 Q374.2,306.4 392.4,366.1" fill="none" stroke="#c4c4c4" stroke-width="0.55" stroke-dasharray="1.8,1.5"/>
<path d="M363.6,245.0 Q412.7,348.3 449.2,456.6" fill="none" stroke="#bcbcbc" stroke-width="0.55"/>
<path d="M363.6,245.0 Q405.5,314.2 443.5,385.7" fill="none" stroke="#c4c4c4" stroke-width="0.55" stroke-dasharray="1.8,1.5"/>
<path d="M524.0,269.8 Q494.4,287.7 466.4,308.2" fill="none" stroke="#bcbcbc" stroke-width="0.55"/>
<path d="M524.0,269.8 Q460.9,297.8 398.4,327.0" fill="none" stroke="#c4c4c4" stroke-width="0.55" stroke-dasharray="1.8,1.5"/>
<path d="M524.0,269.8 Q477.8,345.4 448.4,429.0" fill="none" stroke="#c4c4c4" stroke-width="0.55" stroke-dasharray="1.8,1.5"/>
<path d="M524.0,269.8 Q555.6,292.5 587.0,315.4" fill="none" stroke="#c4c4c4" stroke-width="0.55" stroke-dasharray="1.8,1.5"/>
<path d="M524.0,269.8 Q581.1,288.5 637.5,309.3" fill="none" stroke="#c4c4c4" stroke-width="0.55" stroke-dasharray="1.8,1.5"/>
<path d="M325.6,288.4 Q359.2,313.0 398.4,327.0" fill="none" stroke="#bcbcbc" stroke-width="0.55"/>
<path d="M325.6,288.4 Q366.1,345.9 398.4,408.4" fill="none" stroke="#c4c4c4" stroke-width="0.55" stroke-dasharray="1.8,1.5"/>
<path d="M325.6,288.4 Q355.3,330.4 392.4,366.1" fill="none" stroke="#c4c4c4" stroke-width="0.55" stroke-dasharray="1.8,1.5"/>
<path d="M325.6,288.4 Q386.0,335.3 443.5,385.7" fill="none" stroke="#c4c4c4" stroke-width="0.55" stroke-dasharray="1.8,1.5"/>
<path d="M466.4,308.2 Q525.9,325.8 587.0,315.4" fill="none" stroke="#bcbcbc" stroke-width="0.55"/>
<path d="M466.4,308.2 Q432.0,316.1 398.4,327.0" fill="none" stroke="#bcbcbc" stroke-width="0.55"/>
<path d="M466.4,308.2 Q448.3,325.6 427.6,339.8" fill="none" stroke="#bcbcbc" stroke-width="0.55"/>
<path d="M466.4,308.2 Q453.5,346.5 443.5,385.7" fill="none" stroke="#bcbcbc" stroke-width="0.55"/>
<path d="M466.4,308.2 Q452.3,367.8 448.4,429.0" fill="none" stroke="#bcbcbc" stroke-width="0.55"/>
<path d="M466.4,308.2 Q460.7,382.8 449.2,456.6" fill="none" stroke="#bcbcbc" stroke-width="0.55"/>
<path d="M466.4,308.2 Q427.0,354.6 398.4,408.4" fill="none" stroke="#c4c4c4" stroke-width="0.55" stroke-dasharray="1.8,1.5"/>
<path d="M289.7,332.3 Q344.2,332.7 398.4,327.0" fill="none" stroke="#bcbcbc" stroke-width="0.55"/>
<path d="M289.7,332.3 Q358.4,340.6 427.6,339.8" fill="none" stroke="#c4c4c4" stroke-width="0.55" stroke-dasharray="1.8,1.5"/>
<path d="M289.7,332.3 Q341.2,348.8 392.4,366.1" fill="none" stroke="#c4c4c4" stroke-width="0.55" stroke-dasharray="1.8,1.5"/>
<path d="M289.7,332.3 Q344.9,369.1 398.4,408.4" fill="none" stroke="#c4c4c4" stroke-width="0.55" stroke-dasharray="1.8,1.5"/>
<path d="M521.4,343.7 Q459.4,338.8 398.4,327.0" fill="none" stroke="#bcbcbc" stroke-width="0.55"/>
<path d="M521.4,343.7 Q474.2,347.3 427.6,339.8" fill="none" stroke="#bcbcbc" stroke-width="0.55"/>
<path d="M521.4,343.7 Q462.2,380.4 398.4,408.4" fill="none" stroke="#bcbcbc" stroke-width="0.55"/>
<path d="M521.4,343.7 Q478.7,395.9 449.2,456.6" fill="none" stroke="#c4c4c4" stroke-width="0.55" stroke-dasharray="1.8,1.5"/>
<path d="M521.4,343.7 Q581.2,371.5 641.3,398.2" fill="none" stroke="#c4c4c4" stroke-width="0.55" stroke-dasharray="1.8,1.5"/>
<path d="M521.4,343.7 Q571.3,382.6 620.4,422.4" fill="none" stroke="#c4c4c4" stroke-width="0.55" stroke-dasharray="1.8,1.5"/>
<path d="M521.4,343.7 Q573.6,356.9 627.3,360.0" fill="none" stroke="#c4c4c4" stroke-width="0.55" stroke-dasharray="1.8,1.5"/>
<path d="M521.4,343.7 Q579.9,328.0 637.5,309.3" fill="none" stroke="#c4c4c4" stroke-width="0.55" stroke-dasharray="1.8,1.5"/>
<path d="M331.7,370.8 Q367.6,352.7 398.4,327.0" fill="none" stroke="#bcbcbc" stroke-width="0.55"/>
<path d="M331.7,370.8 Q379.1,353.6 427.6,339.8" fill="none" stroke="#c4c4c4" stroke-width="0.55" stroke-dasharray="1.8,1.5"/>
<path d="M331.7,370.8 Q361.9,366.4 392.4,366.1" fill="none" stroke="#c4c4c4" stroke-width="0.55" stroke-dasharray="1.8,1.5"/>
<path d="M331.7,370.8 Q386.8,383.9 443.5,385.7" fill="none" stroke="#bcbcbc" stroke-width="0.55"/>
<path d="M331.7,370.8 Q366.6,386.9 398.4,408.4" fill="none" stroke="#bcbcbc" stroke-width="0.55"/>
<path d="M331.7,370.8 Q388.0,404.0 448.4,429.0" fill="none" stroke="#c4c4c4" stroke-width="0.55" stroke-dasharray="1.8,1.5"/>
<path d="M331.7,370.8 Q389.5,415.1 449.2,456.6" fill="none" stroke="#bcbcbc" stroke-width="0.55"/>
<path d="M513.1,396.8 Q459.8,355.3 398.4,327.0" fill="none" stroke="#bcbcbc" stroke-width="0.55"/>
<path d="M513.1,396.8 Q473.4,363.7 427.6,339.8" fill="none" stroke="#bcbcbc" stroke-width="0.55"/>
<path d="M513.1,396.8 Q577.0,355.4 637.5,309.3" fill="none" stroke="#bcbcbc" stroke-width="0.55"/>
<path d="M513.1,396.8 Q577.3,390.4 641.3,398.2" fill="none" stroke="#c4c4c4" stroke-width="0.55" stroke-dasharray="1.8,1.5"/>
<path d="M513.1,396.8 Q568.2,403.5 620.4,422.4" fill="none" stroke="#c4c4c4" stroke-width="0.55" stroke-dasharray="1.8,1.5"/>
<path d="M513.1,396.8 Q570.1,378.0 627.3,360.0" fill="none" stroke="#c4c4c4" stroke-width="0.55" stroke-dasharray="1.8,1.5"/>
<path d="M513.1,396.8 Q455.3,398.2 398.4,408.4" fill="none" stroke="#bcbcbc" stroke-width="0.55"/>
<path d="M513.1,396.8 Q484.2,429.9 449.2,456.6" fill="none" stroke="#bcbcbc" stroke-width="0.55"/>
<path d="M317.8,409.8 Q354.7,387.3 392.4,366.1" fill="none" stroke="#bcbcbc" stroke-width="0.55"/>
<path d="M317.8,409.8 Q379.5,391.5 443.5,385.7" fill="none" stroke="#c4c4c4" stroke-width="0.55" stroke-dasharray="1.8,1.5"/>
<path d="M317.8,409.8 Q358.1,407.2 398.4,408.4" fill="none" stroke="#bcbcbc" stroke-width="0.55"/>
<path d="M317.8,409.8 Q386.3,425.4 449.2,456.6" fill="none" stroke="#c4c4c4" stroke-width="0.55" stroke-dasharray="1.8,1.5"/>
<path d="M317.8,409.8 Q383.5,416.7 448.4,429.0" fill="none" stroke="#c4c4c4" stroke-width="0.55" stroke-dasharray="1.8,1.5"/>
<path d="M526.3,431.1 Q462.6,378.7 398.4,327.0" fill="none" stroke="#bcbcbc" stroke-width="0.55"/>
<path d="M526.3,431.1 Q473.6,389.0 427.6,339.8" fill="none" stroke="#bcbcbc" stroke-width="0.55"/>
<path d="M526.3,431.1 Q463.1,415.3 398.4,408.4" fill="none" stroke="#bcbcbc" stroke-width="0.55"/>
<path d="M526.3,431.1 Q489.1,448.0 449.2,456.6" fill="none" stroke="#c4c4c4" stroke-width="0.55" stroke-dasharray="1.8,1.5"/>
<path d="M526.3,431.1 Q487.3,432.7 448.4,429.0" fill="none" stroke="#c4c4c4" stroke-width="0.55" stroke-dasharray="1.8,1.5"/>
<path d="M526.3,431.1 Q553.3,371.5 587.0,315.4" fill="none" stroke="#c4c4c4" stroke-width="0.55" stroke-dasharray="1.8,1.5"/>
<path d="M526.3,431.1 Q583.4,413.4 641.3,398.2" fill="none" stroke="#c4c4c4" stroke-width="0.55" stroke-dasharray="1.8,1.5"/>
<path d="M526.3,431.1 Q573.6,429.7 620.4,422.4" fill="none" stroke="#c4c4c4" stroke-width="0.55" stroke-dasharray="1.8,1.5"/>
<path d="M337.4,444.3 Q365.8,384.6 398.4,327.0" fill="none" stroke="#bcbcbc" stroke-width="0.55"/>
<path d="M337.4,444.3 Q384.9,394.1 427.6,339.8" fill="none" stroke="#c4c4c4" stroke-width="0.55" stroke-dasharray="1.8,1.5"/>
<path d="M337.4,444.3 Q369.7,429.4 398.4,408.4" fill="none" stroke="#bcbcbc" stroke-width="0.55"/>
<path d="M337.4,444.3 Q392.2,431.7 448.4,429.0" fill="none" stroke="#bcbcbc" stroke-width="0.55"/>
<path d="M337.4,444.3 Q392.8,455.4 449.2,456.6" fill="none" stroke="#bcbcbc" stroke-width="0.55"/>
<path d="M337.4,444.3 Q391.2,416.3 443.5,385.7" fill="none" stroke="#c4c4c4" stroke-width="0.55" stroke-dasharray="1.8,1.5"/>
<path d="M381.3,462.3 Q415.4,461.5 449.2,456.6" fill="none" stroke="#bcbcbc" stroke-width="0.55"/>
<path d="M381.3,462.3 Q415.3,446.5 448.4,429.0" fill="none" stroke="#bcbcbc" stroke-width="0.55"/>
<path d="M381.3,462.3 Q411.6,423.3 443.5,385.7" fill="none" stroke="#bcbcbc" stroke-width="0.55"/>
<path d="M381.3,462.3 Q382.2,413.6 392.4,366.1" fill="none" stroke="#bcbcbc" stroke-width="0.55"/>
<path d="M381.3,462.3 Q384.1,393.9 398.4,327.0" fill="none" stroke="#bcbcbc" stroke-width="0.55"/>
<path d="M360.3,511.5 Q397.0,445.3 443.5,385.7" fill="none" stroke="#bcbcbc" stroke-width="0.55"/>
<path d="M360.3,511.5 Q387.3,423.0 427.6,339.8" fill="none" stroke="#bcbcbc" stroke-width="0.55"/>
<path d="M360.3,511.5 Q402.4,480.3 449.2,456.6" fill="none" stroke="#c4c4c4" stroke-width="0.55" stroke-dasharray="1.8,1.5"/>
<path d="M360.3,511.5 Q401.5,467.2 448.4,429.0" fill="none" stroke="#c4c4c4" stroke-width="0.55" stroke-dasharray="1.8,1.5"/>
<path d="M431.4,527.4 Q413.1,446.4 392.4,366.1" fill="none" stroke="#bcbcbc" stroke-width="0.55"/>
<path d="M431.4,527.4 Q442.6,492.6 449.2,456.6" fill="none" stroke="#c4c4c4" stroke-width="0.55" stroke-dasharray="1.8,1.5"/>
<path d="M431.4,527.4 Q443.4,478.8 448.4,429.0" fill="none" stroke="#c4c4c4" stroke-width="0.55" stroke-dasharray="1.8,1.5"/>
<path d="M431.4,527.4 Q443.3,457.1 443.5,385.7" fill="none" stroke="#c4c4c4" stroke-width="0.55" stroke-dasharray="1.8,1.5"/>
<path d="M490.7,557.2 Q479.0,490.0 448.4,429.0" fill="none" stroke="#bcbcbc" stroke-width="0.55"/>
<path d="M555.1,535.2 Q505.2,491.8 449.2,456.6" fill="none" stroke="#c4c4c4" stroke-width="0.55" stroke-dasharray="1.8,1.5"/>
<path d="M637.6,486.5 Q626.6,455.1 620.4,422.4" fill="none" stroke="#c4c4c4" stroke-width="0.55" stroke-dasharray="1.8,1.5"/>
<path d="M637.6,486.5 Q634.9,442.2 641.3,398.2" fill="none" stroke="#c4c4c4" stroke-width="0.55" stroke-dasharray="1.8,1.5"/>
<path d="M541.5,374.6 Q468.7,354.5 398.4,327.0" fill="none" stroke="#bcbcbc" stroke-width="0.55"/>
<path d="M541.5,374.6 Q484.9,356.0 427.6,339.8" fill="none" stroke="#bcbcbc" stroke-width="0.55"/>
<path d="M541.5,374.6 Q561.1,342.5 587.0,315.4" fill="none" stroke="#bcbcbc" stroke-width="0.55"/>
<path d="M541.5,374.6 Q587.3,338.7 637.5,309.3" fill="none" stroke="#bcbcbc" stroke-width="0.55"/>
<path d="M541.5,374.6 Q466.8,372.2 392.4,366.1" fill="none" stroke="#bcbcbc" stroke-width="0.55"/>
<path d="M541.5,374.6 Q492.1,376.4 443.5,385.7" fill="none" stroke="#bcbcbc" stroke-width="0.55"/>
<path d="M541.5,374.6 Q584.2,366.3 627.3,360.0" fill="none" stroke="#bcbcbc" stroke-width="0.55"/>
<path d="M541.5,374.6 Q470.3,393.0 398.4,408.4" fill="none" stroke="#bcbcbc" stroke-width="0.55"/>
<path d="M541.5,374.6 Q495.8,403.3 448.4,429.0" fill="none" stroke="#bcbcbc" stroke-width="0.55"/>
<path d="M541.5,374.6 Q592.6,381.6 641.3,398.2" fill="none" stroke="#bcbcbc" stroke-width="0.55"/>
<path d="M541.5,374.6 Q491.6,411.4 449.2,456.6" fill="none" stroke="#bcbcbc" stroke-width="0.55"/>
<path d="M541.5,374.6 Q578.5,402.5 620.4,422.4" fill="none" stroke="#bcbcbc" stroke-width="0.55"/>
<path d="M398.4,327.0 Q412.6,334.2 427.6,339.8" fill="none" stroke="#bcbcbc" stroke-width="0.55"/>
<path d="M398.4,327.0 Q395.9,346.6 392.4,366.1" fill="none" stroke="#bcbcbc" stroke-width="0.55"/>
<path d="M398.4,327.0 Q421.3,356.1 443.5,385.7" fill="none" stroke="#bcbcbc" stroke-width="0.55"/>
<path d="M398.4,327.0 Q400.2,367.7 398.4,408.4" fill="none" stroke="#bcbcbc" stroke-width="0.55"/>
<path d="M398.4,327.0 Q421.5,379.0 448.4,429.0" fill="none" stroke="#bcbcbc" stroke-width="0.55"/>
<path d="M398.4,327.0 Q421.4,392.8 449.2,456.6" fill="none" stroke="#bcbcbc" stroke-width="0.55"/>
<path d="M427.6,339.8 Q410.6,353.7 392.4,366.1" fill="none" stroke="#bcbcbc" stroke-width="0.55"/>
<path d="M427.6,339.8 Q433.5,363.4 443.5,385.7" fill="none" stroke="#bcbcbc" stroke-width="0.55"/>
<path d="M427.6,339.8 Q411.2,373.3 398.4,408.4" fill="none" stroke="#bcbcbc" stroke-width="0.55"/>
<path d="M427.6,339.8 Q441.0,383.7 448.4,429.0" fill="none" stroke="#bcbcbc" stroke-width="0.55"/>
<path d="M427.6,339.8 Q434.1,399.0 449.2,456.6" fill="none" stroke="#bcbcbc" stroke-width="0.55"/>
<path d="M392.4,366.1 Q417.5,376.9 443.5,385.7" fill="none" stroke="#bcbcbc" stroke-width="0.55"/>
<path d="M392.4,366.1 Q396.7,387.0 398.4,408.4" fill="none" stroke="#bcbcbc" stroke-width="0.55"/>
<path d="M392.4,366.1 Q421.9,396.2 448.4,429.0" fill="none" stroke="#bcbcbc" stroke-width="0.55"/>
<path d="M392.4,366.1 Q418.1,413.1 449.2,456.6" fill="none" stroke="#bcbcbc" stroke-width="0.55"/>
<path d="M443.5,385.7 Q422.1,399.3 398.4,408.4" fill="none" stroke="#bcbcbc" stroke-width="0.55"/>
<path d="M443.5,385.7 Q446.3,407.3 448.4,429.0" fill="none" stroke="#bcbcbc" stroke-width="0.55"/>
<path d="M443.5,385.7 Q442.4,421.5 449.2,456.6" fill="none" stroke="#bcbcbc" stroke-width="0.55"/>
<path d="M398.4,408.4 Q424.0,417.2 448.4,429.0" fill="none" stroke="#bcbcbc" stroke-width="0.55"/>
<path d="M398.4,408.4 Q423.8,432.5 449.2,456.6" fill="none" stroke="#bcbcbc" stroke-width="0.55"/>
<path d="M448.4,429.0 Q447.5,442.9 449.2,456.6" fill="none" stroke="#bcbcbc" stroke-width="0.55"/>
<path d="M587.0,315.4 Q612.6,314.6 637.5,309.3" fill="none" stroke="#bcbcbc" stroke-width="0.55"/>
<path d="M587.0,315.4 Q605.7,339.1 627.3,360.0" fill="none" stroke="#bcbcbc" stroke-width="0.55"/>
<path d="M587.0,315.4 Q613.9,357.0 641.3,398.2" fill="none" stroke="#bcbcbc" stroke-width="0.55"/>
<path d="M587.0,315.4 Q598.2,370.6 620.4,422.4" fill="none" stroke="#bcbcbc" stroke-width="0.55"/>
<path d="M637.5,309.3 Q633.9,334.9 627.3,360.0" fill="none" stroke="#bcbcbc" stroke-width="0.55"/>
<path d="M637.5,309.3 Q635.4,353.9 641.3,398.2" fill="none" stroke="#bcbcbc" stroke-width="0.55"/>
<path d="M637.5,309.3 Q630.2,366.0 620.4,422.4" fill="none" stroke="#bcbcbc" stroke-width="0.55"/>
<path d="M627.3,360.0 Q633.6,379.4 641.3,398.2" fill="none" stroke="#bcbcbc" stroke-width="0.55"/>
<path d="M627.3,360.0 Q623.0,391.1 620.4,422.4" fill="none" stroke="#bcbcbc" stroke-width="0.55"/>
<path d="M641.3,398.2 Q631.5,410.9 620.4,422.4" fill="none" stroke="#bcbcbc" stroke-width="0.55"/>
<path d="M392.4,366.1 Q510.0,368.1 627.3,360.0" fill="none" stroke="#c4c4c4" stroke-width="0.55" stroke-dasharray="1.8,1.5"/>
<path d="M392.4,366.1 Q516.5,385.3 641.3,398.2" fill="none" stroke="#c4c4c4" stroke-width="0.55" stroke-dasharray="1.8,1.5"/>
<path d="M392.4,366.1 Q503.1,407.6 620.4,422.4" fill="none" stroke="#c4c4c4" stroke-width="0.55" stroke-dasharray="1.8,1.5"/>
<path d="M398.4,408.4 Q513.8,388.8 627.3,360.0" fill="none" stroke="#c4c4c4" stroke-width="0.55" stroke-dasharray="1.8,1.5"/>
<path d="M398.4,408.4 Q519.8,401.6 641.3,398.2" fill="none" stroke="#c4c4c4" stroke-width="0.55" stroke-dasharray="1.8,1.5"/>
<path d="M398.4,408.4 Q509.6,412.2 620.4,422.4" fill="none" stroke="#c4c4c4" stroke-width="0.55" stroke-dasharray="1.8,1.5"/>
<path d="M427.6,339.8 Q531.7,378.9 641.3,398.2" fill="none" stroke="#c4c4c4" stroke-width="0.55" stroke-dasharray="1.8,1.5"/>
<path d="M427.6,339.8 Q525.5,377.5 620.4,422.4" fill="none" stroke="#c4c4c4" stroke-width="0.55" stroke-dasharray="1.8,1.5"/>
<path d="M443.5,385.7 Q535.9,376.5 627.3,360.0" fill="none" stroke="#c4c4c4" stroke-width="0.55" stroke-dasharray="1.8,1.5"/>
<path d="M448.4,429.0 Q534.6,429.7 620.4,422.4" fill="none" stroke="#c4c4c4" stroke-width="0.55" stroke-dasharray="1.8,1.5"/>
<rect x="355.3" y="321.7" width="86.2" height="10.7" fill="#fff" stroke="#5a5a5a" stroke-width="0.8"/>
<text x="398.4" y="329.8" font-size="7.6" fill="#2b8dd8" text-anchor="middle" textLength="79.2" lengthAdjust="spacingAndGlyphs">Cysteinylglycine disulfide</text>
<rect x="409.6" y="334.5" width="35.9" height="10.5" fill="#fff" stroke="#5a5a5a" stroke-width="0.8"/>
<text x="427.6" y="342.4" font-size="7.6" fill="#2b8dd8" text-anchor="middle" textLength="28.9" lengthAdjust="spacingAndGlyphs">Picolinate</text>
<rect x="558.6" y="310.2" width="56.9" height="10.3" fill="#fff" stroke="#5a5a5a" stroke-width="0.8"/>
<text x="587.0" y="317.9" font-size="7.6" fill="#2b8dd8" text-anchor="middle" textLength="49.9" lengthAdjust="spacingAndGlyphs">Cysteinylglycine</text>
<rect x="618.4" y="304.2" width="38.3" height="10.2" fill="#fff" stroke="#5a5a5a" stroke-width="0.8"/>
<text x="637.5" y="311.8" font-size="7.6" fill="#e5262f" text-anchor="middle" textLength="31.3" lengthAdjust="spacingAndGlyphs">X-25244</text>
<rect x="362.4" y="360.8" width="60.0" height="10.5" fill="#fff" stroke="#5a5a5a" stroke-width="0.8"/>
<text x="392.4" y="368.7" font-size="7.6" fill="#e5262f" text-anchor="middle" textLength="53.0" lengthAdjust="spacingAndGlyphs">Picolinoylglycine</text>
<rect x="419.6" y="380.6" width="47.8" height="10.2" fill="#fff" stroke="#5a5a5a" stroke-width="0.8"/>
<text x="443.5" y="388.2" font-size="7.6" fill="#2b8dd8" text-anchor="middle" textLength="40.8" lengthAdjust="spacingAndGlyphs">Prolylglycine</text>
<rect x="527.5" y="369.3" width="28.0" height="10.7" fill="#b9b9b9" stroke="#5a5a5a" stroke-width="0.8"/>
<text x="541.5" y="377.4" font-size="7.0" fill="#333" text-anchor="middle" textLength="19.0" lengthAdjust="spacingAndGlyphs">DPEP1</text>
<rect x="598.3" y="354.8" width="58.1" height="10.4" fill="#fff" stroke="#5a5a5a" stroke-width="0.8"/>
<text x="627.3" y="362.6" font-size="7.6" fill="#e5262f" text-anchor="middle" textLength="51.1" lengthAdjust="spacingAndGlyphs">Cysteinylglycine</text>
<rect x="380.4" y="403.4" width="36.0" height="9.9" fill="#fff" stroke="#5a5a5a" stroke-width="0.8"/>
<text x="398.4" y="410.7" font-size="7.6" fill="#e5262f" text-anchor="middle" textLength="29.0" lengthAdjust="spacingAndGlyphs">Picolinate</text>
<rect x="417.3" y="423.8" width="62.2" height="10.4" fill="#fff" stroke="#5a5a5a" stroke-width="0.8"/>
<text x="448.4" y="431.6" font-size="7.6" fill="#2b8dd8" text-anchor="middle" textLength="55.2" lengthAdjust="spacingAndGlyphs"><tspan font-style="italic">N</tspan>-lactoyl-leucine</text>
<rect x="598.3" y="393.1" width="86.1" height="10.3" fill="#fff" stroke="#5a5a5a" stroke-width="0.8"/>
<text x="641.3" y="400.8" font-size="7.6" fill="#e5262f" text-anchor="middle" textLength="79.1" lengthAdjust="spacingAndGlyphs">Cysteinylglycine disulfide</text>
<rect x="417.3" y="451.5" width="63.9" height="10.3" fill="#fff" stroke="#5a5a5a" stroke-width="0.8"/>
<text x="449.2" y="459.2" font-size="7.6" fill="#2b8dd8" text-anchor="middle" textLength="56.9" lengthAdjust="spacingAndGlyphs"><tspan font-style="italic">N</tspan>-lactoyl-tyrosine</text>
<rect x="578.2" y="417.4" width="84.4" height="10.0" fill="#fff" stroke="#5a5a5a" stroke-width="0.8"/>
<text x="620.4" y="424.8" font-size="7.6" fill="#e5262f" text-anchor="middle" textLength="77.4" lengthAdjust="spacingAndGlyphs">Cysteinylglycine, oxidized</text>
<circle cx="409.8" cy="206.8" r="5.3" fill="#fdd97e" stroke="#3a3a3a" stroke-width="0.6"/>
<text x="394.9" y="199.3" font-size="7.4" fill="#222" textLength="29.8" lengthAdjust="spacingAndGlyphs">eGFRcrea</text>
<circle cx="473.4" cy="225.0" r="5.3" fill="#d33549" stroke="#3a3a3a" stroke-width="0.6"/>
<text x="443.1" y="217.6" font-size="7.4" fill="#222" textLength="60.8" lengthAdjust="spacingAndGlyphs">Osteoarthrosis NOS</text>
<circle cx="588.2" cy="220.4" r="5.3" fill="#8fd18b" stroke="#3a3a3a" stroke-width="0.6"/>
<text x="575.2" y="212.7" font-size="7.4" fill="#222" textLength="26.1" lengthAdjust="spacingAndGlyphs">Albumin</text>
<circle cx="363.6" cy="245.0" r="5.3" fill="#f8884d" stroke="#3a3a3a" stroke-width="0.6"/>
<text x="314.9" y="236.5" font-size="7.4" fill="#222" textLength="82.4" lengthAdjust="spacingAndGlyphs">Blood pressure medication</text>
<circle cx="524.0" cy="269.8" r="5.3" fill="#f8884d" stroke="#3a3a3a" stroke-width="0.6"/>
<text x="479.9" y="261.7" font-size="7.4" fill="#222" textLength="88.1" lengthAdjust="spacingAndGlyphs">Cardiometabolic medication</text>
<circle cx="325.6" cy="288.4" r="5.3" fill="#f8884d" stroke="#3a3a3a" stroke-width="0.6"/>
<text x="303.7" y="279.6" font-size="7.4" fill="#222" textLength="35.3" lengthAdjust="spacingAndGlyphs">Amlodipine</text>
<circle cx="466.4" cy="308.2" r="5.3" fill="#f8884d" stroke="#3a3a3a" stroke-width="0.6"/>
<text x="434.0" y="300.6" font-size="7.4" fill="#222" textLength="64.0" lengthAdjust="spacingAndGlyphs">Bendroflumethiazide</text>
<circle cx="289.7" cy="332.3" r="5.3" fill="#f8884d" stroke="#3a3a3a" stroke-width="0.6"/>
<text x="272.6" y="324.4" font-size="7.4" fill="#222" textLength="33.2" lengthAdjust="spacingAndGlyphs">Felodipine</text>
<circle cx="521.4" cy="343.7" r="5.3" fill="#8fd18b" stroke="#3a3a3a" stroke-width="0.6"/>
<text x="486.9" y="335.6" font-size="7.4" fill="#222" textLength="66.2" lengthAdjust="spacingAndGlyphs">Alkaline phosphatase</text>
<circle cx="331.7" cy="370.8" r="5.3" fill="#f8884d" stroke="#3a3a3a" stroke-width="0.6"/>
<text x="294.0" y="362.6" font-size="7.4" fill="#222" textLength="62.7" lengthAdjust="spacingAndGlyphs">High blood pressure</text>
<circle cx="513.1" cy="396.8" r="5.3" fill="#d33549" stroke="#3a3a3a" stroke-width="0.6"/>
<text x="481.6" y="410.5" font-size="7.4" fill="#222" textLength="60.5" lengthAdjust="spacingAndGlyphs">Other arthropathies</text>
<circle cx="317.8" cy="409.8" r="5.3" fill="#f8884d" stroke="#3a3a3a" stroke-width="0.6"/>
<text x="275.3" y="401.9" font-size="7.4" fill="#222" textLength="76.7" lengthAdjust="spacingAndGlyphs">Vascular/heart problems</text>
<circle cx="526.3" cy="431.1" r="5.3" fill="#d33549" stroke="#3a3a3a" stroke-width="0.6"/>
<text x="496.2" y="444.6" font-size="7.4" fill="#222" textLength="53.0" lengthAdjust="spacingAndGlyphs">Arthropathy NOS</text>
<circle cx="337.4" cy="444.3" r="5.3" fill="#f8884d" stroke="#3a3a3a" stroke-width="0.6"/>
<text x="289.6" y="435.7" font-size="7.4" fill="#222" textLength="82.9" lengthAdjust="spacingAndGlyphs">Blood pressure medication</text>
<circle cx="381.3" cy="462.3" r="5.3" fill="#f8884d" stroke="#3a3a3a" stroke-width="0.6"/>
<text x="327.8" y="475.7" font-size="7.4" fill="#222" textLength="85.2" lengthAdjust="spacingAndGlyphs">Father: high blood pressure</text>
<circle cx="360.3" cy="511.5" r="5.3" fill="#fdd97e" stroke="#3a3a3a" stroke-width="0.6"/>
<text x="344.5" y="524.4" font-size="7.4" fill="#222" textLength="31.7" lengthAdjust="spacingAndGlyphs">Creatinine</text>
<circle cx="431.4" cy="527.4" r="5.3" fill="#d33549" stroke="#3a3a3a" stroke-width="0.6"/>
<text x="416.5" y="540.1" font-size="7.4" fill="#222" textLength="30.2" lengthAdjust="spacingAndGlyphs">Knee pain</text>
<circle cx="490.7" cy="557.2" r="5.3" fill="#2f7fc1" stroke="#3a3a3a" stroke-width="0.6"/>
<text x="473.7" y="571.2" font-size="7.4" fill="#222" textLength="31.0" lengthAdjust="spacingAndGlyphs">Femoston</text>
<circle cx="555.1" cy="535.2" r="5.3" fill="#2f7fc1" stroke="#3a3a3a" stroke-width="0.6"/>
<text x="512.5" y="548.3" font-size="7.4" fill="#222" textLength="84.7" lengthAdjust="spacingAndGlyphs">Other demyel. CNS disease</text>
<circle cx="637.6" cy="486.5" r="5.3" fill="#2f7fc1" stroke="#3a3a3a" stroke-width="0.6"/>
<text x="613.2" y="500.4" font-size="7.4" fill="#222" textLength="50.0" lengthAdjust="spacingAndGlyphs">Previous drinker</text>
<path d="M287.6,561 L297.6,561" stroke="#333" stroke-width="0.75"/>
<path d="M287.6,567.5 L297.6,567.5" stroke="#333" stroke-width="0.75" stroke-dasharray="2.6,2.4"/>
<text x="300.8" y="562.8" font-size="7.4" fill="#222" textLength="98.1" lengthAdjust="spacingAndGlyphs">Positive association, PP H<tspan font-size="5" dy="1.5">4</tspan><tspan dy="-1.5"> &gt; 0.8</tspan></text>
<text x="300.8" y="569.3" font-size="7.4" fill="#222" textLength="96.3" lengthAdjust="spacingAndGlyphs">Inverse association, PP H<tspan font-size="5" dy="1.5">4</tspan><tspan dy="-1.5"> &gt; 0.8</tspan></text>
<circle cx="292.9" cy="578.6" r="2.3" fill="#d33549" stroke="#3a3a3a" stroke-width="0.5"/>
<text x="300.8" y="580.5" font-size="7.4" fill="#222" textLength="61.3" lengthAdjust="spacingAndGlyphs">Bone and joint traits</text>
<circle cx="292.9" cy="585.7" r="2.3" fill="#f8884d" stroke="#3a3a3a" stroke-width="0.5"/>
<text x="300.8" y="587.6" font-size="7.4" fill="#222" textLength="63.4" lengthAdjust="spacingAndGlyphs">Cardiovascular traits</text>
<circle cx="292.9" cy="592.7" r="2.3" fill="#fdd97e" stroke="#3a3a3a" stroke-width="0.5"/>
<text x="300.8" y="594.6" font-size="7.4" fill="#222" textLength="74.9" lengthAdjust="spacingAndGlyphs">Kidney function markers</text>
<circle cx="292.9" cy="599.8" r="2.3" fill="#8fd18b" stroke="#3a3a3a" stroke-width="0.5"/>
<text x="300.8" y="601.7" font-size="7.4" fill="#222" textLength="54.3" lengthAdjust="spacingAndGlyphs">Other biomarkers</text>
<circle cx="292.9" cy="606.9" r="2.3" fill="#2f7fc1" stroke="#3a3a3a" stroke-width="0.5"/>
<text x="300.8" y="608.8" font-size="7.4" fill="#222" textLength="35.0" lengthAdjust="spacingAndGlyphs">Other traits</text>
<rect x="290.4" y="616.6" width="4.2" height="4.2" fill="#b0b0b0" stroke="#777" stroke-width="0.5"/>
<text x="300.8" y="620.5" font-size="7.4" fill="#222" textLength="80.2" lengthAdjust="spacingAndGlyphs">Gene (link through mQTL)</text>
<rect x="290.4" y="623.4" width="4.2" height="4.2" fill="#fff" stroke="#777" stroke-width="0.5"/>
<text x="300.8" y="627.3" font-size="7.4" fill="#e5262f" textLength="73.5" lengthAdjust="spacingAndGlyphs">Plasma metabolite level</text>
<rect x="290.4" y="630.2" width="4.2" height="4.2" fill="#fff" stroke="#777" stroke-width="0.5"/>
<text x="300.8" y="634.1" font-size="7.4" fill="#2b8dd8" textLength="67.9" lengthAdjust="spacingAndGlyphs">Urine metabolite level</text>
</svg></div>
</body></html>
